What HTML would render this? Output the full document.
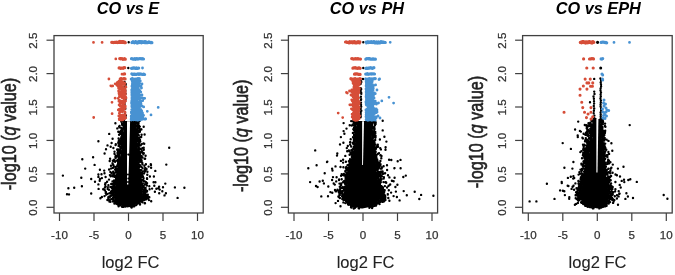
<!DOCTYPE html>
<html><head><meta charset="utf-8"><style>
html,body{margin:0;padding:0;background:#fff;width:675px;height:275px;overflow:hidden}
svg{display:block;filter:blur(0.5px)}
.tk{font-family:"Liberation Sans",sans-serif;font-size:11.6px;fill:#333;stroke:#333;stroke-width:0.25px}
.lb{font-family:"Liberation Sans",sans-serif;font-size:16.5px;fill:#222;stroke:#222;stroke-width:0.1px}
.yl{font-size:16.2px;stroke-width:0.5px}
.tt{font-family:"Liberation Sans",sans-serif;font-size:16.3px;font-weight:bold;font-style:italic;fill:#000}
</style></head><body>
<svg width="675" height="275" viewBox="0 0 675 275">
<rect width="675" height="275" fill="#fff"/>
<path d="M124.0,121.0 L122.8,140.0 L119.5,160.0 L118.0,170.0 L116.5,180.0 L115.0,188.0 L114.0,195.0 L114.5,200.0 L118.1,204.0 L123.5,206.5 L127.5,207.6 L127.5,207.6 L131.5,206.5 L136.5,204.0 L141.5,200.0 L143.0,195.0 L142.0,188.0 L140.0,180.0 L139.0,170.0 L138.5,160.0 L137.5,140.0 L136.5,121.0Z" fill="#000"/>
<path d="M356.5,121.0 L355.5,140.0 L353.0,155.0 L350.5,165.0 L348.5,175.0 L347.0,185.0 L342.5,195.0 L346.5,200.0 L351.5,205.0 L356.5,207.3 L361.5,208.4 L362.5,208.4 L368.5,207.3 L375.0,205.0 L379.5,200.0 L382.5,195.0 L378.5,185.0 L377.0,175.0 L376.0,165.0 L374.0,155.0 L372.0,140.0 L371.5,121.0Z" fill="#000"/>
<path d="M595.5,119.0 L594.0,134.0 L590.5,145.0 L588.0,160.0 L586.5,170.0 L582.5,185.0 L579.0,195.0 L581.0,200.0 L587.0,205.0 L592.5,207.5 L597.5,208.6 L597.0,208.6 L601.5,207.5 L604.5,205.0 L608.5,200.0 L609.5,195.0 L607.0,185.0 L604.0,170.0 L603.0,160.0 L602.5,145.0 L601.5,134.0 L600.5,119.0Z" fill="#000"/>
<path fill="#000" d="M127.5 42.3a1.20 1.20 0 1 0 2.40 0a1.20 1.20 0 1 0 -2.40 0M127.1 68.0a1.20 1.20 0 1 0 2.40 0a1.20 1.20 0 1 0 -2.40 0M123.3 82.0a1.20 1.20 0 1 0 2.40 0a1.20 1.20 0 1 0 -2.40 0M123.3 84.2a1.20 1.20 0 1 0 2.40 0a1.20 1.20 0 1 0 -2.40 0M124.5 84.0a1.20 1.20 0 1 0 2.40 0a1.20 1.20 0 1 0 -2.40 0M123.8 85.2a1.20 1.20 0 1 0 2.40 0a1.20 1.20 0 1 0 -2.40 0M124.5 84.8a1.20 1.20 0 1 0 2.40 0a1.20 1.20 0 1 0 -2.40 0M123.3 86.9a1.20 1.20 0 1 0 2.40 0a1.20 1.20 0 1 0 -2.40 0M123.2 88.2a1.20 1.20 0 1 0 2.40 0a1.20 1.20 0 1 0 -2.40 0M124.1 90.7a1.20 1.20 0 1 0 2.40 0a1.20 1.20 0 1 0 -2.40 0M123.3 93.3a1.20 1.20 0 1 0 2.40 0a1.20 1.20 0 1 0 -2.40 0M123.2 93.7a1.20 1.20 0 1 0 2.40 0a1.20 1.20 0 1 0 -2.40 0M124.3 93.7a1.20 1.20 0 1 0 2.40 0a1.20 1.20 0 1 0 -2.40 0M124.3 99.2a1.20 1.20 0 1 0 2.40 0a1.20 1.20 0 1 0 -2.40 0M123.3 101.9a1.20 1.20 0 1 0 2.40 0a1.20 1.20 0 1 0 -2.40 0M123.3 103.0a1.20 1.20 0 1 0 2.40 0a1.20 1.20 0 1 0 -2.40 0M123.6 105.3a1.20 1.20 0 1 0 2.40 0a1.20 1.20 0 1 0 -2.40 0M123.6 107.4a1.20 1.20 0 1 0 2.40 0a1.20 1.20 0 1 0 -2.40 0M123.8 109.1a1.20 1.20 0 1 0 2.40 0a1.20 1.20 0 1 0 -2.40 0M124.1 108.8a1.20 1.20 0 1 0 2.40 0a1.20 1.20 0 1 0 -2.40 0M123.8 112.7a1.20 1.20 0 1 0 2.40 0a1.20 1.20 0 1 0 -2.40 0M124.7 115.4a1.20 1.20 0 1 0 2.40 0a1.20 1.20 0 1 0 -2.40 0M123.7 116.8a1.20 1.20 0 1 0 2.40 0a1.20 1.20 0 1 0 -2.40 0M123.5 118.3a1.20 1.20 0 1 0 2.40 0a1.20 1.20 0 1 0 -2.40 0M124.4 117.7a1.20 1.20 0 1 0 2.40 0a1.20 1.20 0 1 0 -2.40 0M123.1 119.4a1.20 1.20 0 1 0 2.40 0a1.20 1.20 0 1 0 -2.40 0M138.6 120.7a1.20 1.20 0 1 0 2.40 0a1.20 1.20 0 1 0 -2.40 0M121.0 121.1a1.20 1.20 0 1 0 2.40 0a1.20 1.20 0 1 0 -2.40 0M122.6 120.6a1.20 1.20 0 1 0 2.40 0a1.20 1.20 0 1 0 -2.40 0M120.3 120.9a1.20 1.20 0 1 0 2.40 0a1.20 1.20 0 1 0 -2.40 0M135.9 121.1a1.20 1.20 0 1 0 2.40 0a1.20 1.20 0 1 0 -2.40 0M136.3 121.5a1.20 1.20 0 1 0 2.40 0a1.20 1.20 0 1 0 -2.40 0M137.6 121.7a1.20 1.20 0 1 0 2.40 0a1.20 1.20 0 1 0 -2.40 0M122.9 121.8a1.20 1.20 0 1 0 2.40 0a1.20 1.20 0 1 0 -2.40 0M120.0 121.5a1.20 1.20 0 1 0 2.40 0a1.20 1.20 0 1 0 -2.40 0M136.4 122.1a1.20 1.20 0 1 0 2.40 0a1.20 1.20 0 1 0 -2.40 0M135.7 121.7a1.20 1.20 0 1 0 2.40 0a1.20 1.20 0 1 0 -2.40 0M122.8 123.3a1.20 1.20 0 1 0 2.40 0a1.20 1.20 0 1 0 -2.40 0M122.6 122.7a1.20 1.20 0 1 0 2.40 0a1.20 1.20 0 1 0 -2.40 0M136.6 122.6a1.20 1.20 0 1 0 2.40 0a1.20 1.20 0 1 0 -2.40 0M137.4 123.1a1.20 1.20 0 1 0 2.40 0a1.20 1.20 0 1 0 -2.40 0M122.2 124.5a1.20 1.20 0 1 0 2.40 0a1.20 1.20 0 1 0 -2.40 0M120.9 123.8a1.20 1.20 0 1 0 2.40 0a1.20 1.20 0 1 0 -2.40 0M137.2 123.8a1.20 1.20 0 1 0 2.40 0a1.20 1.20 0 1 0 -2.40 0M135.6 123.5a1.20 1.20 0 1 0 2.40 0a1.20 1.20 0 1 0 -2.40 0M120.9 124.8a1.20 1.20 0 1 0 2.40 0a1.20 1.20 0 1 0 -2.40 0M136.7 125.0a1.20 1.20 0 1 0 2.40 0a1.20 1.20 0 1 0 -2.40 0M122.3 124.8a1.20 1.20 0 1 0 2.40 0a1.20 1.20 0 1 0 -2.40 0M121.7 125.4a1.20 1.20 0 1 0 2.40 0a1.20 1.20 0 1 0 -2.40 0M122.6 125.4a1.20 1.20 0 1 0 2.40 0a1.20 1.20 0 1 0 -2.40 0M136.7 125.0a1.20 1.20 0 1 0 2.40 0a1.20 1.20 0 1 0 -2.40 0M137.3 125.0a1.20 1.20 0 1 0 2.40 0a1.20 1.20 0 1 0 -2.40 0M122.3 125.6a1.20 1.20 0 1 0 2.40 0a1.20 1.20 0 1 0 -2.40 0M118.4 125.9a1.20 1.20 0 1 0 2.40 0a1.20 1.20 0 1 0 -2.40 0M135.7 126.0a1.20 1.20 0 1 0 2.40 0a1.20 1.20 0 1 0 -2.40 0M136.0 126.2a1.20 1.20 0 1 0 2.40 0a1.20 1.20 0 1 0 -2.40 0M138.4 126.8a1.20 1.20 0 1 0 2.40 0a1.20 1.20 0 1 0 -2.40 0M117.9 126.6a1.20 1.20 0 1 0 2.40 0a1.20 1.20 0 1 0 -2.40 0M118.2 127.2a1.20 1.20 0 1 0 2.40 0a1.20 1.20 0 1 0 -2.40 0M122.6 127.4a1.20 1.20 0 1 0 2.40 0a1.20 1.20 0 1 0 -2.40 0M136.6 126.6a1.20 1.20 0 1 0 2.40 0a1.20 1.20 0 1 0 -2.40 0M142.5 126.8a1.20 1.20 0 1 0 2.40 0a1.20 1.20 0 1 0 -2.40 0M138.6 126.6a1.20 1.20 0 1 0 2.40 0a1.20 1.20 0 1 0 -2.40 0M136.6 128.1a1.20 1.20 0 1 0 2.40 0a1.20 1.20 0 1 0 -2.40 0M120.8 128.4a1.20 1.20 0 1 0 2.40 0a1.20 1.20 0 1 0 -2.40 0M120.2 128.0a1.20 1.20 0 1 0 2.40 0a1.20 1.20 0 1 0 -2.40 0M136.6 127.7a1.20 1.20 0 1 0 2.40 0a1.20 1.20 0 1 0 -2.40 0M136.6 127.9a1.20 1.20 0 1 0 2.40 0a1.20 1.20 0 1 0 -2.40 0M136.5 127.7a1.20 1.20 0 1 0 2.40 0a1.20 1.20 0 1 0 -2.40 0M138.2 128.6a1.20 1.20 0 1 0 2.40 0a1.20 1.20 0 1 0 -2.40 0M121.3 129.5a1.20 1.20 0 1 0 2.40 0a1.20 1.20 0 1 0 -2.40 0M121.3 128.6a1.20 1.20 0 1 0 2.40 0a1.20 1.20 0 1 0 -2.40 0M122.0 128.8a1.20 1.20 0 1 0 2.40 0a1.20 1.20 0 1 0 -2.40 0M139.9 129.5a1.20 1.20 0 1 0 2.40 0a1.20 1.20 0 1 0 -2.40 0M140.2 129.4a1.20 1.20 0 1 0 2.40 0a1.20 1.20 0 1 0 -2.40 0M121.5 130.1a1.20 1.20 0 1 0 2.40 0a1.20 1.20 0 1 0 -2.40 0M120.7 130.1a1.20 1.20 0 1 0 2.40 0a1.20 1.20 0 1 0 -2.40 0M121.0 130.4a1.20 1.20 0 1 0 2.40 0a1.20 1.20 0 1 0 -2.40 0M136.6 130.5a1.20 1.20 0 1 0 2.40 0a1.20 1.20 0 1 0 -2.40 0M135.5 129.6a1.20 1.20 0 1 0 2.40 0a1.20 1.20 0 1 0 -2.40 0M138.7 130.5a1.20 1.20 0 1 0 2.40 0a1.20 1.20 0 1 0 -2.40 0M121.2 131.3a1.20 1.20 0 1 0 2.40 0a1.20 1.20 0 1 0 -2.40 0M121.1 131.3a1.20 1.20 0 1 0 2.40 0a1.20 1.20 0 1 0 -2.40 0M119.8 130.5a1.20 1.20 0 1 0 2.40 0a1.20 1.20 0 1 0 -2.40 0M138.1 131.5a1.20 1.20 0 1 0 2.40 0a1.20 1.20 0 1 0 -2.40 0M138.4 130.9a1.20 1.20 0 1 0 2.40 0a1.20 1.20 0 1 0 -2.40 0M136.2 130.8a1.20 1.20 0 1 0 2.40 0a1.20 1.20 0 1 0 -2.40 0M117.1 131.8a1.20 1.20 0 1 0 2.40 0a1.20 1.20 0 1 0 -2.40 0M138.7 131.8a1.20 1.20 0 1 0 2.40 0a1.20 1.20 0 1 0 -2.40 0M121.4 131.7a1.20 1.20 0 1 0 2.40 0a1.20 1.20 0 1 0 -2.40 0M119.0 131.7a1.20 1.20 0 1 0 2.40 0a1.20 1.20 0 1 0 -2.40 0M136.0 132.0a1.20 1.20 0 1 0 2.40 0a1.20 1.20 0 1 0 -2.40 0M138.0 131.8a1.20 1.20 0 1 0 2.40 0a1.20 1.20 0 1 0 -2.40 0M136.0 132.2a1.20 1.20 0 1 0 2.40 0a1.20 1.20 0 1 0 -2.40 0M119.1 132.8a1.20 1.20 0 1 0 2.40 0a1.20 1.20 0 1 0 -2.40 0M121.9 132.8a1.20 1.20 0 1 0 2.40 0a1.20 1.20 0 1 0 -2.40 0M121.7 133.2a1.20 1.20 0 1 0 2.40 0a1.20 1.20 0 1 0 -2.40 0M120.5 133.3a1.20 1.20 0 1 0 2.40 0a1.20 1.20 0 1 0 -2.40 0M135.8 133.3a1.20 1.20 0 1 0 2.40 0a1.20 1.20 0 1 0 -2.40 0M136.1 132.7a1.20 1.20 0 1 0 2.40 0a1.20 1.20 0 1 0 -2.40 0M108.0 133.9a1.20 1.20 0 1 0 2.40 0a1.20 1.20 0 1 0 -2.40 0M143.4 134.5a1.20 1.20 0 1 0 2.40 0a1.20 1.20 0 1 0 -2.40 0M122.0 134.3a1.20 1.20 0 1 0 2.40 0a1.20 1.20 0 1 0 -2.40 0M119.8 133.8a1.20 1.20 0 1 0 2.40 0a1.20 1.20 0 1 0 -2.40 0M119.8 133.9a1.20 1.20 0 1 0 2.40 0a1.20 1.20 0 1 0 -2.40 0M137.1 134.2a1.20 1.20 0 1 0 2.40 0a1.20 1.20 0 1 0 -2.40 0M136.7 134.3a1.20 1.20 0 1 0 2.40 0a1.20 1.20 0 1 0 -2.40 0M135.7 134.0a1.20 1.20 0 1 0 2.40 0a1.20 1.20 0 1 0 -2.40 0M120.8 135.4a1.20 1.20 0 1 0 2.40 0a1.20 1.20 0 1 0 -2.40 0M137.6 135.4a1.20 1.20 0 1 0 2.40 0a1.20 1.20 0 1 0 -2.40 0M117.9 134.8a1.20 1.20 0 1 0 2.40 0a1.20 1.20 0 1 0 -2.40 0M117.9 134.6a1.20 1.20 0 1 0 2.40 0a1.20 1.20 0 1 0 -2.40 0M140.4 134.7a1.20 1.20 0 1 0 2.40 0a1.20 1.20 0 1 0 -2.40 0M136.0 135.2a1.20 1.20 0 1 0 2.40 0a1.20 1.20 0 1 0 -2.40 0M121.2 135.9a1.20 1.20 0 1 0 2.40 0a1.20 1.20 0 1 0 -2.40 0M121.9 135.8a1.20 1.20 0 1 0 2.40 0a1.20 1.20 0 1 0 -2.40 0M135.9 135.7a1.20 1.20 0 1 0 2.40 0a1.20 1.20 0 1 0 -2.40 0M136.5 135.5a1.20 1.20 0 1 0 2.40 0a1.20 1.20 0 1 0 -2.40 0M120.3 136.6a1.20 1.20 0 1 0 2.40 0a1.20 1.20 0 1 0 -2.40 0M139.3 137.1a1.20 1.20 0 1 0 2.40 0a1.20 1.20 0 1 0 -2.40 0M120.9 137.4a1.20 1.20 0 1 0 2.40 0a1.20 1.20 0 1 0 -2.40 0M122.0 136.7a1.20 1.20 0 1 0 2.40 0a1.20 1.20 0 1 0 -2.40 0M136.4 137.3a1.20 1.20 0 1 0 2.40 0a1.20 1.20 0 1 0 -2.40 0M140.0 137.0a1.20 1.20 0 1 0 2.40 0a1.20 1.20 0 1 0 -2.40 0M136.1 136.8a1.20 1.20 0 1 0 2.40 0a1.20 1.20 0 1 0 -2.40 0M119.8 138.3a1.20 1.20 0 1 0 2.40 0a1.20 1.20 0 1 0 -2.40 0M120.5 138.3a1.20 1.20 0 1 0 2.40 0a1.20 1.20 0 1 0 -2.40 0M121.0 137.7a1.20 1.20 0 1 0 2.40 0a1.20 1.20 0 1 0 -2.40 0M117.4 138.5a1.20 1.20 0 1 0 2.40 0a1.20 1.20 0 1 0 -2.40 0M138.2 137.9a1.20 1.20 0 1 0 2.40 0a1.20 1.20 0 1 0 -2.40 0M136.0 137.7a1.20 1.20 0 1 0 2.40 0a1.20 1.20 0 1 0 -2.40 0M136.2 138.2a1.20 1.20 0 1 0 2.40 0a1.20 1.20 0 1 0 -2.40 0M120.7 138.7a1.20 1.20 0 1 0 2.40 0a1.20 1.20 0 1 0 -2.40 0M120.3 139.0a1.20 1.20 0 1 0 2.40 0a1.20 1.20 0 1 0 -2.40 0M121.6 138.5a1.20 1.20 0 1 0 2.40 0a1.20 1.20 0 1 0 -2.40 0M121.4 138.5a1.20 1.20 0 1 0 2.40 0a1.20 1.20 0 1 0 -2.40 0M137.5 138.9a1.20 1.20 0 1 0 2.40 0a1.20 1.20 0 1 0 -2.40 0M137.0 139.1a1.20 1.20 0 1 0 2.40 0a1.20 1.20 0 1 0 -2.40 0M136.6 138.9a1.20 1.20 0 1 0 2.40 0a1.20 1.20 0 1 0 -2.40 0M138.8 140.0a1.20 1.20 0 1 0 2.40 0a1.20 1.20 0 1 0 -2.40 0M121.3 140.4a1.20 1.20 0 1 0 2.40 0a1.20 1.20 0 1 0 -2.40 0M121.5 140.4a1.20 1.20 0 1 0 2.40 0a1.20 1.20 0 1 0 -2.40 0M118.8 140.4a1.20 1.20 0 1 0 2.40 0a1.20 1.20 0 1 0 -2.40 0M137.1 140.5a1.20 1.20 0 1 0 2.40 0a1.20 1.20 0 1 0 -2.40 0M136.5 139.7a1.20 1.20 0 1 0 2.40 0a1.20 1.20 0 1 0 -2.40 0M138.1 139.7a1.20 1.20 0 1 0 2.40 0a1.20 1.20 0 1 0 -2.40 0M120.0 141.4a1.20 1.20 0 1 0 2.40 0a1.20 1.20 0 1 0 -2.40 0M137.6 141.2a1.20 1.20 0 1 0 2.40 0a1.20 1.20 0 1 0 -2.40 0M120.4 141.0a1.20 1.20 0 1 0 2.40 0a1.20 1.20 0 1 0 -2.40 0M117.6 141.0a1.20 1.20 0 1 0 2.40 0a1.20 1.20 0 1 0 -2.40 0M121.0 140.5a1.20 1.20 0 1 0 2.40 0a1.20 1.20 0 1 0 -2.40 0M136.6 141.1a1.20 1.20 0 1 0 2.40 0a1.20 1.20 0 1 0 -2.40 0M137.6 141.0a1.20 1.20 0 1 0 2.40 0a1.20 1.20 0 1 0 -2.40 0M136.2 141.0a1.20 1.20 0 1 0 2.40 0a1.20 1.20 0 1 0 -2.40 0M117.1 142.5a1.20 1.20 0 1 0 2.40 0a1.20 1.20 0 1 0 -2.40 0M139.1 141.6a1.20 1.20 0 1 0 2.40 0a1.20 1.20 0 1 0 -2.40 0M121.1 142.3a1.20 1.20 0 1 0 2.40 0a1.20 1.20 0 1 0 -2.40 0M119.0 141.8a1.20 1.20 0 1 0 2.40 0a1.20 1.20 0 1 0 -2.40 0M137.2 141.9a1.20 1.20 0 1 0 2.40 0a1.20 1.20 0 1 0 -2.40 0M137.4 142.4a1.20 1.20 0 1 0 2.40 0a1.20 1.20 0 1 0 -2.40 0M118.1 142.8a1.20 1.20 0 1 0 2.40 0a1.20 1.20 0 1 0 -2.40 0M120.7 142.7a1.20 1.20 0 1 0 2.40 0a1.20 1.20 0 1 0 -2.40 0M121.0 143.3a1.20 1.20 0 1 0 2.40 0a1.20 1.20 0 1 0 -2.40 0M142.3 143.4a1.20 1.20 0 1 0 2.40 0a1.20 1.20 0 1 0 -2.40 0M138.0 143.3a1.20 1.20 0 1 0 2.40 0a1.20 1.20 0 1 0 -2.40 0M114.6 144.3a1.20 1.20 0 1 0 2.40 0a1.20 1.20 0 1 0 -2.40 0M143.0 143.8a1.20 1.20 0 1 0 2.40 0a1.20 1.20 0 1 0 -2.40 0M117.2 143.5a1.20 1.20 0 1 0 2.40 0a1.20 1.20 0 1 0 -2.40 0M120.1 143.8a1.20 1.20 0 1 0 2.40 0a1.20 1.20 0 1 0 -2.40 0M118.7 144.1a1.20 1.20 0 1 0 2.40 0a1.20 1.20 0 1 0 -2.40 0M140.5 144.1a1.20 1.20 0 1 0 2.40 0a1.20 1.20 0 1 0 -2.40 0M136.3 144.2a1.20 1.20 0 1 0 2.40 0a1.20 1.20 0 1 0 -2.40 0M106.3 145.4a1.20 1.20 0 1 0 2.40 0a1.20 1.20 0 1 0 -2.40 0M138.1 145.2a1.20 1.20 0 1 0 2.40 0a1.20 1.20 0 1 0 -2.40 0M114.4 145.1a1.20 1.20 0 1 0 2.40 0a1.20 1.20 0 1 0 -2.40 0M120.9 145.2a1.20 1.20 0 1 0 2.40 0a1.20 1.20 0 1 0 -2.40 0M139.5 145.3a1.20 1.20 0 1 0 2.40 0a1.20 1.20 0 1 0 -2.40 0M138.7 145.4a1.20 1.20 0 1 0 2.40 0a1.20 1.20 0 1 0 -2.40 0M137.6 145.4a1.20 1.20 0 1 0 2.40 0a1.20 1.20 0 1 0 -2.40 0M117.4 145.9a1.20 1.20 0 1 0 2.40 0a1.20 1.20 0 1 0 -2.40 0M137.6 145.7a1.20 1.20 0 1 0 2.40 0a1.20 1.20 0 1 0 -2.40 0M120.5 146.2a1.20 1.20 0 1 0 2.40 0a1.20 1.20 0 1 0 -2.40 0M118.5 146.2a1.20 1.20 0 1 0 2.40 0a1.20 1.20 0 1 0 -2.40 0M136.9 145.8a1.20 1.20 0 1 0 2.40 0a1.20 1.20 0 1 0 -2.40 0M136.6 146.1a1.20 1.20 0 1 0 2.40 0a1.20 1.20 0 1 0 -2.40 0M109.5 146.8a1.20 1.20 0 1 0 2.40 0a1.20 1.20 0 1 0 -2.40 0M120.2 147.5a1.20 1.20 0 1 0 2.40 0a1.20 1.20 0 1 0 -2.40 0M119.2 147.5a1.20 1.20 0 1 0 2.40 0a1.20 1.20 0 1 0 -2.40 0M137.0 146.8a1.20 1.20 0 1 0 2.40 0a1.20 1.20 0 1 0 -2.40 0M137.5 147.0a1.20 1.20 0 1 0 2.40 0a1.20 1.20 0 1 0 -2.40 0M112.2 148.0a1.20 1.20 0 1 0 2.40 0a1.20 1.20 0 1 0 -2.40 0M142.5 147.7a1.20 1.20 0 1 0 2.40 0a1.20 1.20 0 1 0 -2.40 0M119.2 147.7a1.20 1.20 0 1 0 2.40 0a1.20 1.20 0 1 0 -2.40 0M119.9 147.6a1.20 1.20 0 1 0 2.40 0a1.20 1.20 0 1 0 -2.40 0M120.5 147.9a1.20 1.20 0 1 0 2.40 0a1.20 1.20 0 1 0 -2.40 0M141.2 148.1a1.20 1.20 0 1 0 2.40 0a1.20 1.20 0 1 0 -2.40 0M137.3 147.9a1.20 1.20 0 1 0 2.40 0a1.20 1.20 0 1 0 -2.40 0M116.9 149.5a1.20 1.20 0 1 0 2.40 0a1.20 1.20 0 1 0 -2.40 0M139.7 149.2a1.20 1.20 0 1 0 2.40 0a1.20 1.20 0 1 0 -2.40 0M119.1 149.1a1.20 1.20 0 1 0 2.40 0a1.20 1.20 0 1 0 -2.40 0M116.0 149.4a1.20 1.20 0 1 0 2.40 0a1.20 1.20 0 1 0 -2.40 0M137.7 149.5a1.20 1.20 0 1 0 2.40 0a1.20 1.20 0 1 0 -2.40 0M137.7 148.7a1.20 1.20 0 1 0 2.40 0a1.20 1.20 0 1 0 -2.40 0M138.8 148.6a1.20 1.20 0 1 0 2.40 0a1.20 1.20 0 1 0 -2.40 0M116.0 149.8a1.20 1.20 0 1 0 2.40 0a1.20 1.20 0 1 0 -2.40 0M142.6 149.8a1.20 1.20 0 1 0 2.40 0a1.20 1.20 0 1 0 -2.40 0M118.6 150.2a1.20 1.20 0 1 0 2.40 0a1.20 1.20 0 1 0 -2.40 0M119.3 149.9a1.20 1.20 0 1 0 2.40 0a1.20 1.20 0 1 0 -2.40 0M137.5 150.5a1.20 1.20 0 1 0 2.40 0a1.20 1.20 0 1 0 -2.40 0M140.0 149.6a1.20 1.20 0 1 0 2.40 0a1.20 1.20 0 1 0 -2.40 0M136.6 149.8a1.20 1.20 0 1 0 2.40 0a1.20 1.20 0 1 0 -2.40 0M116.7 150.6a1.20 1.20 0 1 0 2.40 0a1.20 1.20 0 1 0 -2.40 0M141.0 151.2a1.20 1.20 0 1 0 2.40 0a1.20 1.20 0 1 0 -2.40 0M118.4 151.2a1.20 1.20 0 1 0 2.40 0a1.20 1.20 0 1 0 -2.40 0M118.6 150.5a1.20 1.20 0 1 0 2.40 0a1.20 1.20 0 1 0 -2.40 0M118.1 150.6a1.20 1.20 0 1 0 2.40 0a1.20 1.20 0 1 0 -2.40 0M137.6 150.5a1.20 1.20 0 1 0 2.40 0a1.20 1.20 0 1 0 -2.40 0M136.7 150.9a1.20 1.20 0 1 0 2.40 0a1.20 1.20 0 1 0 -2.40 0M137.6 150.6a1.20 1.20 0 1 0 2.40 0a1.20 1.20 0 1 0 -2.40 0M140.4 152.1a1.20 1.20 0 1 0 2.40 0a1.20 1.20 0 1 0 -2.40 0M113.3 151.6a1.20 1.20 0 1 0 2.40 0a1.20 1.20 0 1 0 -2.40 0M119.3 151.7a1.20 1.20 0 1 0 2.40 0a1.20 1.20 0 1 0 -2.40 0M116.7 152.0a1.20 1.20 0 1 0 2.40 0a1.20 1.20 0 1 0 -2.40 0M137.4 152.4a1.20 1.20 0 1 0 2.40 0a1.20 1.20 0 1 0 -2.40 0M137.1 152.3a1.20 1.20 0 1 0 2.40 0a1.20 1.20 0 1 0 -2.40 0M138.6 151.9a1.20 1.20 0 1 0 2.40 0a1.20 1.20 0 1 0 -2.40 0M116.3 153.0a1.20 1.20 0 1 0 2.40 0a1.20 1.20 0 1 0 -2.40 0M141.7 152.9a1.20 1.20 0 1 0 2.40 0a1.20 1.20 0 1 0 -2.40 0M117.4 153.0a1.20 1.20 0 1 0 2.40 0a1.20 1.20 0 1 0 -2.40 0M118.7 153.4a1.20 1.20 0 1 0 2.40 0a1.20 1.20 0 1 0 -2.40 0M118.8 152.9a1.20 1.20 0 1 0 2.40 0a1.20 1.20 0 1 0 -2.40 0M142.6 153.3a1.20 1.20 0 1 0 2.40 0a1.20 1.20 0 1 0 -2.40 0M137.5 153.2a1.20 1.20 0 1 0 2.40 0a1.20 1.20 0 1 0 -2.40 0M117.0 154.2a1.20 1.20 0 1 0 2.40 0a1.20 1.20 0 1 0 -2.40 0M142.2 154.2a1.20 1.20 0 1 0 2.40 0a1.20 1.20 0 1 0 -2.40 0M117.9 153.7a1.20 1.20 0 1 0 2.40 0a1.20 1.20 0 1 0 -2.40 0M117.2 154.0a1.20 1.20 0 1 0 2.40 0a1.20 1.20 0 1 0 -2.40 0M113.3 153.8a1.20 1.20 0 1 0 2.40 0a1.20 1.20 0 1 0 -2.40 0M136.7 153.9a1.20 1.20 0 1 0 2.40 0a1.20 1.20 0 1 0 -2.40 0M139.0 153.8a1.20 1.20 0 1 0 2.40 0a1.20 1.20 0 1 0 -2.40 0M117.2 154.9a1.20 1.20 0 1 0 2.40 0a1.20 1.20 0 1 0 -2.40 0M138.9 155.4a1.20 1.20 0 1 0 2.40 0a1.20 1.20 0 1 0 -2.40 0M118.0 155.3a1.20 1.20 0 1 0 2.40 0a1.20 1.20 0 1 0 -2.40 0M116.5 154.9a1.20 1.20 0 1 0 2.40 0a1.20 1.20 0 1 0 -2.40 0M118.0 155.2a1.20 1.20 0 1 0 2.40 0a1.20 1.20 0 1 0 -2.40 0M138.9 155.1a1.20 1.20 0 1 0 2.40 0a1.20 1.20 0 1 0 -2.40 0M137.2 155.2a1.20 1.20 0 1 0 2.40 0a1.20 1.20 0 1 0 -2.40 0M114.8 156.5a1.20 1.20 0 1 0 2.40 0a1.20 1.20 0 1 0 -2.40 0M144.4 155.8a1.20 1.20 0 1 0 2.40 0a1.20 1.20 0 1 0 -2.40 0M114.5 155.8a1.20 1.20 0 1 0 2.40 0a1.20 1.20 0 1 0 -2.40 0M117.9 156.0a1.20 1.20 0 1 0 2.40 0a1.20 1.20 0 1 0 -2.40 0M137.1 156.1a1.20 1.20 0 1 0 2.40 0a1.20 1.20 0 1 0 -2.40 0M140.4 156.2a1.20 1.20 0 1 0 2.40 0a1.20 1.20 0 1 0 -2.40 0M137.3 156.3a1.20 1.20 0 1 0 2.40 0a1.20 1.20 0 1 0 -2.40 0M117.2 157.1a1.20 1.20 0 1 0 2.40 0a1.20 1.20 0 1 0 -2.40 0M141.3 157.5a1.20 1.20 0 1 0 2.40 0a1.20 1.20 0 1 0 -2.40 0M114.2 156.9a1.20 1.20 0 1 0 2.40 0a1.20 1.20 0 1 0 -2.40 0M116.8 156.6a1.20 1.20 0 1 0 2.40 0a1.20 1.20 0 1 0 -2.40 0M138.7 157.2a1.20 1.20 0 1 0 2.40 0a1.20 1.20 0 1 0 -2.40 0M139.7 156.9a1.20 1.20 0 1 0 2.40 0a1.20 1.20 0 1 0 -2.40 0M137.4 156.9a1.20 1.20 0 1 0 2.40 0a1.20 1.20 0 1 0 -2.40 0M117.6 157.9a1.20 1.20 0 1 0 2.40 0a1.20 1.20 0 1 0 -2.40 0M138.8 157.8a1.20 1.20 0 1 0 2.40 0a1.20 1.20 0 1 0 -2.40 0M114.6 157.7a1.20 1.20 0 1 0 2.40 0a1.20 1.20 0 1 0 -2.40 0M118.6 157.6a1.20 1.20 0 1 0 2.40 0a1.20 1.20 0 1 0 -2.40 0M139.4 158.2a1.20 1.20 0 1 0 2.40 0a1.20 1.20 0 1 0 -2.40 0M137.4 158.0a1.20 1.20 0 1 0 2.40 0a1.20 1.20 0 1 0 -2.40 0M138.8 157.5a1.20 1.20 0 1 0 2.40 0a1.20 1.20 0 1 0 -2.40 0M108.9 158.7a1.20 1.20 0 1 0 2.40 0a1.20 1.20 0 1 0 -2.40 0M143.5 158.8a1.20 1.20 0 1 0 2.40 0a1.20 1.20 0 1 0 -2.40 0M118.4 159.0a1.20 1.20 0 1 0 2.40 0a1.20 1.20 0 1 0 -2.40 0M118.2 158.9a1.20 1.20 0 1 0 2.40 0a1.20 1.20 0 1 0 -2.40 0M138.3 159.1a1.20 1.20 0 1 0 2.40 0a1.20 1.20 0 1 0 -2.40 0M143.9 158.7a1.20 1.20 0 1 0 2.40 0a1.20 1.20 0 1 0 -2.40 0M113.0 159.7a1.20 1.20 0 1 0 2.40 0a1.20 1.20 0 1 0 -2.40 0M140.1 159.9a1.20 1.20 0 1 0 2.40 0a1.20 1.20 0 1 0 -2.40 0M115.8 160.4a1.20 1.20 0 1 0 2.40 0a1.20 1.20 0 1 0 -2.40 0M116.8 159.7a1.20 1.20 0 1 0 2.40 0a1.20 1.20 0 1 0 -2.40 0M117.9 160.2a1.20 1.20 0 1 0 2.40 0a1.20 1.20 0 1 0 -2.40 0M140.4 160.4a1.20 1.20 0 1 0 2.40 0a1.20 1.20 0 1 0 -2.40 0M137.4 159.9a1.20 1.20 0 1 0 2.40 0a1.20 1.20 0 1 0 -2.40 0M137.4 160.2a1.20 1.20 0 1 0 2.40 0a1.20 1.20 0 1 0 -2.40 0M111.6 160.6a1.20 1.20 0 1 0 2.40 0a1.20 1.20 0 1 0 -2.40 0M108.5 161.0a1.20 1.20 0 1 0 2.40 0a1.20 1.20 0 1 0 -2.40 0M138.7 160.5a1.20 1.20 0 1 0 2.40 0a1.20 1.20 0 1 0 -2.40 0M111.8 161.1a1.20 1.20 0 1 0 2.40 0a1.20 1.20 0 1 0 -2.40 0M115.3 160.6a1.20 1.20 0 1 0 2.40 0a1.20 1.20 0 1 0 -2.40 0M118.3 160.5a1.20 1.20 0 1 0 2.40 0a1.20 1.20 0 1 0 -2.40 0M137.4 160.8a1.20 1.20 0 1 0 2.40 0a1.20 1.20 0 1 0 -2.40 0M138.8 161.2a1.20 1.20 0 1 0 2.40 0a1.20 1.20 0 1 0 -2.40 0M113.9 161.8a1.20 1.20 0 1 0 2.40 0a1.20 1.20 0 1 0 -2.40 0M140.5 161.9a1.20 1.20 0 1 0 2.40 0a1.20 1.20 0 1 0 -2.40 0M117.7 161.8a1.20 1.20 0 1 0 2.40 0a1.20 1.20 0 1 0 -2.40 0M118.3 161.8a1.20 1.20 0 1 0 2.40 0a1.20 1.20 0 1 0 -2.40 0M116.9 161.8a1.20 1.20 0 1 0 2.40 0a1.20 1.20 0 1 0 -2.40 0M140.1 162.0a1.20 1.20 0 1 0 2.40 0a1.20 1.20 0 1 0 -2.40 0M138.2 161.8a1.20 1.20 0 1 0 2.40 0a1.20 1.20 0 1 0 -2.40 0M140.6 162.3a1.20 1.20 0 1 0 2.40 0a1.20 1.20 0 1 0 -2.40 0M111.3 163.2a1.20 1.20 0 1 0 2.40 0a1.20 1.20 0 1 0 -2.40 0M141.1 162.9a1.20 1.20 0 1 0 2.40 0a1.20 1.20 0 1 0 -2.40 0M117.1 163.0a1.20 1.20 0 1 0 2.40 0a1.20 1.20 0 1 0 -2.40 0M116.9 163.3a1.20 1.20 0 1 0 2.40 0a1.20 1.20 0 1 0 -2.40 0M137.6 162.5a1.20 1.20 0 1 0 2.40 0a1.20 1.20 0 1 0 -2.40 0M137.7 162.5a1.20 1.20 0 1 0 2.40 0a1.20 1.20 0 1 0 -2.40 0M111.5 163.8a1.20 1.20 0 1 0 2.40 0a1.20 1.20 0 1 0 -2.40 0M149.6 164.3a1.20 1.20 0 1 0 2.40 0a1.20 1.20 0 1 0 -2.40 0M144.7 164.2a1.20 1.20 0 1 0 2.40 0a1.20 1.20 0 1 0 -2.40 0M117.0 163.9a1.20 1.20 0 1 0 2.40 0a1.20 1.20 0 1 0 -2.40 0M116.7 164.4a1.20 1.20 0 1 0 2.40 0a1.20 1.20 0 1 0 -2.40 0M141.2 164.3a1.20 1.20 0 1 0 2.40 0a1.20 1.20 0 1 0 -2.40 0M137.3 163.7a1.20 1.20 0 1 0 2.40 0a1.20 1.20 0 1 0 -2.40 0M112.1 165.0a1.20 1.20 0 1 0 2.40 0a1.20 1.20 0 1 0 -2.40 0M149.8 165.0a1.20 1.20 0 1 0 2.40 0a1.20 1.20 0 1 0 -2.40 0M165.1 164.6a1.20 1.20 0 1 0 2.40 0a1.20 1.20 0 1 0 -2.40 0M117.8 164.6a1.20 1.20 0 1 0 2.40 0a1.20 1.20 0 1 0 -2.40 0M117.1 165.1a1.20 1.20 0 1 0 2.40 0a1.20 1.20 0 1 0 -2.40 0M138.6 165.4a1.20 1.20 0 1 0 2.40 0a1.20 1.20 0 1 0 -2.40 0M138.2 165.3a1.20 1.20 0 1 0 2.40 0a1.20 1.20 0 1 0 -2.40 0M138.7 165.1a1.20 1.20 0 1 0 2.40 0a1.20 1.20 0 1 0 -2.40 0M112.8 166.4a1.20 1.20 0 1 0 2.40 0a1.20 1.20 0 1 0 -2.40 0M109.8 165.7a1.20 1.20 0 1 0 2.40 0a1.20 1.20 0 1 0 -2.40 0M143.2 165.8a1.20 1.20 0 1 0 2.40 0a1.20 1.20 0 1 0 -2.40 0M116.1 165.5a1.20 1.20 0 1 0 2.40 0a1.20 1.20 0 1 0 -2.40 0M117.3 166.2a1.20 1.20 0 1 0 2.40 0a1.20 1.20 0 1 0 -2.40 0M137.4 166.3a1.20 1.20 0 1 0 2.40 0a1.20 1.20 0 1 0 -2.40 0M138.0 166.5a1.20 1.20 0 1 0 2.40 0a1.20 1.20 0 1 0 -2.40 0M138.6 165.6a1.20 1.20 0 1 0 2.40 0a1.20 1.20 0 1 0 -2.40 0M114.4 167.3a1.20 1.20 0 1 0 2.40 0a1.20 1.20 0 1 0 -2.40 0M147.4 166.6a1.20 1.20 0 1 0 2.40 0a1.20 1.20 0 1 0 -2.40 0M115.0 166.6a1.20 1.20 0 1 0 2.40 0a1.20 1.20 0 1 0 -2.40 0M117.2 166.5a1.20 1.20 0 1 0 2.40 0a1.20 1.20 0 1 0 -2.40 0M117.3 167.0a1.20 1.20 0 1 0 2.40 0a1.20 1.20 0 1 0 -2.40 0M138.0 166.8a1.20 1.20 0 1 0 2.40 0a1.20 1.20 0 1 0 -2.40 0M140.2 166.7a1.20 1.20 0 1 0 2.40 0a1.20 1.20 0 1 0 -2.40 0M110.0 168.4a1.20 1.20 0 1 0 2.40 0a1.20 1.20 0 1 0 -2.40 0M144.0 167.9a1.20 1.20 0 1 0 2.40 0a1.20 1.20 0 1 0 -2.40 0M149.9 167.8a1.20 1.20 0 1 0 2.40 0a1.20 1.20 0 1 0 -2.40 0M117.1 168.0a1.20 1.20 0 1 0 2.40 0a1.20 1.20 0 1 0 -2.40 0M111.9 167.7a1.20 1.20 0 1 0 2.40 0a1.20 1.20 0 1 0 -2.40 0M141.4 168.2a1.20 1.20 0 1 0 2.40 0a1.20 1.20 0 1 0 -2.40 0M137.5 167.7a1.20 1.20 0 1 0 2.40 0a1.20 1.20 0 1 0 -2.40 0M137.8 167.8a1.20 1.20 0 1 0 2.40 0a1.20 1.20 0 1 0 -2.40 0M107.9 169.5a1.20 1.20 0 1 0 2.40 0a1.20 1.20 0 1 0 -2.40 0M145.3 168.9a1.20 1.20 0 1 0 2.40 0a1.20 1.20 0 1 0 -2.40 0M116.2 168.6a1.20 1.20 0 1 0 2.40 0a1.20 1.20 0 1 0 -2.40 0M116.2 168.9a1.20 1.20 0 1 0 2.40 0a1.20 1.20 0 1 0 -2.40 0M137.5 168.5a1.20 1.20 0 1 0 2.40 0a1.20 1.20 0 1 0 -2.40 0M144.0 168.9a1.20 1.20 0 1 0 2.40 0a1.20 1.20 0 1 0 -2.40 0M114.8 170.1a1.20 1.20 0 1 0 2.40 0a1.20 1.20 0 1 0 -2.40 0M98.7 169.7a1.20 1.20 0 1 0 2.40 0a1.20 1.20 0 1 0 -2.40 0M143.5 170.3a1.20 1.20 0 1 0 2.40 0a1.20 1.20 0 1 0 -2.40 0M144.5 169.7a1.20 1.20 0 1 0 2.40 0a1.20 1.20 0 1 0 -2.40 0M115.0 169.6a1.20 1.20 0 1 0 2.40 0a1.20 1.20 0 1 0 -2.40 0M113.9 169.5a1.20 1.20 0 1 0 2.40 0a1.20 1.20 0 1 0 -2.40 0M116.8 170.0a1.20 1.20 0 1 0 2.40 0a1.20 1.20 0 1 0 -2.40 0M139.0 170.2a1.20 1.20 0 1 0 2.40 0a1.20 1.20 0 1 0 -2.40 0M139.8 170.2a1.20 1.20 0 1 0 2.40 0a1.20 1.20 0 1 0 -2.40 0M103.0 170.6a1.20 1.20 0 1 0 2.40 0a1.20 1.20 0 1 0 -2.40 0M114.5 170.5a1.20 1.20 0 1 0 2.40 0a1.20 1.20 0 1 0 -2.40 0M154.1 170.9a1.20 1.20 0 1 0 2.40 0a1.20 1.20 0 1 0 -2.40 0M139.5 170.5a1.20 1.20 0 1 0 2.40 0a1.20 1.20 0 1 0 -2.40 0M115.5 171.4a1.20 1.20 0 1 0 2.40 0a1.20 1.20 0 1 0 -2.40 0M116.9 170.6a1.20 1.20 0 1 0 2.40 0a1.20 1.20 0 1 0 -2.40 0M137.9 170.6a1.20 1.20 0 1 0 2.40 0a1.20 1.20 0 1 0 -2.40 0M138.0 171.1a1.20 1.20 0 1 0 2.40 0a1.20 1.20 0 1 0 -2.40 0M137.9 170.7a1.20 1.20 0 1 0 2.40 0a1.20 1.20 0 1 0 -2.40 0M112.0 171.6a1.20 1.20 0 1 0 2.40 0a1.20 1.20 0 1 0 -2.40 0M109.2 172.0a1.20 1.20 0 1 0 2.40 0a1.20 1.20 0 1 0 -2.40 0M143.8 171.5a1.20 1.20 0 1 0 2.40 0a1.20 1.20 0 1 0 -2.40 0M146.2 171.7a1.20 1.20 0 1 0 2.40 0a1.20 1.20 0 1 0 -2.40 0M116.8 172.4a1.20 1.20 0 1 0 2.40 0a1.20 1.20 0 1 0 -2.40 0M115.4 171.9a1.20 1.20 0 1 0 2.40 0a1.20 1.20 0 1 0 -2.40 0M115.6 172.4a1.20 1.20 0 1 0 2.40 0a1.20 1.20 0 1 0 -2.40 0M138.5 172.2a1.20 1.20 0 1 0 2.40 0a1.20 1.20 0 1 0 -2.40 0M138.4 172.2a1.20 1.20 0 1 0 2.40 0a1.20 1.20 0 1 0 -2.40 0M141.5 171.5a1.20 1.20 0 1 0 2.40 0a1.20 1.20 0 1 0 -2.40 0M112.7 173.3a1.20 1.20 0 1 0 2.40 0a1.20 1.20 0 1 0 -2.40 0M103.3 173.2a1.20 1.20 0 1 0 2.40 0a1.20 1.20 0 1 0 -2.40 0M140.6 172.9a1.20 1.20 0 1 0 2.40 0a1.20 1.20 0 1 0 -2.40 0M114.3 172.6a1.20 1.20 0 1 0 2.40 0a1.20 1.20 0 1 0 -2.40 0M110.4 173.2a1.20 1.20 0 1 0 2.40 0a1.20 1.20 0 1 0 -2.40 0M138.5 173.1a1.20 1.20 0 1 0 2.40 0a1.20 1.20 0 1 0 -2.40 0M142.9 173.4a1.20 1.20 0 1 0 2.40 0a1.20 1.20 0 1 0 -2.40 0M97.2 174.5a1.20 1.20 0 1 0 2.40 0a1.20 1.20 0 1 0 -2.40 0M100.3 174.2a1.20 1.20 0 1 0 2.40 0a1.20 1.20 0 1 0 -2.40 0M140.4 173.9a1.20 1.20 0 1 0 2.40 0a1.20 1.20 0 1 0 -2.40 0M116.3 174.3a1.20 1.20 0 1 0 2.40 0a1.20 1.20 0 1 0 -2.40 0M116.4 174.1a1.20 1.20 0 1 0 2.40 0a1.20 1.20 0 1 0 -2.40 0M138.5 174.1a1.20 1.20 0 1 0 2.40 0a1.20 1.20 0 1 0 -2.40 0M138.2 173.9a1.20 1.20 0 1 0 2.40 0a1.20 1.20 0 1 0 -2.40 0M141.0 174.5a1.20 1.20 0 1 0 2.40 0a1.20 1.20 0 1 0 -2.40 0M111.3 175.2a1.20 1.20 0 1 0 2.40 0a1.20 1.20 0 1 0 -2.40 0M113.4 175.3a1.20 1.20 0 1 0 2.40 0a1.20 1.20 0 1 0 -2.40 0M146.1 174.8a1.20 1.20 0 1 0 2.40 0a1.20 1.20 0 1 0 -2.40 0M139.2 174.5a1.20 1.20 0 1 0 2.40 0a1.20 1.20 0 1 0 -2.40 0M115.7 174.8a1.20 1.20 0 1 0 2.40 0a1.20 1.20 0 1 0 -2.40 0M108.7 175.1a1.20 1.20 0 1 0 2.40 0a1.20 1.20 0 1 0 -2.40 0M116.2 175.2a1.20 1.20 0 1 0 2.40 0a1.20 1.20 0 1 0 -2.40 0M139.1 175.2a1.20 1.20 0 1 0 2.40 0a1.20 1.20 0 1 0 -2.40 0M141.1 175.4a1.20 1.20 0 1 0 2.40 0a1.20 1.20 0 1 0 -2.40 0M138.9 174.8a1.20 1.20 0 1 0 2.40 0a1.20 1.20 0 1 0 -2.40 0M111.7 176.2a1.20 1.20 0 1 0 2.40 0a1.20 1.20 0 1 0 -2.40 0M109.5 176.2a1.20 1.20 0 1 0 2.40 0a1.20 1.20 0 1 0 -2.40 0M152.7 176.5a1.20 1.20 0 1 0 2.40 0a1.20 1.20 0 1 0 -2.40 0M141.3 176.1a1.20 1.20 0 1 0 2.40 0a1.20 1.20 0 1 0 -2.40 0M116.1 175.9a1.20 1.20 0 1 0 2.40 0a1.20 1.20 0 1 0 -2.40 0M115.9 176.2a1.20 1.20 0 1 0 2.40 0a1.20 1.20 0 1 0 -2.40 0M114.8 176.2a1.20 1.20 0 1 0 2.40 0a1.20 1.20 0 1 0 -2.40 0M138.2 175.6a1.20 1.20 0 1 0 2.40 0a1.20 1.20 0 1 0 -2.40 0M138.2 176.0a1.20 1.20 0 1 0 2.40 0a1.20 1.20 0 1 0 -2.40 0M104.4 177.0a1.20 1.20 0 1 0 2.40 0a1.20 1.20 0 1 0 -2.40 0M97.2 176.9a1.20 1.20 0 1 0 2.40 0a1.20 1.20 0 1 0 -2.40 0M148.7 176.5a1.20 1.20 0 1 0 2.40 0a1.20 1.20 0 1 0 -2.40 0M141.8 176.5a1.20 1.20 0 1 0 2.40 0a1.20 1.20 0 1 0 -2.40 0M141.0 176.6a1.20 1.20 0 1 0 2.40 0a1.20 1.20 0 1 0 -2.40 0M115.8 177.1a1.20 1.20 0 1 0 2.40 0a1.20 1.20 0 1 0 -2.40 0M113.3 176.8a1.20 1.20 0 1 0 2.40 0a1.20 1.20 0 1 0 -2.40 0M140.0 177.2a1.20 1.20 0 1 0 2.40 0a1.20 1.20 0 1 0 -2.40 0M141.6 177.1a1.20 1.20 0 1 0 2.40 0a1.20 1.20 0 1 0 -2.40 0M139.6 177.4a1.20 1.20 0 1 0 2.40 0a1.20 1.20 0 1 0 -2.40 0M80.1 177.8a1.20 1.20 0 1 0 2.40 0a1.20 1.20 0 1 0 -2.40 0M100.7 178.1a1.20 1.20 0 1 0 2.40 0a1.20 1.20 0 1 0 -2.40 0M139.6 178.0a1.20 1.20 0 1 0 2.40 0a1.20 1.20 0 1 0 -2.40 0M142.4 178.1a1.20 1.20 0 1 0 2.40 0a1.20 1.20 0 1 0 -2.40 0M114.8 177.6a1.20 1.20 0 1 0 2.40 0a1.20 1.20 0 1 0 -2.40 0M115.7 178.1a1.20 1.20 0 1 0 2.40 0a1.20 1.20 0 1 0 -2.40 0M145.8 178.3a1.20 1.20 0 1 0 2.40 0a1.20 1.20 0 1 0 -2.40 0M138.8 178.0a1.20 1.20 0 1 0 2.40 0a1.20 1.20 0 1 0 -2.40 0M98.7 178.9a1.20 1.20 0 1 0 2.40 0a1.20 1.20 0 1 0 -2.40 0M90.0 179.0a1.20 1.20 0 1 0 2.40 0a1.20 1.20 0 1 0 -2.40 0M145.9 178.9a1.20 1.20 0 1 0 2.40 0a1.20 1.20 0 1 0 -2.40 0M115.6 179.2a1.20 1.20 0 1 0 2.40 0a1.20 1.20 0 1 0 -2.40 0M115.5 178.6a1.20 1.20 0 1 0 2.40 0a1.20 1.20 0 1 0 -2.40 0M114.9 179.1a1.20 1.20 0 1 0 2.40 0a1.20 1.20 0 1 0 -2.40 0M139.3 178.8a1.20 1.20 0 1 0 2.40 0a1.20 1.20 0 1 0 -2.40 0M139.1 179.4a1.20 1.20 0 1 0 2.40 0a1.20 1.20 0 1 0 -2.40 0M114.3 180.4a1.20 1.20 0 1 0 2.40 0a1.20 1.20 0 1 0 -2.40 0M107.8 179.6a1.20 1.20 0 1 0 2.40 0a1.20 1.20 0 1 0 -2.40 0M112.9 180.4a1.20 1.20 0 1 0 2.40 0a1.20 1.20 0 1 0 -2.40 0M140.4 180.2a1.20 1.20 0 1 0 2.40 0a1.20 1.20 0 1 0 -2.40 0M142.1 179.9a1.20 1.20 0 1 0 2.40 0a1.20 1.20 0 1 0 -2.40 0M115.5 180.4a1.20 1.20 0 1 0 2.40 0a1.20 1.20 0 1 0 -2.40 0M114.9 179.6a1.20 1.20 0 1 0 2.40 0a1.20 1.20 0 1 0 -2.40 0M138.7 179.5a1.20 1.20 0 1 0 2.40 0a1.20 1.20 0 1 0 -2.40 0M140.2 180.0a1.20 1.20 0 1 0 2.40 0a1.20 1.20 0 1 0 -2.40 0M98.5 180.7a1.20 1.20 0 1 0 2.40 0a1.20 1.20 0 1 0 -2.40 0M113.7 181.1a1.20 1.20 0 1 0 2.40 0a1.20 1.20 0 1 0 -2.40 0M143.6 181.4a1.20 1.20 0 1 0 2.40 0a1.20 1.20 0 1 0 -2.40 0M142.3 181.1a1.20 1.20 0 1 0 2.40 0a1.20 1.20 0 1 0 -2.40 0M111.3 181.4a1.20 1.20 0 1 0 2.40 0a1.20 1.20 0 1 0 -2.40 0M113.9 180.8a1.20 1.20 0 1 0 2.40 0a1.20 1.20 0 1 0 -2.40 0M113.4 181.4a1.20 1.20 0 1 0 2.40 0a1.20 1.20 0 1 0 -2.40 0M138.8 181.0a1.20 1.20 0 1 0 2.40 0a1.20 1.20 0 1 0 -2.40 0M139.0 181.0a1.20 1.20 0 1 0 2.40 0a1.20 1.20 0 1 0 -2.40 0M93.8 181.7a1.20 1.20 0 1 0 2.40 0a1.20 1.20 0 1 0 -2.40 0M105.9 181.8a1.20 1.20 0 1 0 2.40 0a1.20 1.20 0 1 0 -2.40 0M154.2 182.3a1.20 1.20 0 1 0 2.40 0a1.20 1.20 0 1 0 -2.40 0M144.4 181.9a1.20 1.20 0 1 0 2.40 0a1.20 1.20 0 1 0 -2.40 0M152.4 182.2a1.20 1.20 0 1 0 2.40 0a1.20 1.20 0 1 0 -2.40 0M115.0 181.6a1.20 1.20 0 1 0 2.40 0a1.20 1.20 0 1 0 -2.40 0M114.9 182.3a1.20 1.20 0 1 0 2.40 0a1.20 1.20 0 1 0 -2.40 0M114.1 182.1a1.20 1.20 0 1 0 2.40 0a1.20 1.20 0 1 0 -2.40 0M139.7 181.7a1.20 1.20 0 1 0 2.40 0a1.20 1.20 0 1 0 -2.40 0M144.9 182.1a1.20 1.20 0 1 0 2.40 0a1.20 1.20 0 1 0 -2.40 0M139.2 182.2a1.20 1.20 0 1 0 2.40 0a1.20 1.20 0 1 0 -2.40 0M104.2 183.3a1.20 1.20 0 1 0 2.40 0a1.20 1.20 0 1 0 -2.40 0M104.3 183.4a1.20 1.20 0 1 0 2.40 0a1.20 1.20 0 1 0 -2.40 0M145.9 183.1a1.20 1.20 0 1 0 2.40 0a1.20 1.20 0 1 0 -2.40 0M145.3 182.9a1.20 1.20 0 1 0 2.40 0a1.20 1.20 0 1 0 -2.40 0M113.4 182.9a1.20 1.20 0 1 0 2.40 0a1.20 1.20 0 1 0 -2.40 0M114.3 183.3a1.20 1.20 0 1 0 2.40 0a1.20 1.20 0 1 0 -2.40 0M112.5 183.2a1.20 1.20 0 1 0 2.40 0a1.20 1.20 0 1 0 -2.40 0M140.0 183.1a1.20 1.20 0 1 0 2.40 0a1.20 1.20 0 1 0 -2.40 0M139.7 182.8a1.20 1.20 0 1 0 2.40 0a1.20 1.20 0 1 0 -2.40 0M97.2 184.4a1.20 1.20 0 1 0 2.40 0a1.20 1.20 0 1 0 -2.40 0M110.0 183.9a1.20 1.20 0 1 0 2.40 0a1.20 1.20 0 1 0 -2.40 0M112.4 183.6a1.20 1.20 0 1 0 2.40 0a1.20 1.20 0 1 0 -2.40 0M164.1 183.6a1.20 1.20 0 1 0 2.40 0a1.20 1.20 0 1 0 -2.40 0M143.8 184.3a1.20 1.20 0 1 0 2.40 0a1.20 1.20 0 1 0 -2.40 0M111.5 183.9a1.20 1.20 0 1 0 2.40 0a1.20 1.20 0 1 0 -2.40 0M113.8 183.7a1.20 1.20 0 1 0 2.40 0a1.20 1.20 0 1 0 -2.40 0M114.3 183.9a1.20 1.20 0 1 0 2.40 0a1.20 1.20 0 1 0 -2.40 0M141.6 183.5a1.20 1.20 0 1 0 2.40 0a1.20 1.20 0 1 0 -2.40 0M141.1 184.3a1.20 1.20 0 1 0 2.40 0a1.20 1.20 0 1 0 -2.40 0M140.1 183.7a1.20 1.20 0 1 0 2.40 0a1.20 1.20 0 1 0 -2.40 0M112.6 185.3a1.20 1.20 0 1 0 2.40 0a1.20 1.20 0 1 0 -2.40 0M103.9 184.5a1.20 1.20 0 1 0 2.40 0a1.20 1.20 0 1 0 -2.40 0M107.2 185.1a1.20 1.20 0 1 0 2.40 0a1.20 1.20 0 1 0 -2.40 0M141.3 184.9a1.20 1.20 0 1 0 2.40 0a1.20 1.20 0 1 0 -2.40 0M145.6 185.5a1.20 1.20 0 1 0 2.40 0a1.20 1.20 0 1 0 -2.40 0M145.7 185.4a1.20 1.20 0 1 0 2.40 0a1.20 1.20 0 1 0 -2.40 0M113.3 184.6a1.20 1.20 0 1 0 2.40 0a1.20 1.20 0 1 0 -2.40 0M112.0 184.6a1.20 1.20 0 1 0 2.40 0a1.20 1.20 0 1 0 -2.40 0M139.9 184.6a1.20 1.20 0 1 0 2.40 0a1.20 1.20 0 1 0 -2.40 0M140.6 184.7a1.20 1.20 0 1 0 2.40 0a1.20 1.20 0 1 0 -2.40 0M104.3 186.4a1.20 1.20 0 1 0 2.40 0a1.20 1.20 0 1 0 -2.40 0M80.7 186.3a1.20 1.20 0 1 0 2.40 0a1.20 1.20 0 1 0 -2.40 0M148.1 186.3a1.20 1.20 0 1 0 2.40 0a1.20 1.20 0 1 0 -2.40 0M153.1 185.7a1.20 1.20 0 1 0 2.40 0a1.20 1.20 0 1 0 -2.40 0M113.6 186.0a1.20 1.20 0 1 0 2.40 0a1.20 1.20 0 1 0 -2.40 0M112.5 186.2a1.20 1.20 0 1 0 2.40 0a1.20 1.20 0 1 0 -2.40 0M142.5 186.3a1.20 1.20 0 1 0 2.40 0a1.20 1.20 0 1 0 -2.40 0M140.2 185.6a1.20 1.20 0 1 0 2.40 0a1.20 1.20 0 1 0 -2.40 0M111.3 187.5a1.20 1.20 0 1 0 2.40 0a1.20 1.20 0 1 0 -2.40 0M109.2 186.9a1.20 1.20 0 1 0 2.40 0a1.20 1.20 0 1 0 -2.40 0M106.6 187.1a1.20 1.20 0 1 0 2.40 0a1.20 1.20 0 1 0 -2.40 0M157.9 186.8a1.20 1.20 0 1 0 2.40 0a1.20 1.20 0 1 0 -2.40 0M161.8 187.3a1.20 1.20 0 1 0 2.40 0a1.20 1.20 0 1 0 -2.40 0M141.5 187.0a1.20 1.20 0 1 0 2.40 0a1.20 1.20 0 1 0 -2.40 0M110.8 186.6a1.20 1.20 0 1 0 2.40 0a1.20 1.20 0 1 0 -2.40 0M113.8 187.3a1.20 1.20 0 1 0 2.40 0a1.20 1.20 0 1 0 -2.40 0M112.9 187.2a1.20 1.20 0 1 0 2.40 0a1.20 1.20 0 1 0 -2.40 0M141.4 186.7a1.20 1.20 0 1 0 2.40 0a1.20 1.20 0 1 0 -2.40 0M141.2 186.8a1.20 1.20 0 1 0 2.40 0a1.20 1.20 0 1 0 -2.40 0M142.1 186.6a1.20 1.20 0 1 0 2.40 0a1.20 1.20 0 1 0 -2.40 0M110.6 188.0a1.20 1.20 0 1 0 2.40 0a1.20 1.20 0 1 0 -2.40 0M103.7 187.5a1.20 1.20 0 1 0 2.40 0a1.20 1.20 0 1 0 -2.40 0M67.2 188.3a1.20 1.20 0 1 0 2.40 0a1.20 1.20 0 1 0 -2.40 0M143.6 188.3a1.20 1.20 0 1 0 2.40 0a1.20 1.20 0 1 0 -2.40 0M183.2 187.7a1.20 1.20 0 1 0 2.40 0a1.20 1.20 0 1 0 -2.40 0M157.2 188.3a1.20 1.20 0 1 0 2.40 0a1.20 1.20 0 1 0 -2.40 0M113.7 187.6a1.20 1.20 0 1 0 2.40 0a1.20 1.20 0 1 0 -2.40 0M113.8 187.7a1.20 1.20 0 1 0 2.40 0a1.20 1.20 0 1 0 -2.40 0M144.4 188.0a1.20 1.20 0 1 0 2.40 0a1.20 1.20 0 1 0 -2.40 0M140.7 187.9a1.20 1.20 0 1 0 2.40 0a1.20 1.20 0 1 0 -2.40 0M102.0 189.2a1.20 1.20 0 1 0 2.40 0a1.20 1.20 0 1 0 -2.40 0M97.4 188.9a1.20 1.20 0 1 0 2.40 0a1.20 1.20 0 1 0 -2.40 0M106.5 189.0a1.20 1.20 0 1 0 2.40 0a1.20 1.20 0 1 0 -2.40 0M148.4 189.2a1.20 1.20 0 1 0 2.40 0a1.20 1.20 0 1 0 -2.40 0M155.2 188.8a1.20 1.20 0 1 0 2.40 0a1.20 1.20 0 1 0 -2.40 0M150.9 188.6a1.20 1.20 0 1 0 2.40 0a1.20 1.20 0 1 0 -2.40 0M113.2 188.9a1.20 1.20 0 1 0 2.40 0a1.20 1.20 0 1 0 -2.40 0M113.9 188.6a1.20 1.20 0 1 0 2.40 0a1.20 1.20 0 1 0 -2.40 0M113.1 189.4a1.20 1.20 0 1 0 2.40 0a1.20 1.20 0 1 0 -2.40 0M140.7 188.8a1.20 1.20 0 1 0 2.40 0a1.20 1.20 0 1 0 -2.40 0M141.4 188.8a1.20 1.20 0 1 0 2.40 0a1.20 1.20 0 1 0 -2.40 0M103.6 190.3a1.20 1.20 0 1 0 2.40 0a1.20 1.20 0 1 0 -2.40 0M107.8 189.7a1.20 1.20 0 1 0 2.40 0a1.20 1.20 0 1 0 -2.40 0M111.5 189.5a1.20 1.20 0 1 0 2.40 0a1.20 1.20 0 1 0 -2.40 0M144.8 190.2a1.20 1.20 0 1 0 2.40 0a1.20 1.20 0 1 0 -2.40 0M158.5 189.6a1.20 1.20 0 1 0 2.40 0a1.20 1.20 0 1 0 -2.40 0M113.2 190.3a1.20 1.20 0 1 0 2.40 0a1.20 1.20 0 1 0 -2.40 0M111.7 189.8a1.20 1.20 0 1 0 2.40 0a1.20 1.20 0 1 0 -2.40 0M112.9 189.9a1.20 1.20 0 1 0 2.40 0a1.20 1.20 0 1 0 -2.40 0M143.3 189.8a1.20 1.20 0 1 0 2.40 0a1.20 1.20 0 1 0 -2.40 0M143.4 190.4a1.20 1.20 0 1 0 2.40 0a1.20 1.20 0 1 0 -2.40 0M142.3 190.5a1.20 1.20 0 1 0 2.40 0a1.20 1.20 0 1 0 -2.40 0M110.6 191.5a1.20 1.20 0 1 0 2.40 0a1.20 1.20 0 1 0 -2.40 0M110.3 191.3a1.20 1.20 0 1 0 2.40 0a1.20 1.20 0 1 0 -2.40 0M145.9 190.9a1.20 1.20 0 1 0 2.40 0a1.20 1.20 0 1 0 -2.40 0M161.1 191.2a1.20 1.20 0 1 0 2.40 0a1.20 1.20 0 1 0 -2.40 0M144.5 191.4a1.20 1.20 0 1 0 2.40 0a1.20 1.20 0 1 0 -2.40 0M112.5 190.6a1.20 1.20 0 1 0 2.40 0a1.20 1.20 0 1 0 -2.40 0M113.1 190.8a1.20 1.20 0 1 0 2.40 0a1.20 1.20 0 1 0 -2.40 0M145.5 191.1a1.20 1.20 0 1 0 2.40 0a1.20 1.20 0 1 0 -2.40 0M143.7 190.6a1.20 1.20 0 1 0 2.40 0a1.20 1.20 0 1 0 -2.40 0M141.4 191.2a1.20 1.20 0 1 0 2.40 0a1.20 1.20 0 1 0 -2.40 0M109.8 191.6a1.20 1.20 0 1 0 2.40 0a1.20 1.20 0 1 0 -2.40 0M111.8 191.9a1.20 1.20 0 1 0 2.40 0a1.20 1.20 0 1 0 -2.40 0M104.7 191.9a1.20 1.20 0 1 0 2.40 0a1.20 1.20 0 1 0 -2.40 0M145.8 191.5a1.20 1.20 0 1 0 2.40 0a1.20 1.20 0 1 0 -2.40 0M153.7 191.8a1.20 1.20 0 1 0 2.40 0a1.20 1.20 0 1 0 -2.40 0M112.8 191.8a1.20 1.20 0 1 0 2.40 0a1.20 1.20 0 1 0 -2.40 0M113.4 191.8a1.20 1.20 0 1 0 2.40 0a1.20 1.20 0 1 0 -2.40 0M113.0 191.6a1.20 1.20 0 1 0 2.40 0a1.20 1.20 0 1 0 -2.40 0M142.1 191.5a1.20 1.20 0 1 0 2.40 0a1.20 1.20 0 1 0 -2.40 0M144.4 191.9a1.20 1.20 0 1 0 2.40 0a1.20 1.20 0 1 0 -2.40 0M142.0 192.0a1.20 1.20 0 1 0 2.40 0a1.20 1.20 0 1 0 -2.40 0M111.2 193.3a1.20 1.20 0 1 0 2.40 0a1.20 1.20 0 1 0 -2.40 0M104.5 193.0a1.20 1.20 0 1 0 2.40 0a1.20 1.20 0 1 0 -2.40 0M108.2 193.3a1.20 1.20 0 1 0 2.40 0a1.20 1.20 0 1 0 -2.40 0M158.0 193.3a1.20 1.20 0 1 0 2.40 0a1.20 1.20 0 1 0 -2.40 0M164.7 193.2a1.20 1.20 0 1 0 2.40 0a1.20 1.20 0 1 0 -2.40 0M112.4 193.0a1.20 1.20 0 1 0 2.40 0a1.20 1.20 0 1 0 -2.40 0M112.0 193.0a1.20 1.20 0 1 0 2.40 0a1.20 1.20 0 1 0 -2.40 0M144.3 192.6a1.20 1.20 0 1 0 2.40 0a1.20 1.20 0 1 0 -2.40 0M143.4 193.1a1.20 1.20 0 1 0 2.40 0a1.20 1.20 0 1 0 -2.40 0M90.0 193.5a1.20 1.20 0 1 0 2.40 0a1.20 1.20 0 1 0 -2.40 0M106.1 193.9a1.20 1.20 0 1 0 2.40 0a1.20 1.20 0 1 0 -2.40 0M144.3 194.1a1.20 1.20 0 1 0 2.40 0a1.20 1.20 0 1 0 -2.40 0M144.1 194.3a1.20 1.20 0 1 0 2.40 0a1.20 1.20 0 1 0 -2.40 0M111.1 193.8a1.20 1.20 0 1 0 2.40 0a1.20 1.20 0 1 0 -2.40 0M109.8 193.5a1.20 1.20 0 1 0 2.40 0a1.20 1.20 0 1 0 -2.40 0M112.8 194.2a1.20 1.20 0 1 0 2.40 0a1.20 1.20 0 1 0 -2.40 0M143.8 193.8a1.20 1.20 0 1 0 2.40 0a1.20 1.20 0 1 0 -2.40 0M141.5 194.2a1.20 1.20 0 1 0 2.40 0a1.20 1.20 0 1 0 -2.40 0M111.3 195.4a1.20 1.20 0 1 0 2.40 0a1.20 1.20 0 1 0 -2.40 0M105.1 194.5a1.20 1.20 0 1 0 2.40 0a1.20 1.20 0 1 0 -2.40 0M146.6 194.6a1.20 1.20 0 1 0 2.40 0a1.20 1.20 0 1 0 -2.40 0M163.3 195.4a1.20 1.20 0 1 0 2.40 0a1.20 1.20 0 1 0 -2.40 0M112.2 194.8a1.20 1.20 0 1 0 2.40 0a1.20 1.20 0 1 0 -2.40 0M111.3 194.6a1.20 1.20 0 1 0 2.40 0a1.20 1.20 0 1 0 -2.40 0M112.5 194.9a1.20 1.20 0 1 0 2.40 0a1.20 1.20 0 1 0 -2.40 0M142.4 195.1a1.20 1.20 0 1 0 2.40 0a1.20 1.20 0 1 0 -2.40 0M146.0 195.4a1.20 1.20 0 1 0 2.40 0a1.20 1.20 0 1 0 -2.40 0M145.3 195.3a1.20 1.20 0 1 0 2.40 0a1.20 1.20 0 1 0 -2.40 0M109.6 196.0a1.20 1.20 0 1 0 2.40 0a1.20 1.20 0 1 0 -2.40 0M103.3 196.1a1.20 1.20 0 1 0 2.40 0a1.20 1.20 0 1 0 -2.40 0M108.4 196.5a1.20 1.20 0 1 0 2.40 0a1.20 1.20 0 1 0 -2.40 0M142.6 195.6a1.20 1.20 0 1 0 2.40 0a1.20 1.20 0 1 0 -2.40 0M144.5 196.2a1.20 1.20 0 1 0 2.40 0a1.20 1.20 0 1 0 -2.40 0M113.1 195.7a1.20 1.20 0 1 0 2.40 0a1.20 1.20 0 1 0 -2.40 0M112.8 196.3a1.20 1.20 0 1 0 2.40 0a1.20 1.20 0 1 0 -2.40 0M141.7 195.6a1.20 1.20 0 1 0 2.40 0a1.20 1.20 0 1 0 -2.40 0M146.7 196.5a1.20 1.20 0 1 0 2.40 0a1.20 1.20 0 1 0 -2.40 0M107.1 197.2a1.20 1.20 0 1 0 2.40 0a1.20 1.20 0 1 0 -2.40 0M100.7 197.0a1.20 1.20 0 1 0 2.40 0a1.20 1.20 0 1 0 -2.40 0M148.1 197.2a1.20 1.20 0 1 0 2.40 0a1.20 1.20 0 1 0 -2.40 0M145.3 197.1a1.20 1.20 0 1 0 2.40 0a1.20 1.20 0 1 0 -2.40 0M107.6 196.7a1.20 1.20 0 1 0 2.40 0a1.20 1.20 0 1 0 -2.40 0M112.9 197.5a1.20 1.20 0 1 0 2.40 0a1.20 1.20 0 1 0 -2.40 0M108.5 197.4a1.20 1.20 0 1 0 2.40 0a1.20 1.20 0 1 0 -2.40 0M143.9 197.3a1.20 1.20 0 1 0 2.40 0a1.20 1.20 0 1 0 -2.40 0M142.2 196.6a1.20 1.20 0 1 0 2.40 0a1.20 1.20 0 1 0 -2.40 0M99.2 198.3a1.20 1.20 0 1 0 2.40 0a1.20 1.20 0 1 0 -2.40 0M111.9 197.6a1.20 1.20 0 1 0 2.40 0a1.20 1.20 0 1 0 -2.40 0M146.8 198.4a1.20 1.20 0 1 0 2.40 0a1.20 1.20 0 1 0 -2.40 0M176.4 197.9a1.20 1.20 0 1 0 2.40 0a1.20 1.20 0 1 0 -2.40 0M111.6 198.2a1.20 1.20 0 1 0 2.40 0a1.20 1.20 0 1 0 -2.40 0M112.7 198.1a1.20 1.20 0 1 0 2.40 0a1.20 1.20 0 1 0 -2.40 0M144.3 198.2a1.20 1.20 0 1 0 2.40 0a1.20 1.20 0 1 0 -2.40 0M143.2 198.0a1.20 1.20 0 1 0 2.40 0a1.20 1.20 0 1 0 -2.40 0M141.0 198.0a1.20 1.20 0 1 0 2.40 0a1.20 1.20 0 1 0 -2.40 0M107.1 198.6a1.20 1.20 0 1 0 2.40 0a1.20 1.20 0 1 0 -2.40 0M112.3 198.9a1.20 1.20 0 1 0 2.40 0a1.20 1.20 0 1 0 -2.40 0M143.2 198.7a1.20 1.20 0 1 0 2.40 0a1.20 1.20 0 1 0 -2.40 0M145.1 199.2a1.20 1.20 0 1 0 2.40 0a1.20 1.20 0 1 0 -2.40 0M111.7 198.5a1.20 1.20 0 1 0 2.40 0a1.20 1.20 0 1 0 -2.40 0M110.3 199.1a1.20 1.20 0 1 0 2.40 0a1.20 1.20 0 1 0 -2.40 0M141.8 198.9a1.20 1.20 0 1 0 2.40 0a1.20 1.20 0 1 0 -2.40 0M141.0 198.6a1.20 1.20 0 1 0 2.40 0a1.20 1.20 0 1 0 -2.40 0M112.1 200.2a1.20 1.20 0 1 0 2.40 0a1.20 1.20 0 1 0 -2.40 0M147.8 200.1a1.20 1.20 0 1 0 2.40 0a1.20 1.20 0 1 0 -2.40 0M108.5 200.3a1.20 1.20 0 1 0 2.40 0a1.20 1.20 0 1 0 -2.40 0M106.2 200.0a1.20 1.20 0 1 0 2.40 0a1.20 1.20 0 1 0 -2.40 0M141.5 200.1a1.20 1.20 0 1 0 2.40 0a1.20 1.20 0 1 0 -2.40 0M143.2 200.1a1.20 1.20 0 1 0 2.40 0a1.20 1.20 0 1 0 -2.40 0M140.7 199.5a1.20 1.20 0 1 0 2.40 0a1.20 1.20 0 1 0 -2.40 0M108.2 201.5a1.20 1.20 0 1 0 2.40 0a1.20 1.20 0 1 0 -2.40 0M150.0 201.3a1.20 1.20 0 1 0 2.40 0a1.20 1.20 0 1 0 -2.40 0M113.5 201.4a1.20 1.20 0 1 0 2.40 0a1.20 1.20 0 1 0 -2.40 0M113.7 200.5a1.20 1.20 0 1 0 2.40 0a1.20 1.20 0 1 0 -2.40 0M139.4 201.5a1.20 1.20 0 1 0 2.40 0a1.20 1.20 0 1 0 -2.40 0M139.6 200.8a1.20 1.20 0 1 0 2.40 0a1.20 1.20 0 1 0 -2.40 0M140.6 200.6a1.20 1.20 0 1 0 2.40 0a1.20 1.20 0 1 0 -2.40 0M111.9 201.6a1.20 1.20 0 1 0 2.40 0a1.20 1.20 0 1 0 -2.40 0M141.2 202.3a1.20 1.20 0 1 0 2.40 0a1.20 1.20 0 1 0 -2.40 0M109.3 201.7a1.20 1.20 0 1 0 2.40 0a1.20 1.20 0 1 0 -2.40 0M114.2 201.7a1.20 1.20 0 1 0 2.40 0a1.20 1.20 0 1 0 -2.40 0M115.4 201.8a1.20 1.20 0 1 0 2.40 0a1.20 1.20 0 1 0 -2.40 0M138.1 202.0a1.20 1.20 0 1 0 2.40 0a1.20 1.20 0 1 0 -2.40 0M138.7 201.8a1.20 1.20 0 1 0 2.40 0a1.20 1.20 0 1 0 -2.40 0M114.8 202.8a1.20 1.20 0 1 0 2.40 0a1.20 1.20 0 1 0 -2.40 0M143.8 203.3a1.20 1.20 0 1 0 2.40 0a1.20 1.20 0 1 0 -2.40 0M114.9 203.4a1.20 1.20 0 1 0 2.40 0a1.20 1.20 0 1 0 -2.40 0M114.1 202.6a1.20 1.20 0 1 0 2.40 0a1.20 1.20 0 1 0 -2.40 0M138.5 203.3a1.20 1.20 0 1 0 2.40 0a1.20 1.20 0 1 0 -2.40 0M143.5 203.3a1.20 1.20 0 1 0 2.40 0a1.20 1.20 0 1 0 -2.40 0M136.5 203.1a1.20 1.20 0 1 0 2.40 0a1.20 1.20 0 1 0 -2.40 0M113.2 203.6a1.20 1.20 0 1 0 2.40 0a1.20 1.20 0 1 0 -2.40 0M138.3 203.8a1.20 1.20 0 1 0 2.40 0a1.20 1.20 0 1 0 -2.40 0M116.4 203.6a1.20 1.20 0 1 0 2.40 0a1.20 1.20 0 1 0 -2.40 0M115.4 203.8a1.20 1.20 0 1 0 2.40 0a1.20 1.20 0 1 0 -2.40 0M135.6 204.1a1.20 1.20 0 1 0 2.40 0a1.20 1.20 0 1 0 -2.40 0M135.6 204.2a1.20 1.20 0 1 0 2.40 0a1.20 1.20 0 1 0 -2.40 0M138.8 204.5a1.20 1.20 0 1 0 2.40 0a1.20 1.20 0 1 0 -2.40 0M116.6 204.6a1.20 1.20 0 1 0 2.40 0a1.20 1.20 0 1 0 -2.40 0M118.0 204.6a1.20 1.20 0 1 0 2.40 0a1.20 1.20 0 1 0 -2.40 0M119.2 205.4a1.20 1.20 0 1 0 2.40 0a1.20 1.20 0 1 0 -2.40 0M135.0 205.0a1.20 1.20 0 1 0 2.40 0a1.20 1.20 0 1 0 -2.40 0M133.0 205.3a1.20 1.20 0 1 0 2.40 0a1.20 1.20 0 1 0 -2.40 0M133.1 205.4a1.20 1.20 0 1 0 2.40 0a1.20 1.20 0 1 0 -2.40 0M133.5 205.5a1.20 1.20 0 1 0 2.40 0a1.20 1.20 0 1 0 -2.40 0M121.5 206.0a1.20 1.20 0 1 0 2.40 0a1.20 1.20 0 1 0 -2.40 0M117.4 206.2a1.20 1.20 0 1 0 2.40 0a1.20 1.20 0 1 0 -2.40 0M133.0 206.2a1.20 1.20 0 1 0 2.40 0a1.20 1.20 0 1 0 -2.40 0M131.6 206.3a1.20 1.20 0 1 0 2.40 0a1.20 1.20 0 1 0 -2.40 0M132.4 205.9a1.20 1.20 0 1 0 2.40 0a1.20 1.20 0 1 0 -2.40 0M120.9 206.8a1.20 1.20 0 1 0 2.40 0a1.20 1.20 0 1 0 -2.40 0M122.1 206.9a1.20 1.20 0 1 0 2.40 0a1.20 1.20 0 1 0 -2.40 0M124.1 206.5a1.20 1.20 0 1 0 2.40 0a1.20 1.20 0 1 0 -2.40 0M130.4 207.5a1.20 1.20 0 1 0 2.40 0a1.20 1.20 0 1 0 -2.40 0M129.6 206.6a1.20 1.20 0 1 0 2.40 0a1.20 1.20 0 1 0 -2.40 0M97.2 141.2a1.20 1.20 0 1 0 2.40 0a1.20 1.20 0 1 0 -2.40 0M81.1 159.2a1.20 1.20 0 1 0 2.40 0a1.20 1.20 0 1 0 -2.40 0M91.9 157.3a1.20 1.20 0 1 0 2.40 0a1.20 1.20 0 1 0 -2.40 0M93.4 164.9a1.20 1.20 0 1 0 2.40 0a1.20 1.20 0 1 0 -2.40 0M84.0 168.6a1.20 1.20 0 1 0 2.40 0a1.20 1.20 0 1 0 -2.40 0M104.8 149.2a1.20 1.20 0 1 0 2.40 0a1.20 1.20 0 1 0 -2.40 0M103.4 153.5a1.20 1.20 0 1 0 2.40 0a1.20 1.20 0 1 0 -2.40 0M110.4 143.0a1.20 1.20 0 1 0 2.40 0a1.20 1.20 0 1 0 -2.40 0M111.4 138.8a1.20 1.20 0 1 0 2.40 0a1.20 1.20 0 1 0 -2.40 0M61.7 175.6a1.20 1.20 0 1 0 2.40 0a1.20 1.20 0 1 0 -2.40 0M65.8 194.2a1.20 1.20 0 1 0 2.40 0a1.20 1.20 0 1 0 -2.40 0M67.8 194.4a1.20 1.20 0 1 0 2.40 0a1.20 1.20 0 1 0 -2.40 0M73.0 187.8a1.20 1.20 0 1 0 2.40 0a1.20 1.20 0 1 0 -2.40 0M168.0 147.8a1.20 1.20 0 1 0 2.40 0a1.20 1.20 0 1 0 -2.40 0M173.7 187.4a1.20 1.20 0 1 0 2.40 0a1.20 1.20 0 1 0 -2.40 0M114.2 123.3a1.20 1.20 0 1 0 2.40 0a1.20 1.20 0 1 0 -2.40 0M116.1 128.4a1.20 1.20 0 1 0 2.40 0a1.20 1.20 0 1 0 -2.40 0M362.1 42.3a1.20 1.20 0 1 0 2.40 0a1.20 1.20 0 1 0 -2.40 0M362.1 68.0a1.20 1.20 0 1 0 2.40 0a1.20 1.20 0 1 0 -2.40 0M361.8 79.0a1.20 1.20 0 1 0 2.40 0a1.20 1.20 0 1 0 -2.40 0M359.8 81.1a1.20 1.20 0 1 0 2.40 0a1.20 1.20 0 1 0 -2.40 0M360.1 81.9a1.20 1.20 0 1 0 2.40 0a1.20 1.20 0 1 0 -2.40 0M359.5 83.7a1.20 1.20 0 1 0 2.40 0a1.20 1.20 0 1 0 -2.40 0M359.5 88.2a1.20 1.20 0 1 0 2.40 0a1.20 1.20 0 1 0 -2.40 0M360.0 89.1a1.20 1.20 0 1 0 2.40 0a1.20 1.20 0 1 0 -2.40 0M359.5 90.7a1.20 1.20 0 1 0 2.40 0a1.20 1.20 0 1 0 -2.40 0M359.6 92.4a1.20 1.20 0 1 0 2.40 0a1.20 1.20 0 1 0 -2.40 0M360.0 92.7a1.20 1.20 0 1 0 2.40 0a1.20 1.20 0 1 0 -2.40 0M360.1 93.8a1.20 1.20 0 1 0 2.40 0a1.20 1.20 0 1 0 -2.40 0M359.7 96.7a1.20 1.20 0 1 0 2.40 0a1.20 1.20 0 1 0 -2.40 0M359.9 99.3a1.20 1.20 0 1 0 2.40 0a1.20 1.20 0 1 0 -2.40 0M359.7 99.9a1.20 1.20 0 1 0 2.40 0a1.20 1.20 0 1 0 -2.40 0M359.8 102.6a1.20 1.20 0 1 0 2.40 0a1.20 1.20 0 1 0 -2.40 0M359.5 103.7a1.20 1.20 0 1 0 2.40 0a1.20 1.20 0 1 0 -2.40 0M359.8 104.8a1.20 1.20 0 1 0 2.40 0a1.20 1.20 0 1 0 -2.40 0M360.0 106.6a1.20 1.20 0 1 0 2.40 0a1.20 1.20 0 1 0 -2.40 0M359.5 108.8a1.20 1.20 0 1 0 2.40 0a1.20 1.20 0 1 0 -2.40 0M360.1 110.8a1.20 1.20 0 1 0 2.40 0a1.20 1.20 0 1 0 -2.40 0M359.5 112.0a1.20 1.20 0 1 0 2.40 0a1.20 1.20 0 1 0 -2.40 0M359.5 114.0a1.20 1.20 0 1 0 2.40 0a1.20 1.20 0 1 0 -2.40 0M359.6 116.1a1.20 1.20 0 1 0 2.40 0a1.20 1.20 0 1 0 -2.40 0M359.4 117.2a1.20 1.20 0 1 0 2.40 0a1.20 1.20 0 1 0 -2.40 0M351.9 121.1a1.20 1.20 0 1 0 2.40 0a1.20 1.20 0 1 0 -2.40 0M352.4 121.4a1.20 1.20 0 1 0 2.40 0a1.20 1.20 0 1 0 -2.40 0M354.8 120.9a1.20 1.20 0 1 0 2.40 0a1.20 1.20 0 1 0 -2.40 0M350.0 121.1a1.20 1.20 0 1 0 2.40 0a1.20 1.20 0 1 0 -2.40 0M372.4 121.1a1.20 1.20 0 1 0 2.40 0a1.20 1.20 0 1 0 -2.40 0M371.2 121.2a1.20 1.20 0 1 0 2.40 0a1.20 1.20 0 1 0 -2.40 0M352.9 121.5a1.20 1.20 0 1 0 2.40 0a1.20 1.20 0 1 0 -2.40 0M353.4 122.5a1.20 1.20 0 1 0 2.40 0a1.20 1.20 0 1 0 -2.40 0M353.3 121.6a1.20 1.20 0 1 0 2.40 0a1.20 1.20 0 1 0 -2.40 0M374.1 121.6a1.20 1.20 0 1 0 2.40 0a1.20 1.20 0 1 0 -2.40 0M373.4 122.3a1.20 1.20 0 1 0 2.40 0a1.20 1.20 0 1 0 -2.40 0M370.3 121.7a1.20 1.20 0 1 0 2.40 0a1.20 1.20 0 1 0 -2.40 0M354.3 122.7a1.20 1.20 0 1 0 2.40 0a1.20 1.20 0 1 0 -2.40 0M352.4 123.0a1.20 1.20 0 1 0 2.40 0a1.20 1.20 0 1 0 -2.40 0M355.5 122.9a1.20 1.20 0 1 0 2.40 0a1.20 1.20 0 1 0 -2.40 0M373.8 123.4a1.20 1.20 0 1 0 2.40 0a1.20 1.20 0 1 0 -2.40 0M372.1 122.5a1.20 1.20 0 1 0 2.40 0a1.20 1.20 0 1 0 -2.40 0M374.5 122.8a1.20 1.20 0 1 0 2.40 0a1.20 1.20 0 1 0 -2.40 0M355.2 123.7a1.20 1.20 0 1 0 2.40 0a1.20 1.20 0 1 0 -2.40 0M353.3 123.6a1.20 1.20 0 1 0 2.40 0a1.20 1.20 0 1 0 -2.40 0M374.4 123.9a1.20 1.20 0 1 0 2.40 0a1.20 1.20 0 1 0 -2.40 0M370.3 124.2a1.20 1.20 0 1 0 2.40 0a1.20 1.20 0 1 0 -2.40 0M370.8 124.3a1.20 1.20 0 1 0 2.40 0a1.20 1.20 0 1 0 -2.40 0M348.5 125.3a1.20 1.20 0 1 0 2.40 0a1.20 1.20 0 1 0 -2.40 0M373.8 124.9a1.20 1.20 0 1 0 2.40 0a1.20 1.20 0 1 0 -2.40 0M351.5 124.8a1.20 1.20 0 1 0 2.40 0a1.20 1.20 0 1 0 -2.40 0M353.9 124.6a1.20 1.20 0 1 0 2.40 0a1.20 1.20 0 1 0 -2.40 0M350.6 125.5a1.20 1.20 0 1 0 2.40 0a1.20 1.20 0 1 0 -2.40 0M370.3 125.2a1.20 1.20 0 1 0 2.40 0a1.20 1.20 0 1 0 -2.40 0M371.1 125.0a1.20 1.20 0 1 0 2.40 0a1.20 1.20 0 1 0 -2.40 0M353.6 126.3a1.20 1.20 0 1 0 2.40 0a1.20 1.20 0 1 0 -2.40 0M353.2 125.9a1.20 1.20 0 1 0 2.40 0a1.20 1.20 0 1 0 -2.40 0M354.1 125.8a1.20 1.20 0 1 0 2.40 0a1.20 1.20 0 1 0 -2.40 0M371.0 126.3a1.20 1.20 0 1 0 2.40 0a1.20 1.20 0 1 0 -2.40 0M370.7 125.9a1.20 1.20 0 1 0 2.40 0a1.20 1.20 0 1 0 -2.40 0M354.0 126.7a1.20 1.20 0 1 0 2.40 0a1.20 1.20 0 1 0 -2.40 0M373.2 126.9a1.20 1.20 0 1 0 2.40 0a1.20 1.20 0 1 0 -2.40 0M355.2 127.5a1.20 1.20 0 1 0 2.40 0a1.20 1.20 0 1 0 -2.40 0M355.1 127.3a1.20 1.20 0 1 0 2.40 0a1.20 1.20 0 1 0 -2.40 0M370.6 127.1a1.20 1.20 0 1 0 2.40 0a1.20 1.20 0 1 0 -2.40 0M370.9 126.5a1.20 1.20 0 1 0 2.40 0a1.20 1.20 0 1 0 -2.40 0M370.4 127.2a1.20 1.20 0 1 0 2.40 0a1.20 1.20 0 1 0 -2.40 0M352.9 127.8a1.20 1.20 0 1 0 2.40 0a1.20 1.20 0 1 0 -2.40 0M354.1 127.8a1.20 1.20 0 1 0 2.40 0a1.20 1.20 0 1 0 -2.40 0M354.4 128.4a1.20 1.20 0 1 0 2.40 0a1.20 1.20 0 1 0 -2.40 0M371.1 128.4a1.20 1.20 0 1 0 2.40 0a1.20 1.20 0 1 0 -2.40 0M371.1 128.3a1.20 1.20 0 1 0 2.40 0a1.20 1.20 0 1 0 -2.40 0M371.4 127.8a1.20 1.20 0 1 0 2.40 0a1.20 1.20 0 1 0 -2.40 0M345.3 128.6a1.20 1.20 0 1 0 2.40 0a1.20 1.20 0 1 0 -2.40 0M352.1 129.2a1.20 1.20 0 1 0 2.40 0a1.20 1.20 0 1 0 -2.40 0M353.2 129.0a1.20 1.20 0 1 0 2.40 0a1.20 1.20 0 1 0 -2.40 0M370.3 129.2a1.20 1.20 0 1 0 2.40 0a1.20 1.20 0 1 0 -2.40 0M373.4 128.9a1.20 1.20 0 1 0 2.40 0a1.20 1.20 0 1 0 -2.40 0M352.8 130.0a1.20 1.20 0 1 0 2.40 0a1.20 1.20 0 1 0 -2.40 0M354.9 130.0a1.20 1.20 0 1 0 2.40 0a1.20 1.20 0 1 0 -2.40 0M370.5 130.0a1.20 1.20 0 1 0 2.40 0a1.20 1.20 0 1 0 -2.40 0M373.1 129.5a1.20 1.20 0 1 0 2.40 0a1.20 1.20 0 1 0 -2.40 0M373.1 131.2a1.20 1.20 0 1 0 2.40 0a1.20 1.20 0 1 0 -2.40 0M354.5 130.7a1.20 1.20 0 1 0 2.40 0a1.20 1.20 0 1 0 -2.40 0M354.2 131.4a1.20 1.20 0 1 0 2.40 0a1.20 1.20 0 1 0 -2.40 0M372.3 131.2a1.20 1.20 0 1 0 2.40 0a1.20 1.20 0 1 0 -2.40 0M372.1 131.4a1.20 1.20 0 1 0 2.40 0a1.20 1.20 0 1 0 -2.40 0M353.3 132.3a1.20 1.20 0 1 0 2.40 0a1.20 1.20 0 1 0 -2.40 0M374.1 131.9a1.20 1.20 0 1 0 2.40 0a1.20 1.20 0 1 0 -2.40 0M353.5 131.7a1.20 1.20 0 1 0 2.40 0a1.20 1.20 0 1 0 -2.40 0M354.9 132.0a1.20 1.20 0 1 0 2.40 0a1.20 1.20 0 1 0 -2.40 0M371.3 132.1a1.20 1.20 0 1 0 2.40 0a1.20 1.20 0 1 0 -2.40 0M370.4 131.9a1.20 1.20 0 1 0 2.40 0a1.20 1.20 0 1 0 -2.40 0M372.3 132.7a1.20 1.20 0 1 0 2.40 0a1.20 1.20 0 1 0 -2.40 0M351.7 132.9a1.20 1.20 0 1 0 2.40 0a1.20 1.20 0 1 0 -2.40 0M354.3 132.9a1.20 1.20 0 1 0 2.40 0a1.20 1.20 0 1 0 -2.40 0M374.1 133.5a1.20 1.20 0 1 0 2.40 0a1.20 1.20 0 1 0 -2.40 0M373.4 133.2a1.20 1.20 0 1 0 2.40 0a1.20 1.20 0 1 0 -2.40 0M343.2 133.7a1.20 1.20 0 1 0 2.40 0a1.20 1.20 0 1 0 -2.40 0M354.9 134.2a1.20 1.20 0 1 0 2.40 0a1.20 1.20 0 1 0 -2.40 0M354.4 134.4a1.20 1.20 0 1 0 2.40 0a1.20 1.20 0 1 0 -2.40 0M354.6 134.2a1.20 1.20 0 1 0 2.40 0a1.20 1.20 0 1 0 -2.40 0M370.4 133.8a1.20 1.20 0 1 0 2.40 0a1.20 1.20 0 1 0 -2.40 0M370.9 134.3a1.20 1.20 0 1 0 2.40 0a1.20 1.20 0 1 0 -2.40 0M372.7 134.4a1.20 1.20 0 1 0 2.40 0a1.20 1.20 0 1 0 -2.40 0M352.8 134.9a1.20 1.20 0 1 0 2.40 0a1.20 1.20 0 1 0 -2.40 0M372.4 135.3a1.20 1.20 0 1 0 2.40 0a1.20 1.20 0 1 0 -2.40 0M353.6 134.6a1.20 1.20 0 1 0 2.40 0a1.20 1.20 0 1 0 -2.40 0M354.3 134.8a1.20 1.20 0 1 0 2.40 0a1.20 1.20 0 1 0 -2.40 0M353.9 135.4a1.20 1.20 0 1 0 2.40 0a1.20 1.20 0 1 0 -2.40 0M371.3 135.5a1.20 1.20 0 1 0 2.40 0a1.20 1.20 0 1 0 -2.40 0M370.8 134.7a1.20 1.20 0 1 0 2.40 0a1.20 1.20 0 1 0 -2.40 0M353.7 136.2a1.20 1.20 0 1 0 2.40 0a1.20 1.20 0 1 0 -2.40 0M354.2 136.4a1.20 1.20 0 1 0 2.40 0a1.20 1.20 0 1 0 -2.40 0M373.0 136.0a1.20 1.20 0 1 0 2.40 0a1.20 1.20 0 1 0 -2.40 0M374.4 136.0a1.20 1.20 0 1 0 2.40 0a1.20 1.20 0 1 0 -2.40 0M383.2 136.8a1.20 1.20 0 1 0 2.40 0a1.20 1.20 0 1 0 -2.40 0M353.4 137.0a1.20 1.20 0 1 0 2.40 0a1.20 1.20 0 1 0 -2.40 0M351.8 137.3a1.20 1.20 0 1 0 2.40 0a1.20 1.20 0 1 0 -2.40 0M372.4 137.0a1.20 1.20 0 1 0 2.40 0a1.20 1.20 0 1 0 -2.40 0M371.3 136.6a1.20 1.20 0 1 0 2.40 0a1.20 1.20 0 1 0 -2.40 0M374.3 137.5a1.20 1.20 0 1 0 2.40 0a1.20 1.20 0 1 0 -2.40 0M372.0 137.8a1.20 1.20 0 1 0 2.40 0a1.20 1.20 0 1 0 -2.40 0M354.6 137.9a1.20 1.20 0 1 0 2.40 0a1.20 1.20 0 1 0 -2.40 0M354.0 137.9a1.20 1.20 0 1 0 2.40 0a1.20 1.20 0 1 0 -2.40 0M354.6 137.6a1.20 1.20 0 1 0 2.40 0a1.20 1.20 0 1 0 -2.40 0M371.7 137.7a1.20 1.20 0 1 0 2.40 0a1.20 1.20 0 1 0 -2.40 0M371.4 137.9a1.20 1.20 0 1 0 2.40 0a1.20 1.20 0 1 0 -2.40 0M352.7 139.2a1.20 1.20 0 1 0 2.40 0a1.20 1.20 0 1 0 -2.40 0M349.5 139.3a1.20 1.20 0 1 0 2.40 0a1.20 1.20 0 1 0 -2.40 0M353.4 139.0a1.20 1.20 0 1 0 2.40 0a1.20 1.20 0 1 0 -2.40 0M371.2 138.6a1.20 1.20 0 1 0 2.40 0a1.20 1.20 0 1 0 -2.40 0M371.4 139.3a1.20 1.20 0 1 0 2.40 0a1.20 1.20 0 1 0 -2.40 0M378.7 139.5a1.20 1.20 0 1 0 2.40 0a1.20 1.20 0 1 0 -2.40 0M354.3 139.8a1.20 1.20 0 1 0 2.40 0a1.20 1.20 0 1 0 -2.40 0M354.2 140.1a1.20 1.20 0 1 0 2.40 0a1.20 1.20 0 1 0 -2.40 0M374.0 140.0a1.20 1.20 0 1 0 2.40 0a1.20 1.20 0 1 0 -2.40 0M370.6 139.5a1.20 1.20 0 1 0 2.40 0a1.20 1.20 0 1 0 -2.40 0M352.7 140.7a1.20 1.20 0 1 0 2.40 0a1.20 1.20 0 1 0 -2.40 0M372.5 141.4a1.20 1.20 0 1 0 2.40 0a1.20 1.20 0 1 0 -2.40 0M353.4 141.3a1.20 1.20 0 1 0 2.40 0a1.20 1.20 0 1 0 -2.40 0M354.1 141.0a1.20 1.20 0 1 0 2.40 0a1.20 1.20 0 1 0 -2.40 0M354.4 141.0a1.20 1.20 0 1 0 2.40 0a1.20 1.20 0 1 0 -2.40 0M372.0 140.8a1.20 1.20 0 1 0 2.40 0a1.20 1.20 0 1 0 -2.40 0M372.2 141.0a1.20 1.20 0 1 0 2.40 0a1.20 1.20 0 1 0 -2.40 0M348.9 142.2a1.20 1.20 0 1 0 2.40 0a1.20 1.20 0 1 0 -2.40 0M349.1 142.3a1.20 1.20 0 1 0 2.40 0a1.20 1.20 0 1 0 -2.40 0M352.4 142.3a1.20 1.20 0 1 0 2.40 0a1.20 1.20 0 1 0 -2.40 0M371.1 142.3a1.20 1.20 0 1 0 2.40 0a1.20 1.20 0 1 0 -2.40 0M371.7 141.5a1.20 1.20 0 1 0 2.40 0a1.20 1.20 0 1 0 -2.40 0M373.0 141.6a1.20 1.20 0 1 0 2.40 0a1.20 1.20 0 1 0 -2.40 0M342.2 142.7a1.20 1.20 0 1 0 2.40 0a1.20 1.20 0 1 0 -2.40 0M351.6 142.9a1.20 1.20 0 1 0 2.40 0a1.20 1.20 0 1 0 -2.40 0M352.8 143.2a1.20 1.20 0 1 0 2.40 0a1.20 1.20 0 1 0 -2.40 0M352.1 142.7a1.20 1.20 0 1 0 2.40 0a1.20 1.20 0 1 0 -2.40 0M371.2 142.7a1.20 1.20 0 1 0 2.40 0a1.20 1.20 0 1 0 -2.40 0M373.3 142.7a1.20 1.20 0 1 0 2.40 0a1.20 1.20 0 1 0 -2.40 0M352.2 144.1a1.20 1.20 0 1 0 2.40 0a1.20 1.20 0 1 0 -2.40 0M374.1 144.5a1.20 1.20 0 1 0 2.40 0a1.20 1.20 0 1 0 -2.40 0M352.8 143.5a1.20 1.20 0 1 0 2.40 0a1.20 1.20 0 1 0 -2.40 0M353.4 143.6a1.20 1.20 0 1 0 2.40 0a1.20 1.20 0 1 0 -2.40 0M352.4 143.7a1.20 1.20 0 1 0 2.40 0a1.20 1.20 0 1 0 -2.40 0M371.3 144.2a1.20 1.20 0 1 0 2.40 0a1.20 1.20 0 1 0 -2.40 0M372.7 143.8a1.20 1.20 0 1 0 2.40 0a1.20 1.20 0 1 0 -2.40 0M371.6 143.8a1.20 1.20 0 1 0 2.40 0a1.20 1.20 0 1 0 -2.40 0M348.9 144.6a1.20 1.20 0 1 0 2.40 0a1.20 1.20 0 1 0 -2.40 0M376.6 144.8a1.20 1.20 0 1 0 2.40 0a1.20 1.20 0 1 0 -2.40 0M353.5 144.6a1.20 1.20 0 1 0 2.40 0a1.20 1.20 0 1 0 -2.40 0M353.7 145.4a1.20 1.20 0 1 0 2.40 0a1.20 1.20 0 1 0 -2.40 0M371.2 144.9a1.20 1.20 0 1 0 2.40 0a1.20 1.20 0 1 0 -2.40 0M372.8 144.7a1.20 1.20 0 1 0 2.40 0a1.20 1.20 0 1 0 -2.40 0M375.8 146.1a1.20 1.20 0 1 0 2.40 0a1.20 1.20 0 1 0 -2.40 0M346.6 146.0a1.20 1.20 0 1 0 2.40 0a1.20 1.20 0 1 0 -2.40 0M353.4 146.3a1.20 1.20 0 1 0 2.40 0a1.20 1.20 0 1 0 -2.40 0M353.6 146.2a1.20 1.20 0 1 0 2.40 0a1.20 1.20 0 1 0 -2.40 0M372.9 145.5a1.20 1.20 0 1 0 2.40 0a1.20 1.20 0 1 0 -2.40 0M371.4 146.3a1.20 1.20 0 1 0 2.40 0a1.20 1.20 0 1 0 -2.40 0M384.4 147.3a1.20 1.20 0 1 0 2.40 0a1.20 1.20 0 1 0 -2.40 0M350.0 146.5a1.20 1.20 0 1 0 2.40 0a1.20 1.20 0 1 0 -2.40 0M352.8 146.7a1.20 1.20 0 1 0 2.40 0a1.20 1.20 0 1 0 -2.40 0M353.1 147.0a1.20 1.20 0 1 0 2.40 0a1.20 1.20 0 1 0 -2.40 0M376.8 146.7a1.20 1.20 0 1 0 2.40 0a1.20 1.20 0 1 0 -2.40 0M373.3 146.9a1.20 1.20 0 1 0 2.40 0a1.20 1.20 0 1 0 -2.40 0M375.4 147.1a1.20 1.20 0 1 0 2.40 0a1.20 1.20 0 1 0 -2.40 0M345.6 148.1a1.20 1.20 0 1 0 2.40 0a1.20 1.20 0 1 0 -2.40 0M373.6 148.3a1.20 1.20 0 1 0 2.40 0a1.20 1.20 0 1 0 -2.40 0M352.3 148.5a1.20 1.20 0 1 0 2.40 0a1.20 1.20 0 1 0 -2.40 0M352.3 148.2a1.20 1.20 0 1 0 2.40 0a1.20 1.20 0 1 0 -2.40 0M372.3 148.1a1.20 1.20 0 1 0 2.40 0a1.20 1.20 0 1 0 -2.40 0M372.0 148.5a1.20 1.20 0 1 0 2.40 0a1.20 1.20 0 1 0 -2.40 0M379.0 148.1a1.20 1.20 0 1 0 2.40 0a1.20 1.20 0 1 0 -2.40 0M379.7 149.4a1.20 1.20 0 1 0 2.40 0a1.20 1.20 0 1 0 -2.40 0M351.8 149.2a1.20 1.20 0 1 0 2.40 0a1.20 1.20 0 1 0 -2.40 0M352.6 148.5a1.20 1.20 0 1 0 2.40 0a1.20 1.20 0 1 0 -2.40 0M352.8 149.0a1.20 1.20 0 1 0 2.40 0a1.20 1.20 0 1 0 -2.40 0M374.8 148.8a1.20 1.20 0 1 0 2.40 0a1.20 1.20 0 1 0 -2.40 0M372.0 148.9a1.20 1.20 0 1 0 2.40 0a1.20 1.20 0 1 0 -2.40 0M350.3 150.0a1.20 1.20 0 1 0 2.40 0a1.20 1.20 0 1 0 -2.40 0M373.6 149.7a1.20 1.20 0 1 0 2.40 0a1.20 1.20 0 1 0 -2.40 0M351.8 149.7a1.20 1.20 0 1 0 2.40 0a1.20 1.20 0 1 0 -2.40 0M351.2 150.1a1.20 1.20 0 1 0 2.40 0a1.20 1.20 0 1 0 -2.40 0M347.7 150.5a1.20 1.20 0 1 0 2.40 0a1.20 1.20 0 1 0 -2.40 0M372.0 150.0a1.20 1.20 0 1 0 2.40 0a1.20 1.20 0 1 0 -2.40 0M372.3 149.8a1.20 1.20 0 1 0 2.40 0a1.20 1.20 0 1 0 -2.40 0M346.0 151.2a1.20 1.20 0 1 0 2.40 0a1.20 1.20 0 1 0 -2.40 0M374.4 151.5a1.20 1.20 0 1 0 2.40 0a1.20 1.20 0 1 0 -2.40 0M350.9 150.7a1.20 1.20 0 1 0 2.40 0a1.20 1.20 0 1 0 -2.40 0M348.2 151.2a1.20 1.20 0 1 0 2.40 0a1.20 1.20 0 1 0 -2.40 0M372.2 150.9a1.20 1.20 0 1 0 2.40 0a1.20 1.20 0 1 0 -2.40 0M372.0 150.7a1.20 1.20 0 1 0 2.40 0a1.20 1.20 0 1 0 -2.40 0M374.4 151.8a1.20 1.20 0 1 0 2.40 0a1.20 1.20 0 1 0 -2.40 0M352.3 151.9a1.20 1.20 0 1 0 2.40 0a1.20 1.20 0 1 0 -2.40 0M351.4 151.5a1.20 1.20 0 1 0 2.40 0a1.20 1.20 0 1 0 -2.40 0M372.2 151.8a1.20 1.20 0 1 0 2.40 0a1.20 1.20 0 1 0 -2.40 0M372.7 152.5a1.20 1.20 0 1 0 2.40 0a1.20 1.20 0 1 0 -2.40 0M349.5 152.8a1.20 1.20 0 1 0 2.40 0a1.20 1.20 0 1 0 -2.40 0M374.3 152.8a1.20 1.20 0 1 0 2.40 0a1.20 1.20 0 1 0 -2.40 0M351.7 152.7a1.20 1.20 0 1 0 2.40 0a1.20 1.20 0 1 0 -2.40 0M352.4 153.3a1.20 1.20 0 1 0 2.40 0a1.20 1.20 0 1 0 -2.40 0M372.7 153.3a1.20 1.20 0 1 0 2.40 0a1.20 1.20 0 1 0 -2.40 0M377.8 153.1a1.20 1.20 0 1 0 2.40 0a1.20 1.20 0 1 0 -2.40 0M372.3 153.3a1.20 1.20 0 1 0 2.40 0a1.20 1.20 0 1 0 -2.40 0M351.0 153.8a1.20 1.20 0 1 0 2.40 0a1.20 1.20 0 1 0 -2.40 0M376.8 153.7a1.20 1.20 0 1 0 2.40 0a1.20 1.20 0 1 0 -2.40 0M351.9 153.7a1.20 1.20 0 1 0 2.40 0a1.20 1.20 0 1 0 -2.40 0M350.4 154.5a1.20 1.20 0 1 0 2.40 0a1.20 1.20 0 1 0 -2.40 0M372.4 153.5a1.20 1.20 0 1 0 2.40 0a1.20 1.20 0 1 0 -2.40 0M372.8 154.2a1.20 1.20 0 1 0 2.40 0a1.20 1.20 0 1 0 -2.40 0M379.2 155.2a1.20 1.20 0 1 0 2.40 0a1.20 1.20 0 1 0 -2.40 0M348.4 154.8a1.20 1.20 0 1 0 2.40 0a1.20 1.20 0 1 0 -2.40 0M351.3 155.3a1.20 1.20 0 1 0 2.40 0a1.20 1.20 0 1 0 -2.40 0M350.8 155.1a1.20 1.20 0 1 0 2.40 0a1.20 1.20 0 1 0 -2.40 0M374.1 154.6a1.20 1.20 0 1 0 2.40 0a1.20 1.20 0 1 0 -2.40 0M375.3 155.3a1.20 1.20 0 1 0 2.40 0a1.20 1.20 0 1 0 -2.40 0M374.2 155.1a1.20 1.20 0 1 0 2.40 0a1.20 1.20 0 1 0 -2.40 0M380.3 155.9a1.20 1.20 0 1 0 2.40 0a1.20 1.20 0 1 0 -2.40 0M335.8 155.6a1.20 1.20 0 1 0 2.40 0a1.20 1.20 0 1 0 -2.40 0M351.8 156.1a1.20 1.20 0 1 0 2.40 0a1.20 1.20 0 1 0 -2.40 0M344.1 155.9a1.20 1.20 0 1 0 2.40 0a1.20 1.20 0 1 0 -2.40 0M372.7 155.7a1.20 1.20 0 1 0 2.40 0a1.20 1.20 0 1 0 -2.40 0M373.4 155.8a1.20 1.20 0 1 0 2.40 0a1.20 1.20 0 1 0 -2.40 0M373.2 156.4a1.20 1.20 0 1 0 2.40 0a1.20 1.20 0 1 0 -2.40 0M375.2 157.2a1.20 1.20 0 1 0 2.40 0a1.20 1.20 0 1 0 -2.40 0M350.6 157.0a1.20 1.20 0 1 0 2.40 0a1.20 1.20 0 1 0 -2.40 0M351.0 157.3a1.20 1.20 0 1 0 2.40 0a1.20 1.20 0 1 0 -2.40 0M351.2 157.3a1.20 1.20 0 1 0 2.40 0a1.20 1.20 0 1 0 -2.40 0M374.5 156.6a1.20 1.20 0 1 0 2.40 0a1.20 1.20 0 1 0 -2.40 0M373.1 157.3a1.20 1.20 0 1 0 2.40 0a1.20 1.20 0 1 0 -2.40 0M380.1 158.3a1.20 1.20 0 1 0 2.40 0a1.20 1.20 0 1 0 -2.40 0M351.1 157.7a1.20 1.20 0 1 0 2.40 0a1.20 1.20 0 1 0 -2.40 0M351.2 158.2a1.20 1.20 0 1 0 2.40 0a1.20 1.20 0 1 0 -2.40 0M375.0 157.7a1.20 1.20 0 1 0 2.40 0a1.20 1.20 0 1 0 -2.40 0M374.7 157.8a1.20 1.20 0 1 0 2.40 0a1.20 1.20 0 1 0 -2.40 0M374.0 158.1a1.20 1.20 0 1 0 2.40 0a1.20 1.20 0 1 0 -2.40 0M348.8 159.3a1.20 1.20 0 1 0 2.40 0a1.20 1.20 0 1 0 -2.40 0M375.6 159.2a1.20 1.20 0 1 0 2.40 0a1.20 1.20 0 1 0 -2.40 0M375.0 159.3a1.20 1.20 0 1 0 2.40 0a1.20 1.20 0 1 0 -2.40 0M350.7 159.2a1.20 1.20 0 1 0 2.40 0a1.20 1.20 0 1 0 -2.40 0M349.4 159.5a1.20 1.20 0 1 0 2.40 0a1.20 1.20 0 1 0 -2.40 0M374.0 159.4a1.20 1.20 0 1 0 2.40 0a1.20 1.20 0 1 0 -2.40 0M373.8 159.4a1.20 1.20 0 1 0 2.40 0a1.20 1.20 0 1 0 -2.40 0M374.0 158.9a1.20 1.20 0 1 0 2.40 0a1.20 1.20 0 1 0 -2.40 0M341.9 159.7a1.20 1.20 0 1 0 2.40 0a1.20 1.20 0 1 0 -2.40 0M399.3 159.9a1.20 1.20 0 1 0 2.40 0a1.20 1.20 0 1 0 -2.40 0M349.1 160.2a1.20 1.20 0 1 0 2.40 0a1.20 1.20 0 1 0 -2.40 0M350.1 159.9a1.20 1.20 0 1 0 2.40 0a1.20 1.20 0 1 0 -2.40 0M375.1 159.8a1.20 1.20 0 1 0 2.40 0a1.20 1.20 0 1 0 -2.40 0M376.0 159.5a1.20 1.20 0 1 0 2.40 0a1.20 1.20 0 1 0 -2.40 0M375.8 159.7a1.20 1.20 0 1 0 2.40 0a1.20 1.20 0 1 0 -2.40 0M339.7 160.9a1.20 1.20 0 1 0 2.40 0a1.20 1.20 0 1 0 -2.40 0M376.2 160.7a1.20 1.20 0 1 0 2.40 0a1.20 1.20 0 1 0 -2.40 0M396.5 161.3a1.20 1.20 0 1 0 2.40 0a1.20 1.20 0 1 0 -2.40 0M350.6 161.1a1.20 1.20 0 1 0 2.40 0a1.20 1.20 0 1 0 -2.40 0M349.6 161.1a1.20 1.20 0 1 0 2.40 0a1.20 1.20 0 1 0 -2.40 0M347.7 161.3a1.20 1.20 0 1 0 2.40 0a1.20 1.20 0 1 0 -2.40 0M379.2 161.0a1.20 1.20 0 1 0 2.40 0a1.20 1.20 0 1 0 -2.40 0M374.7 160.7a1.20 1.20 0 1 0 2.40 0a1.20 1.20 0 1 0 -2.40 0M374.1 160.7a1.20 1.20 0 1 0 2.40 0a1.20 1.20 0 1 0 -2.40 0M344.7 161.8a1.20 1.20 0 1 0 2.40 0a1.20 1.20 0 1 0 -2.40 0M375.8 161.6a1.20 1.20 0 1 0 2.40 0a1.20 1.20 0 1 0 -2.40 0M349.4 162.0a1.20 1.20 0 1 0 2.40 0a1.20 1.20 0 1 0 -2.40 0M350.1 162.5a1.20 1.20 0 1 0 2.40 0a1.20 1.20 0 1 0 -2.40 0M376.4 161.5a1.20 1.20 0 1 0 2.40 0a1.20 1.20 0 1 0 -2.40 0M374.4 162.0a1.20 1.20 0 1 0 2.40 0a1.20 1.20 0 1 0 -2.40 0M374.9 162.2a1.20 1.20 0 1 0 2.40 0a1.20 1.20 0 1 0 -2.40 0M341.9 162.6a1.20 1.20 0 1 0 2.40 0a1.20 1.20 0 1 0 -2.40 0M377.2 163.0a1.20 1.20 0 1 0 2.40 0a1.20 1.20 0 1 0 -2.40 0M378.4 162.6a1.20 1.20 0 1 0 2.40 0a1.20 1.20 0 1 0 -2.40 0M350.0 162.6a1.20 1.20 0 1 0 2.40 0a1.20 1.20 0 1 0 -2.40 0M348.4 163.5a1.20 1.20 0 1 0 2.40 0a1.20 1.20 0 1 0 -2.40 0M348.7 162.7a1.20 1.20 0 1 0 2.40 0a1.20 1.20 0 1 0 -2.40 0M375.2 162.8a1.20 1.20 0 1 0 2.40 0a1.20 1.20 0 1 0 -2.40 0M376.7 162.8a1.20 1.20 0 1 0 2.40 0a1.20 1.20 0 1 0 -2.40 0M348.4 163.7a1.20 1.20 0 1 0 2.40 0a1.20 1.20 0 1 0 -2.40 0M379.3 164.2a1.20 1.20 0 1 0 2.40 0a1.20 1.20 0 1 0 -2.40 0M349.4 163.9a1.20 1.20 0 1 0 2.40 0a1.20 1.20 0 1 0 -2.40 0M348.7 163.8a1.20 1.20 0 1 0 2.40 0a1.20 1.20 0 1 0 -2.40 0M348.7 163.5a1.20 1.20 0 1 0 2.40 0a1.20 1.20 0 1 0 -2.40 0M374.5 164.0a1.20 1.20 0 1 0 2.40 0a1.20 1.20 0 1 0 -2.40 0M375.5 164.4a1.20 1.20 0 1 0 2.40 0a1.20 1.20 0 1 0 -2.40 0M377.6 164.4a1.20 1.20 0 1 0 2.40 0a1.20 1.20 0 1 0 -2.40 0M346.3 165.3a1.20 1.20 0 1 0 2.40 0a1.20 1.20 0 1 0 -2.40 0M378.6 164.6a1.20 1.20 0 1 0 2.40 0a1.20 1.20 0 1 0 -2.40 0M385.8 165.2a1.20 1.20 0 1 0 2.40 0a1.20 1.20 0 1 0 -2.40 0M349.3 165.3a1.20 1.20 0 1 0 2.40 0a1.20 1.20 0 1 0 -2.40 0M347.7 165.0a1.20 1.20 0 1 0 2.40 0a1.20 1.20 0 1 0 -2.40 0M377.1 165.0a1.20 1.20 0 1 0 2.40 0a1.20 1.20 0 1 0 -2.40 0M379.2 165.4a1.20 1.20 0 1 0 2.40 0a1.20 1.20 0 1 0 -2.40 0M375.2 165.0a1.20 1.20 0 1 0 2.40 0a1.20 1.20 0 1 0 -2.40 0M334.3 166.4a1.20 1.20 0 1 0 2.40 0a1.20 1.20 0 1 0 -2.40 0M378.6 165.8a1.20 1.20 0 1 0 2.40 0a1.20 1.20 0 1 0 -2.40 0M382.4 166.2a1.20 1.20 0 1 0 2.40 0a1.20 1.20 0 1 0 -2.40 0M348.2 166.2a1.20 1.20 0 1 0 2.40 0a1.20 1.20 0 1 0 -2.40 0M349.4 166.0a1.20 1.20 0 1 0 2.40 0a1.20 1.20 0 1 0 -2.40 0M376.7 166.3a1.20 1.20 0 1 0 2.40 0a1.20 1.20 0 1 0 -2.40 0M375.0 166.4a1.20 1.20 0 1 0 2.40 0a1.20 1.20 0 1 0 -2.40 0M342.2 167.3a1.20 1.20 0 1 0 2.40 0a1.20 1.20 0 1 0 -2.40 0M377.2 166.7a1.20 1.20 0 1 0 2.40 0a1.20 1.20 0 1 0 -2.40 0M380.6 167.4a1.20 1.20 0 1 0 2.40 0a1.20 1.20 0 1 0 -2.40 0M344.9 167.3a1.20 1.20 0 1 0 2.40 0a1.20 1.20 0 1 0 -2.40 0M349.1 166.5a1.20 1.20 0 1 0 2.40 0a1.20 1.20 0 1 0 -2.40 0M339.3 167.0a1.20 1.20 0 1 0 2.40 0a1.20 1.20 0 1 0 -2.40 0M377.9 166.8a1.20 1.20 0 1 0 2.40 0a1.20 1.20 0 1 0 -2.40 0M374.7 167.4a1.20 1.20 0 1 0 2.40 0a1.20 1.20 0 1 0 -2.40 0M344.7 168.2a1.20 1.20 0 1 0 2.40 0a1.20 1.20 0 1 0 -2.40 0M393.3 168.1a1.20 1.20 0 1 0 2.40 0a1.20 1.20 0 1 0 -2.40 0M399.4 168.2a1.20 1.20 0 1 0 2.40 0a1.20 1.20 0 1 0 -2.40 0M348.7 168.0a1.20 1.20 0 1 0 2.40 0a1.20 1.20 0 1 0 -2.40 0M345.8 168.0a1.20 1.20 0 1 0 2.40 0a1.20 1.20 0 1 0 -2.40 0M347.8 167.7a1.20 1.20 0 1 0 2.40 0a1.20 1.20 0 1 0 -2.40 0M375.2 167.8a1.20 1.20 0 1 0 2.40 0a1.20 1.20 0 1 0 -2.40 0M375.8 168.4a1.20 1.20 0 1 0 2.40 0a1.20 1.20 0 1 0 -2.40 0M375.3 167.7a1.20 1.20 0 1 0 2.40 0a1.20 1.20 0 1 0 -2.40 0M330.9 168.7a1.20 1.20 0 1 0 2.40 0a1.20 1.20 0 1 0 -2.40 0M379.4 168.6a1.20 1.20 0 1 0 2.40 0a1.20 1.20 0 1 0 -2.40 0M376.7 169.1a1.20 1.20 0 1 0 2.40 0a1.20 1.20 0 1 0 -2.40 0M348.4 169.3a1.20 1.20 0 1 0 2.40 0a1.20 1.20 0 1 0 -2.40 0M347.7 169.1a1.20 1.20 0 1 0 2.40 0a1.20 1.20 0 1 0 -2.40 0M347.1 169.2a1.20 1.20 0 1 0 2.40 0a1.20 1.20 0 1 0 -2.40 0M380.5 168.6a1.20 1.20 0 1 0 2.40 0a1.20 1.20 0 1 0 -2.40 0M377.1 168.5a1.20 1.20 0 1 0 2.40 0a1.20 1.20 0 1 0 -2.40 0M345.6 169.6a1.20 1.20 0 1 0 2.40 0a1.20 1.20 0 1 0 -2.40 0M346.4 169.7a1.20 1.20 0 1 0 2.40 0a1.20 1.20 0 1 0 -2.40 0M385.9 170.0a1.20 1.20 0 1 0 2.40 0a1.20 1.20 0 1 0 -2.40 0M346.4 170.1a1.20 1.20 0 1 0 2.40 0a1.20 1.20 0 1 0 -2.40 0M348.5 170.0a1.20 1.20 0 1 0 2.40 0a1.20 1.20 0 1 0 -2.40 0M376.0 170.5a1.20 1.20 0 1 0 2.40 0a1.20 1.20 0 1 0 -2.40 0M375.4 169.8a1.20 1.20 0 1 0 2.40 0a1.20 1.20 0 1 0 -2.40 0M376.4 170.2a1.20 1.20 0 1 0 2.40 0a1.20 1.20 0 1 0 -2.40 0M344.2 171.0a1.20 1.20 0 1 0 2.40 0a1.20 1.20 0 1 0 -2.40 0M331.3 170.5a1.20 1.20 0 1 0 2.40 0a1.20 1.20 0 1 0 -2.40 0M381.4 171.4a1.20 1.20 0 1 0 2.40 0a1.20 1.20 0 1 0 -2.40 0M346.7 170.5a1.20 1.20 0 1 0 2.40 0a1.20 1.20 0 1 0 -2.40 0M348.0 171.1a1.20 1.20 0 1 0 2.40 0a1.20 1.20 0 1 0 -2.40 0M347.8 171.0a1.20 1.20 0 1 0 2.40 0a1.20 1.20 0 1 0 -2.40 0M376.4 171.2a1.20 1.20 0 1 0 2.40 0a1.20 1.20 0 1 0 -2.40 0M376.4 170.8a1.20 1.20 0 1 0 2.40 0a1.20 1.20 0 1 0 -2.40 0M344.1 171.5a1.20 1.20 0 1 0 2.40 0a1.20 1.20 0 1 0 -2.40 0M379.8 171.7a1.20 1.20 0 1 0 2.40 0a1.20 1.20 0 1 0 -2.40 0M379.9 171.6a1.20 1.20 0 1 0 2.40 0a1.20 1.20 0 1 0 -2.40 0M347.0 171.8a1.20 1.20 0 1 0 2.40 0a1.20 1.20 0 1 0 -2.40 0M346.9 172.1a1.20 1.20 0 1 0 2.40 0a1.20 1.20 0 1 0 -2.40 0M377.9 172.0a1.20 1.20 0 1 0 2.40 0a1.20 1.20 0 1 0 -2.40 0M379.3 172.3a1.20 1.20 0 1 0 2.40 0a1.20 1.20 0 1 0 -2.40 0M377.1 171.7a1.20 1.20 0 1 0 2.40 0a1.20 1.20 0 1 0 -2.40 0M323.5 173.3a1.20 1.20 0 1 0 2.40 0a1.20 1.20 0 1 0 -2.40 0M346.5 172.8a1.20 1.20 0 1 0 2.40 0a1.20 1.20 0 1 0 -2.40 0M383.5 173.4a1.20 1.20 0 1 0 2.40 0a1.20 1.20 0 1 0 -2.40 0M383.9 173.2a1.20 1.20 0 1 0 2.40 0a1.20 1.20 0 1 0 -2.40 0M381.5 173.2a1.20 1.20 0 1 0 2.40 0a1.20 1.20 0 1 0 -2.40 0M345.4 172.7a1.20 1.20 0 1 0 2.40 0a1.20 1.20 0 1 0 -2.40 0M347.0 173.1a1.20 1.20 0 1 0 2.40 0a1.20 1.20 0 1 0 -2.40 0M376.6 173.4a1.20 1.20 0 1 0 2.40 0a1.20 1.20 0 1 0 -2.40 0M375.4 173.2a1.20 1.20 0 1 0 2.40 0a1.20 1.20 0 1 0 -2.40 0M377.3 173.4a1.20 1.20 0 1 0 2.40 0a1.20 1.20 0 1 0 -2.40 0M340.5 174.1a1.20 1.20 0 1 0 2.40 0a1.20 1.20 0 1 0 -2.40 0M342.7 173.9a1.20 1.20 0 1 0 2.40 0a1.20 1.20 0 1 0 -2.40 0M379.3 174.3a1.20 1.20 0 1 0 2.40 0a1.20 1.20 0 1 0 -2.40 0M381.7 173.9a1.20 1.20 0 1 0 2.40 0a1.20 1.20 0 1 0 -2.40 0M345.8 174.3a1.20 1.20 0 1 0 2.40 0a1.20 1.20 0 1 0 -2.40 0M345.1 174.2a1.20 1.20 0 1 0 2.40 0a1.20 1.20 0 1 0 -2.40 0M375.4 173.6a1.20 1.20 0 1 0 2.40 0a1.20 1.20 0 1 0 -2.40 0M375.5 174.0a1.20 1.20 0 1 0 2.40 0a1.20 1.20 0 1 0 -2.40 0M375.5 174.0a1.20 1.20 0 1 0 2.40 0a1.20 1.20 0 1 0 -2.40 0M342.9 175.4a1.20 1.20 0 1 0 2.40 0a1.20 1.20 0 1 0 -2.40 0M343.7 175.0a1.20 1.20 0 1 0 2.40 0a1.20 1.20 0 1 0 -2.40 0M377.6 175.1a1.20 1.20 0 1 0 2.40 0a1.20 1.20 0 1 0 -2.40 0M377.6 174.6a1.20 1.20 0 1 0 2.40 0a1.20 1.20 0 1 0 -2.40 0M345.5 175.5a1.20 1.20 0 1 0 2.40 0a1.20 1.20 0 1 0 -2.40 0M347.2 174.7a1.20 1.20 0 1 0 2.40 0a1.20 1.20 0 1 0 -2.40 0M342.0 175.1a1.20 1.20 0 1 0 2.40 0a1.20 1.20 0 1 0 -2.40 0M386.8 175.2a1.20 1.20 0 1 0 2.40 0a1.20 1.20 0 1 0 -2.40 0M376.0 175.5a1.20 1.20 0 1 0 2.40 0a1.20 1.20 0 1 0 -2.40 0M346.2 176.5a1.20 1.20 0 1 0 2.40 0a1.20 1.20 0 1 0 -2.40 0M339.9 175.7a1.20 1.20 0 1 0 2.40 0a1.20 1.20 0 1 0 -2.40 0M379.2 176.3a1.20 1.20 0 1 0 2.40 0a1.20 1.20 0 1 0 -2.40 0M380.2 175.6a1.20 1.20 0 1 0 2.40 0a1.20 1.20 0 1 0 -2.40 0M346.8 175.7a1.20 1.20 0 1 0 2.40 0a1.20 1.20 0 1 0 -2.40 0M345.5 175.6a1.20 1.20 0 1 0 2.40 0a1.20 1.20 0 1 0 -2.40 0M376.6 175.6a1.20 1.20 0 1 0 2.40 0a1.20 1.20 0 1 0 -2.40 0M380.6 176.2a1.20 1.20 0 1 0 2.40 0a1.20 1.20 0 1 0 -2.40 0M331.8 177.1a1.20 1.20 0 1 0 2.40 0a1.20 1.20 0 1 0 -2.40 0M335.4 177.3a1.20 1.20 0 1 0 2.40 0a1.20 1.20 0 1 0 -2.40 0M344.9 176.8a1.20 1.20 0 1 0 2.40 0a1.20 1.20 0 1 0 -2.40 0M388.2 177.4a1.20 1.20 0 1 0 2.40 0a1.20 1.20 0 1 0 -2.40 0M382.7 177.2a1.20 1.20 0 1 0 2.40 0a1.20 1.20 0 1 0 -2.40 0M402.1 177.0a1.20 1.20 0 1 0 2.40 0a1.20 1.20 0 1 0 -2.40 0M346.8 177.5a1.20 1.20 0 1 0 2.40 0a1.20 1.20 0 1 0 -2.40 0M347.1 176.7a1.20 1.20 0 1 0 2.40 0a1.20 1.20 0 1 0 -2.40 0M344.3 176.5a1.20 1.20 0 1 0 2.40 0a1.20 1.20 0 1 0 -2.40 0M377.0 176.7a1.20 1.20 0 1 0 2.40 0a1.20 1.20 0 1 0 -2.40 0M376.6 176.5a1.20 1.20 0 1 0 2.40 0a1.20 1.20 0 1 0 -2.40 0M377.6 176.6a1.20 1.20 0 1 0 2.40 0a1.20 1.20 0 1 0 -2.40 0M345.3 178.2a1.20 1.20 0 1 0 2.40 0a1.20 1.20 0 1 0 -2.40 0M344.4 178.1a1.20 1.20 0 1 0 2.40 0a1.20 1.20 0 1 0 -2.40 0M345.7 178.1a1.20 1.20 0 1 0 2.40 0a1.20 1.20 0 1 0 -2.40 0M393.4 177.7a1.20 1.20 0 1 0 2.40 0a1.20 1.20 0 1 0 -2.40 0M379.5 178.4a1.20 1.20 0 1 0 2.40 0a1.20 1.20 0 1 0 -2.40 0M346.1 178.0a1.20 1.20 0 1 0 2.40 0a1.20 1.20 0 1 0 -2.40 0M346.6 177.7a1.20 1.20 0 1 0 2.40 0a1.20 1.20 0 1 0 -2.40 0M346.0 177.5a1.20 1.20 0 1 0 2.40 0a1.20 1.20 0 1 0 -2.40 0M376.5 177.9a1.20 1.20 0 1 0 2.40 0a1.20 1.20 0 1 0 -2.40 0M376.4 178.2a1.20 1.20 0 1 0 2.40 0a1.20 1.20 0 1 0 -2.40 0M376.8 178.1a1.20 1.20 0 1 0 2.40 0a1.20 1.20 0 1 0 -2.40 0M337.9 179.4a1.20 1.20 0 1 0 2.40 0a1.20 1.20 0 1 0 -2.40 0M340.5 179.2a1.20 1.20 0 1 0 2.40 0a1.20 1.20 0 1 0 -2.40 0M377.8 179.3a1.20 1.20 0 1 0 2.40 0a1.20 1.20 0 1 0 -2.40 0M382.5 178.5a1.20 1.20 0 1 0 2.40 0a1.20 1.20 0 1 0 -2.40 0M345.9 179.4a1.20 1.20 0 1 0 2.40 0a1.20 1.20 0 1 0 -2.40 0M346.1 179.0a1.20 1.20 0 1 0 2.40 0a1.20 1.20 0 1 0 -2.40 0M380.3 179.3a1.20 1.20 0 1 0 2.40 0a1.20 1.20 0 1 0 -2.40 0M377.0 178.9a1.20 1.20 0 1 0 2.40 0a1.20 1.20 0 1 0 -2.40 0M330.9 180.0a1.20 1.20 0 1 0 2.40 0a1.20 1.20 0 1 0 -2.40 0M337.8 180.1a1.20 1.20 0 1 0 2.40 0a1.20 1.20 0 1 0 -2.40 0M379.1 179.8a1.20 1.20 0 1 0 2.40 0a1.20 1.20 0 1 0 -2.40 0M379.5 180.5a1.20 1.20 0 1 0 2.40 0a1.20 1.20 0 1 0 -2.40 0M346.5 179.7a1.20 1.20 0 1 0 2.40 0a1.20 1.20 0 1 0 -2.40 0M344.1 180.2a1.20 1.20 0 1 0 2.40 0a1.20 1.20 0 1 0 -2.40 0M346.3 179.6a1.20 1.20 0 1 0 2.40 0a1.20 1.20 0 1 0 -2.40 0M378.4 180.1a1.20 1.20 0 1 0 2.40 0a1.20 1.20 0 1 0 -2.40 0M378.3 180.1a1.20 1.20 0 1 0 2.40 0a1.20 1.20 0 1 0 -2.40 0M335.0 181.4a1.20 1.20 0 1 0 2.40 0a1.20 1.20 0 1 0 -2.40 0M344.3 180.9a1.20 1.20 0 1 0 2.40 0a1.20 1.20 0 1 0 -2.40 0M318.4 181.5a1.20 1.20 0 1 0 2.40 0a1.20 1.20 0 1 0 -2.40 0M390.7 180.7a1.20 1.20 0 1 0 2.40 0a1.20 1.20 0 1 0 -2.40 0M392.4 181.3a1.20 1.20 0 1 0 2.40 0a1.20 1.20 0 1 0 -2.40 0M342.8 181.3a1.20 1.20 0 1 0 2.40 0a1.20 1.20 0 1 0 -2.40 0M342.7 181.4a1.20 1.20 0 1 0 2.40 0a1.20 1.20 0 1 0 -2.40 0M346.5 180.7a1.20 1.20 0 1 0 2.40 0a1.20 1.20 0 1 0 -2.40 0M376.7 180.8a1.20 1.20 0 1 0 2.40 0a1.20 1.20 0 1 0 -2.40 0M378.9 181.3a1.20 1.20 0 1 0 2.40 0a1.20 1.20 0 1 0 -2.40 0M341.8 182.2a1.20 1.20 0 1 0 2.40 0a1.20 1.20 0 1 0 -2.40 0M308.9 182.1a1.20 1.20 0 1 0 2.40 0a1.20 1.20 0 1 0 -2.40 0M342.5 181.7a1.20 1.20 0 1 0 2.40 0a1.20 1.20 0 1 0 -2.40 0M384.6 182.2a1.20 1.20 0 1 0 2.40 0a1.20 1.20 0 1 0 -2.40 0M379.6 182.2a1.20 1.20 0 1 0 2.40 0a1.20 1.20 0 1 0 -2.40 0M384.4 182.1a1.20 1.20 0 1 0 2.40 0a1.20 1.20 0 1 0 -2.40 0M345.7 181.5a1.20 1.20 0 1 0 2.40 0a1.20 1.20 0 1 0 -2.40 0M345.3 182.2a1.20 1.20 0 1 0 2.40 0a1.20 1.20 0 1 0 -2.40 0M382.3 182.1a1.20 1.20 0 1 0 2.40 0a1.20 1.20 0 1 0 -2.40 0M376.8 182.4a1.20 1.20 0 1 0 2.40 0a1.20 1.20 0 1 0 -2.40 0M322.7 183.4a1.20 1.20 0 1 0 2.40 0a1.20 1.20 0 1 0 -2.40 0M344.6 182.6a1.20 1.20 0 1 0 2.40 0a1.20 1.20 0 1 0 -2.40 0M344.9 183.2a1.20 1.20 0 1 0 2.40 0a1.20 1.20 0 1 0 -2.40 0M385.0 182.8a1.20 1.20 0 1 0 2.40 0a1.20 1.20 0 1 0 -2.40 0M384.5 182.6a1.20 1.20 0 1 0 2.40 0a1.20 1.20 0 1 0 -2.40 0M344.3 182.7a1.20 1.20 0 1 0 2.40 0a1.20 1.20 0 1 0 -2.40 0M346.2 183.1a1.20 1.20 0 1 0 2.40 0a1.20 1.20 0 1 0 -2.40 0M339.9 183.4a1.20 1.20 0 1 0 2.40 0a1.20 1.20 0 1 0 -2.40 0M378.7 182.5a1.20 1.20 0 1 0 2.40 0a1.20 1.20 0 1 0 -2.40 0M377.0 183.1a1.20 1.20 0 1 0 2.40 0a1.20 1.20 0 1 0 -2.40 0M332.5 183.5a1.20 1.20 0 1 0 2.40 0a1.20 1.20 0 1 0 -2.40 0M338.3 183.6a1.20 1.20 0 1 0 2.40 0a1.20 1.20 0 1 0 -2.40 0M378.7 184.0a1.20 1.20 0 1 0 2.40 0a1.20 1.20 0 1 0 -2.40 0M389.0 184.5a1.20 1.20 0 1 0 2.40 0a1.20 1.20 0 1 0 -2.40 0M343.8 183.8a1.20 1.20 0 1 0 2.40 0a1.20 1.20 0 1 0 -2.40 0M344.6 184.0a1.20 1.20 0 1 0 2.40 0a1.20 1.20 0 1 0 -2.40 0M378.3 183.9a1.20 1.20 0 1 0 2.40 0a1.20 1.20 0 1 0 -2.40 0M377.6 184.3a1.20 1.20 0 1 0 2.40 0a1.20 1.20 0 1 0 -2.40 0M378.5 184.5a1.20 1.20 0 1 0 2.40 0a1.20 1.20 0 1 0 -2.40 0M333.6 184.6a1.20 1.20 0 1 0 2.40 0a1.20 1.20 0 1 0 -2.40 0M340.0 185.0a1.20 1.20 0 1 0 2.40 0a1.20 1.20 0 1 0 -2.40 0M396.2 184.7a1.20 1.20 0 1 0 2.40 0a1.20 1.20 0 1 0 -2.40 0M378.3 185.4a1.20 1.20 0 1 0 2.40 0a1.20 1.20 0 1 0 -2.40 0M345.4 185.1a1.20 1.20 0 1 0 2.40 0a1.20 1.20 0 1 0 -2.40 0M345.3 184.9a1.20 1.20 0 1 0 2.40 0a1.20 1.20 0 1 0 -2.40 0M378.9 185.4a1.20 1.20 0 1 0 2.40 0a1.20 1.20 0 1 0 -2.40 0M377.7 185.0a1.20 1.20 0 1 0 2.40 0a1.20 1.20 0 1 0 -2.40 0M314.8 186.0a1.20 1.20 0 1 0 2.40 0a1.20 1.20 0 1 0 -2.40 0M327.1 186.5a1.20 1.20 0 1 0 2.40 0a1.20 1.20 0 1 0 -2.40 0M344.2 186.3a1.20 1.20 0 1 0 2.40 0a1.20 1.20 0 1 0 -2.40 0M383.7 186.1a1.20 1.20 0 1 0 2.40 0a1.20 1.20 0 1 0 -2.40 0M379.2 186.1a1.20 1.20 0 1 0 2.40 0a1.20 1.20 0 1 0 -2.40 0M387.4 185.8a1.20 1.20 0 1 0 2.40 0a1.20 1.20 0 1 0 -2.40 0M344.8 185.7a1.20 1.20 0 1 0 2.40 0a1.20 1.20 0 1 0 -2.40 0M345.2 186.4a1.20 1.20 0 1 0 2.40 0a1.20 1.20 0 1 0 -2.40 0M378.6 186.3a1.20 1.20 0 1 0 2.40 0a1.20 1.20 0 1 0 -2.40 0M380.3 186.3a1.20 1.20 0 1 0 2.40 0a1.20 1.20 0 1 0 -2.40 0M338.6 186.8a1.20 1.20 0 1 0 2.40 0a1.20 1.20 0 1 0 -2.40 0M343.5 187.4a1.20 1.20 0 1 0 2.40 0a1.20 1.20 0 1 0 -2.40 0M343.4 186.9a1.20 1.20 0 1 0 2.40 0a1.20 1.20 0 1 0 -2.40 0M381.7 187.4a1.20 1.20 0 1 0 2.40 0a1.20 1.20 0 1 0 -2.40 0M379.2 186.6a1.20 1.20 0 1 0 2.40 0a1.20 1.20 0 1 0 -2.40 0M343.6 187.3a1.20 1.20 0 1 0 2.40 0a1.20 1.20 0 1 0 -2.40 0M341.6 187.3a1.20 1.20 0 1 0 2.40 0a1.20 1.20 0 1 0 -2.40 0M344.9 187.5a1.20 1.20 0 1 0 2.40 0a1.20 1.20 0 1 0 -2.40 0M378.8 186.8a1.20 1.20 0 1 0 2.40 0a1.20 1.20 0 1 0 -2.40 0M377.8 186.7a1.20 1.20 0 1 0 2.40 0a1.20 1.20 0 1 0 -2.40 0M385.9 187.5a1.20 1.20 0 1 0 2.40 0a1.20 1.20 0 1 0 -2.40 0M343.3 188.1a1.20 1.20 0 1 0 2.40 0a1.20 1.20 0 1 0 -2.40 0M342.0 187.8a1.20 1.20 0 1 0 2.40 0a1.20 1.20 0 1 0 -2.40 0M381.1 187.9a1.20 1.20 0 1 0 2.40 0a1.20 1.20 0 1 0 -2.40 0M379.4 187.8a1.20 1.20 0 1 0 2.40 0a1.20 1.20 0 1 0 -2.40 0M344.6 187.6a1.20 1.20 0 1 0 2.40 0a1.20 1.20 0 1 0 -2.40 0M343.9 187.6a1.20 1.20 0 1 0 2.40 0a1.20 1.20 0 1 0 -2.40 0M340.3 187.8a1.20 1.20 0 1 0 2.40 0a1.20 1.20 0 1 0 -2.40 0M378.3 188.3a1.20 1.20 0 1 0 2.40 0a1.20 1.20 0 1 0 -2.40 0M378.5 187.6a1.20 1.20 0 1 0 2.40 0a1.20 1.20 0 1 0 -2.40 0M378.9 188.4a1.20 1.20 0 1 0 2.40 0a1.20 1.20 0 1 0 -2.40 0M338.8 189.1a1.20 1.20 0 1 0 2.40 0a1.20 1.20 0 1 0 -2.40 0M342.6 189.4a1.20 1.20 0 1 0 2.40 0a1.20 1.20 0 1 0 -2.40 0M381.9 189.3a1.20 1.20 0 1 0 2.40 0a1.20 1.20 0 1 0 -2.40 0M381.1 189.0a1.20 1.20 0 1 0 2.40 0a1.20 1.20 0 1 0 -2.40 0M343.0 188.8a1.20 1.20 0 1 0 2.40 0a1.20 1.20 0 1 0 -2.40 0M343.0 188.8a1.20 1.20 0 1 0 2.40 0a1.20 1.20 0 1 0 -2.40 0M344.3 188.6a1.20 1.20 0 1 0 2.40 0a1.20 1.20 0 1 0 -2.40 0M379.5 189.0a1.20 1.20 0 1 0 2.40 0a1.20 1.20 0 1 0 -2.40 0M380.3 188.8a1.20 1.20 0 1 0 2.40 0a1.20 1.20 0 1 0 -2.40 0M339.1 190.3a1.20 1.20 0 1 0 2.40 0a1.20 1.20 0 1 0 -2.40 0M333.8 190.0a1.20 1.20 0 1 0 2.40 0a1.20 1.20 0 1 0 -2.40 0M336.3 189.8a1.20 1.20 0 1 0 2.40 0a1.20 1.20 0 1 0 -2.40 0M387.6 190.3a1.20 1.20 0 1 0 2.40 0a1.20 1.20 0 1 0 -2.40 0M383.5 190.1a1.20 1.20 0 1 0 2.40 0a1.20 1.20 0 1 0 -2.40 0M342.6 190.3a1.20 1.20 0 1 0 2.40 0a1.20 1.20 0 1 0 -2.40 0M343.3 190.3a1.20 1.20 0 1 0 2.40 0a1.20 1.20 0 1 0 -2.40 0M380.2 189.6a1.20 1.20 0 1 0 2.40 0a1.20 1.20 0 1 0 -2.40 0M379.8 190.4a1.20 1.20 0 1 0 2.40 0a1.20 1.20 0 1 0 -2.40 0M379.0 189.7a1.20 1.20 0 1 0 2.40 0a1.20 1.20 0 1 0 -2.40 0M335.0 191.2a1.20 1.20 0 1 0 2.40 0a1.20 1.20 0 1 0 -2.40 0M334.4 191.2a1.20 1.20 0 1 0 2.40 0a1.20 1.20 0 1 0 -2.40 0M381.8 191.0a1.20 1.20 0 1 0 2.40 0a1.20 1.20 0 1 0 -2.40 0M383.0 190.5a1.20 1.20 0 1 0 2.40 0a1.20 1.20 0 1 0 -2.40 0M337.5 191.0a1.20 1.20 0 1 0 2.40 0a1.20 1.20 0 1 0 -2.40 0M341.1 191.1a1.20 1.20 0 1 0 2.40 0a1.20 1.20 0 1 0 -2.40 0M380.7 191.5a1.20 1.20 0 1 0 2.40 0a1.20 1.20 0 1 0 -2.40 0M381.1 190.8a1.20 1.20 0 1 0 2.40 0a1.20 1.20 0 1 0 -2.40 0M383.2 191.2a1.20 1.20 0 1 0 2.40 0a1.20 1.20 0 1 0 -2.40 0M329.2 192.1a1.20 1.20 0 1 0 2.40 0a1.20 1.20 0 1 0 -2.40 0M337.6 192.0a1.20 1.20 0 1 0 2.40 0a1.20 1.20 0 1 0 -2.40 0M394.7 191.6a1.20 1.20 0 1 0 2.40 0a1.20 1.20 0 1 0 -2.40 0M413.5 191.8a1.20 1.20 0 1 0 2.40 0a1.20 1.20 0 1 0 -2.40 0M341.4 191.8a1.20 1.20 0 1 0 2.40 0a1.20 1.20 0 1 0 -2.40 0M341.5 191.6a1.20 1.20 0 1 0 2.40 0a1.20 1.20 0 1 0 -2.40 0M339.7 191.6a1.20 1.20 0 1 0 2.40 0a1.20 1.20 0 1 0 -2.40 0M382.9 192.3a1.20 1.20 0 1 0 2.40 0a1.20 1.20 0 1 0 -2.40 0M382.0 191.7a1.20 1.20 0 1 0 2.40 0a1.20 1.20 0 1 0 -2.40 0M340.9 193.2a1.20 1.20 0 1 0 2.40 0a1.20 1.20 0 1 0 -2.40 0M331.1 192.7a1.20 1.20 0 1 0 2.40 0a1.20 1.20 0 1 0 -2.40 0M382.1 193.2a1.20 1.20 0 1 0 2.40 0a1.20 1.20 0 1 0 -2.40 0M389.9 192.6a1.20 1.20 0 1 0 2.40 0a1.20 1.20 0 1 0 -2.40 0M339.1 192.7a1.20 1.20 0 1 0 2.40 0a1.20 1.20 0 1 0 -2.40 0M338.7 192.8a1.20 1.20 0 1 0 2.40 0a1.20 1.20 0 1 0 -2.40 0M380.3 193.3a1.20 1.20 0 1 0 2.40 0a1.20 1.20 0 1 0 -2.40 0M380.5 193.4a1.20 1.20 0 1 0 2.40 0a1.20 1.20 0 1 0 -2.40 0M381.1 192.6a1.20 1.20 0 1 0 2.40 0a1.20 1.20 0 1 0 -2.40 0M338.2 193.6a1.20 1.20 0 1 0 2.40 0a1.20 1.20 0 1 0 -2.40 0M340.8 193.8a1.20 1.20 0 1 0 2.40 0a1.20 1.20 0 1 0 -2.40 0M386.6 194.1a1.20 1.20 0 1 0 2.40 0a1.20 1.20 0 1 0 -2.40 0M382.4 193.5a1.20 1.20 0 1 0 2.40 0a1.20 1.20 0 1 0 -2.40 0M341.2 194.2a1.20 1.20 0 1 0 2.40 0a1.20 1.20 0 1 0 -2.40 0M338.4 194.1a1.20 1.20 0 1 0 2.40 0a1.20 1.20 0 1 0 -2.40 0M381.0 193.7a1.20 1.20 0 1 0 2.40 0a1.20 1.20 0 1 0 -2.40 0M381.8 194.5a1.20 1.20 0 1 0 2.40 0a1.20 1.20 0 1 0 -2.40 0M338.7 195.1a1.20 1.20 0 1 0 2.40 0a1.20 1.20 0 1 0 -2.40 0M338.2 194.9a1.20 1.20 0 1 0 2.40 0a1.20 1.20 0 1 0 -2.40 0M419.9 194.9a1.20 1.20 0 1 0 2.40 0a1.20 1.20 0 1 0 -2.40 0M386.6 194.6a1.20 1.20 0 1 0 2.40 0a1.20 1.20 0 1 0 -2.40 0M341.5 195.3a1.20 1.20 0 1 0 2.40 0a1.20 1.20 0 1 0 -2.40 0M341.2 194.7a1.20 1.20 0 1 0 2.40 0a1.20 1.20 0 1 0 -2.40 0M381.7 195.5a1.20 1.20 0 1 0 2.40 0a1.20 1.20 0 1 0 -2.40 0M381.7 194.8a1.20 1.20 0 1 0 2.40 0a1.20 1.20 0 1 0 -2.40 0M383.2 194.7a1.20 1.20 0 1 0 2.40 0a1.20 1.20 0 1 0 -2.40 0M320.1 196.4a1.20 1.20 0 1 0 2.40 0a1.20 1.20 0 1 0 -2.40 0M340.9 196.3a1.20 1.20 0 1 0 2.40 0a1.20 1.20 0 1 0 -2.40 0M392.4 196.1a1.20 1.20 0 1 0 2.40 0a1.20 1.20 0 1 0 -2.40 0M382.4 196.2a1.20 1.20 0 1 0 2.40 0a1.20 1.20 0 1 0 -2.40 0M341.3 196.3a1.20 1.20 0 1 0 2.40 0a1.20 1.20 0 1 0 -2.40 0M342.1 195.9a1.20 1.20 0 1 0 2.40 0a1.20 1.20 0 1 0 -2.40 0M384.0 196.5a1.20 1.20 0 1 0 2.40 0a1.20 1.20 0 1 0 -2.40 0M383.9 195.8a1.20 1.20 0 1 0 2.40 0a1.20 1.20 0 1 0 -2.40 0M337.6 197.0a1.20 1.20 0 1 0 2.40 0a1.20 1.20 0 1 0 -2.40 0M341.5 196.9a1.20 1.20 0 1 0 2.40 0a1.20 1.20 0 1 0 -2.40 0M384.1 197.4a1.20 1.20 0 1 0 2.40 0a1.20 1.20 0 1 0 -2.40 0M395.7 197.0a1.20 1.20 0 1 0 2.40 0a1.20 1.20 0 1 0 -2.40 0M337.2 196.5a1.20 1.20 0 1 0 2.40 0a1.20 1.20 0 1 0 -2.40 0M341.8 197.5a1.20 1.20 0 1 0 2.40 0a1.20 1.20 0 1 0 -2.40 0M380.5 196.7a1.20 1.20 0 1 0 2.40 0a1.20 1.20 0 1 0 -2.40 0M383.2 197.1a1.20 1.20 0 1 0 2.40 0a1.20 1.20 0 1 0 -2.40 0M381.2 197.1a1.20 1.20 0 1 0 2.40 0a1.20 1.20 0 1 0 -2.40 0M338.7 198.0a1.20 1.20 0 1 0 2.40 0a1.20 1.20 0 1 0 -2.40 0M383.0 198.5a1.20 1.20 0 1 0 2.40 0a1.20 1.20 0 1 0 -2.40 0M387.1 198.0a1.20 1.20 0 1 0 2.40 0a1.20 1.20 0 1 0 -2.40 0M342.4 197.5a1.20 1.20 0 1 0 2.40 0a1.20 1.20 0 1 0 -2.40 0M343.0 197.7a1.20 1.20 0 1 0 2.40 0a1.20 1.20 0 1 0 -2.40 0M343.2 197.7a1.20 1.20 0 1 0 2.40 0a1.20 1.20 0 1 0 -2.40 0M380.1 197.6a1.20 1.20 0 1 0 2.40 0a1.20 1.20 0 1 0 -2.40 0M379.7 198.2a1.20 1.20 0 1 0 2.40 0a1.20 1.20 0 1 0 -2.40 0M379.4 198.3a1.20 1.20 0 1 0 2.40 0a1.20 1.20 0 1 0 -2.40 0M342.3 199.3a1.20 1.20 0 1 0 2.40 0a1.20 1.20 0 1 0 -2.40 0M341.1 198.9a1.20 1.20 0 1 0 2.40 0a1.20 1.20 0 1 0 -2.40 0M381.0 199.4a1.20 1.20 0 1 0 2.40 0a1.20 1.20 0 1 0 -2.40 0M384.0 198.9a1.20 1.20 0 1 0 2.40 0a1.20 1.20 0 1 0 -2.40 0M344.6 198.7a1.20 1.20 0 1 0 2.40 0a1.20 1.20 0 1 0 -2.40 0M341.6 199.1a1.20 1.20 0 1 0 2.40 0a1.20 1.20 0 1 0 -2.40 0M381.8 198.8a1.20 1.20 0 1 0 2.40 0a1.20 1.20 0 1 0 -2.40 0M379.5 199.3a1.20 1.20 0 1 0 2.40 0a1.20 1.20 0 1 0 -2.40 0M381.7 198.8a1.20 1.20 0 1 0 2.40 0a1.20 1.20 0 1 0 -2.40 0M343.2 199.8a1.20 1.20 0 1 0 2.40 0a1.20 1.20 0 1 0 -2.40 0M384.2 200.0a1.20 1.20 0 1 0 2.40 0a1.20 1.20 0 1 0 -2.40 0M383.0 200.3a1.20 1.20 0 1 0 2.40 0a1.20 1.20 0 1 0 -2.40 0M344.7 200.2a1.20 1.20 0 1 0 2.40 0a1.20 1.20 0 1 0 -2.40 0M342.1 199.8a1.20 1.20 0 1 0 2.40 0a1.20 1.20 0 1 0 -2.40 0M344.9 200.0a1.20 1.20 0 1 0 2.40 0a1.20 1.20 0 1 0 -2.40 0M379.1 200.4a1.20 1.20 0 1 0 2.40 0a1.20 1.20 0 1 0 -2.40 0M378.4 200.3a1.20 1.20 0 1 0 2.40 0a1.20 1.20 0 1 0 -2.40 0M381.5 200.0a1.20 1.20 0 1 0 2.40 0a1.20 1.20 0 1 0 -2.40 0M344.8 201.0a1.20 1.20 0 1 0 2.40 0a1.20 1.20 0 1 0 -2.40 0M336.8 200.9a1.20 1.20 0 1 0 2.40 0a1.20 1.20 0 1 0 -2.40 0M388.2 200.7a1.20 1.20 0 1 0 2.40 0a1.20 1.20 0 1 0 -2.40 0M382.9 201.3a1.20 1.20 0 1 0 2.40 0a1.20 1.20 0 1 0 -2.40 0M346.0 201.1a1.20 1.20 0 1 0 2.40 0a1.20 1.20 0 1 0 -2.40 0M345.9 201.2a1.20 1.20 0 1 0 2.40 0a1.20 1.20 0 1 0 -2.40 0M379.7 201.3a1.20 1.20 0 1 0 2.40 0a1.20 1.20 0 1 0 -2.40 0M377.3 200.8a1.20 1.20 0 1 0 2.40 0a1.20 1.20 0 1 0 -2.40 0M342.2 202.4a1.20 1.20 0 1 0 2.40 0a1.20 1.20 0 1 0 -2.40 0M377.7 201.6a1.20 1.20 0 1 0 2.40 0a1.20 1.20 0 1 0 -2.40 0M377.7 202.0a1.20 1.20 0 1 0 2.40 0a1.20 1.20 0 1 0 -2.40 0M347.5 202.4a1.20 1.20 0 1 0 2.40 0a1.20 1.20 0 1 0 -2.40 0M347.5 201.8a1.20 1.20 0 1 0 2.40 0a1.20 1.20 0 1 0 -2.40 0M345.2 202.2a1.20 1.20 0 1 0 2.40 0a1.20 1.20 0 1 0 -2.40 0M381.4 201.9a1.20 1.20 0 1 0 2.40 0a1.20 1.20 0 1 0 -2.40 0M379.0 201.9a1.20 1.20 0 1 0 2.40 0a1.20 1.20 0 1 0 -2.40 0M377.9 202.5a1.20 1.20 0 1 0 2.40 0a1.20 1.20 0 1 0 -2.40 0M344.2 203.1a1.20 1.20 0 1 0 2.40 0a1.20 1.20 0 1 0 -2.40 0M334.4 203.1a1.20 1.20 0 1 0 2.40 0a1.20 1.20 0 1 0 -2.40 0M377.2 203.1a1.20 1.20 0 1 0 2.40 0a1.20 1.20 0 1 0 -2.40 0M377.4 202.9a1.20 1.20 0 1 0 2.40 0a1.20 1.20 0 1 0 -2.40 0M348.3 202.7a1.20 1.20 0 1 0 2.40 0a1.20 1.20 0 1 0 -2.40 0M346.8 203.0a1.20 1.20 0 1 0 2.40 0a1.20 1.20 0 1 0 -2.40 0M375.9 203.3a1.20 1.20 0 1 0 2.40 0a1.20 1.20 0 1 0 -2.40 0M376.2 203.5a1.20 1.20 0 1 0 2.40 0a1.20 1.20 0 1 0 -2.40 0M347.7 203.9a1.20 1.20 0 1 0 2.40 0a1.20 1.20 0 1 0 -2.40 0M378.4 204.1a1.20 1.20 0 1 0 2.40 0a1.20 1.20 0 1 0 -2.40 0M349.3 204.1a1.20 1.20 0 1 0 2.40 0a1.20 1.20 0 1 0 -2.40 0M346.8 203.9a1.20 1.20 0 1 0 2.40 0a1.20 1.20 0 1 0 -2.40 0M374.9 204.1a1.20 1.20 0 1 0 2.40 0a1.20 1.20 0 1 0 -2.40 0M374.6 203.7a1.20 1.20 0 1 0 2.40 0a1.20 1.20 0 1 0 -2.40 0M375.0 204.2a1.20 1.20 0 1 0 2.40 0a1.20 1.20 0 1 0 -2.40 0M347.0 204.6a1.20 1.20 0 1 0 2.40 0a1.20 1.20 0 1 0 -2.40 0M374.9 205.5a1.20 1.20 0 1 0 2.40 0a1.20 1.20 0 1 0 -2.40 0M347.7 204.7a1.20 1.20 0 1 0 2.40 0a1.20 1.20 0 1 0 -2.40 0M350.1 204.6a1.20 1.20 0 1 0 2.40 0a1.20 1.20 0 1 0 -2.40 0M349.8 205.2a1.20 1.20 0 1 0 2.40 0a1.20 1.20 0 1 0 -2.40 0M374.1 204.6a1.20 1.20 0 1 0 2.40 0a1.20 1.20 0 1 0 -2.40 0M374.0 205.3a1.20 1.20 0 1 0 2.40 0a1.20 1.20 0 1 0 -2.40 0M339.3 206.3a1.20 1.20 0 1 0 2.40 0a1.20 1.20 0 1 0 -2.40 0M371.9 206.3a1.20 1.20 0 1 0 2.40 0a1.20 1.20 0 1 0 -2.40 0M351.0 206.0a1.20 1.20 0 1 0 2.40 0a1.20 1.20 0 1 0 -2.40 0M351.9 206.1a1.20 1.20 0 1 0 2.40 0a1.20 1.20 0 1 0 -2.40 0M352.7 206.3a1.20 1.20 0 1 0 2.40 0a1.20 1.20 0 1 0 -2.40 0M370.7 205.8a1.20 1.20 0 1 0 2.40 0a1.20 1.20 0 1 0 -2.40 0M373.6 205.7a1.20 1.20 0 1 0 2.40 0a1.20 1.20 0 1 0 -2.40 0M350.3 207.5a1.20 1.20 0 1 0 2.40 0a1.20 1.20 0 1 0 -2.40 0M354.7 206.5a1.20 1.20 0 1 0 2.40 0a1.20 1.20 0 1 0 -2.40 0M354.7 206.8a1.20 1.20 0 1 0 2.40 0a1.20 1.20 0 1 0 -2.40 0M349.8 207.3a1.20 1.20 0 1 0 2.40 0a1.20 1.20 0 1 0 -2.40 0M368.7 207.0a1.20 1.20 0 1 0 2.40 0a1.20 1.20 0 1 0 -2.40 0M368.1 206.6a1.20 1.20 0 1 0 2.40 0a1.20 1.20 0 1 0 -2.40 0M368.2 206.8a1.20 1.20 0 1 0 2.40 0a1.20 1.20 0 1 0 -2.40 0M352.6 208.5a1.20 1.20 0 1 0 2.40 0a1.20 1.20 0 1 0 -2.40 0M357.5 208.3a1.20 1.20 0 1 0 2.40 0a1.20 1.20 0 1 0 -2.40 0M357.9 208.4a1.20 1.20 0 1 0 2.40 0a1.20 1.20 0 1 0 -2.40 0M353.8 207.8a1.20 1.20 0 1 0 2.40 0a1.20 1.20 0 1 0 -2.40 0M368.2 207.8a1.20 1.20 0 1 0 2.40 0a1.20 1.20 0 1 0 -2.40 0M370.9 208.0a1.20 1.20 0 1 0 2.40 0a1.20 1.20 0 1 0 -2.40 0M342.4 123.1a1.20 1.20 0 1 0 2.40 0a1.20 1.20 0 1 0 -2.40 0M381.5 120.7a1.20 1.20 0 1 0 2.40 0a1.20 1.20 0 1 0 -2.40 0M381.5 130.4a1.20 1.20 0 1 0 2.40 0a1.20 1.20 0 1 0 -2.40 0M342.4 131.1a1.20 1.20 0 1 0 2.40 0a1.20 1.20 0 1 0 -2.40 0M339.7 137.1a1.20 1.20 0 1 0 2.40 0a1.20 1.20 0 1 0 -2.40 0M385.2 141.6a1.20 1.20 0 1 0 2.40 0a1.20 1.20 0 1 0 -2.40 0M326.1 161.6a1.20 1.20 0 1 0 2.40 0a1.20 1.20 0 1 0 -2.40 0M336.1 153.5a1.20 1.20 0 1 0 2.40 0a1.20 1.20 0 1 0 -2.40 0M384.3 149.8a1.20 1.20 0 1 0 2.40 0a1.20 1.20 0 1 0 -2.40 0M387.9 159.8a1.20 1.20 0 1 0 2.40 0a1.20 1.20 0 1 0 -2.40 0M338.8 144.4a1.20 1.20 0 1 0 2.40 0a1.20 1.20 0 1 0 -2.40 0M307.1 168.3a1.20 1.20 0 1 0 2.40 0a1.20 1.20 0 1 0 -2.40 0M315.4 165.2a1.20 1.20 0 1 0 2.40 0a1.20 1.20 0 1 0 -2.40 0M325.8 162.1a1.20 1.20 0 1 0 2.40 0a1.20 1.20 0 1 0 -2.40 0M316.4 187.0a1.20 1.20 0 1 0 2.40 0a1.20 1.20 0 1 0 -2.40 0M321.6 180.7a1.20 1.20 0 1 0 2.40 0a1.20 1.20 0 1 0 -2.40 0M326.8 196.3a1.20 1.20 0 1 0 2.40 0a1.20 1.20 0 1 0 -2.40 0M418.1 199.0a1.20 1.20 0 1 0 2.40 0a1.20 1.20 0 1 0 -2.40 0M432.2 195.7a1.20 1.20 0 1 0 2.40 0a1.20 1.20 0 1 0 -2.40 0M404.6 175.6a1.20 1.20 0 1 0 2.40 0a1.20 1.20 0 1 0 -2.40 0M393.2 168.3a1.20 1.20 0 1 0 2.40 0a1.20 1.20 0 1 0 -2.40 0M402.5 191.1a1.20 1.20 0 1 0 2.40 0a1.20 1.20 0 1 0 -2.40 0M405.6 195.3a1.20 1.20 0 1 0 2.40 0a1.20 1.20 0 1 0 -2.40 0M398.4 200.4a1.20 1.20 0 1 0 2.40 0a1.20 1.20 0 1 0 -2.40 0M394.2 187.0a1.20 1.20 0 1 0 2.40 0a1.20 1.20 0 1 0 -2.40 0M390.1 160.0a1.20 1.20 0 1 0 2.40 0a1.20 1.20 0 1 0 -2.40 0M314.0 150.4a1.20 1.20 0 1 0 2.40 0a1.20 1.20 0 1 0 -2.40 0M596.0 42.3a1.60 1.60 0 1 0 3.20 0a1.60 1.60 0 1 0 -3.20 0M599.2 68.0a1.50 1.50 0 1 0 3.00 0a1.50 1.50 0 1 0 -3.00 0M593.0 78.9a1.20 1.20 0 1 0 2.40 0a1.20 1.20 0 1 0 -2.40 0M593.0 91.6a1.20 1.20 0 1 0 2.40 0a1.20 1.20 0 1 0 -2.40 0M588.8 102.2a1.20 1.20 0 1 0 2.40 0a1.20 1.20 0 1 0 -2.40 0M599.2 78.5a1.20 1.20 0 1 0 2.40 0a1.20 1.20 0 1 0 -2.40 0M599.9 80.5a1.20 1.20 0 1 0 2.40 0a1.20 1.20 0 1 0 -2.40 0M599.5 82.5a1.20 1.20 0 1 0 2.40 0a1.20 1.20 0 1 0 -2.40 0M599.8 84.5a1.20 1.20 0 1 0 2.40 0a1.20 1.20 0 1 0 -2.40 0M599.9 86.5a1.20 1.20 0 1 0 2.40 0a1.20 1.20 0 1 0 -2.40 0M599.4 88.5a1.20 1.20 0 1 0 2.40 0a1.20 1.20 0 1 0 -2.40 0M599.3 90.5a1.20 1.20 0 1 0 2.40 0a1.20 1.20 0 1 0 -2.40 0M599.8 92.5a1.20 1.20 0 1 0 2.40 0a1.20 1.20 0 1 0 -2.40 0M599.4 94.5a1.20 1.20 0 1 0 2.40 0a1.20 1.20 0 1 0 -2.40 0M599.6 96.5a1.20 1.20 0 1 0 2.40 0a1.20 1.20 0 1 0 -2.40 0M599.2 98.5a1.20 1.20 0 1 0 2.40 0a1.20 1.20 0 1 0 -2.40 0M599.7 100.5a1.20 1.20 0 1 0 2.40 0a1.20 1.20 0 1 0 -2.40 0M599.6 102.5a1.20 1.20 0 1 0 2.40 0a1.20 1.20 0 1 0 -2.40 0M599.4 104.5a1.20 1.20 0 1 0 2.40 0a1.20 1.20 0 1 0 -2.40 0M599.4 106.5a1.20 1.20 0 1 0 2.40 0a1.20 1.20 0 1 0 -2.40 0M599.9 108.5a1.20 1.20 0 1 0 2.40 0a1.20 1.20 0 1 0 -2.40 0M599.9 110.5a1.20 1.20 0 1 0 2.40 0a1.20 1.20 0 1 0 -2.40 0M599.4 112.5a1.20 1.20 0 1 0 2.40 0a1.20 1.20 0 1 0 -2.40 0M599.5 114.5a1.20 1.20 0 1 0 2.40 0a1.20 1.20 0 1 0 -2.40 0M599.5 116.5a1.20 1.20 0 1 0 2.40 0a1.20 1.20 0 1 0 -2.40 0M599.5 118.5a1.20 1.20 0 1 0 2.40 0a1.20 1.20 0 1 0 -2.40 0M599.5 120.5a1.20 1.20 0 1 0 2.40 0a1.20 1.20 0 1 0 -2.40 0M593.3 94.0a1.20 1.20 0 1 0 2.40 0a1.20 1.20 0 1 0 -2.40 0M592.3 96.4a1.20 1.20 0 1 0 2.40 0a1.20 1.20 0 1 0 -2.40 0M592.7 98.8a1.20 1.20 0 1 0 2.40 0a1.20 1.20 0 1 0 -2.40 0M592.8 101.2a1.20 1.20 0 1 0 2.40 0a1.20 1.20 0 1 0 -2.40 0M592.9 103.6a1.20 1.20 0 1 0 2.40 0a1.20 1.20 0 1 0 -2.40 0M592.6 106.0a1.20 1.20 0 1 0 2.40 0a1.20 1.20 0 1 0 -2.40 0M593.0 108.4a1.20 1.20 0 1 0 2.40 0a1.20 1.20 0 1 0 -2.40 0M592.7 110.8a1.20 1.20 0 1 0 2.40 0a1.20 1.20 0 1 0 -2.40 0M592.5 113.2a1.20 1.20 0 1 0 2.40 0a1.20 1.20 0 1 0 -2.40 0M593.2 115.6a1.20 1.20 0 1 0 2.40 0a1.20 1.20 0 1 0 -2.40 0M592.5 118.0a1.20 1.20 0 1 0 2.40 0a1.20 1.20 0 1 0 -2.40 0M593.0 120.4a1.20 1.20 0 1 0 2.40 0a1.20 1.20 0 1 0 -2.40 0M589.8 124.2a1.20 1.20 0 1 0 2.40 0a1.20 1.20 0 1 0 -2.40 0M587.4 135.8a1.20 1.20 0 1 0 2.40 0a1.20 1.20 0 1 0 -2.40 0M581.7 138.4a1.20 1.20 0 1 0 2.40 0a1.20 1.20 0 1 0 -2.40 0M578.7 130.9a1.20 1.20 0 1 0 2.40 0a1.20 1.20 0 1 0 -2.40 0M590.5 131.0a1.20 1.20 0 1 0 2.40 0a1.20 1.20 0 1 0 -2.40 0M587.3 123.2a1.20 1.20 0 1 0 2.40 0a1.20 1.20 0 1 0 -2.40 0M589.2 122.6a1.20 1.20 0 1 0 2.40 0a1.20 1.20 0 1 0 -2.40 0M592.2 122.9a1.20 1.20 0 1 0 2.40 0a1.20 1.20 0 1 0 -2.40 0M585.4 125.3a1.20 1.20 0 1 0 2.40 0a1.20 1.20 0 1 0 -2.40 0M588.9 124.8a1.20 1.20 0 1 0 2.40 0a1.20 1.20 0 1 0 -2.40 0M590.0 125.3a1.20 1.20 0 1 0 2.40 0a1.20 1.20 0 1 0 -2.40 0M591.0 125.2a1.20 1.20 0 1 0 2.40 0a1.20 1.20 0 1 0 -2.40 0M585.5 126.2a1.20 1.20 0 1 0 2.40 0a1.20 1.20 0 1 0 -2.40 0M586.4 126.0a1.20 1.20 0 1 0 2.40 0a1.20 1.20 0 1 0 -2.40 0M587.4 125.7a1.20 1.20 0 1 0 2.40 0a1.20 1.20 0 1 0 -2.40 0M588.3 125.9a1.20 1.20 0 1 0 2.40 0a1.20 1.20 0 1 0 -2.40 0M589.3 125.7a1.20 1.20 0 1 0 2.40 0a1.20 1.20 0 1 0 -2.40 0M591.5 125.6a1.20 1.20 0 1 0 2.40 0a1.20 1.20 0 1 0 -2.40 0M586.4 126.7a1.20 1.20 0 1 0 2.40 0a1.20 1.20 0 1 0 -2.40 0M590.2 126.7a1.20 1.20 0 1 0 2.40 0a1.20 1.20 0 1 0 -2.40 0M585.5 128.2a1.20 1.20 0 1 0 2.40 0a1.20 1.20 0 1 0 -2.40 0M589.1 128.8a1.20 1.20 0 1 0 2.40 0a1.20 1.20 0 1 0 -2.40 0M591.1 128.9a1.20 1.20 0 1 0 2.40 0a1.20 1.20 0 1 0 -2.40 0M586.1 129.7a1.20 1.20 0 1 0 2.40 0a1.20 1.20 0 1 0 -2.40 0M586.8 129.7a1.20 1.20 0 1 0 2.40 0a1.20 1.20 0 1 0 -2.40 0M589.3 130.1a1.20 1.20 0 1 0 2.40 0a1.20 1.20 0 1 0 -2.40 0M587.5 131.1a1.20 1.20 0 1 0 2.40 0a1.20 1.20 0 1 0 -2.40 0M585.7 131.7a1.20 1.20 0 1 0 2.40 0a1.20 1.20 0 1 0 -2.40 0M589.9 131.9a1.20 1.20 0 1 0 2.40 0a1.20 1.20 0 1 0 -2.40 0M590.8 131.9a1.20 1.20 0 1 0 2.40 0a1.20 1.20 0 1 0 -2.40 0M584.8 132.8a1.20 1.20 0 1 0 2.40 0a1.20 1.20 0 1 0 -2.40 0M585.5 132.8a1.20 1.20 0 1 0 2.40 0a1.20 1.20 0 1 0 -2.40 0M586.4 133.3a1.20 1.20 0 1 0 2.40 0a1.20 1.20 0 1 0 -2.40 0M585.5 134.2a1.20 1.20 0 1 0 2.40 0a1.20 1.20 0 1 0 -2.40 0M589.6 134.2a1.20 1.20 0 1 0 2.40 0a1.20 1.20 0 1 0 -2.40 0M590.3 133.8a1.20 1.20 0 1 0 2.40 0a1.20 1.20 0 1 0 -2.40 0M584.2 134.7a1.20 1.20 0 1 0 2.40 0a1.20 1.20 0 1 0 -2.40 0M585.2 135.1a1.20 1.20 0 1 0 2.40 0a1.20 1.20 0 1 0 -2.40 0M587.0 134.7a1.20 1.20 0 1 0 2.40 0a1.20 1.20 0 1 0 -2.40 0M590.1 135.2a1.20 1.20 0 1 0 2.40 0a1.20 1.20 0 1 0 -2.40 0M586.6 135.7a1.20 1.20 0 1 0 2.40 0a1.20 1.20 0 1 0 -2.40 0M589.3 135.8a1.20 1.20 0 1 0 2.40 0a1.20 1.20 0 1 0 -2.40 0M590.1 136.1a1.20 1.20 0 1 0 2.40 0a1.20 1.20 0 1 0 -2.40 0M589.7 136.8a1.20 1.20 0 1 0 2.40 0a1.20 1.20 0 1 0 -2.40 0M587.7 138.2a1.20 1.20 0 1 0 2.40 0a1.20 1.20 0 1 0 -2.40 0M588.3 138.1a1.20 1.20 0 1 0 2.40 0a1.20 1.20 0 1 0 -2.40 0M584.2 139.9a1.20 1.20 0 1 0 2.40 0a1.20 1.20 0 1 0 -2.40 0M585.1 139.7a1.20 1.20 0 1 0 2.40 0a1.20 1.20 0 1 0 -2.40 0M586.3 139.9a1.20 1.20 0 1 0 2.40 0a1.20 1.20 0 1 0 -2.40 0M584.3 141.3a1.20 1.20 0 1 0 2.40 0a1.20 1.20 0 1 0 -2.40 0M584.9 140.6a1.20 1.20 0 1 0 2.40 0a1.20 1.20 0 1 0 -2.40 0M586.5 141.3a1.20 1.20 0 1 0 2.40 0a1.20 1.20 0 1 0 -2.40 0M586.8 140.7a1.20 1.20 0 1 0 2.40 0a1.20 1.20 0 1 0 -2.40 0M589.2 140.9a1.20 1.20 0 1 0 2.40 0a1.20 1.20 0 1 0 -2.40 0M586.0 142.2a1.20 1.20 0 1 0 2.40 0a1.20 1.20 0 1 0 -2.40 0M588.7 141.8a1.20 1.20 0 1 0 2.40 0a1.20 1.20 0 1 0 -2.40 0M586.1 143.7a1.20 1.20 0 1 0 2.40 0a1.20 1.20 0 1 0 -2.40 0M583.6 145.2a1.20 1.20 0 1 0 2.40 0a1.20 1.20 0 1 0 -2.40 0M588.8 145.3a1.20 1.20 0 1 0 2.40 0a1.20 1.20 0 1 0 -2.40 0M585.7 145.8a1.20 1.20 0 1 0 2.40 0a1.20 1.20 0 1 0 -2.40 0M582.4 146.7a1.20 1.20 0 1 0 2.40 0a1.20 1.20 0 1 0 -2.40 0M582.7 148.2a1.20 1.20 0 1 0 2.40 0a1.20 1.20 0 1 0 -2.40 0M585.1 147.6a1.20 1.20 0 1 0 2.40 0a1.20 1.20 0 1 0 -2.40 0M588.1 147.9a1.20 1.20 0 1 0 2.40 0a1.20 1.20 0 1 0 -2.40 0M582.4 148.8a1.20 1.20 0 1 0 2.40 0a1.20 1.20 0 1 0 -2.40 0M583.1 149.3a1.20 1.20 0 1 0 2.40 0a1.20 1.20 0 1 0 -2.40 0M584.9 148.6a1.20 1.20 0 1 0 2.40 0a1.20 1.20 0 1 0 -2.40 0M588.0 149.3a1.20 1.20 0 1 0 2.40 0a1.20 1.20 0 1 0 -2.40 0M582.3 150.3a1.20 1.20 0 1 0 2.40 0a1.20 1.20 0 1 0 -2.40 0M584.3 150.3a1.20 1.20 0 1 0 2.40 0a1.20 1.20 0 1 0 -2.40 0M585.0 150.9a1.20 1.20 0 1 0 2.40 0a1.20 1.20 0 1 0 -2.40 0M587.7 151.2a1.20 1.20 0 1 0 2.40 0a1.20 1.20 0 1 0 -2.40 0M583.8 151.7a1.20 1.20 0 1 0 2.40 0a1.20 1.20 0 1 0 -2.40 0M584.7 151.8a1.20 1.20 0 1 0 2.40 0a1.20 1.20 0 1 0 -2.40 0M586.9 151.7a1.20 1.20 0 1 0 2.40 0a1.20 1.20 0 1 0 -2.40 0M582.0 152.9a1.20 1.20 0 1 0 2.40 0a1.20 1.20 0 1 0 -2.40 0M583.8 152.7a1.20 1.20 0 1 0 2.40 0a1.20 1.20 0 1 0 -2.40 0M586.9 153.2a1.20 1.20 0 1 0 2.40 0a1.20 1.20 0 1 0 -2.40 0M582.0 154.3a1.20 1.20 0 1 0 2.40 0a1.20 1.20 0 1 0 -2.40 0M584.3 153.9a1.20 1.20 0 1 0 2.40 0a1.20 1.20 0 1 0 -2.40 0M581.7 155.2a1.20 1.20 0 1 0 2.40 0a1.20 1.20 0 1 0 -2.40 0M584.1 156.1a1.20 1.20 0 1 0 2.40 0a1.20 1.20 0 1 0 -2.40 0M585.2 155.6a1.20 1.20 0 1 0 2.40 0a1.20 1.20 0 1 0 -2.40 0M583.2 157.1a1.20 1.20 0 1 0 2.40 0a1.20 1.20 0 1 0 -2.40 0M584.0 157.0a1.20 1.20 0 1 0 2.40 0a1.20 1.20 0 1 0 -2.40 0M580.8 158.3a1.20 1.20 0 1 0 2.40 0a1.20 1.20 0 1 0 -2.40 0M584.9 158.0a1.20 1.20 0 1 0 2.40 0a1.20 1.20 0 1 0 -2.40 0M583.4 158.8a1.20 1.20 0 1 0 2.40 0a1.20 1.20 0 1 0 -2.40 0M584.7 159.9a1.20 1.20 0 1 0 2.40 0a1.20 1.20 0 1 0 -2.40 0M585.6 160.3a1.20 1.20 0 1 0 2.40 0a1.20 1.20 0 1 0 -2.40 0M582.7 161.4a1.20 1.20 0 1 0 2.40 0a1.20 1.20 0 1 0 -2.40 0M583.7 160.9a1.20 1.20 0 1 0 2.40 0a1.20 1.20 0 1 0 -2.40 0M585.7 161.8a1.20 1.20 0 1 0 2.40 0a1.20 1.20 0 1 0 -2.40 0M582.7 163.1a1.20 1.20 0 1 0 2.40 0a1.20 1.20 0 1 0 -2.40 0M584.6 162.7a1.20 1.20 0 1 0 2.40 0a1.20 1.20 0 1 0 -2.40 0M584.4 163.7a1.20 1.20 0 1 0 2.40 0a1.20 1.20 0 1 0 -2.40 0M580.3 164.6a1.20 1.20 0 1 0 2.40 0a1.20 1.20 0 1 0 -2.40 0M600.9 119.0a1.20 1.20 0 1 0 2.40 0a1.20 1.20 0 1 0 -2.40 0M593.6 118.9a1.20 1.20 0 1 0 2.40 0a1.20 1.20 0 1 0 -2.40 0M594.4 119.1a1.20 1.20 0 1 0 2.40 0a1.20 1.20 0 1 0 -2.40 0M593.7 118.6a1.20 1.20 0 1 0 2.40 0a1.20 1.20 0 1 0 -2.40 0M599.4 119.1a1.20 1.20 0 1 0 2.40 0a1.20 1.20 0 1 0 -2.40 0M599.6 119.2a1.20 1.20 0 1 0 2.40 0a1.20 1.20 0 1 0 -2.40 0M600.9 120.3a1.20 1.20 0 1 0 2.40 0a1.20 1.20 0 1 0 -2.40 0M592.1 120.4a1.20 1.20 0 1 0 2.40 0a1.20 1.20 0 1 0 -2.40 0M590.3 120.3a1.20 1.20 0 1 0 2.40 0a1.20 1.20 0 1 0 -2.40 0M593.6 120.0a1.20 1.20 0 1 0 2.40 0a1.20 1.20 0 1 0 -2.40 0M599.6 119.8a1.20 1.20 0 1 0 2.40 0a1.20 1.20 0 1 0 -2.40 0M601.6 120.3a1.20 1.20 0 1 0 2.40 0a1.20 1.20 0 1 0 -2.40 0M600.7 120.3a1.20 1.20 0 1 0 2.40 0a1.20 1.20 0 1 0 -2.40 0M594.4 121.0a1.20 1.20 0 1 0 2.40 0a1.20 1.20 0 1 0 -2.40 0M591.0 121.0a1.20 1.20 0 1 0 2.40 0a1.20 1.20 0 1 0 -2.40 0M590.7 120.9a1.20 1.20 0 1 0 2.40 0a1.20 1.20 0 1 0 -2.40 0M599.4 120.9a1.20 1.20 0 1 0 2.40 0a1.20 1.20 0 1 0 -2.40 0M599.7 120.6a1.20 1.20 0 1 0 2.40 0a1.20 1.20 0 1 0 -2.40 0M599.7 121.5a1.20 1.20 0 1 0 2.40 0a1.20 1.20 0 1 0 -2.40 0M593.2 121.8a1.20 1.20 0 1 0 2.40 0a1.20 1.20 0 1 0 -2.40 0M592.8 121.8a1.20 1.20 0 1 0 2.40 0a1.20 1.20 0 1 0 -2.40 0M592.7 122.3a1.20 1.20 0 1 0 2.40 0a1.20 1.20 0 1 0 -2.40 0M599.6 122.1a1.20 1.20 0 1 0 2.40 0a1.20 1.20 0 1 0 -2.40 0M600.6 122.4a1.20 1.20 0 1 0 2.40 0a1.20 1.20 0 1 0 -2.40 0M601.9 122.0a1.20 1.20 0 1 0 2.40 0a1.20 1.20 0 1 0 -2.40 0M594.0 122.9a1.20 1.20 0 1 0 2.40 0a1.20 1.20 0 1 0 -2.40 0M594.0 123.2a1.20 1.20 0 1 0 2.40 0a1.20 1.20 0 1 0 -2.40 0M600.9 122.6a1.20 1.20 0 1 0 2.40 0a1.20 1.20 0 1 0 -2.40 0M600.1 122.5a1.20 1.20 0 1 0 2.40 0a1.20 1.20 0 1 0 -2.40 0M592.1 123.5a1.20 1.20 0 1 0 2.40 0a1.20 1.20 0 1 0 -2.40 0M593.8 124.4a1.20 1.20 0 1 0 2.40 0a1.20 1.20 0 1 0 -2.40 0M593.7 124.1a1.20 1.20 0 1 0 2.40 0a1.20 1.20 0 1 0 -2.40 0M601.7 124.0a1.20 1.20 0 1 0 2.40 0a1.20 1.20 0 1 0 -2.40 0M600.2 123.9a1.20 1.20 0 1 0 2.40 0a1.20 1.20 0 1 0 -2.40 0M583.6 125.0a1.20 1.20 0 1 0 2.40 0a1.20 1.20 0 1 0 -2.40 0M593.6 124.8a1.20 1.20 0 1 0 2.40 0a1.20 1.20 0 1 0 -2.40 0M593.8 125.2a1.20 1.20 0 1 0 2.40 0a1.20 1.20 0 1 0 -2.40 0M592.9 124.9a1.20 1.20 0 1 0 2.40 0a1.20 1.20 0 1 0 -2.40 0M600.1 124.9a1.20 1.20 0 1 0 2.40 0a1.20 1.20 0 1 0 -2.40 0M599.8 124.8a1.20 1.20 0 1 0 2.40 0a1.20 1.20 0 1 0 -2.40 0M588.4 125.9a1.20 1.20 0 1 0 2.40 0a1.20 1.20 0 1 0 -2.40 0M593.2 126.1a1.20 1.20 0 1 0 2.40 0a1.20 1.20 0 1 0 -2.40 0M592.8 126.4a1.20 1.20 0 1 0 2.40 0a1.20 1.20 0 1 0 -2.40 0M603.7 125.9a1.20 1.20 0 1 0 2.40 0a1.20 1.20 0 1 0 -2.40 0M599.8 125.7a1.20 1.20 0 1 0 2.40 0a1.20 1.20 0 1 0 -2.40 0M601.3 127.3a1.20 1.20 0 1 0 2.40 0a1.20 1.20 0 1 0 -2.40 0M591.9 126.9a1.20 1.20 0 1 0 2.40 0a1.20 1.20 0 1 0 -2.40 0M593.4 127.4a1.20 1.20 0 1 0 2.40 0a1.20 1.20 0 1 0 -2.40 0M590.7 126.7a1.20 1.20 0 1 0 2.40 0a1.20 1.20 0 1 0 -2.40 0M600.8 126.6a1.20 1.20 0 1 0 2.40 0a1.20 1.20 0 1 0 -2.40 0M604.2 126.8a1.20 1.20 0 1 0 2.40 0a1.20 1.20 0 1 0 -2.40 0M600.1 126.6a1.20 1.20 0 1 0 2.40 0a1.20 1.20 0 1 0 -2.40 0M591.8 128.0a1.20 1.20 0 1 0 2.40 0a1.20 1.20 0 1 0 -2.40 0M590.9 128.4a1.20 1.20 0 1 0 2.40 0a1.20 1.20 0 1 0 -2.40 0M590.4 127.9a1.20 1.20 0 1 0 2.40 0a1.20 1.20 0 1 0 -2.40 0M601.2 127.9a1.20 1.20 0 1 0 2.40 0a1.20 1.20 0 1 0 -2.40 0M600.6 127.7a1.20 1.20 0 1 0 2.40 0a1.20 1.20 0 1 0 -2.40 0M599.9 127.6a1.20 1.20 0 1 0 2.40 0a1.20 1.20 0 1 0 -2.40 0M593.1 128.7a1.20 1.20 0 1 0 2.40 0a1.20 1.20 0 1 0 -2.40 0M593.5 128.6a1.20 1.20 0 1 0 2.40 0a1.20 1.20 0 1 0 -2.40 0M600.3 128.9a1.20 1.20 0 1 0 2.40 0a1.20 1.20 0 1 0 -2.40 0M600.0 129.2a1.20 1.20 0 1 0 2.40 0a1.20 1.20 0 1 0 -2.40 0M573.9 129.5a1.20 1.20 0 1 0 2.40 0a1.20 1.20 0 1 0 -2.40 0M592.6 130.0a1.20 1.20 0 1 0 2.40 0a1.20 1.20 0 1 0 -2.40 0M593.1 130.4a1.20 1.20 0 1 0 2.40 0a1.20 1.20 0 1 0 -2.40 0M592.3 130.0a1.20 1.20 0 1 0 2.40 0a1.20 1.20 0 1 0 -2.40 0M601.5 130.3a1.20 1.20 0 1 0 2.40 0a1.20 1.20 0 1 0 -2.40 0M599.9 129.8a1.20 1.20 0 1 0 2.40 0a1.20 1.20 0 1 0 -2.40 0M587.9 130.8a1.20 1.20 0 1 0 2.40 0a1.20 1.20 0 1 0 -2.40 0M592.6 130.9a1.20 1.20 0 1 0 2.40 0a1.20 1.20 0 1 0 -2.40 0M592.8 131.2a1.20 1.20 0 1 0 2.40 0a1.20 1.20 0 1 0 -2.40 0M592.3 131.3a1.20 1.20 0 1 0 2.40 0a1.20 1.20 0 1 0 -2.40 0M602.7 131.3a1.20 1.20 0 1 0 2.40 0a1.20 1.20 0 1 0 -2.40 0M600.6 131.4a1.20 1.20 0 1 0 2.40 0a1.20 1.20 0 1 0 -2.40 0M604.0 130.7a1.20 1.20 0 1 0 2.40 0a1.20 1.20 0 1 0 -2.40 0M590.1 131.8a1.20 1.20 0 1 0 2.40 0a1.20 1.20 0 1 0 -2.40 0M590.6 131.9a1.20 1.20 0 1 0 2.40 0a1.20 1.20 0 1 0 -2.40 0M588.7 132.4a1.20 1.20 0 1 0 2.40 0a1.20 1.20 0 1 0 -2.40 0M599.9 132.1a1.20 1.20 0 1 0 2.40 0a1.20 1.20 0 1 0 -2.40 0M601.2 131.8a1.20 1.20 0 1 0 2.40 0a1.20 1.20 0 1 0 -2.40 0M603.8 131.9a1.20 1.20 0 1 0 2.40 0a1.20 1.20 0 1 0 -2.40 0M603.7 133.0a1.20 1.20 0 1 0 2.40 0a1.20 1.20 0 1 0 -2.40 0M588.7 132.8a1.20 1.20 0 1 0 2.40 0a1.20 1.20 0 1 0 -2.40 0M593.0 133.2a1.20 1.20 0 1 0 2.40 0a1.20 1.20 0 1 0 -2.40 0M592.3 133.3a1.20 1.20 0 1 0 2.40 0a1.20 1.20 0 1 0 -2.40 0M601.2 133.2a1.20 1.20 0 1 0 2.40 0a1.20 1.20 0 1 0 -2.40 0M603.3 132.7a1.20 1.20 0 1 0 2.40 0a1.20 1.20 0 1 0 -2.40 0M600.1 133.0a1.20 1.20 0 1 0 2.40 0a1.20 1.20 0 1 0 -2.40 0M582.4 133.8a1.20 1.20 0 1 0 2.40 0a1.20 1.20 0 1 0 -2.40 0M601.4 133.8a1.20 1.20 0 1 0 2.40 0a1.20 1.20 0 1 0 -2.40 0M592.6 133.7a1.20 1.20 0 1 0 2.40 0a1.20 1.20 0 1 0 -2.40 0M592.6 134.2a1.20 1.20 0 1 0 2.40 0a1.20 1.20 0 1 0 -2.40 0M592.9 134.0a1.20 1.20 0 1 0 2.40 0a1.20 1.20 0 1 0 -2.40 0M600.0 134.3a1.20 1.20 0 1 0 2.40 0a1.20 1.20 0 1 0 -2.40 0M602.3 133.7a1.20 1.20 0 1 0 2.40 0a1.20 1.20 0 1 0 -2.40 0M591.1 135.4a1.20 1.20 0 1 0 2.40 0a1.20 1.20 0 1 0 -2.40 0M603.2 135.1a1.20 1.20 0 1 0 2.40 0a1.20 1.20 0 1 0 -2.40 0M591.8 135.0a1.20 1.20 0 1 0 2.40 0a1.20 1.20 0 1 0 -2.40 0M591.8 135.3a1.20 1.20 0 1 0 2.40 0a1.20 1.20 0 1 0 -2.40 0M600.6 135.0a1.20 1.20 0 1 0 2.40 0a1.20 1.20 0 1 0 -2.40 0M601.0 135.1a1.20 1.20 0 1 0 2.40 0a1.20 1.20 0 1 0 -2.40 0M600.9 135.5a1.20 1.20 0 1 0 2.40 0a1.20 1.20 0 1 0 -2.40 0M576.5 135.5a1.20 1.20 0 1 0 2.40 0a1.20 1.20 0 1 0 -2.40 0M591.9 135.9a1.20 1.20 0 1 0 2.40 0a1.20 1.20 0 1 0 -2.40 0M588.6 135.6a1.20 1.20 0 1 0 2.40 0a1.20 1.20 0 1 0 -2.40 0M591.3 136.3a1.20 1.20 0 1 0 2.40 0a1.20 1.20 0 1 0 -2.40 0M602.2 136.5a1.20 1.20 0 1 0 2.40 0a1.20 1.20 0 1 0 -2.40 0M602.8 135.8a1.20 1.20 0 1 0 2.40 0a1.20 1.20 0 1 0 -2.40 0M600.8 136.0a1.20 1.20 0 1 0 2.40 0a1.20 1.20 0 1 0 -2.40 0M589.7 137.1a1.20 1.20 0 1 0 2.40 0a1.20 1.20 0 1 0 -2.40 0M590.2 137.4a1.20 1.20 0 1 0 2.40 0a1.20 1.20 0 1 0 -2.40 0M600.6 136.7a1.20 1.20 0 1 0 2.40 0a1.20 1.20 0 1 0 -2.40 0M601.1 137.5a1.20 1.20 0 1 0 2.40 0a1.20 1.20 0 1 0 -2.40 0M581.2 137.8a1.20 1.20 0 1 0 2.40 0a1.20 1.20 0 1 0 -2.40 0M584.6 138.1a1.20 1.20 0 1 0 2.40 0a1.20 1.20 0 1 0 -2.40 0M590.4 137.7a1.20 1.20 0 1 0 2.40 0a1.20 1.20 0 1 0 -2.40 0M600.7 137.6a1.20 1.20 0 1 0 2.40 0a1.20 1.20 0 1 0 -2.40 0M603.5 138.0a1.20 1.20 0 1 0 2.40 0a1.20 1.20 0 1 0 -2.40 0M589.1 139.4a1.20 1.20 0 1 0 2.40 0a1.20 1.20 0 1 0 -2.40 0M590.7 139.0a1.20 1.20 0 1 0 2.40 0a1.20 1.20 0 1 0 -2.40 0M590.4 138.6a1.20 1.20 0 1 0 2.40 0a1.20 1.20 0 1 0 -2.40 0M601.9 138.9a1.20 1.20 0 1 0 2.40 0a1.20 1.20 0 1 0 -2.40 0M603.4 139.3a1.20 1.20 0 1 0 2.40 0a1.20 1.20 0 1 0 -2.40 0M602.2 139.1a1.20 1.20 0 1 0 2.40 0a1.20 1.20 0 1 0 -2.40 0M585.2 140.2a1.20 1.20 0 1 0 2.40 0a1.20 1.20 0 1 0 -2.40 0M603.2 139.6a1.20 1.20 0 1 0 2.40 0a1.20 1.20 0 1 0 -2.40 0M590.3 139.7a1.20 1.20 0 1 0 2.40 0a1.20 1.20 0 1 0 -2.40 0M589.2 140.3a1.20 1.20 0 1 0 2.40 0a1.20 1.20 0 1 0 -2.40 0M600.6 140.1a1.20 1.20 0 1 0 2.40 0a1.20 1.20 0 1 0 -2.40 0M605.4 139.6a1.20 1.20 0 1 0 2.40 0a1.20 1.20 0 1 0 -2.40 0M603.1 140.1a1.20 1.20 0 1 0 2.40 0a1.20 1.20 0 1 0 -2.40 0M603.0 140.5a1.20 1.20 0 1 0 2.40 0a1.20 1.20 0 1 0 -2.40 0M583.8 141.2a1.20 1.20 0 1 0 2.40 0a1.20 1.20 0 1 0 -2.40 0M589.4 141.3a1.20 1.20 0 1 0 2.40 0a1.20 1.20 0 1 0 -2.40 0M607.3 140.9a1.20 1.20 0 1 0 2.40 0a1.20 1.20 0 1 0 -2.40 0M601.5 140.5a1.20 1.20 0 1 0 2.40 0a1.20 1.20 0 1 0 -2.40 0M600.8 141.4a1.20 1.20 0 1 0 2.40 0a1.20 1.20 0 1 0 -2.40 0M585.7 142.2a1.20 1.20 0 1 0 2.40 0a1.20 1.20 0 1 0 -2.40 0M588.7 142.3a1.20 1.20 0 1 0 2.40 0a1.20 1.20 0 1 0 -2.40 0M590.2 141.9a1.20 1.20 0 1 0 2.40 0a1.20 1.20 0 1 0 -2.40 0M589.2 142.2a1.20 1.20 0 1 0 2.40 0a1.20 1.20 0 1 0 -2.40 0M600.8 141.7a1.20 1.20 0 1 0 2.40 0a1.20 1.20 0 1 0 -2.40 0M601.4 142.4a1.20 1.20 0 1 0 2.40 0a1.20 1.20 0 1 0 -2.40 0M587.4 143.1a1.20 1.20 0 1 0 2.40 0a1.20 1.20 0 1 0 -2.40 0M610.2 143.2a1.20 1.20 0 1 0 2.40 0a1.20 1.20 0 1 0 -2.40 0M589.4 142.6a1.20 1.20 0 1 0 2.40 0a1.20 1.20 0 1 0 -2.40 0M587.8 142.7a1.20 1.20 0 1 0 2.40 0a1.20 1.20 0 1 0 -2.40 0M603.2 143.4a1.20 1.20 0 1 0 2.40 0a1.20 1.20 0 1 0 -2.40 0M602.2 143.1a1.20 1.20 0 1 0 2.40 0a1.20 1.20 0 1 0 -2.40 0M587.0 143.6a1.20 1.20 0 1 0 2.40 0a1.20 1.20 0 1 0 -2.40 0M604.0 143.6a1.20 1.20 0 1 0 2.40 0a1.20 1.20 0 1 0 -2.40 0M589.6 143.7a1.20 1.20 0 1 0 2.40 0a1.20 1.20 0 1 0 -2.40 0M587.3 144.5a1.20 1.20 0 1 0 2.40 0a1.20 1.20 0 1 0 -2.40 0M588.3 144.1a1.20 1.20 0 1 0 2.40 0a1.20 1.20 0 1 0 -2.40 0M601.8 144.4a1.20 1.20 0 1 0 2.40 0a1.20 1.20 0 1 0 -2.40 0M601.0 143.9a1.20 1.20 0 1 0 2.40 0a1.20 1.20 0 1 0 -2.40 0M601.4 143.7a1.20 1.20 0 1 0 2.40 0a1.20 1.20 0 1 0 -2.40 0M581.8 144.8a1.20 1.20 0 1 0 2.40 0a1.20 1.20 0 1 0 -2.40 0M587.6 144.9a1.20 1.20 0 1 0 2.40 0a1.20 1.20 0 1 0 -2.40 0M587.2 144.6a1.20 1.20 0 1 0 2.40 0a1.20 1.20 0 1 0 -2.40 0M583.0 144.7a1.20 1.20 0 1 0 2.40 0a1.20 1.20 0 1 0 -2.40 0M601.6 144.5a1.20 1.20 0 1 0 2.40 0a1.20 1.20 0 1 0 -2.40 0M602.2 144.6a1.20 1.20 0 1 0 2.40 0a1.20 1.20 0 1 0 -2.40 0M587.0 145.5a1.20 1.20 0 1 0 2.40 0a1.20 1.20 0 1 0 -2.40 0M587.8 146.2a1.20 1.20 0 1 0 2.40 0a1.20 1.20 0 1 0 -2.40 0M589.4 146.4a1.20 1.20 0 1 0 2.40 0a1.20 1.20 0 1 0 -2.40 0M603.2 145.5a1.20 1.20 0 1 0 2.40 0a1.20 1.20 0 1 0 -2.40 0M601.6 145.7a1.20 1.20 0 1 0 2.40 0a1.20 1.20 0 1 0 -2.40 0M603.6 146.7a1.20 1.20 0 1 0 2.40 0a1.20 1.20 0 1 0 -2.40 0M589.1 147.0a1.20 1.20 0 1 0 2.40 0a1.20 1.20 0 1 0 -2.40 0M587.0 146.9a1.20 1.20 0 1 0 2.40 0a1.20 1.20 0 1 0 -2.40 0M602.2 146.7a1.20 1.20 0 1 0 2.40 0a1.20 1.20 0 1 0 -2.40 0M603.1 147.3a1.20 1.20 0 1 0 2.40 0a1.20 1.20 0 1 0 -2.40 0M601.5 146.6a1.20 1.20 0 1 0 2.40 0a1.20 1.20 0 1 0 -2.40 0M587.8 148.3a1.20 1.20 0 1 0 2.40 0a1.20 1.20 0 1 0 -2.40 0M587.9 148.1a1.20 1.20 0 1 0 2.40 0a1.20 1.20 0 1 0 -2.40 0M588.4 148.0a1.20 1.20 0 1 0 2.40 0a1.20 1.20 0 1 0 -2.40 0M604.1 147.8a1.20 1.20 0 1 0 2.40 0a1.20 1.20 0 1 0 -2.40 0M601.4 147.9a1.20 1.20 0 1 0 2.40 0a1.20 1.20 0 1 0 -2.40 0M585.9 149.0a1.20 1.20 0 1 0 2.40 0a1.20 1.20 0 1 0 -2.40 0M582.0 149.3a1.20 1.20 0 1 0 2.40 0a1.20 1.20 0 1 0 -2.40 0M582.2 149.4a1.20 1.20 0 1 0 2.40 0a1.20 1.20 0 1 0 -2.40 0M601.4 149.2a1.20 1.20 0 1 0 2.40 0a1.20 1.20 0 1 0 -2.40 0M603.3 148.9a1.20 1.20 0 1 0 2.40 0a1.20 1.20 0 1 0 -2.40 0M603.9 149.1a1.20 1.20 0 1 0 2.40 0a1.20 1.20 0 1 0 -2.40 0M587.6 150.3a1.20 1.20 0 1 0 2.40 0a1.20 1.20 0 1 0 -2.40 0M585.8 149.8a1.20 1.20 0 1 0 2.40 0a1.20 1.20 0 1 0 -2.40 0M585.7 150.3a1.20 1.20 0 1 0 2.40 0a1.20 1.20 0 1 0 -2.40 0M585.9 149.6a1.20 1.20 0 1 0 2.40 0a1.20 1.20 0 1 0 -2.40 0M602.4 149.7a1.20 1.20 0 1 0 2.40 0a1.20 1.20 0 1 0 -2.40 0M601.9 150.5a1.20 1.20 0 1 0 2.40 0a1.20 1.20 0 1 0 -2.40 0M605.1 149.7a1.20 1.20 0 1 0 2.40 0a1.20 1.20 0 1 0 -2.40 0M580.2 151.1a1.20 1.20 0 1 0 2.40 0a1.20 1.20 0 1 0 -2.40 0M611.1 150.7a1.20 1.20 0 1 0 2.40 0a1.20 1.20 0 1 0 -2.40 0M585.1 151.3a1.20 1.20 0 1 0 2.40 0a1.20 1.20 0 1 0 -2.40 0M588.4 151.1a1.20 1.20 0 1 0 2.40 0a1.20 1.20 0 1 0 -2.40 0M584.0 151.5a1.20 1.20 0 1 0 2.40 0a1.20 1.20 0 1 0 -2.40 0M604.1 151.4a1.20 1.20 0 1 0 2.40 0a1.20 1.20 0 1 0 -2.40 0M602.0 151.2a1.20 1.20 0 1 0 2.40 0a1.20 1.20 0 1 0 -2.40 0M579.1 152.1a1.20 1.20 0 1 0 2.40 0a1.20 1.20 0 1 0 -2.40 0M584.3 152.4a1.20 1.20 0 1 0 2.40 0a1.20 1.20 0 1 0 -2.40 0M585.1 151.7a1.20 1.20 0 1 0 2.40 0a1.20 1.20 0 1 0 -2.40 0M602.3 151.5a1.20 1.20 0 1 0 2.40 0a1.20 1.20 0 1 0 -2.40 0M601.8 152.4a1.20 1.20 0 1 0 2.40 0a1.20 1.20 0 1 0 -2.40 0M607.2 152.0a1.20 1.20 0 1 0 2.40 0a1.20 1.20 0 1 0 -2.40 0M586.5 153.0a1.20 1.20 0 1 0 2.40 0a1.20 1.20 0 1 0 -2.40 0M586.6 153.3a1.20 1.20 0 1 0 2.40 0a1.20 1.20 0 1 0 -2.40 0M587.3 152.9a1.20 1.20 0 1 0 2.40 0a1.20 1.20 0 1 0 -2.40 0M586.3 152.7a1.20 1.20 0 1 0 2.40 0a1.20 1.20 0 1 0 -2.40 0M601.7 152.6a1.20 1.20 0 1 0 2.40 0a1.20 1.20 0 1 0 -2.40 0M601.7 153.3a1.20 1.20 0 1 0 2.40 0a1.20 1.20 0 1 0 -2.40 0M603.5 152.9a1.20 1.20 0 1 0 2.40 0a1.20 1.20 0 1 0 -2.40 0M583.5 153.8a1.20 1.20 0 1 0 2.40 0a1.20 1.20 0 1 0 -2.40 0M607.9 153.9a1.20 1.20 0 1 0 2.40 0a1.20 1.20 0 1 0 -2.40 0M585.3 154.4a1.20 1.20 0 1 0 2.40 0a1.20 1.20 0 1 0 -2.40 0M586.2 153.8a1.20 1.20 0 1 0 2.40 0a1.20 1.20 0 1 0 -2.40 0M583.9 153.6a1.20 1.20 0 1 0 2.40 0a1.20 1.20 0 1 0 -2.40 0M603.3 153.6a1.20 1.20 0 1 0 2.40 0a1.20 1.20 0 1 0 -2.40 0M601.6 154.3a1.20 1.20 0 1 0 2.40 0a1.20 1.20 0 1 0 -2.40 0M605.3 155.4a1.20 1.20 0 1 0 2.40 0a1.20 1.20 0 1 0 -2.40 0M583.7 155.4a1.20 1.20 0 1 0 2.40 0a1.20 1.20 0 1 0 -2.40 0M587.6 154.6a1.20 1.20 0 1 0 2.40 0a1.20 1.20 0 1 0 -2.40 0M601.8 155.4a1.20 1.20 0 1 0 2.40 0a1.20 1.20 0 1 0 -2.40 0M606.3 154.9a1.20 1.20 0 1 0 2.40 0a1.20 1.20 0 1 0 -2.40 0M585.5 156.0a1.20 1.20 0 1 0 2.40 0a1.20 1.20 0 1 0 -2.40 0M605.4 155.6a1.20 1.20 0 1 0 2.40 0a1.20 1.20 0 1 0 -2.40 0M587.7 156.5a1.20 1.20 0 1 0 2.40 0a1.20 1.20 0 1 0 -2.40 0M586.2 155.8a1.20 1.20 0 1 0 2.40 0a1.20 1.20 0 1 0 -2.40 0M587.4 156.3a1.20 1.20 0 1 0 2.40 0a1.20 1.20 0 1 0 -2.40 0M602.7 155.5a1.20 1.20 0 1 0 2.40 0a1.20 1.20 0 1 0 -2.40 0M602.1 156.0a1.20 1.20 0 1 0 2.40 0a1.20 1.20 0 1 0 -2.40 0M604.3 155.7a1.20 1.20 0 1 0 2.40 0a1.20 1.20 0 1 0 -2.40 0M582.8 156.7a1.20 1.20 0 1 0 2.40 0a1.20 1.20 0 1 0 -2.40 0M602.9 157.0a1.20 1.20 0 1 0 2.40 0a1.20 1.20 0 1 0 -2.40 0M587.1 157.2a1.20 1.20 0 1 0 2.40 0a1.20 1.20 0 1 0 -2.40 0M587.5 156.8a1.20 1.20 0 1 0 2.40 0a1.20 1.20 0 1 0 -2.40 0M586.5 156.7a1.20 1.20 0 1 0 2.40 0a1.20 1.20 0 1 0 -2.40 0M602.1 157.0a1.20 1.20 0 1 0 2.40 0a1.20 1.20 0 1 0 -2.40 0M606.2 157.0a1.20 1.20 0 1 0 2.40 0a1.20 1.20 0 1 0 -2.40 0M583.3 158.5a1.20 1.20 0 1 0 2.40 0a1.20 1.20 0 1 0 -2.40 0M587.3 158.4a1.20 1.20 0 1 0 2.40 0a1.20 1.20 0 1 0 -2.40 0M586.9 157.6a1.20 1.20 0 1 0 2.40 0a1.20 1.20 0 1 0 -2.40 0M586.6 158.3a1.20 1.20 0 1 0 2.40 0a1.20 1.20 0 1 0 -2.40 0M604.0 158.4a1.20 1.20 0 1 0 2.40 0a1.20 1.20 0 1 0 -2.40 0M603.2 158.4a1.20 1.20 0 1 0 2.40 0a1.20 1.20 0 1 0 -2.40 0M602.9 157.6a1.20 1.20 0 1 0 2.40 0a1.20 1.20 0 1 0 -2.40 0M584.7 159.3a1.20 1.20 0 1 0 2.40 0a1.20 1.20 0 1 0 -2.40 0M585.3 158.5a1.20 1.20 0 1 0 2.40 0a1.20 1.20 0 1 0 -2.40 0M585.9 159.2a1.20 1.20 0 1 0 2.40 0a1.20 1.20 0 1 0 -2.40 0M583.3 158.6a1.20 1.20 0 1 0 2.40 0a1.20 1.20 0 1 0 -2.40 0M603.8 159.1a1.20 1.20 0 1 0 2.40 0a1.20 1.20 0 1 0 -2.40 0M602.4 159.5a1.20 1.20 0 1 0 2.40 0a1.20 1.20 0 1 0 -2.40 0M601.6 159.4a1.20 1.20 0 1 0 2.40 0a1.20 1.20 0 1 0 -2.40 0M584.7 160.2a1.20 1.20 0 1 0 2.40 0a1.20 1.20 0 1 0 -2.40 0M607.0 159.8a1.20 1.20 0 1 0 2.40 0a1.20 1.20 0 1 0 -2.40 0M585.6 159.8a1.20 1.20 0 1 0 2.40 0a1.20 1.20 0 1 0 -2.40 0M584.6 160.4a1.20 1.20 0 1 0 2.40 0a1.20 1.20 0 1 0 -2.40 0M601.7 159.9a1.20 1.20 0 1 0 2.40 0a1.20 1.20 0 1 0 -2.40 0M601.6 159.9a1.20 1.20 0 1 0 2.40 0a1.20 1.20 0 1 0 -2.40 0M582.3 161.4a1.20 1.20 0 1 0 2.40 0a1.20 1.20 0 1 0 -2.40 0M607.8 160.6a1.20 1.20 0 1 0 2.40 0a1.20 1.20 0 1 0 -2.40 0M586.1 161.2a1.20 1.20 0 1 0 2.40 0a1.20 1.20 0 1 0 -2.40 0M583.5 160.5a1.20 1.20 0 1 0 2.40 0a1.20 1.20 0 1 0 -2.40 0M583.8 160.8a1.20 1.20 0 1 0 2.40 0a1.20 1.20 0 1 0 -2.40 0M603.1 161.0a1.20 1.20 0 1 0 2.40 0a1.20 1.20 0 1 0 -2.40 0M606.8 161.3a1.20 1.20 0 1 0 2.40 0a1.20 1.20 0 1 0 -2.40 0M602.6 161.3a1.20 1.20 0 1 0 2.40 0a1.20 1.20 0 1 0 -2.40 0M582.3 161.8a1.20 1.20 0 1 0 2.40 0a1.20 1.20 0 1 0 -2.40 0M609.2 162.2a1.20 1.20 0 1 0 2.40 0a1.20 1.20 0 1 0 -2.40 0M586.5 162.2a1.20 1.20 0 1 0 2.40 0a1.20 1.20 0 1 0 -2.40 0M585.3 162.2a1.20 1.20 0 1 0 2.40 0a1.20 1.20 0 1 0 -2.40 0M601.8 161.8a1.20 1.20 0 1 0 2.40 0a1.20 1.20 0 1 0 -2.40 0M603.1 161.7a1.20 1.20 0 1 0 2.40 0a1.20 1.20 0 1 0 -2.40 0M602.3 161.9a1.20 1.20 0 1 0 2.40 0a1.20 1.20 0 1 0 -2.40 0M583.9 162.9a1.20 1.20 0 1 0 2.40 0a1.20 1.20 0 1 0 -2.40 0M586.5 162.9a1.20 1.20 0 1 0 2.40 0a1.20 1.20 0 1 0 -2.40 0M584.0 162.5a1.20 1.20 0 1 0 2.40 0a1.20 1.20 0 1 0 -2.40 0M603.8 162.8a1.20 1.20 0 1 0 2.40 0a1.20 1.20 0 1 0 -2.40 0M601.8 162.8a1.20 1.20 0 1 0 2.40 0a1.20 1.20 0 1 0 -2.40 0M580.2 163.6a1.20 1.20 0 1 0 2.40 0a1.20 1.20 0 1 0 -2.40 0M607.7 163.5a1.20 1.20 0 1 0 2.40 0a1.20 1.20 0 1 0 -2.40 0M585.8 163.8a1.20 1.20 0 1 0 2.40 0a1.20 1.20 0 1 0 -2.40 0M585.7 163.8a1.20 1.20 0 1 0 2.40 0a1.20 1.20 0 1 0 -2.40 0M605.8 164.1a1.20 1.20 0 1 0 2.40 0a1.20 1.20 0 1 0 -2.40 0M603.7 164.3a1.20 1.20 0 1 0 2.40 0a1.20 1.20 0 1 0 -2.40 0M582.1 164.5a1.20 1.20 0 1 0 2.40 0a1.20 1.20 0 1 0 -2.40 0M611.6 164.6a1.20 1.20 0 1 0 2.40 0a1.20 1.20 0 1 0 -2.40 0M584.8 165.0a1.20 1.20 0 1 0 2.40 0a1.20 1.20 0 1 0 -2.40 0M586.3 164.9a1.20 1.20 0 1 0 2.40 0a1.20 1.20 0 1 0 -2.40 0M585.7 165.1a1.20 1.20 0 1 0 2.40 0a1.20 1.20 0 1 0 -2.40 0M602.1 165.0a1.20 1.20 0 1 0 2.40 0a1.20 1.20 0 1 0 -2.40 0M603.0 164.9a1.20 1.20 0 1 0 2.40 0a1.20 1.20 0 1 0 -2.40 0M582.1 165.6a1.20 1.20 0 1 0 2.40 0a1.20 1.20 0 1 0 -2.40 0M604.7 166.4a1.20 1.20 0 1 0 2.40 0a1.20 1.20 0 1 0 -2.40 0M585.8 165.7a1.20 1.20 0 1 0 2.40 0a1.20 1.20 0 1 0 -2.40 0M584.1 166.3a1.20 1.20 0 1 0 2.40 0a1.20 1.20 0 1 0 -2.40 0M583.0 166.0a1.20 1.20 0 1 0 2.40 0a1.20 1.20 0 1 0 -2.40 0M602.8 166.0a1.20 1.20 0 1 0 2.40 0a1.20 1.20 0 1 0 -2.40 0M602.3 166.4a1.20 1.20 0 1 0 2.40 0a1.20 1.20 0 1 0 -2.40 0M581.7 166.6a1.20 1.20 0 1 0 2.40 0a1.20 1.20 0 1 0 -2.40 0M604.3 167.5a1.20 1.20 0 1 0 2.40 0a1.20 1.20 0 1 0 -2.40 0M585.4 166.6a1.20 1.20 0 1 0 2.40 0a1.20 1.20 0 1 0 -2.40 0M585.7 167.0a1.20 1.20 0 1 0 2.40 0a1.20 1.20 0 1 0 -2.40 0M585.9 167.1a1.20 1.20 0 1 0 2.40 0a1.20 1.20 0 1 0 -2.40 0M604.5 166.8a1.20 1.20 0 1 0 2.40 0a1.20 1.20 0 1 0 -2.40 0M603.8 166.8a1.20 1.20 0 1 0 2.40 0a1.20 1.20 0 1 0 -2.40 0M563.2 167.7a1.20 1.20 0 1 0 2.40 0a1.20 1.20 0 1 0 -2.40 0M610.2 167.7a1.20 1.20 0 1 0 2.40 0a1.20 1.20 0 1 0 -2.40 0M584.8 168.0a1.20 1.20 0 1 0 2.40 0a1.20 1.20 0 1 0 -2.40 0M584.4 168.3a1.20 1.20 0 1 0 2.40 0a1.20 1.20 0 1 0 -2.40 0M585.3 168.3a1.20 1.20 0 1 0 2.40 0a1.20 1.20 0 1 0 -2.40 0M602.7 167.7a1.20 1.20 0 1 0 2.40 0a1.20 1.20 0 1 0 -2.40 0M603.3 168.4a1.20 1.20 0 1 0 2.40 0a1.20 1.20 0 1 0 -2.40 0M580.8 169.0a1.20 1.20 0 1 0 2.40 0a1.20 1.20 0 1 0 -2.40 0M609.6 168.5a1.20 1.20 0 1 0 2.40 0a1.20 1.20 0 1 0 -2.40 0M584.6 169.1a1.20 1.20 0 1 0 2.40 0a1.20 1.20 0 1 0 -2.40 0M582.7 168.6a1.20 1.20 0 1 0 2.40 0a1.20 1.20 0 1 0 -2.40 0M607.2 168.7a1.20 1.20 0 1 0 2.40 0a1.20 1.20 0 1 0 -2.40 0M603.9 168.8a1.20 1.20 0 1 0 2.40 0a1.20 1.20 0 1 0 -2.40 0M579.3 169.6a1.20 1.20 0 1 0 2.40 0a1.20 1.20 0 1 0 -2.40 0M605.6 169.9a1.20 1.20 0 1 0 2.40 0a1.20 1.20 0 1 0 -2.40 0M581.0 170.1a1.20 1.20 0 1 0 2.40 0a1.20 1.20 0 1 0 -2.40 0M585.4 170.0a1.20 1.20 0 1 0 2.40 0a1.20 1.20 0 1 0 -2.40 0M602.6 169.9a1.20 1.20 0 1 0 2.40 0a1.20 1.20 0 1 0 -2.40 0M603.0 170.1a1.20 1.20 0 1 0 2.40 0a1.20 1.20 0 1 0 -2.40 0M583.9 170.7a1.20 1.20 0 1 0 2.40 0a1.20 1.20 0 1 0 -2.40 0M580.3 170.9a1.20 1.20 0 1 0 2.40 0a1.20 1.20 0 1 0 -2.40 0M605.0 171.2a1.20 1.20 0 1 0 2.40 0a1.20 1.20 0 1 0 -2.40 0M585.3 171.0a1.20 1.20 0 1 0 2.40 0a1.20 1.20 0 1 0 -2.40 0M585.0 170.9a1.20 1.20 0 1 0 2.40 0a1.20 1.20 0 1 0 -2.40 0M605.0 170.8a1.20 1.20 0 1 0 2.40 0a1.20 1.20 0 1 0 -2.40 0M609.2 170.7a1.20 1.20 0 1 0 2.40 0a1.20 1.20 0 1 0 -2.40 0M603.3 171.1a1.20 1.20 0 1 0 2.40 0a1.20 1.20 0 1 0 -2.40 0M582.9 171.8a1.20 1.20 0 1 0 2.40 0a1.20 1.20 0 1 0 -2.40 0M578.2 172.3a1.20 1.20 0 1 0 2.40 0a1.20 1.20 0 1 0 -2.40 0M605.7 172.1a1.20 1.20 0 1 0 2.40 0a1.20 1.20 0 1 0 -2.40 0M584.3 171.6a1.20 1.20 0 1 0 2.40 0a1.20 1.20 0 1 0 -2.40 0M585.0 172.0a1.20 1.20 0 1 0 2.40 0a1.20 1.20 0 1 0 -2.40 0M607.4 172.2a1.20 1.20 0 1 0 2.40 0a1.20 1.20 0 1 0 -2.40 0M603.3 171.9a1.20 1.20 0 1 0 2.40 0a1.20 1.20 0 1 0 -2.40 0M580.5 173.3a1.20 1.20 0 1 0 2.40 0a1.20 1.20 0 1 0 -2.40 0M583.4 173.0a1.20 1.20 0 1 0 2.40 0a1.20 1.20 0 1 0 -2.40 0M609.0 173.3a1.20 1.20 0 1 0 2.40 0a1.20 1.20 0 1 0 -2.40 0M611.4 172.8a1.20 1.20 0 1 0 2.40 0a1.20 1.20 0 1 0 -2.40 0M584.8 172.8a1.20 1.20 0 1 0 2.40 0a1.20 1.20 0 1 0 -2.40 0M584.5 173.2a1.20 1.20 0 1 0 2.40 0a1.20 1.20 0 1 0 -2.40 0M604.6 172.6a1.20 1.20 0 1 0 2.40 0a1.20 1.20 0 1 0 -2.40 0M603.3 173.2a1.20 1.20 0 1 0 2.40 0a1.20 1.20 0 1 0 -2.40 0M604.8 173.4a1.20 1.20 0 1 0 2.40 0a1.20 1.20 0 1 0 -2.40 0M578.4 173.9a1.20 1.20 0 1 0 2.40 0a1.20 1.20 0 1 0 -2.40 0M606.3 174.0a1.20 1.20 0 1 0 2.40 0a1.20 1.20 0 1 0 -2.40 0M583.8 173.9a1.20 1.20 0 1 0 2.40 0a1.20 1.20 0 1 0 -2.40 0M584.4 174.5a1.20 1.20 0 1 0 2.40 0a1.20 1.20 0 1 0 -2.40 0M604.3 173.7a1.20 1.20 0 1 0 2.40 0a1.20 1.20 0 1 0 -2.40 0M604.1 173.9a1.20 1.20 0 1 0 2.40 0a1.20 1.20 0 1 0 -2.40 0M580.6 174.9a1.20 1.20 0 1 0 2.40 0a1.20 1.20 0 1 0 -2.40 0M577.4 174.6a1.20 1.20 0 1 0 2.40 0a1.20 1.20 0 1 0 -2.40 0M614.3 174.5a1.20 1.20 0 1 0 2.40 0a1.20 1.20 0 1 0 -2.40 0M582.1 174.5a1.20 1.20 0 1 0 2.40 0a1.20 1.20 0 1 0 -2.40 0M580.7 175.5a1.20 1.20 0 1 0 2.40 0a1.20 1.20 0 1 0 -2.40 0M584.2 174.8a1.20 1.20 0 1 0 2.40 0a1.20 1.20 0 1 0 -2.40 0M604.0 175.2a1.20 1.20 0 1 0 2.40 0a1.20 1.20 0 1 0 -2.40 0M606.1 174.5a1.20 1.20 0 1 0 2.40 0a1.20 1.20 0 1 0 -2.40 0M580.6 176.3a1.20 1.20 0 1 0 2.40 0a1.20 1.20 0 1 0 -2.40 0M582.3 176.2a1.20 1.20 0 1 0 2.40 0a1.20 1.20 0 1 0 -2.40 0M609.9 176.0a1.20 1.20 0 1 0 2.40 0a1.20 1.20 0 1 0 -2.40 0M618.8 176.5a1.20 1.20 0 1 0 2.40 0a1.20 1.20 0 1 0 -2.40 0M582.1 175.9a1.20 1.20 0 1 0 2.40 0a1.20 1.20 0 1 0 -2.40 0M582.6 175.9a1.20 1.20 0 1 0 2.40 0a1.20 1.20 0 1 0 -2.40 0M609.7 176.2a1.20 1.20 0 1 0 2.40 0a1.20 1.20 0 1 0 -2.40 0M604.0 176.1a1.20 1.20 0 1 0 2.40 0a1.20 1.20 0 1 0 -2.40 0M569.6 176.8a1.20 1.20 0 1 0 2.40 0a1.20 1.20 0 1 0 -2.40 0M579.7 177.2a1.20 1.20 0 1 0 2.40 0a1.20 1.20 0 1 0 -2.40 0M608.8 177.1a1.20 1.20 0 1 0 2.40 0a1.20 1.20 0 1 0 -2.40 0M583.6 176.9a1.20 1.20 0 1 0 2.40 0a1.20 1.20 0 1 0 -2.40 0M582.5 177.2a1.20 1.20 0 1 0 2.40 0a1.20 1.20 0 1 0 -2.40 0M582.9 176.8a1.20 1.20 0 1 0 2.40 0a1.20 1.20 0 1 0 -2.40 0M607.7 176.7a1.20 1.20 0 1 0 2.40 0a1.20 1.20 0 1 0 -2.40 0M607.0 176.8a1.20 1.20 0 1 0 2.40 0a1.20 1.20 0 1 0 -2.40 0M573.0 178.0a1.20 1.20 0 1 0 2.40 0a1.20 1.20 0 1 0 -2.40 0M566.7 177.9a1.20 1.20 0 1 0 2.40 0a1.20 1.20 0 1 0 -2.40 0M608.1 178.2a1.20 1.20 0 1 0 2.40 0a1.20 1.20 0 1 0 -2.40 0M606.8 178.2a1.20 1.20 0 1 0 2.40 0a1.20 1.20 0 1 0 -2.40 0M581.7 177.5a1.20 1.20 0 1 0 2.40 0a1.20 1.20 0 1 0 -2.40 0M581.5 177.7a1.20 1.20 0 1 0 2.40 0a1.20 1.20 0 1 0 -2.40 0M582.7 178.5a1.20 1.20 0 1 0 2.40 0a1.20 1.20 0 1 0 -2.40 0M604.2 178.5a1.20 1.20 0 1 0 2.40 0a1.20 1.20 0 1 0 -2.40 0M606.8 178.1a1.20 1.20 0 1 0 2.40 0a1.20 1.20 0 1 0 -2.40 0M605.3 178.0a1.20 1.20 0 1 0 2.40 0a1.20 1.20 0 1 0 -2.40 0M572.0 178.6a1.20 1.20 0 1 0 2.40 0a1.20 1.20 0 1 0 -2.40 0M579.4 179.0a1.20 1.20 0 1 0 2.40 0a1.20 1.20 0 1 0 -2.40 0M606.2 179.1a1.20 1.20 0 1 0 2.40 0a1.20 1.20 0 1 0 -2.40 0M629.1 179.3a1.20 1.20 0 1 0 2.40 0a1.20 1.20 0 1 0 -2.40 0M582.5 179.5a1.20 1.20 0 1 0 2.40 0a1.20 1.20 0 1 0 -2.40 0M580.4 179.1a1.20 1.20 0 1 0 2.40 0a1.20 1.20 0 1 0 -2.40 0M583.1 178.6a1.20 1.20 0 1 0 2.40 0a1.20 1.20 0 1 0 -2.40 0M605.0 179.2a1.20 1.20 0 1 0 2.40 0a1.20 1.20 0 1 0 -2.40 0M604.6 179.2a1.20 1.20 0 1 0 2.40 0a1.20 1.20 0 1 0 -2.40 0M581.0 179.6a1.20 1.20 0 1 0 2.40 0a1.20 1.20 0 1 0 -2.40 0M580.0 179.9a1.20 1.20 0 1 0 2.40 0a1.20 1.20 0 1 0 -2.40 0M622.8 179.7a1.20 1.20 0 1 0 2.40 0a1.20 1.20 0 1 0 -2.40 0M607.0 180.0a1.20 1.20 0 1 0 2.40 0a1.20 1.20 0 1 0 -2.40 0M582.9 180.0a1.20 1.20 0 1 0 2.40 0a1.20 1.20 0 1 0 -2.40 0M582.1 180.2a1.20 1.20 0 1 0 2.40 0a1.20 1.20 0 1 0 -2.40 0M581.8 179.6a1.20 1.20 0 1 0 2.40 0a1.20 1.20 0 1 0 -2.40 0M604.7 179.6a1.20 1.20 0 1 0 2.40 0a1.20 1.20 0 1 0 -2.40 0M607.6 180.4a1.20 1.20 0 1 0 2.40 0a1.20 1.20 0 1 0 -2.40 0M609.5 180.2a1.20 1.20 0 1 0 2.40 0a1.20 1.20 0 1 0 -2.40 0M577.2 181.0a1.20 1.20 0 1 0 2.40 0a1.20 1.20 0 1 0 -2.40 0M579.1 181.4a1.20 1.20 0 1 0 2.40 0a1.20 1.20 0 1 0 -2.40 0M620.5 180.9a1.20 1.20 0 1 0 2.40 0a1.20 1.20 0 1 0 -2.40 0M607.6 181.1a1.20 1.20 0 1 0 2.40 0a1.20 1.20 0 1 0 -2.40 0M581.6 180.7a1.20 1.20 0 1 0 2.40 0a1.20 1.20 0 1 0 -2.40 0M582.5 181.1a1.20 1.20 0 1 0 2.40 0a1.20 1.20 0 1 0 -2.40 0M607.7 181.0a1.20 1.20 0 1 0 2.40 0a1.20 1.20 0 1 0 -2.40 0M606.8 180.8a1.20 1.20 0 1 0 2.40 0a1.20 1.20 0 1 0 -2.40 0M608.5 180.7a1.20 1.20 0 1 0 2.40 0a1.20 1.20 0 1 0 -2.40 0M580.8 182.2a1.20 1.20 0 1 0 2.40 0a1.20 1.20 0 1 0 -2.40 0M623.1 182.1a1.20 1.20 0 1 0 2.40 0a1.20 1.20 0 1 0 -2.40 0M614.2 182.0a1.20 1.20 0 1 0 2.40 0a1.20 1.20 0 1 0 -2.40 0M581.9 181.9a1.20 1.20 0 1 0 2.40 0a1.20 1.20 0 1 0 -2.40 0M580.7 181.6a1.20 1.20 0 1 0 2.40 0a1.20 1.20 0 1 0 -2.40 0M605.3 181.7a1.20 1.20 0 1 0 2.40 0a1.20 1.20 0 1 0 -2.40 0M605.4 181.5a1.20 1.20 0 1 0 2.40 0a1.20 1.20 0 1 0 -2.40 0M606.2 181.9a1.20 1.20 0 1 0 2.40 0a1.20 1.20 0 1 0 -2.40 0M560.6 183.1a1.20 1.20 0 1 0 2.40 0a1.20 1.20 0 1 0 -2.40 0M574.2 183.4a1.20 1.20 0 1 0 2.40 0a1.20 1.20 0 1 0 -2.40 0M609.9 183.4a1.20 1.20 0 1 0 2.40 0a1.20 1.20 0 1 0 -2.40 0M581.1 182.8a1.20 1.20 0 1 0 2.40 0a1.20 1.20 0 1 0 -2.40 0M580.0 182.8a1.20 1.20 0 1 0 2.40 0a1.20 1.20 0 1 0 -2.40 0M581.5 182.9a1.20 1.20 0 1 0 2.40 0a1.20 1.20 0 1 0 -2.40 0M607.8 182.5a1.20 1.20 0 1 0 2.40 0a1.20 1.20 0 1 0 -2.40 0M605.3 183.4a1.20 1.20 0 1 0 2.40 0a1.20 1.20 0 1 0 -2.40 0M607.5 182.5a1.20 1.20 0 1 0 2.40 0a1.20 1.20 0 1 0 -2.40 0M577.3 183.5a1.20 1.20 0 1 0 2.40 0a1.20 1.20 0 1 0 -2.40 0M579.0 183.8a1.20 1.20 0 1 0 2.40 0a1.20 1.20 0 1 0 -2.40 0M606.8 184.2a1.20 1.20 0 1 0 2.40 0a1.20 1.20 0 1 0 -2.40 0M580.3 183.5a1.20 1.20 0 1 0 2.40 0a1.20 1.20 0 1 0 -2.40 0M579.6 184.4a1.20 1.20 0 1 0 2.40 0a1.20 1.20 0 1 0 -2.40 0M581.8 184.5a1.20 1.20 0 1 0 2.40 0a1.20 1.20 0 1 0 -2.40 0M605.9 184.0a1.20 1.20 0 1 0 2.40 0a1.20 1.20 0 1 0 -2.40 0M605.3 183.7a1.20 1.20 0 1 0 2.40 0a1.20 1.20 0 1 0 -2.40 0M577.7 184.8a1.20 1.20 0 1 0 2.40 0a1.20 1.20 0 1 0 -2.40 0M579.9 184.6a1.20 1.20 0 1 0 2.40 0a1.20 1.20 0 1 0 -2.40 0M607.1 184.6a1.20 1.20 0 1 0 2.40 0a1.20 1.20 0 1 0 -2.40 0M618.5 184.9a1.20 1.20 0 1 0 2.40 0a1.20 1.20 0 1 0 -2.40 0M578.4 184.7a1.20 1.20 0 1 0 2.40 0a1.20 1.20 0 1 0 -2.40 0M581.2 184.5a1.20 1.20 0 1 0 2.40 0a1.20 1.20 0 1 0 -2.40 0M578.7 184.9a1.20 1.20 0 1 0 2.40 0a1.20 1.20 0 1 0 -2.40 0M606.6 185.4a1.20 1.20 0 1 0 2.40 0a1.20 1.20 0 1 0 -2.40 0M609.2 185.3a1.20 1.20 0 1 0 2.40 0a1.20 1.20 0 1 0 -2.40 0M572.3 185.7a1.20 1.20 0 1 0 2.40 0a1.20 1.20 0 1 0 -2.40 0M567.2 186.0a1.20 1.20 0 1 0 2.40 0a1.20 1.20 0 1 0 -2.40 0M609.5 186.4a1.20 1.20 0 1 0 2.40 0a1.20 1.20 0 1 0 -2.40 0M609.2 185.6a1.20 1.20 0 1 0 2.40 0a1.20 1.20 0 1 0 -2.40 0M580.4 186.1a1.20 1.20 0 1 0 2.40 0a1.20 1.20 0 1 0 -2.40 0M580.5 185.8a1.20 1.20 0 1 0 2.40 0a1.20 1.20 0 1 0 -2.40 0M610.1 186.0a1.20 1.20 0 1 0 2.40 0a1.20 1.20 0 1 0 -2.40 0M607.7 186.1a1.20 1.20 0 1 0 2.40 0a1.20 1.20 0 1 0 -2.40 0M606.2 186.4a1.20 1.20 0 1 0 2.40 0a1.20 1.20 0 1 0 -2.40 0M578.7 186.5a1.20 1.20 0 1 0 2.40 0a1.20 1.20 0 1 0 -2.40 0M571.4 186.7a1.20 1.20 0 1 0 2.40 0a1.20 1.20 0 1 0 -2.40 0M611.5 187.0a1.20 1.20 0 1 0 2.40 0a1.20 1.20 0 1 0 -2.40 0M579.6 186.8a1.20 1.20 0 1 0 2.40 0a1.20 1.20 0 1 0 -2.40 0M580.9 187.0a1.20 1.20 0 1 0 2.40 0a1.20 1.20 0 1 0 -2.40 0M577.6 187.2a1.20 1.20 0 1 0 2.40 0a1.20 1.20 0 1 0 -2.40 0M609.0 186.5a1.20 1.20 0 1 0 2.40 0a1.20 1.20 0 1 0 -2.40 0M606.4 186.9a1.20 1.20 0 1 0 2.40 0a1.20 1.20 0 1 0 -2.40 0M606.0 186.6a1.20 1.20 0 1 0 2.40 0a1.20 1.20 0 1 0 -2.40 0M575.3 188.2a1.20 1.20 0 1 0 2.40 0a1.20 1.20 0 1 0 -2.40 0M578.1 188.4a1.20 1.20 0 1 0 2.40 0a1.20 1.20 0 1 0 -2.40 0M610.1 187.7a1.20 1.20 0 1 0 2.40 0a1.20 1.20 0 1 0 -2.40 0M580.0 187.9a1.20 1.20 0 1 0 2.40 0a1.20 1.20 0 1 0 -2.40 0M578.7 188.3a1.20 1.20 0 1 0 2.40 0a1.20 1.20 0 1 0 -2.40 0M576.9 188.1a1.20 1.20 0 1 0 2.40 0a1.20 1.20 0 1 0 -2.40 0M607.9 187.6a1.20 1.20 0 1 0 2.40 0a1.20 1.20 0 1 0 -2.40 0M606.6 187.7a1.20 1.20 0 1 0 2.40 0a1.20 1.20 0 1 0 -2.40 0M577.1 189.2a1.20 1.20 0 1 0 2.40 0a1.20 1.20 0 1 0 -2.40 0M570.4 188.9a1.20 1.20 0 1 0 2.40 0a1.20 1.20 0 1 0 -2.40 0M614.2 189.2a1.20 1.20 0 1 0 2.40 0a1.20 1.20 0 1 0 -2.40 0M611.2 188.9a1.20 1.20 0 1 0 2.40 0a1.20 1.20 0 1 0 -2.40 0M578.8 188.6a1.20 1.20 0 1 0 2.40 0a1.20 1.20 0 1 0 -2.40 0M579.2 189.0a1.20 1.20 0 1 0 2.40 0a1.20 1.20 0 1 0 -2.40 0M607.0 189.5a1.20 1.20 0 1 0 2.40 0a1.20 1.20 0 1 0 -2.40 0M608.6 189.1a1.20 1.20 0 1 0 2.40 0a1.20 1.20 0 1 0 -2.40 0M577.5 189.8a1.20 1.20 0 1 0 2.40 0a1.20 1.20 0 1 0 -2.40 0M576.3 190.0a1.20 1.20 0 1 0 2.40 0a1.20 1.20 0 1 0 -2.40 0M608.1 190.5a1.20 1.20 0 1 0 2.40 0a1.20 1.20 0 1 0 -2.40 0M608.0 189.8a1.20 1.20 0 1 0 2.40 0a1.20 1.20 0 1 0 -2.40 0M572.9 189.8a1.20 1.20 0 1 0 2.40 0a1.20 1.20 0 1 0 -2.40 0M579.3 190.0a1.20 1.20 0 1 0 2.40 0a1.20 1.20 0 1 0 -2.40 0M578.3 190.4a1.20 1.20 0 1 0 2.40 0a1.20 1.20 0 1 0 -2.40 0M606.9 190.4a1.20 1.20 0 1 0 2.40 0a1.20 1.20 0 1 0 -2.40 0M610.6 189.6a1.20 1.20 0 1 0 2.40 0a1.20 1.20 0 1 0 -2.40 0M563.1 191.3a1.20 1.20 0 1 0 2.40 0a1.20 1.20 0 1 0 -2.40 0M561.7 190.8a1.20 1.20 0 1 0 2.40 0a1.20 1.20 0 1 0 -2.40 0M617.5 191.3a1.20 1.20 0 1 0 2.40 0a1.20 1.20 0 1 0 -2.40 0M613.9 191.4a1.20 1.20 0 1 0 2.40 0a1.20 1.20 0 1 0 -2.40 0M578.7 191.4a1.20 1.20 0 1 0 2.40 0a1.20 1.20 0 1 0 -2.40 0M578.7 190.6a1.20 1.20 0 1 0 2.40 0a1.20 1.20 0 1 0 -2.40 0M607.7 191.3a1.20 1.20 0 1 0 2.40 0a1.20 1.20 0 1 0 -2.40 0M610.5 191.3a1.20 1.20 0 1 0 2.40 0a1.20 1.20 0 1 0 -2.40 0M575.5 192.0a1.20 1.20 0 1 0 2.40 0a1.20 1.20 0 1 0 -2.40 0M574.9 192.3a1.20 1.20 0 1 0 2.40 0a1.20 1.20 0 1 0 -2.40 0M612.0 192.3a1.20 1.20 0 1 0 2.40 0a1.20 1.20 0 1 0 -2.40 0M609.2 192.3a1.20 1.20 0 1 0 2.40 0a1.20 1.20 0 1 0 -2.40 0M577.3 192.2a1.20 1.20 0 1 0 2.40 0a1.20 1.20 0 1 0 -2.40 0M578.7 192.4a1.20 1.20 0 1 0 2.40 0a1.20 1.20 0 1 0 -2.40 0M608.0 191.6a1.20 1.20 0 1 0 2.40 0a1.20 1.20 0 1 0 -2.40 0M607.6 191.5a1.20 1.20 0 1 0 2.40 0a1.20 1.20 0 1 0 -2.40 0M576.7 192.5a1.20 1.20 0 1 0 2.40 0a1.20 1.20 0 1 0 -2.40 0M577.3 192.6a1.20 1.20 0 1 0 2.40 0a1.20 1.20 0 1 0 -2.40 0M609.3 192.8a1.20 1.20 0 1 0 2.40 0a1.20 1.20 0 1 0 -2.40 0M609.4 192.7a1.20 1.20 0 1 0 2.40 0a1.20 1.20 0 1 0 -2.40 0M578.0 193.2a1.20 1.20 0 1 0 2.40 0a1.20 1.20 0 1 0 -2.40 0M578.4 193.2a1.20 1.20 0 1 0 2.40 0a1.20 1.20 0 1 0 -2.40 0M608.4 192.8a1.20 1.20 0 1 0 2.40 0a1.20 1.20 0 1 0 -2.40 0M607.7 193.5a1.20 1.20 0 1 0 2.40 0a1.20 1.20 0 1 0 -2.40 0M608.0 192.5a1.20 1.20 0 1 0 2.40 0a1.20 1.20 0 1 0 -2.40 0M576.9 193.6a1.20 1.20 0 1 0 2.40 0a1.20 1.20 0 1 0 -2.40 0M575.7 193.7a1.20 1.20 0 1 0 2.40 0a1.20 1.20 0 1 0 -2.40 0M611.4 193.8a1.20 1.20 0 1 0 2.40 0a1.20 1.20 0 1 0 -2.40 0M618.0 193.9a1.20 1.20 0 1 0 2.40 0a1.20 1.20 0 1 0 -2.40 0M576.5 194.4a1.20 1.20 0 1 0 2.40 0a1.20 1.20 0 1 0 -2.40 0M577.5 193.8a1.20 1.20 0 1 0 2.40 0a1.20 1.20 0 1 0 -2.40 0M618.4 193.6a1.20 1.20 0 1 0 2.40 0a1.20 1.20 0 1 0 -2.40 0M609.6 194.3a1.20 1.20 0 1 0 2.40 0a1.20 1.20 0 1 0 -2.40 0M576.1 195.5a1.20 1.20 0 1 0 2.40 0a1.20 1.20 0 1 0 -2.40 0M574.5 195.4a1.20 1.20 0 1 0 2.40 0a1.20 1.20 0 1 0 -2.40 0M610.0 195.0a1.20 1.20 0 1 0 2.40 0a1.20 1.20 0 1 0 -2.40 0M611.3 194.8a1.20 1.20 0 1 0 2.40 0a1.20 1.20 0 1 0 -2.40 0M574.4 195.1a1.20 1.20 0 1 0 2.40 0a1.20 1.20 0 1 0 -2.40 0M576.4 195.2a1.20 1.20 0 1 0 2.40 0a1.20 1.20 0 1 0 -2.40 0M610.3 195.1a1.20 1.20 0 1 0 2.40 0a1.20 1.20 0 1 0 -2.40 0M615.8 195.3a1.20 1.20 0 1 0 2.40 0a1.20 1.20 0 1 0 -2.40 0M611.5 194.5a1.20 1.20 0 1 0 2.40 0a1.20 1.20 0 1 0 -2.40 0M576.4 195.8a1.20 1.20 0 1 0 2.40 0a1.20 1.20 0 1 0 -2.40 0M576.9 196.4a1.20 1.20 0 1 0 2.40 0a1.20 1.20 0 1 0 -2.40 0M613.6 196.3a1.20 1.20 0 1 0 2.40 0a1.20 1.20 0 1 0 -2.40 0M617.4 196.4a1.20 1.20 0 1 0 2.40 0a1.20 1.20 0 1 0 -2.40 0M578.3 196.0a1.20 1.20 0 1 0 2.40 0a1.20 1.20 0 1 0 -2.40 0M577.1 196.5a1.20 1.20 0 1 0 2.40 0a1.20 1.20 0 1 0 -2.40 0M577.8 195.6a1.20 1.20 0 1 0 2.40 0a1.20 1.20 0 1 0 -2.40 0M608.0 196.2a1.20 1.20 0 1 0 2.40 0a1.20 1.20 0 1 0 -2.40 0M609.1 195.7a1.20 1.20 0 1 0 2.40 0a1.20 1.20 0 1 0 -2.40 0M610.1 195.9a1.20 1.20 0 1 0 2.40 0a1.20 1.20 0 1 0 -2.40 0M577.3 197.3a1.20 1.20 0 1 0 2.40 0a1.20 1.20 0 1 0 -2.40 0M568.1 197.2a1.20 1.20 0 1 0 2.40 0a1.20 1.20 0 1 0 -2.40 0M626.7 196.5a1.20 1.20 0 1 0 2.40 0a1.20 1.20 0 1 0 -2.40 0M577.8 197.0a1.20 1.20 0 1 0 2.40 0a1.20 1.20 0 1 0 -2.40 0M578.2 196.7a1.20 1.20 0 1 0 2.40 0a1.20 1.20 0 1 0 -2.40 0M578.4 197.5a1.20 1.20 0 1 0 2.40 0a1.20 1.20 0 1 0 -2.40 0M608.5 197.2a1.20 1.20 0 1 0 2.40 0a1.20 1.20 0 1 0 -2.40 0M609.7 197.3a1.20 1.20 0 1 0 2.40 0a1.20 1.20 0 1 0 -2.40 0M610.0 196.8a1.20 1.20 0 1 0 2.40 0a1.20 1.20 0 1 0 -2.40 0M574.5 198.2a1.20 1.20 0 1 0 2.40 0a1.20 1.20 0 1 0 -2.40 0M576.5 198.4a1.20 1.20 0 1 0 2.40 0a1.20 1.20 0 1 0 -2.40 0M610.0 197.9a1.20 1.20 0 1 0 2.40 0a1.20 1.20 0 1 0 -2.40 0M609.6 197.6a1.20 1.20 0 1 0 2.40 0a1.20 1.20 0 1 0 -2.40 0M579.3 198.1a1.20 1.20 0 1 0 2.40 0a1.20 1.20 0 1 0 -2.40 0M578.0 197.6a1.20 1.20 0 1 0 2.40 0a1.20 1.20 0 1 0 -2.40 0M577.1 197.9a1.20 1.20 0 1 0 2.40 0a1.20 1.20 0 1 0 -2.40 0M610.9 198.0a1.20 1.20 0 1 0 2.40 0a1.20 1.20 0 1 0 -2.40 0M607.6 197.8a1.20 1.20 0 1 0 2.40 0a1.20 1.20 0 1 0 -2.40 0M568.0 198.7a1.20 1.20 0 1 0 2.40 0a1.20 1.20 0 1 0 -2.40 0M578.1 199.0a1.20 1.20 0 1 0 2.40 0a1.20 1.20 0 1 0 -2.40 0M615.7 198.5a1.20 1.20 0 1 0 2.40 0a1.20 1.20 0 1 0 -2.40 0M609.6 198.8a1.20 1.20 0 1 0 2.40 0a1.20 1.20 0 1 0 -2.40 0M578.5 199.4a1.20 1.20 0 1 0 2.40 0a1.20 1.20 0 1 0 -2.40 0M575.6 199.1a1.20 1.20 0 1 0 2.40 0a1.20 1.20 0 1 0 -2.40 0M579.7 199.1a1.20 1.20 0 1 0 2.40 0a1.20 1.20 0 1 0 -2.40 0M608.4 199.1a1.20 1.20 0 1 0 2.40 0a1.20 1.20 0 1 0 -2.40 0M611.9 199.1a1.20 1.20 0 1 0 2.40 0a1.20 1.20 0 1 0 -2.40 0M607.7 198.6a1.20 1.20 0 1 0 2.40 0a1.20 1.20 0 1 0 -2.40 0M576.9 199.8a1.20 1.20 0 1 0 2.40 0a1.20 1.20 0 1 0 -2.40 0M613.2 200.1a1.20 1.20 0 1 0 2.40 0a1.20 1.20 0 1 0 -2.40 0M577.2 200.2a1.20 1.20 0 1 0 2.40 0a1.20 1.20 0 1 0 -2.40 0M576.8 200.2a1.20 1.20 0 1 0 2.40 0a1.20 1.20 0 1 0 -2.40 0M578.4 199.8a1.20 1.20 0 1 0 2.40 0a1.20 1.20 0 1 0 -2.40 0M611.3 199.8a1.20 1.20 0 1 0 2.40 0a1.20 1.20 0 1 0 -2.40 0M610.9 199.8a1.20 1.20 0 1 0 2.40 0a1.20 1.20 0 1 0 -2.40 0M608.0 200.5a1.20 1.20 0 1 0 2.40 0a1.20 1.20 0 1 0 -2.40 0M577.0 200.5a1.20 1.20 0 1 0 2.40 0a1.20 1.20 0 1 0 -2.40 0M608.0 201.1a1.20 1.20 0 1 0 2.40 0a1.20 1.20 0 1 0 -2.40 0M580.8 201.4a1.20 1.20 0 1 0 2.40 0a1.20 1.20 0 1 0 -2.40 0M577.2 200.7a1.20 1.20 0 1 0 2.40 0a1.20 1.20 0 1 0 -2.40 0M608.2 200.7a1.20 1.20 0 1 0 2.40 0a1.20 1.20 0 1 0 -2.40 0M606.4 201.1a1.20 1.20 0 1 0 2.40 0a1.20 1.20 0 1 0 -2.40 0M579.9 202.3a1.20 1.20 0 1 0 2.40 0a1.20 1.20 0 1 0 -2.40 0M607.1 202.2a1.20 1.20 0 1 0 2.40 0a1.20 1.20 0 1 0 -2.40 0M582.2 202.0a1.20 1.20 0 1 0 2.40 0a1.20 1.20 0 1 0 -2.40 0M582.4 202.4a1.20 1.20 0 1 0 2.40 0a1.20 1.20 0 1 0 -2.40 0M582.4 202.5a1.20 1.20 0 1 0 2.40 0a1.20 1.20 0 1 0 -2.40 0M608.9 202.1a1.20 1.20 0 1 0 2.40 0a1.20 1.20 0 1 0 -2.40 0M612.4 201.5a1.20 1.20 0 1 0 2.40 0a1.20 1.20 0 1 0 -2.40 0M580.2 202.7a1.20 1.20 0 1 0 2.40 0a1.20 1.20 0 1 0 -2.40 0M611.9 202.9a1.20 1.20 0 1 0 2.40 0a1.20 1.20 0 1 0 -2.40 0M583.1 203.4a1.20 1.20 0 1 0 2.40 0a1.20 1.20 0 1 0 -2.40 0M576.7 202.9a1.20 1.20 0 1 0 2.40 0a1.20 1.20 0 1 0 -2.40 0M583.7 203.4a1.20 1.20 0 1 0 2.40 0a1.20 1.20 0 1 0 -2.40 0M604.7 203.0a1.20 1.20 0 1 0 2.40 0a1.20 1.20 0 1 0 -2.40 0M605.3 203.5a1.20 1.20 0 1 0 2.40 0a1.20 1.20 0 1 0 -2.40 0M575.0 203.9a1.20 1.20 0 1 0 2.40 0a1.20 1.20 0 1 0 -2.40 0M607.5 203.6a1.20 1.20 0 1 0 2.40 0a1.20 1.20 0 1 0 -2.40 0M584.3 203.7a1.20 1.20 0 1 0 2.40 0a1.20 1.20 0 1 0 -2.40 0M582.0 204.1a1.20 1.20 0 1 0 2.40 0a1.20 1.20 0 1 0 -2.40 0M582.9 204.1a1.20 1.20 0 1 0 2.40 0a1.20 1.20 0 1 0 -2.40 0M604.3 203.7a1.20 1.20 0 1 0 2.40 0a1.20 1.20 0 1 0 -2.40 0M605.4 203.8a1.20 1.20 0 1 0 2.40 0a1.20 1.20 0 1 0 -2.40 0M604.0 204.3a1.20 1.20 0 1 0 2.40 0a1.20 1.20 0 1 0 -2.40 0M573.7 204.8a1.20 1.20 0 1 0 2.40 0a1.20 1.20 0 1 0 -2.40 0M616.8 204.7a1.20 1.20 0 1 0 2.40 0a1.20 1.20 0 1 0 -2.40 0M585.5 205.0a1.20 1.20 0 1 0 2.40 0a1.20 1.20 0 1 0 -2.40 0M585.1 205.0a1.20 1.20 0 1 0 2.40 0a1.20 1.20 0 1 0 -2.40 0M605.3 204.9a1.20 1.20 0 1 0 2.40 0a1.20 1.20 0 1 0 -2.40 0M604.9 205.4a1.20 1.20 0 1 0 2.40 0a1.20 1.20 0 1 0 -2.40 0M585.4 206.0a1.20 1.20 0 1 0 2.40 0a1.20 1.20 0 1 0 -2.40 0M605.4 205.8a1.20 1.20 0 1 0 2.40 0a1.20 1.20 0 1 0 -2.40 0M584.0 205.8a1.20 1.20 0 1 0 2.40 0a1.20 1.20 0 1 0 -2.40 0M587.7 206.2a1.20 1.20 0 1 0 2.40 0a1.20 1.20 0 1 0 -2.40 0M586.8 206.3a1.20 1.20 0 1 0 2.40 0a1.20 1.20 0 1 0 -2.40 0M602.3 205.7a1.20 1.20 0 1 0 2.40 0a1.20 1.20 0 1 0 -2.40 0M602.0 205.9a1.20 1.20 0 1 0 2.40 0a1.20 1.20 0 1 0 -2.40 0M604.1 206.3a1.20 1.20 0 1 0 2.40 0a1.20 1.20 0 1 0 -2.40 0M586.6 206.7a1.20 1.20 0 1 0 2.40 0a1.20 1.20 0 1 0 -2.40 0M590.1 207.3a1.20 1.20 0 1 0 2.40 0a1.20 1.20 0 1 0 -2.40 0M588.5 207.0a1.20 1.20 0 1 0 2.40 0a1.20 1.20 0 1 0 -2.40 0M587.0 206.6a1.20 1.20 0 1 0 2.40 0a1.20 1.20 0 1 0 -2.40 0M602.4 206.6a1.20 1.20 0 1 0 2.40 0a1.20 1.20 0 1 0 -2.40 0M601.5 206.9a1.20 1.20 0 1 0 2.40 0a1.20 1.20 0 1 0 -2.40 0M600.9 206.8a1.20 1.20 0 1 0 2.40 0a1.20 1.20 0 1 0 -2.40 0M592.5 207.8a1.20 1.20 0 1 0 2.40 0a1.20 1.20 0 1 0 -2.40 0M591.8 208.4a1.20 1.20 0 1 0 2.40 0a1.20 1.20 0 1 0 -2.40 0M592.3 208.3a1.20 1.20 0 1 0 2.40 0a1.20 1.20 0 1 0 -2.40 0M598.1 208.4a1.20 1.20 0 1 0 2.40 0a1.20 1.20 0 1 0 -2.40 0M598.3 207.6a1.20 1.20 0 1 0 2.40 0a1.20 1.20 0 1 0 -2.40 0M600.1 207.6a1.20 1.20 0 1 0 2.40 0a1.20 1.20 0 1 0 -2.40 0M628.5 125.1a1.20 1.20 0 1 0 2.40 0a1.20 1.20 0 1 0 -2.40 0M561.5 143.1a1.20 1.20 0 1 0 2.40 0a1.20 1.20 0 1 0 -2.40 0M577.0 121.6a1.20 1.20 0 1 0 2.40 0a1.20 1.20 0 1 0 -2.40 0M579.7 131.6a1.20 1.20 0 1 0 2.40 0a1.20 1.20 0 1 0 -2.40 0M576.6 137.1a1.20 1.20 0 1 0 2.40 0a1.20 1.20 0 1 0 -2.40 0M569.7 148.9a1.20 1.20 0 1 0 2.40 0a1.20 1.20 0 1 0 -2.40 0M606.1 162.5a1.20 1.20 0 1 0 2.40 0a1.20 1.20 0 1 0 -2.40 0M603.9 123.6a1.20 1.20 0 1 0 2.40 0a1.20 1.20 0 1 0 -2.40 0M545.7 183.8a1.20 1.20 0 1 0 2.40 0a1.20 1.20 0 1 0 -2.40 0M553.3 198.9a1.20 1.20 0 1 0 2.40 0a1.20 1.20 0 1 0 -2.40 0M558.9 190.4a1.20 1.20 0 1 0 2.40 0a1.20 1.20 0 1 0 -2.40 0M560.5 181.9a1.20 1.20 0 1 0 2.40 0a1.20 1.20 0 1 0 -2.40 0M566.5 185.7a1.20 1.20 0 1 0 2.40 0a1.20 1.20 0 1 0 -2.40 0M563.7 195.1a1.20 1.20 0 1 0 2.40 0a1.20 1.20 0 1 0 -2.40 0M622.3 166.7a1.20 1.20 0 1 0 2.40 0a1.20 1.20 0 1 0 -2.40 0M616.7 168.6a1.20 1.20 0 1 0 2.40 0a1.20 1.20 0 1 0 -2.40 0M615.7 175.2a1.20 1.20 0 1 0 2.40 0a1.20 1.20 0 1 0 -2.40 0M627.1 180.0a1.20 1.20 0 1 0 2.40 0a1.20 1.20 0 1 0 -2.40 0M635.6 181.9a1.20 1.20 0 1 0 2.40 0a1.20 1.20 0 1 0 -2.40 0M619.5 187.5a1.20 1.20 0 1 0 2.40 0a1.20 1.20 0 1 0 -2.40 0M625.2 193.2a1.20 1.20 0 1 0 2.40 0a1.20 1.20 0 1 0 -2.40 0M631.8 198.0a1.20 1.20 0 1 0 2.40 0a1.20 1.20 0 1 0 -2.40 0M624.2 198.9a1.20 1.20 0 1 0 2.40 0a1.20 1.20 0 1 0 -2.40 0M572.2 162.0a1.20 1.20 0 1 0 2.40 0a1.20 1.20 0 1 0 -2.40 0M571.2 168.6a1.20 1.20 0 1 0 2.40 0a1.20 1.20 0 1 0 -2.40 0M572.2 176.2a1.20 1.20 0 1 0 2.40 0a1.20 1.20 0 1 0 -2.40 0M528.4 201.4a1.20 1.20 0 1 0 2.40 0a1.20 1.20 0 1 0 -2.40 0M535.2 201.4a1.20 1.20 0 1 0 2.40 0a1.20 1.20 0 1 0 -2.40 0M662.5 195.0a1.20 1.20 0 1 0 2.40 0a1.20 1.20 0 1 0 -2.40 0M666.2 198.8a1.20 1.20 0 1 0 2.40 0a1.20 1.20 0 1 0 -2.40 0"/>
<path fill="#d64d38" d="M92.1 42.4a1.40 1.40 0 1 0 2.80 0a1.40 1.40 0 1 0 -2.80 0M100.7 42.4a1.40 1.40 0 1 0 2.80 0a1.40 1.40 0 1 0 -2.80 0M110.1 42.3a1.60 1.60 0 1 0 3.20 0a1.60 1.60 0 1 0 -3.20 0M110.9 42.3a1.60 1.60 0 1 0 3.20 0a1.60 1.60 0 1 0 -3.20 0M111.7 42.6a1.60 1.60 0 1 0 3.20 0a1.60 1.60 0 1 0 -3.20 0M112.5 42.3a1.60 1.60 0 1 0 3.20 0a1.60 1.60 0 1 0 -3.20 0M113.3 42.3a1.60 1.60 0 1 0 3.20 0a1.60 1.60 0 1 0 -3.20 0M114.1 42.4a1.60 1.60 0 1 0 3.20 0a1.60 1.60 0 1 0 -3.20 0M114.9 42.0a1.60 1.60 0 1 0 3.20 0a1.60 1.60 0 1 0 -3.20 0M115.7 42.3a1.60 1.60 0 1 0 3.20 0a1.60 1.60 0 1 0 -3.20 0M116.5 42.4a1.60 1.60 0 1 0 3.20 0a1.60 1.60 0 1 0 -3.20 0M117.3 42.5a1.60 1.60 0 1 0 3.20 0a1.60 1.60 0 1 0 -3.20 0M118.1 42.0a1.60 1.60 0 1 0 3.20 0a1.60 1.60 0 1 0 -3.20 0M118.9 42.1a1.60 1.60 0 1 0 3.20 0a1.60 1.60 0 1 0 -3.20 0M119.7 42.0a1.60 1.60 0 1 0 3.20 0a1.60 1.60 0 1 0 -3.20 0M120.5 42.5a1.60 1.60 0 1 0 3.20 0a1.60 1.60 0 1 0 -3.20 0M121.3 42.5a1.60 1.60 0 1 0 3.20 0a1.60 1.60 0 1 0 -3.20 0M122.1 41.9a1.60 1.60 0 1 0 3.20 0a1.60 1.60 0 1 0 -3.20 0M122.9 42.7a1.60 1.60 0 1 0 3.20 0a1.60 1.60 0 1 0 -3.20 0M123.7 42.7a1.60 1.60 0 1 0 3.20 0a1.60 1.60 0 1 0 -3.20 0M116.2 42.6a1.60 1.60 0 1 0 3.20 0a1.60 1.60 0 1 0 -3.20 0M116.9 42.5a1.60 1.60 0 1 0 3.20 0a1.60 1.60 0 1 0 -3.20 0M117.6 41.7a1.60 1.60 0 1 0 3.20 0a1.60 1.60 0 1 0 -3.20 0M118.3 41.4a1.60 1.60 0 1 0 3.20 0a1.60 1.60 0 1 0 -3.20 0M119.0 42.4a1.60 1.60 0 1 0 3.20 0a1.60 1.60 0 1 0 -3.20 0M119.7 41.5a1.60 1.60 0 1 0 3.20 0a1.60 1.60 0 1 0 -3.20 0M120.4 41.7a1.60 1.60 0 1 0 3.20 0a1.60 1.60 0 1 0 -3.20 0M121.1 41.8a1.60 1.60 0 1 0 3.20 0a1.60 1.60 0 1 0 -3.20 0M121.8 41.5a1.60 1.60 0 1 0 3.20 0a1.60 1.60 0 1 0 -3.20 0M122.5 42.2a1.60 1.60 0 1 0 3.20 0a1.60 1.60 0 1 0 -3.20 0M123.2 42.2a1.60 1.60 0 1 0 3.20 0a1.60 1.60 0 1 0 -3.20 0M114.4 58.9a1.40 1.40 0 1 0 2.80 0a1.40 1.40 0 1 0 -2.80 0M118.1 58.6a1.60 1.60 0 1 0 3.20 0a1.60 1.60 0 1 0 -3.20 0M118.9 58.8a1.60 1.60 0 1 0 3.20 0a1.60 1.60 0 1 0 -3.20 0M119.7 58.7a1.60 1.60 0 1 0 3.20 0a1.60 1.60 0 1 0 -3.20 0M120.5 58.7a1.60 1.60 0 1 0 3.20 0a1.60 1.60 0 1 0 -3.20 0M121.3 59.3a1.60 1.60 0 1 0 3.20 0a1.60 1.60 0 1 0 -3.20 0M122.1 59.1a1.60 1.60 0 1 0 3.20 0a1.60 1.60 0 1 0 -3.20 0M122.9 58.7a1.60 1.60 0 1 0 3.20 0a1.60 1.60 0 1 0 -3.20 0M123.7 59.2a1.60 1.60 0 1 0 3.20 0a1.60 1.60 0 1 0 -3.20 0M117.5 67.9a1.60 1.60 0 1 0 3.20 0a1.60 1.60 0 1 0 -3.20 0M118.3 68.0a1.60 1.60 0 1 0 3.20 0a1.60 1.60 0 1 0 -3.20 0M119.1 68.4a1.60 1.60 0 1 0 3.20 0a1.60 1.60 0 1 0 -3.20 0M119.9 68.0a1.60 1.60 0 1 0 3.20 0a1.60 1.60 0 1 0 -3.20 0M120.7 68.1a1.60 1.60 0 1 0 3.20 0a1.60 1.60 0 1 0 -3.20 0M121.5 68.3a1.60 1.60 0 1 0 3.20 0a1.60 1.60 0 1 0 -3.20 0M122.3 67.7a1.60 1.60 0 1 0 3.20 0a1.60 1.60 0 1 0 -3.20 0M123.1 67.7a1.60 1.60 0 1 0 3.20 0a1.60 1.60 0 1 0 -3.20 0M120.6 74.2a1.40 1.40 0 1 0 2.80 0a1.40 1.40 0 1 0 -2.80 0M122.2 74.1a1.60 1.60 0 1 0 3.20 0a1.60 1.60 0 1 0 -3.20 0M123.0 73.9a1.60 1.60 0 1 0 3.20 0a1.60 1.60 0 1 0 -3.20 0M107.5 79.0a1.40 1.40 0 1 0 2.80 0a1.40 1.40 0 1 0 -2.80 0M118.7 78.8a1.60 1.60 0 1 0 3.20 0a1.60 1.60 0 1 0 -3.20 0M119.5 78.6a1.60 1.60 0 1 0 3.20 0a1.60 1.60 0 1 0 -3.20 0M120.3 78.8a1.60 1.60 0 1 0 3.20 0a1.60 1.60 0 1 0 -3.20 0M121.1 79.0a1.60 1.60 0 1 0 3.20 0a1.60 1.60 0 1 0 -3.20 0M121.9 78.6a1.60 1.60 0 1 0 3.20 0a1.60 1.60 0 1 0 -3.20 0M122.7 78.7a1.60 1.60 0 1 0 3.20 0a1.60 1.60 0 1 0 -3.20 0M123.5 78.9a1.60 1.60 0 1 0 3.20 0a1.60 1.60 0 1 0 -3.20 0M117.6 81.0a1.40 1.40 0 1 0 2.80 0a1.40 1.40 0 1 0 -2.80 0M119.8 80.7a1.40 1.40 0 1 0 2.80 0a1.40 1.40 0 1 0 -2.80 0M116.1 82.3a1.40 1.40 0 1 0 2.80 0a1.40 1.40 0 1 0 -2.80 0M118.2 82.3a1.40 1.40 0 1 0 2.80 0a1.40 1.40 0 1 0 -2.80 0M121.1 82.1a1.40 1.40 0 1 0 2.80 0a1.40 1.40 0 1 0 -2.80 0M122.1 82.3a1.40 1.40 0 1 0 2.80 0a1.40 1.40 0 1 0 -2.80 0M115.9 82.7a1.40 1.40 0 1 0 2.80 0a1.40 1.40 0 1 0 -2.80 0M117.8 83.0a1.40 1.40 0 1 0 2.80 0a1.40 1.40 0 1 0 -2.80 0M118.8 83.0a1.40 1.40 0 1 0 2.80 0a1.40 1.40 0 1 0 -2.80 0M121.4 82.9a1.40 1.40 0 1 0 2.80 0a1.40 1.40 0 1 0 -2.80 0M123.5 83.3a1.40 1.40 0 1 0 2.80 0a1.40 1.40 0 1 0 -2.80 0M113.8 83.8a1.40 1.40 0 1 0 2.80 0a1.40 1.40 0 1 0 -2.80 0M114.9 84.3a1.40 1.40 0 1 0 2.80 0a1.40 1.40 0 1 0 -2.80 0M116.8 83.9a1.40 1.40 0 1 0 2.80 0a1.40 1.40 0 1 0 -2.80 0M117.7 84.2a1.40 1.40 0 1 0 2.80 0a1.40 1.40 0 1 0 -2.80 0M121.5 84.0a1.40 1.40 0 1 0 2.80 0a1.40 1.40 0 1 0 -2.80 0M122.5 83.9a1.40 1.40 0 1 0 2.80 0a1.40 1.40 0 1 0 -2.80 0M115.6 85.3a1.40 1.40 0 1 0 2.80 0a1.40 1.40 0 1 0 -2.80 0M117.1 85.0a1.40 1.40 0 1 0 2.80 0a1.40 1.40 0 1 0 -2.80 0M118.2 84.7a1.40 1.40 0 1 0 2.80 0a1.40 1.40 0 1 0 -2.80 0M118.9 84.7a1.40 1.40 0 1 0 2.80 0a1.40 1.40 0 1 0 -2.80 0M120.7 84.7a1.40 1.40 0 1 0 2.80 0a1.40 1.40 0 1 0 -2.80 0M123.1 85.1a1.40 1.40 0 1 0 2.80 0a1.40 1.40 0 1 0 -2.80 0M109.4 85.8a1.40 1.40 0 1 0 2.80 0a1.40 1.40 0 1 0 -2.80 0M110.4 86.1a1.40 1.40 0 1 0 2.80 0a1.40 1.40 0 1 0 -2.80 0M111.3 85.9a1.40 1.40 0 1 0 2.80 0a1.40 1.40 0 1 0 -2.80 0M116.7 86.3a1.40 1.40 0 1 0 2.80 0a1.40 1.40 0 1 0 -2.80 0M117.8 86.2a1.40 1.40 0 1 0 2.80 0a1.40 1.40 0 1 0 -2.80 0M118.4 86.1a1.40 1.40 0 1 0 2.80 0a1.40 1.40 0 1 0 -2.80 0M120.5 86.3a1.40 1.40 0 1 0 2.80 0a1.40 1.40 0 1 0 -2.80 0M120.5 87.3a1.40 1.40 0 1 0 2.80 0a1.40 1.40 0 1 0 -2.80 0M124.5 87.2a1.40 1.40 0 1 0 2.80 0a1.40 1.40 0 1 0 -2.80 0M117.2 88.2a1.40 1.40 0 1 0 2.80 0a1.40 1.40 0 1 0 -2.80 0M119.4 87.7a1.40 1.40 0 1 0 2.80 0a1.40 1.40 0 1 0 -2.80 0M121.1 88.2a1.40 1.40 0 1 0 2.80 0a1.40 1.40 0 1 0 -2.80 0M121.9 88.0a1.40 1.40 0 1 0 2.80 0a1.40 1.40 0 1 0 -2.80 0M118.1 89.0a1.40 1.40 0 1 0 2.80 0a1.40 1.40 0 1 0 -2.80 0M119.5 89.1a1.40 1.40 0 1 0 2.80 0a1.40 1.40 0 1 0 -2.80 0M123.2 89.2a1.40 1.40 0 1 0 2.80 0a1.40 1.40 0 1 0 -2.80 0M120.7 90.0a1.40 1.40 0 1 0 2.80 0a1.40 1.40 0 1 0 -2.80 0M123.0 90.0a1.40 1.40 0 1 0 2.80 0a1.40 1.40 0 1 0 -2.80 0M123.9 90.0a1.40 1.40 0 1 0 2.80 0a1.40 1.40 0 1 0 -2.80 0M117.2 90.9a1.40 1.40 0 1 0 2.80 0a1.40 1.40 0 1 0 -2.80 0M120.2 90.7a1.40 1.40 0 1 0 2.80 0a1.40 1.40 0 1 0 -2.80 0M121.4 91.3a1.40 1.40 0 1 0 2.80 0a1.40 1.40 0 1 0 -2.80 0M123.0 91.1a1.40 1.40 0 1 0 2.80 0a1.40 1.40 0 1 0 -2.80 0M117.8 91.8a1.40 1.40 0 1 0 2.80 0a1.40 1.40 0 1 0 -2.80 0M119.9 92.1a1.40 1.40 0 1 0 2.80 0a1.40 1.40 0 1 0 -2.80 0M121.2 91.7a1.40 1.40 0 1 0 2.80 0a1.40 1.40 0 1 0 -2.80 0M122.8 92.0a1.40 1.40 0 1 0 2.80 0a1.40 1.40 0 1 0 -2.80 0M124.0 91.9a1.40 1.40 0 1 0 2.80 0a1.40 1.40 0 1 0 -2.80 0M117.5 93.1a1.40 1.40 0 1 0 2.80 0a1.40 1.40 0 1 0 -2.80 0M122.5 93.2a1.40 1.40 0 1 0 2.80 0a1.40 1.40 0 1 0 -2.80 0M119.3 94.3a1.40 1.40 0 1 0 2.80 0a1.40 1.40 0 1 0 -2.80 0M119.8 94.2a1.40 1.40 0 1 0 2.80 0a1.40 1.40 0 1 0 -2.80 0M120.7 94.2a1.40 1.40 0 1 0 2.80 0a1.40 1.40 0 1 0 -2.80 0M122.2 93.7a1.40 1.40 0 1 0 2.80 0a1.40 1.40 0 1 0 -2.80 0M123.1 93.7a1.40 1.40 0 1 0 2.80 0a1.40 1.40 0 1 0 -2.80 0M124.1 94.3a1.40 1.40 0 1 0 2.80 0a1.40 1.40 0 1 0 -2.80 0M117.8 94.7a1.40 1.40 0 1 0 2.80 0a1.40 1.40 0 1 0 -2.80 0M119.1 95.0a1.40 1.40 0 1 0 2.80 0a1.40 1.40 0 1 0 -2.80 0M120.9 94.8a1.40 1.40 0 1 0 2.80 0a1.40 1.40 0 1 0 -2.80 0M121.5 96.0a1.40 1.40 0 1 0 2.80 0a1.40 1.40 0 1 0 -2.80 0M122.6 95.7a1.40 1.40 0 1 0 2.80 0a1.40 1.40 0 1 0 -2.80 0M118.0 96.8a1.40 1.40 0 1 0 2.80 0a1.40 1.40 0 1 0 -2.80 0M120.5 97.2a1.40 1.40 0 1 0 2.80 0a1.40 1.40 0 1 0 -2.80 0M124.3 97.0a1.40 1.40 0 1 0 2.80 0a1.40 1.40 0 1 0 -2.80 0M113.7 98.2a1.40 1.40 0 1 0 2.80 0a1.40 1.40 0 1 0 -2.80 0M116.7 98.3a1.40 1.40 0 1 0 2.80 0a1.40 1.40 0 1 0 -2.80 0M120.6 97.7a1.40 1.40 0 1 0 2.80 0a1.40 1.40 0 1 0 -2.80 0M121.4 97.7a1.40 1.40 0 1 0 2.80 0a1.40 1.40 0 1 0 -2.80 0M122.6 98.1a1.40 1.40 0 1 0 2.80 0a1.40 1.40 0 1 0 -2.80 0M123.8 98.1a1.40 1.40 0 1 0 2.80 0a1.40 1.40 0 1 0 -2.80 0M124.6 98.0a1.40 1.40 0 1 0 2.80 0a1.40 1.40 0 1 0 -2.80 0M122.8 99.2a1.40 1.40 0 1 0 2.80 0a1.40 1.40 0 1 0 -2.80 0M123.6 98.7a1.40 1.40 0 1 0 2.80 0a1.40 1.40 0 1 0 -2.80 0M118.2 100.3a1.40 1.40 0 1 0 2.80 0a1.40 1.40 0 1 0 -2.80 0M117.5 101.2a1.40 1.40 0 1 0 2.80 0a1.40 1.40 0 1 0 -2.80 0M118.7 100.8a1.40 1.40 0 1 0 2.80 0a1.40 1.40 0 1 0 -2.80 0M120.4 101.1a1.40 1.40 0 1 0 2.80 0a1.40 1.40 0 1 0 -2.80 0M121.7 100.9a1.40 1.40 0 1 0 2.80 0a1.40 1.40 0 1 0 -2.80 0M124.2 101.1a1.40 1.40 0 1 0 2.80 0a1.40 1.40 0 1 0 -2.80 0M118.3 101.8a1.40 1.40 0 1 0 2.80 0a1.40 1.40 0 1 0 -2.80 0M119.4 102.2a1.40 1.40 0 1 0 2.80 0a1.40 1.40 0 1 0 -2.80 0M120.9 102.2a1.40 1.40 0 1 0 2.80 0a1.40 1.40 0 1 0 -2.80 0M122.0 102.3a1.40 1.40 0 1 0 2.80 0a1.40 1.40 0 1 0 -2.80 0M123.0 102.0a1.40 1.40 0 1 0 2.80 0a1.40 1.40 0 1 0 -2.80 0M121.1 103.0a1.40 1.40 0 1 0 2.80 0a1.40 1.40 0 1 0 -2.80 0M121.7 103.0a1.40 1.40 0 1 0 2.80 0a1.40 1.40 0 1 0 -2.80 0M123.0 103.1a1.40 1.40 0 1 0 2.80 0a1.40 1.40 0 1 0 -2.80 0M118.6 104.0a1.40 1.40 0 1 0 2.80 0a1.40 1.40 0 1 0 -2.80 0M122.1 104.3a1.40 1.40 0 1 0 2.80 0a1.40 1.40 0 1 0 -2.80 0M117.7 105.0a1.40 1.40 0 1 0 2.80 0a1.40 1.40 0 1 0 -2.80 0M121.3 105.3a1.40 1.40 0 1 0 2.80 0a1.40 1.40 0 1 0 -2.80 0M118.7 106.1a1.40 1.40 0 1 0 2.80 0a1.40 1.40 0 1 0 -2.80 0M119.8 105.7a1.40 1.40 0 1 0 2.80 0a1.40 1.40 0 1 0 -2.80 0M120.9 106.0a1.40 1.40 0 1 0 2.80 0a1.40 1.40 0 1 0 -2.80 0M122.8 105.8a1.40 1.40 0 1 0 2.80 0a1.40 1.40 0 1 0 -2.80 0M123.9 106.2a1.40 1.40 0 1 0 2.80 0a1.40 1.40 0 1 0 -2.80 0M121.7 106.8a1.40 1.40 0 1 0 2.80 0a1.40 1.40 0 1 0 -2.80 0M123.8 107.3a1.40 1.40 0 1 0 2.80 0a1.40 1.40 0 1 0 -2.80 0M120.3 107.7a1.40 1.40 0 1 0 2.80 0a1.40 1.40 0 1 0 -2.80 0M122.1 108.0a1.40 1.40 0 1 0 2.80 0a1.40 1.40 0 1 0 -2.80 0M118.2 109.1a1.40 1.40 0 1 0 2.80 0a1.40 1.40 0 1 0 -2.80 0M119.3 109.2a1.40 1.40 0 1 0 2.80 0a1.40 1.40 0 1 0 -2.80 0M121.2 108.9a1.40 1.40 0 1 0 2.80 0a1.40 1.40 0 1 0 -2.80 0M123.2 109.1a1.40 1.40 0 1 0 2.80 0a1.40 1.40 0 1 0 -2.80 0M116.9 109.9a1.40 1.40 0 1 0 2.80 0a1.40 1.40 0 1 0 -2.80 0M117.6 110.3a1.40 1.40 0 1 0 2.80 0a1.40 1.40 0 1 0 -2.80 0M119.5 109.9a1.40 1.40 0 1 0 2.80 0a1.40 1.40 0 1 0 -2.80 0M120.6 109.9a1.40 1.40 0 1 0 2.80 0a1.40 1.40 0 1 0 -2.80 0M121.7 110.2a1.40 1.40 0 1 0 2.80 0a1.40 1.40 0 1 0 -2.80 0M119.3 111.0a1.40 1.40 0 1 0 2.80 0a1.40 1.40 0 1 0 -2.80 0M118.5 112.2a1.40 1.40 0 1 0 2.80 0a1.40 1.40 0 1 0 -2.80 0M120.9 111.8a1.40 1.40 0 1 0 2.80 0a1.40 1.40 0 1 0 -2.80 0M123.6 112.2a1.40 1.40 0 1 0 2.80 0a1.40 1.40 0 1 0 -2.80 0M117.9 113.3a1.40 1.40 0 1 0 2.80 0a1.40 1.40 0 1 0 -2.80 0M119.0 114.8a1.40 1.40 0 1 0 2.80 0a1.40 1.40 0 1 0 -2.80 0M121.8 114.8a1.40 1.40 0 1 0 2.80 0a1.40 1.40 0 1 0 -2.80 0M122.9 115.3a1.40 1.40 0 1 0 2.80 0a1.40 1.40 0 1 0 -2.80 0M123.9 114.7a1.40 1.40 0 1 0 2.80 0a1.40 1.40 0 1 0 -2.80 0M117.4 116.0a1.40 1.40 0 1 0 2.80 0a1.40 1.40 0 1 0 -2.80 0M120.4 115.8a1.40 1.40 0 1 0 2.80 0a1.40 1.40 0 1 0 -2.80 0M121.5 116.2a1.40 1.40 0 1 0 2.80 0a1.40 1.40 0 1 0 -2.80 0M123.4 115.8a1.40 1.40 0 1 0 2.80 0a1.40 1.40 0 1 0 -2.80 0M118.8 117.2a1.40 1.40 0 1 0 2.80 0a1.40 1.40 0 1 0 -2.80 0M121.1 117.3a1.40 1.40 0 1 0 2.80 0a1.40 1.40 0 1 0 -2.80 0M121.8 117.3a1.40 1.40 0 1 0 2.80 0a1.40 1.40 0 1 0 -2.80 0M123.5 117.3a1.40 1.40 0 1 0 2.80 0a1.40 1.40 0 1 0 -2.80 0M119.3 118.1a1.40 1.40 0 1 0 2.80 0a1.40 1.40 0 1 0 -2.80 0M119.6 118.0a1.40 1.40 0 1 0 2.80 0a1.40 1.40 0 1 0 -2.80 0M121.2 118.1a1.40 1.40 0 1 0 2.80 0a1.40 1.40 0 1 0 -2.80 0M122.7 117.9a1.40 1.40 0 1 0 2.80 0a1.40 1.40 0 1 0 -2.80 0M124.2 118.0a1.40 1.40 0 1 0 2.80 0a1.40 1.40 0 1 0 -2.80 0M117.8 118.8a1.40 1.40 0 1 0 2.80 0a1.40 1.40 0 1 0 -2.80 0M120.0 119.2a1.40 1.40 0 1 0 2.80 0a1.40 1.40 0 1 0 -2.80 0M121.6 119.2a1.40 1.40 0 1 0 2.80 0a1.40 1.40 0 1 0 -2.80 0M122.7 119.0a1.40 1.40 0 1 0 2.80 0a1.40 1.40 0 1 0 -2.80 0M117.9 119.7a1.40 1.40 0 1 0 2.80 0a1.40 1.40 0 1 0 -2.80 0M119.6 120.0a1.40 1.40 0 1 0 2.80 0a1.40 1.40 0 1 0 -2.80 0M120.8 119.9a1.40 1.40 0 1 0 2.80 0a1.40 1.40 0 1 0 -2.80 0M121.3 119.9a1.40 1.40 0 1 0 2.80 0a1.40 1.40 0 1 0 -2.80 0M110.6 102.3a1.40 1.40 0 1 0 2.80 0a1.40 1.40 0 1 0 -2.80 0M110.7 113.7a1.40 1.40 0 1 0 2.80 0a1.40 1.40 0 1 0 -2.80 0M92.3 117.5a1.40 1.40 0 1 0 2.80 0a1.40 1.40 0 1 0 -2.80 0M343.9 42.0a1.60 1.60 0 1 0 3.20 0a1.60 1.60 0 1 0 -3.20 0M344.7 41.9a1.60 1.60 0 1 0 3.20 0a1.60 1.60 0 1 0 -3.20 0M345.5 42.4a1.60 1.60 0 1 0 3.20 0a1.60 1.60 0 1 0 -3.20 0M346.3 42.4a1.60 1.60 0 1 0 3.20 0a1.60 1.60 0 1 0 -3.20 0M347.1 42.7a1.60 1.60 0 1 0 3.20 0a1.60 1.60 0 1 0 -3.20 0M347.9 42.1a1.60 1.60 0 1 0 3.20 0a1.60 1.60 0 1 0 -3.20 0M348.7 42.1a1.60 1.60 0 1 0 3.20 0a1.60 1.60 0 1 0 -3.20 0M349.5 42.1a1.60 1.60 0 1 0 3.20 0a1.60 1.60 0 1 0 -3.20 0M350.3 42.0a1.60 1.60 0 1 0 3.20 0a1.60 1.60 0 1 0 -3.20 0M351.1 41.9a1.60 1.60 0 1 0 3.20 0a1.60 1.60 0 1 0 -3.20 0M351.9 42.3a1.60 1.60 0 1 0 3.20 0a1.60 1.60 0 1 0 -3.20 0M352.7 42.2a1.60 1.60 0 1 0 3.20 0a1.60 1.60 0 1 0 -3.20 0M353.5 42.2a1.60 1.60 0 1 0 3.20 0a1.60 1.60 0 1 0 -3.20 0M354.3 42.7a1.60 1.60 0 1 0 3.20 0a1.60 1.60 0 1 0 -3.20 0M355.1 42.2a1.60 1.60 0 1 0 3.20 0a1.60 1.60 0 1 0 -3.20 0M355.9 42.6a1.60 1.60 0 1 0 3.20 0a1.60 1.60 0 1 0 -3.20 0M356.7 42.3a1.60 1.60 0 1 0 3.20 0a1.60 1.60 0 1 0 -3.20 0M357.5 42.0a1.60 1.60 0 1 0 3.20 0a1.60 1.60 0 1 0 -3.20 0M358.3 41.9a1.60 1.60 0 1 0 3.20 0a1.60 1.60 0 1 0 -3.20 0M346.7 42.5a1.60 1.60 0 1 0 3.20 0a1.60 1.60 0 1 0 -3.20 0M347.4 42.9a1.60 1.60 0 1 0 3.20 0a1.60 1.60 0 1 0 -3.20 0M348.1 41.6a1.60 1.60 0 1 0 3.20 0a1.60 1.60 0 1 0 -3.20 0M348.8 42.6a1.60 1.60 0 1 0 3.20 0a1.60 1.60 0 1 0 -3.20 0M349.5 41.9a1.60 1.60 0 1 0 3.20 0a1.60 1.60 0 1 0 -3.20 0M350.2 42.6a1.60 1.60 0 1 0 3.20 0a1.60 1.60 0 1 0 -3.20 0M350.9 42.8a1.60 1.60 0 1 0 3.20 0a1.60 1.60 0 1 0 -3.20 0M351.6 42.7a1.60 1.60 0 1 0 3.20 0a1.60 1.60 0 1 0 -3.20 0M352.3 41.9a1.60 1.60 0 1 0 3.20 0a1.60 1.60 0 1 0 -3.20 0M353.0 41.7a1.60 1.60 0 1 0 3.20 0a1.60 1.60 0 1 0 -3.20 0M353.7 43.0a1.60 1.60 0 1 0 3.20 0a1.60 1.60 0 1 0 -3.20 0M354.4 43.0a1.60 1.60 0 1 0 3.20 0a1.60 1.60 0 1 0 -3.20 0M355.1 43.0a1.60 1.60 0 1 0 3.20 0a1.60 1.60 0 1 0 -3.20 0M355.8 42.4a1.60 1.60 0 1 0 3.20 0a1.60 1.60 0 1 0 -3.20 0M356.5 41.6a1.60 1.60 0 1 0 3.20 0a1.60 1.60 0 1 0 -3.20 0M357.2 42.1a1.60 1.60 0 1 0 3.20 0a1.60 1.60 0 1 0 -3.20 0M357.9 43.0a1.60 1.60 0 1 0 3.20 0a1.60 1.60 0 1 0 -3.20 0M350.1 58.6a1.60 1.60 0 1 0 3.20 0a1.60 1.60 0 1 0 -3.20 0M350.9 58.6a1.60 1.60 0 1 0 3.20 0a1.60 1.60 0 1 0 -3.20 0M351.7 59.1a1.60 1.60 0 1 0 3.20 0a1.60 1.60 0 1 0 -3.20 0M352.5 59.0a1.60 1.60 0 1 0 3.20 0a1.60 1.60 0 1 0 -3.20 0M353.3 58.9a1.60 1.60 0 1 0 3.20 0a1.60 1.60 0 1 0 -3.20 0M354.1 58.6a1.60 1.60 0 1 0 3.20 0a1.60 1.60 0 1 0 -3.20 0M354.9 59.0a1.60 1.60 0 1 0 3.20 0a1.60 1.60 0 1 0 -3.20 0M355.7 58.6a1.60 1.60 0 1 0 3.20 0a1.60 1.60 0 1 0 -3.20 0M356.5 58.6a1.60 1.60 0 1 0 3.20 0a1.60 1.60 0 1 0 -3.20 0M357.3 59.0a1.60 1.60 0 1 0 3.20 0a1.60 1.60 0 1 0 -3.20 0M358.1 59.0a1.60 1.60 0 1 0 3.20 0a1.60 1.60 0 1 0 -3.20 0M358.9 59.1a1.60 1.60 0 1 0 3.20 0a1.60 1.60 0 1 0 -3.20 0M351.3 68.2a1.60 1.60 0 1 0 3.20 0a1.60 1.60 0 1 0 -3.20 0M352.1 67.8a1.60 1.60 0 1 0 3.20 0a1.60 1.60 0 1 0 -3.20 0M352.9 67.9a1.60 1.60 0 1 0 3.20 0a1.60 1.60 0 1 0 -3.20 0M353.7 67.6a1.60 1.60 0 1 0 3.20 0a1.60 1.60 0 1 0 -3.20 0M354.5 68.2a1.60 1.60 0 1 0 3.20 0a1.60 1.60 0 1 0 -3.20 0M355.3 68.0a1.60 1.60 0 1 0 3.20 0a1.60 1.60 0 1 0 -3.20 0M356.1 68.4a1.60 1.60 0 1 0 3.20 0a1.60 1.60 0 1 0 -3.20 0M356.9 67.8a1.60 1.60 0 1 0 3.20 0a1.60 1.60 0 1 0 -3.20 0M357.7 67.9a1.60 1.60 0 1 0 3.20 0a1.60 1.60 0 1 0 -3.20 0M358.5 68.3a1.60 1.60 0 1 0 3.20 0a1.60 1.60 0 1 0 -3.20 0M352.9 74.2a1.60 1.60 0 1 0 3.20 0a1.60 1.60 0 1 0 -3.20 0M353.7 73.8a1.60 1.60 0 1 0 3.20 0a1.60 1.60 0 1 0 -3.20 0M354.5 74.1a1.60 1.60 0 1 0 3.20 0a1.60 1.60 0 1 0 -3.20 0M355.3 73.8a1.60 1.60 0 1 0 3.20 0a1.60 1.60 0 1 0 -3.20 0M356.1 74.0a1.60 1.60 0 1 0 3.20 0a1.60 1.60 0 1 0 -3.20 0M356.9 74.4a1.60 1.60 0 1 0 3.20 0a1.60 1.60 0 1 0 -3.20 0M357.7 74.3a1.60 1.60 0 1 0 3.20 0a1.60 1.60 0 1 0 -3.20 0M358.5 74.4a1.60 1.60 0 1 0 3.20 0a1.60 1.60 0 1 0 -3.20 0M349.3 78.7a1.60 1.60 0 1 0 3.20 0a1.60 1.60 0 1 0 -3.20 0M350.1 79.3a1.60 1.60 0 1 0 3.20 0a1.60 1.60 0 1 0 -3.20 0M350.9 79.1a1.60 1.60 0 1 0 3.20 0a1.60 1.60 0 1 0 -3.20 0M351.7 79.3a1.60 1.60 0 1 0 3.20 0a1.60 1.60 0 1 0 -3.20 0M352.5 79.0a1.60 1.60 0 1 0 3.20 0a1.60 1.60 0 1 0 -3.20 0M353.3 78.7a1.60 1.60 0 1 0 3.20 0a1.60 1.60 0 1 0 -3.20 0M354.1 78.8a1.60 1.60 0 1 0 3.20 0a1.60 1.60 0 1 0 -3.20 0M354.9 79.3a1.60 1.60 0 1 0 3.20 0a1.60 1.60 0 1 0 -3.20 0M355.7 79.1a1.60 1.60 0 1 0 3.20 0a1.60 1.60 0 1 0 -3.20 0M356.5 79.1a1.60 1.60 0 1 0 3.20 0a1.60 1.60 0 1 0 -3.20 0M357.3 79.1a1.60 1.60 0 1 0 3.20 0a1.60 1.60 0 1 0 -3.20 0M358.1 78.6a1.60 1.60 0 1 0 3.20 0a1.60 1.60 0 1 0 -3.20 0M358.9 78.8a1.60 1.60 0 1 0 3.20 0a1.60 1.60 0 1 0 -3.20 0M351.3 81.1a1.40 1.40 0 1 0 2.80 0a1.40 1.40 0 1 0 -2.80 0M352.7 81.3a1.40 1.40 0 1 0 2.80 0a1.40 1.40 0 1 0 -2.80 0M354.7 80.9a1.40 1.40 0 1 0 2.80 0a1.40 1.40 0 1 0 -2.80 0M356.9 81.1a1.40 1.40 0 1 0 2.80 0a1.40 1.40 0 1 0 -2.80 0M353.2 82.1a1.40 1.40 0 1 0 2.80 0a1.40 1.40 0 1 0 -2.80 0M354.1 81.7a1.40 1.40 0 1 0 2.80 0a1.40 1.40 0 1 0 -2.80 0M355.2 81.7a1.40 1.40 0 1 0 2.80 0a1.40 1.40 0 1 0 -2.80 0M357.6 81.8a1.40 1.40 0 1 0 2.80 0a1.40 1.40 0 1 0 -2.80 0M358.7 82.2a1.40 1.40 0 1 0 2.80 0a1.40 1.40 0 1 0 -2.80 0M351.6 83.1a1.40 1.40 0 1 0 2.80 0a1.40 1.40 0 1 0 -2.80 0M352.1 82.9a1.40 1.40 0 1 0 2.80 0a1.40 1.40 0 1 0 -2.80 0M353.1 83.1a1.40 1.40 0 1 0 2.80 0a1.40 1.40 0 1 0 -2.80 0M355.9 82.9a1.40 1.40 0 1 0 2.80 0a1.40 1.40 0 1 0 -2.80 0M357.5 83.0a1.40 1.40 0 1 0 2.80 0a1.40 1.40 0 1 0 -2.80 0M358.3 83.0a1.40 1.40 0 1 0 2.80 0a1.40 1.40 0 1 0 -2.80 0M352.0 83.7a1.40 1.40 0 1 0 2.80 0a1.40 1.40 0 1 0 -2.80 0M353.5 84.3a1.40 1.40 0 1 0 2.80 0a1.40 1.40 0 1 0 -2.80 0M354.2 84.0a1.40 1.40 0 1 0 2.80 0a1.40 1.40 0 1 0 -2.80 0M355.0 84.2a1.40 1.40 0 1 0 2.80 0a1.40 1.40 0 1 0 -2.80 0M356.0 83.8a1.40 1.40 0 1 0 2.80 0a1.40 1.40 0 1 0 -2.80 0M357.0 83.7a1.40 1.40 0 1 0 2.80 0a1.40 1.40 0 1 0 -2.80 0M352.8 85.1a1.40 1.40 0 1 0 2.80 0a1.40 1.40 0 1 0 -2.80 0M353.8 84.9a1.40 1.40 0 1 0 2.80 0a1.40 1.40 0 1 0 -2.80 0M354.8 84.8a1.40 1.40 0 1 0 2.80 0a1.40 1.40 0 1 0 -2.80 0M357.0 85.1a1.40 1.40 0 1 0 2.80 0a1.40 1.40 0 1 0 -2.80 0M357.9 84.9a1.40 1.40 0 1 0 2.80 0a1.40 1.40 0 1 0 -2.80 0M355.4 86.3a1.40 1.40 0 1 0 2.80 0a1.40 1.40 0 1 0 -2.80 0M356.4 86.1a1.40 1.40 0 1 0 2.80 0a1.40 1.40 0 1 0 -2.80 0M356.8 85.7a1.40 1.40 0 1 0 2.80 0a1.40 1.40 0 1 0 -2.80 0M352.5 87.0a1.40 1.40 0 1 0 2.80 0a1.40 1.40 0 1 0 -2.80 0M354.4 87.0a1.40 1.40 0 1 0 2.80 0a1.40 1.40 0 1 0 -2.80 0M355.4 86.7a1.40 1.40 0 1 0 2.80 0a1.40 1.40 0 1 0 -2.80 0M356.5 86.9a1.40 1.40 0 1 0 2.80 0a1.40 1.40 0 1 0 -2.80 0M352.5 87.8a1.40 1.40 0 1 0 2.80 0a1.40 1.40 0 1 0 -2.80 0M354.8 87.8a1.40 1.40 0 1 0 2.80 0a1.40 1.40 0 1 0 -2.80 0M356.0 87.7a1.40 1.40 0 1 0 2.80 0a1.40 1.40 0 1 0 -2.80 0M358.0 88.3a1.40 1.40 0 1 0 2.80 0a1.40 1.40 0 1 0 -2.80 0M352.4 88.9a1.40 1.40 0 1 0 2.80 0a1.40 1.40 0 1 0 -2.80 0M353.9 88.7a1.40 1.40 0 1 0 2.80 0a1.40 1.40 0 1 0 -2.80 0M354.6 89.0a1.40 1.40 0 1 0 2.80 0a1.40 1.40 0 1 0 -2.80 0M356.5 89.3a1.40 1.40 0 1 0 2.80 0a1.40 1.40 0 1 0 -2.80 0M357.5 89.0a1.40 1.40 0 1 0 2.80 0a1.40 1.40 0 1 0 -2.80 0M350.4 89.9a1.40 1.40 0 1 0 2.80 0a1.40 1.40 0 1 0 -2.80 0M351.2 90.0a1.40 1.40 0 1 0 2.80 0a1.40 1.40 0 1 0 -2.80 0M352.5 89.8a1.40 1.40 0 1 0 2.80 0a1.40 1.40 0 1 0 -2.80 0M353.4 90.2a1.40 1.40 0 1 0 2.80 0a1.40 1.40 0 1 0 -2.80 0M355.8 90.0a1.40 1.40 0 1 0 2.80 0a1.40 1.40 0 1 0 -2.80 0M356.3 90.1a1.40 1.40 0 1 0 2.80 0a1.40 1.40 0 1 0 -2.80 0M357.6 89.8a1.40 1.40 0 1 0 2.80 0a1.40 1.40 0 1 0 -2.80 0M351.4 91.1a1.40 1.40 0 1 0 2.80 0a1.40 1.40 0 1 0 -2.80 0M352.5 91.0a1.40 1.40 0 1 0 2.80 0a1.40 1.40 0 1 0 -2.80 0M355.8 90.7a1.40 1.40 0 1 0 2.80 0a1.40 1.40 0 1 0 -2.80 0M356.7 90.8a1.40 1.40 0 1 0 2.80 0a1.40 1.40 0 1 0 -2.80 0M357.2 91.0a1.40 1.40 0 1 0 2.80 0a1.40 1.40 0 1 0 -2.80 0M350.2 91.7a1.40 1.40 0 1 0 2.80 0a1.40 1.40 0 1 0 -2.80 0M351.5 92.3a1.40 1.40 0 1 0 2.80 0a1.40 1.40 0 1 0 -2.80 0M352.8 92.1a1.40 1.40 0 1 0 2.80 0a1.40 1.40 0 1 0 -2.80 0M354.3 91.9a1.40 1.40 0 1 0 2.80 0a1.40 1.40 0 1 0 -2.80 0M355.3 92.3a1.40 1.40 0 1 0 2.80 0a1.40 1.40 0 1 0 -2.80 0M356.3 92.0a1.40 1.40 0 1 0 2.80 0a1.40 1.40 0 1 0 -2.80 0M352.6 92.8a1.40 1.40 0 1 0 2.80 0a1.40 1.40 0 1 0 -2.80 0M353.9 92.8a1.40 1.40 0 1 0 2.80 0a1.40 1.40 0 1 0 -2.80 0M354.8 93.2a1.40 1.40 0 1 0 2.80 0a1.40 1.40 0 1 0 -2.80 0M357.1 93.0a1.40 1.40 0 1 0 2.80 0a1.40 1.40 0 1 0 -2.80 0M357.5 92.7a1.40 1.40 0 1 0 2.80 0a1.40 1.40 0 1 0 -2.80 0M351.3 94.0a1.40 1.40 0 1 0 2.80 0a1.40 1.40 0 1 0 -2.80 0M352.5 94.2a1.40 1.40 0 1 0 2.80 0a1.40 1.40 0 1 0 -2.80 0M353.4 94.1a1.40 1.40 0 1 0 2.80 0a1.40 1.40 0 1 0 -2.80 0M355.6 94.0a1.40 1.40 0 1 0 2.80 0a1.40 1.40 0 1 0 -2.80 0M351.5 95.0a1.40 1.40 0 1 0 2.80 0a1.40 1.40 0 1 0 -2.80 0M352.8 94.8a1.40 1.40 0 1 0 2.80 0a1.40 1.40 0 1 0 -2.80 0M355.0 95.3a1.40 1.40 0 1 0 2.80 0a1.40 1.40 0 1 0 -2.80 0M356.0 95.0a1.40 1.40 0 1 0 2.80 0a1.40 1.40 0 1 0 -2.80 0M356.5 95.1a1.40 1.40 0 1 0 2.80 0a1.40 1.40 0 1 0 -2.80 0M351.2 95.9a1.40 1.40 0 1 0 2.80 0a1.40 1.40 0 1 0 -2.80 0M353.3 96.0a1.40 1.40 0 1 0 2.80 0a1.40 1.40 0 1 0 -2.80 0M354.5 95.8a1.40 1.40 0 1 0 2.80 0a1.40 1.40 0 1 0 -2.80 0M355.1 96.1a1.40 1.40 0 1 0 2.80 0a1.40 1.40 0 1 0 -2.80 0M356.4 95.9a1.40 1.40 0 1 0 2.80 0a1.40 1.40 0 1 0 -2.80 0M351.7 96.9a1.40 1.40 0 1 0 2.80 0a1.40 1.40 0 1 0 -2.80 0M354.0 96.8a1.40 1.40 0 1 0 2.80 0a1.40 1.40 0 1 0 -2.80 0M354.6 96.8a1.40 1.40 0 1 0 2.80 0a1.40 1.40 0 1 0 -2.80 0M355.5 97.3a1.40 1.40 0 1 0 2.80 0a1.40 1.40 0 1 0 -2.80 0M353.0 98.2a1.40 1.40 0 1 0 2.80 0a1.40 1.40 0 1 0 -2.80 0M354.1 98.2a1.40 1.40 0 1 0 2.80 0a1.40 1.40 0 1 0 -2.80 0M356.3 98.2a1.40 1.40 0 1 0 2.80 0a1.40 1.40 0 1 0 -2.80 0M357.3 97.8a1.40 1.40 0 1 0 2.80 0a1.40 1.40 0 1 0 -2.80 0M352.9 99.0a1.40 1.40 0 1 0 2.80 0a1.40 1.40 0 1 0 -2.80 0M353.9 99.1a1.40 1.40 0 1 0 2.80 0a1.40 1.40 0 1 0 -2.80 0M355.1 99.0a1.40 1.40 0 1 0 2.80 0a1.40 1.40 0 1 0 -2.80 0M350.3 99.8a1.40 1.40 0 1 0 2.80 0a1.40 1.40 0 1 0 -2.80 0M351.4 99.8a1.40 1.40 0 1 0 2.80 0a1.40 1.40 0 1 0 -2.80 0M352.3 100.1a1.40 1.40 0 1 0 2.80 0a1.40 1.40 0 1 0 -2.80 0M353.1 99.9a1.40 1.40 0 1 0 2.80 0a1.40 1.40 0 1 0 -2.80 0M354.6 99.9a1.40 1.40 0 1 0 2.80 0a1.40 1.40 0 1 0 -2.80 0M355.3 100.0a1.40 1.40 0 1 0 2.80 0a1.40 1.40 0 1 0 -2.80 0M356.5 100.2a1.40 1.40 0 1 0 2.80 0a1.40 1.40 0 1 0 -2.80 0M350.9 101.1a1.40 1.40 0 1 0 2.80 0a1.40 1.40 0 1 0 -2.80 0M352.2 100.9a1.40 1.40 0 1 0 2.80 0a1.40 1.40 0 1 0 -2.80 0M353.0 100.9a1.40 1.40 0 1 0 2.80 0a1.40 1.40 0 1 0 -2.80 0M353.8 101.0a1.40 1.40 0 1 0 2.80 0a1.40 1.40 0 1 0 -2.80 0M356.2 101.3a1.40 1.40 0 1 0 2.80 0a1.40 1.40 0 1 0 -2.80 0M357.6 101.3a1.40 1.40 0 1 0 2.80 0a1.40 1.40 0 1 0 -2.80 0M354.0 102.2a1.40 1.40 0 1 0 2.80 0a1.40 1.40 0 1 0 -2.80 0M354.8 101.7a1.40 1.40 0 1 0 2.80 0a1.40 1.40 0 1 0 -2.80 0M355.8 102.2a1.40 1.40 0 1 0 2.80 0a1.40 1.40 0 1 0 -2.80 0M356.9 101.7a1.40 1.40 0 1 0 2.80 0a1.40 1.40 0 1 0 -2.80 0M357.5 102.1a1.40 1.40 0 1 0 2.80 0a1.40 1.40 0 1 0 -2.80 0M351.8 103.2a1.40 1.40 0 1 0 2.80 0a1.40 1.40 0 1 0 -2.80 0M352.8 102.8a1.40 1.40 0 1 0 2.80 0a1.40 1.40 0 1 0 -2.80 0M353.5 103.1a1.40 1.40 0 1 0 2.80 0a1.40 1.40 0 1 0 -2.80 0M355.2 103.3a1.40 1.40 0 1 0 2.80 0a1.40 1.40 0 1 0 -2.80 0M356.3 103.2a1.40 1.40 0 1 0 2.80 0a1.40 1.40 0 1 0 -2.80 0M357.8 103.0a1.40 1.40 0 1 0 2.80 0a1.40 1.40 0 1 0 -2.80 0M352.3 104.1a1.40 1.40 0 1 0 2.80 0a1.40 1.40 0 1 0 -2.80 0M353.2 103.7a1.40 1.40 0 1 0 2.80 0a1.40 1.40 0 1 0 -2.80 0M354.4 104.2a1.40 1.40 0 1 0 2.80 0a1.40 1.40 0 1 0 -2.80 0M355.6 104.1a1.40 1.40 0 1 0 2.80 0a1.40 1.40 0 1 0 -2.80 0M356.2 104.3a1.40 1.40 0 1 0 2.80 0a1.40 1.40 0 1 0 -2.80 0M357.6 103.8a1.40 1.40 0 1 0 2.80 0a1.40 1.40 0 1 0 -2.80 0M348.4 104.8a1.40 1.40 0 1 0 2.80 0a1.40 1.40 0 1 0 -2.80 0M349.1 104.9a1.40 1.40 0 1 0 2.80 0a1.40 1.40 0 1 0 -2.80 0M350.0 104.9a1.40 1.40 0 1 0 2.80 0a1.40 1.40 0 1 0 -2.80 0M351.4 104.9a1.40 1.40 0 1 0 2.80 0a1.40 1.40 0 1 0 -2.80 0M353.5 105.3a1.40 1.40 0 1 0 2.80 0a1.40 1.40 0 1 0 -2.80 0M351.8 105.9a1.40 1.40 0 1 0 2.80 0a1.40 1.40 0 1 0 -2.80 0M352.6 106.2a1.40 1.40 0 1 0 2.80 0a1.40 1.40 0 1 0 -2.80 0M353.9 106.0a1.40 1.40 0 1 0 2.80 0a1.40 1.40 0 1 0 -2.80 0M355.7 106.1a1.40 1.40 0 1 0 2.80 0a1.40 1.40 0 1 0 -2.80 0M357.0 105.9a1.40 1.40 0 1 0 2.80 0a1.40 1.40 0 1 0 -2.80 0M352.1 106.9a1.40 1.40 0 1 0 2.80 0a1.40 1.40 0 1 0 -2.80 0M352.8 107.1a1.40 1.40 0 1 0 2.80 0a1.40 1.40 0 1 0 -2.80 0M354.7 107.2a1.40 1.40 0 1 0 2.80 0a1.40 1.40 0 1 0 -2.80 0M355.9 107.1a1.40 1.40 0 1 0 2.80 0a1.40 1.40 0 1 0 -2.80 0M356.5 106.8a1.40 1.40 0 1 0 2.80 0a1.40 1.40 0 1 0 -2.80 0M357.6 106.9a1.40 1.40 0 1 0 2.80 0a1.40 1.40 0 1 0 -2.80 0M352.7 107.8a1.40 1.40 0 1 0 2.80 0a1.40 1.40 0 1 0 -2.80 0M353.6 107.7a1.40 1.40 0 1 0 2.80 0a1.40 1.40 0 1 0 -2.80 0M354.5 107.9a1.40 1.40 0 1 0 2.80 0a1.40 1.40 0 1 0 -2.80 0M356.5 107.9a1.40 1.40 0 1 0 2.80 0a1.40 1.40 0 1 0 -2.80 0M357.7 107.9a1.40 1.40 0 1 0 2.80 0a1.40 1.40 0 1 0 -2.80 0M350.0 108.8a1.40 1.40 0 1 0 2.80 0a1.40 1.40 0 1 0 -2.80 0M351.3 109.3a1.40 1.40 0 1 0 2.80 0a1.40 1.40 0 1 0 -2.80 0M353.2 109.1a1.40 1.40 0 1 0 2.80 0a1.40 1.40 0 1 0 -2.80 0M353.8 109.1a1.40 1.40 0 1 0 2.80 0a1.40 1.40 0 1 0 -2.80 0M355.1 108.7a1.40 1.40 0 1 0 2.80 0a1.40 1.40 0 1 0 -2.80 0M355.7 109.2a1.40 1.40 0 1 0 2.80 0a1.40 1.40 0 1 0 -2.80 0M356.9 109.2a1.40 1.40 0 1 0 2.80 0a1.40 1.40 0 1 0 -2.80 0M351.1 109.7a1.40 1.40 0 1 0 2.80 0a1.40 1.40 0 1 0 -2.80 0M352.8 110.3a1.40 1.40 0 1 0 2.80 0a1.40 1.40 0 1 0 -2.80 0M353.8 110.0a1.40 1.40 0 1 0 2.80 0a1.40 1.40 0 1 0 -2.80 0M354.2 110.0a1.40 1.40 0 1 0 2.80 0a1.40 1.40 0 1 0 -2.80 0M355.4 110.1a1.40 1.40 0 1 0 2.80 0a1.40 1.40 0 1 0 -2.80 0M356.6 109.8a1.40 1.40 0 1 0 2.80 0a1.40 1.40 0 1 0 -2.80 0M357.4 110.0a1.40 1.40 0 1 0 2.80 0a1.40 1.40 0 1 0 -2.80 0M353.5 111.3a1.40 1.40 0 1 0 2.80 0a1.40 1.40 0 1 0 -2.80 0M354.7 111.2a1.40 1.40 0 1 0 2.80 0a1.40 1.40 0 1 0 -2.80 0M356.4 111.2a1.40 1.40 0 1 0 2.80 0a1.40 1.40 0 1 0 -2.80 0M357.5 110.8a1.40 1.40 0 1 0 2.80 0a1.40 1.40 0 1 0 -2.80 0M352.5 111.7a1.40 1.40 0 1 0 2.80 0a1.40 1.40 0 1 0 -2.80 0M353.7 112.1a1.40 1.40 0 1 0 2.80 0a1.40 1.40 0 1 0 -2.80 0M354.4 111.9a1.40 1.40 0 1 0 2.80 0a1.40 1.40 0 1 0 -2.80 0M355.2 112.2a1.40 1.40 0 1 0 2.80 0a1.40 1.40 0 1 0 -2.80 0M356.1 112.1a1.40 1.40 0 1 0 2.80 0a1.40 1.40 0 1 0 -2.80 0M352.0 113.0a1.40 1.40 0 1 0 2.80 0a1.40 1.40 0 1 0 -2.80 0M352.9 112.8a1.40 1.40 0 1 0 2.80 0a1.40 1.40 0 1 0 -2.80 0M353.7 113.1a1.40 1.40 0 1 0 2.80 0a1.40 1.40 0 1 0 -2.80 0M354.8 113.3a1.40 1.40 0 1 0 2.80 0a1.40 1.40 0 1 0 -2.80 0M356.0 113.3a1.40 1.40 0 1 0 2.80 0a1.40 1.40 0 1 0 -2.80 0M357.0 113.2a1.40 1.40 0 1 0 2.80 0a1.40 1.40 0 1 0 -2.80 0M350.7 114.2a1.40 1.40 0 1 0 2.80 0a1.40 1.40 0 1 0 -2.80 0M351.3 114.2a1.40 1.40 0 1 0 2.80 0a1.40 1.40 0 1 0 -2.80 0M352.8 114.1a1.40 1.40 0 1 0 2.80 0a1.40 1.40 0 1 0 -2.80 0M353.3 113.9a1.40 1.40 0 1 0 2.80 0a1.40 1.40 0 1 0 -2.80 0M355.3 113.9a1.40 1.40 0 1 0 2.80 0a1.40 1.40 0 1 0 -2.80 0M357.4 113.7a1.40 1.40 0 1 0 2.80 0a1.40 1.40 0 1 0 -2.80 0M351.1 114.7a1.40 1.40 0 1 0 2.80 0a1.40 1.40 0 1 0 -2.80 0M351.8 115.3a1.40 1.40 0 1 0 2.80 0a1.40 1.40 0 1 0 -2.80 0M352.6 115.2a1.40 1.40 0 1 0 2.80 0a1.40 1.40 0 1 0 -2.80 0M354.6 115.2a1.40 1.40 0 1 0 2.80 0a1.40 1.40 0 1 0 -2.80 0M357.6 115.2a1.40 1.40 0 1 0 2.80 0a1.40 1.40 0 1 0 -2.80 0M352.4 116.0a1.40 1.40 0 1 0 2.80 0a1.40 1.40 0 1 0 -2.80 0M353.1 116.2a1.40 1.40 0 1 0 2.80 0a1.40 1.40 0 1 0 -2.80 0M354.3 115.8a1.40 1.40 0 1 0 2.80 0a1.40 1.40 0 1 0 -2.80 0M356.7 116.1a1.40 1.40 0 1 0 2.80 0a1.40 1.40 0 1 0 -2.80 0M358.3 116.0a1.40 1.40 0 1 0 2.80 0a1.40 1.40 0 1 0 -2.80 0M350.8 117.0a1.40 1.40 0 1 0 2.80 0a1.40 1.40 0 1 0 -2.80 0M351.5 116.9a1.40 1.40 0 1 0 2.80 0a1.40 1.40 0 1 0 -2.80 0M353.5 116.7a1.40 1.40 0 1 0 2.80 0a1.40 1.40 0 1 0 -2.80 0M352.4 118.2a1.40 1.40 0 1 0 2.80 0a1.40 1.40 0 1 0 -2.80 0M353.2 118.0a1.40 1.40 0 1 0 2.80 0a1.40 1.40 0 1 0 -2.80 0M354.2 118.1a1.40 1.40 0 1 0 2.80 0a1.40 1.40 0 1 0 -2.80 0M355.5 117.7a1.40 1.40 0 1 0 2.80 0a1.40 1.40 0 1 0 -2.80 0M356.5 117.9a1.40 1.40 0 1 0 2.80 0a1.40 1.40 0 1 0 -2.80 0M357.3 118.0a1.40 1.40 0 1 0 2.80 0a1.40 1.40 0 1 0 -2.80 0M351.8 119.1a1.40 1.40 0 1 0 2.80 0a1.40 1.40 0 1 0 -2.80 0M353.1 118.8a1.40 1.40 0 1 0 2.80 0a1.40 1.40 0 1 0 -2.80 0M354.1 119.2a1.40 1.40 0 1 0 2.80 0a1.40 1.40 0 1 0 -2.80 0M355.2 119.3a1.40 1.40 0 1 0 2.80 0a1.40 1.40 0 1 0 -2.80 0M356.8 119.1a1.40 1.40 0 1 0 2.80 0a1.40 1.40 0 1 0 -2.80 0M357.7 118.7a1.40 1.40 0 1 0 2.80 0a1.40 1.40 0 1 0 -2.80 0M352.9 119.9a1.40 1.40 0 1 0 2.80 0a1.40 1.40 0 1 0 -2.80 0M353.7 120.3a1.40 1.40 0 1 0 2.80 0a1.40 1.40 0 1 0 -2.80 0M354.7 120.3a1.40 1.40 0 1 0 2.80 0a1.40 1.40 0 1 0 -2.80 0M356.2 120.0a1.40 1.40 0 1 0 2.80 0a1.40 1.40 0 1 0 -2.80 0M345.9 93.1a1.40 1.40 0 1 0 2.80 0a1.40 1.40 0 1 0 -2.80 0M336.8 113.1a1.40 1.40 0 1 0 2.80 0a1.40 1.40 0 1 0 -2.80 0M341.3 117.6a1.40 1.40 0 1 0 2.80 0a1.40 1.40 0 1 0 -2.80 0M345.1 92.5a1.40 1.40 0 1 0 2.80 0a1.40 1.40 0 1 0 -2.80 0M348.1 91.0a1.40 1.40 0 1 0 2.80 0a1.40 1.40 0 1 0 -2.80 0M349.6 95.0a1.40 1.40 0 1 0 2.80 0a1.40 1.40 0 1 0 -2.80 0M578.7 42.4a1.60 1.60 0 1 0 3.20 0a1.60 1.60 0 1 0 -3.20 0M579.5 42.0a1.60 1.60 0 1 0 3.20 0a1.60 1.60 0 1 0 -3.20 0M580.3 42.2a1.60 1.60 0 1 0 3.20 0a1.60 1.60 0 1 0 -3.20 0M581.1 42.4a1.60 1.60 0 1 0 3.20 0a1.60 1.60 0 1 0 -3.20 0M581.9 42.1a1.60 1.60 0 1 0 3.20 0a1.60 1.60 0 1 0 -3.20 0M582.7 42.7a1.60 1.60 0 1 0 3.20 0a1.60 1.60 0 1 0 -3.20 0M583.5 42.2a1.60 1.60 0 1 0 3.20 0a1.60 1.60 0 1 0 -3.20 0M584.3 42.4a1.60 1.60 0 1 0 3.20 0a1.60 1.60 0 1 0 -3.20 0M585.1 42.5a1.60 1.60 0 1 0 3.20 0a1.60 1.60 0 1 0 -3.20 0M585.9 42.2a1.60 1.60 0 1 0 3.20 0a1.60 1.60 0 1 0 -3.20 0M586.7 42.5a1.60 1.60 0 1 0 3.20 0a1.60 1.60 0 1 0 -3.20 0M587.5 42.5a1.60 1.60 0 1 0 3.20 0a1.60 1.60 0 1 0 -3.20 0M588.3 42.5a1.60 1.60 0 1 0 3.20 0a1.60 1.60 0 1 0 -3.20 0M589.1 42.2a1.60 1.60 0 1 0 3.20 0a1.60 1.60 0 1 0 -3.20 0M589.9 42.2a1.60 1.60 0 1 0 3.20 0a1.60 1.60 0 1 0 -3.20 0M590.7 42.4a1.60 1.60 0 1 0 3.20 0a1.60 1.60 0 1 0 -3.20 0M591.5 42.3a1.60 1.60 0 1 0 3.20 0a1.60 1.60 0 1 0 -3.20 0M592.3 42.3a1.60 1.60 0 1 0 3.20 0a1.60 1.60 0 1 0 -3.20 0M579.2 42.4a1.60 1.60 0 1 0 3.20 0a1.60 1.60 0 1 0 -3.20 0M579.9 42.8a1.60 1.60 0 1 0 3.20 0a1.60 1.60 0 1 0 -3.20 0M580.6 41.7a1.60 1.60 0 1 0 3.20 0a1.60 1.60 0 1 0 -3.20 0M581.3 41.8a1.60 1.60 0 1 0 3.20 0a1.60 1.60 0 1 0 -3.20 0M582.0 41.6a1.60 1.60 0 1 0 3.20 0a1.60 1.60 0 1 0 -3.20 0M582.7 42.3a1.60 1.60 0 1 0 3.20 0a1.60 1.60 0 1 0 -3.20 0M583.4 41.8a1.60 1.60 0 1 0 3.20 0a1.60 1.60 0 1 0 -3.20 0M584.1 43.1a1.60 1.60 0 1 0 3.20 0a1.60 1.60 0 1 0 -3.20 0M584.8 41.8a1.60 1.60 0 1 0 3.20 0a1.60 1.60 0 1 0 -3.20 0M585.5 42.2a1.60 1.60 0 1 0 3.20 0a1.60 1.60 0 1 0 -3.20 0M586.2 42.8a1.60 1.60 0 1 0 3.20 0a1.60 1.60 0 1 0 -3.20 0M586.9 41.9a1.60 1.60 0 1 0 3.20 0a1.60 1.60 0 1 0 -3.20 0M587.6 41.5a1.60 1.60 0 1 0 3.20 0a1.60 1.60 0 1 0 -3.20 0M588.3 41.8a1.60 1.60 0 1 0 3.20 0a1.60 1.60 0 1 0 -3.20 0M589.0 42.7a1.60 1.60 0 1 0 3.20 0a1.60 1.60 0 1 0 -3.20 0M589.7 42.0a1.60 1.60 0 1 0 3.20 0a1.60 1.60 0 1 0 -3.20 0M590.4 43.1a1.60 1.60 0 1 0 3.20 0a1.60 1.60 0 1 0 -3.20 0M591.1 41.7a1.60 1.60 0 1 0 3.20 0a1.60 1.60 0 1 0 -3.20 0M591.8 41.9a1.60 1.60 0 1 0 3.20 0a1.60 1.60 0 1 0 -3.20 0M582.0 58.9a1.60 1.60 0 1 0 3.20 0a1.60 1.60 0 1 0 -3.20 0M587.9 59.0a1.60 1.60 0 1 0 3.20 0a1.60 1.60 0 1 0 -3.20 0M588.7 58.8a1.60 1.60 0 1 0 3.20 0a1.60 1.60 0 1 0 -3.20 0M589.5 58.8a1.60 1.60 0 1 0 3.20 0a1.60 1.60 0 1 0 -3.20 0M590.3 58.7a1.60 1.60 0 1 0 3.20 0a1.60 1.60 0 1 0 -3.20 0M591.1 58.6a1.60 1.60 0 1 0 3.20 0a1.60 1.60 0 1 0 -3.20 0M591.9 58.9a1.60 1.60 0 1 0 3.20 0a1.60 1.60 0 1 0 -3.20 0M585.2 68.0a1.60 1.60 0 1 0 3.20 0a1.60 1.60 0 1 0 -3.20 0M591.6 68.0a1.60 1.60 0 1 0 3.20 0a1.60 1.60 0 1 0 -3.20 0M583.6 79.1a1.55 1.55 0 1 0 3.10 0a1.55 1.55 0 1 0 -3.10 0M588.7 79.1a1.55 1.55 0 1 0 3.10 0a1.55 1.55 0 1 0 -3.10 0M585.4 82.9a1.55 1.55 0 1 0 3.10 0a1.55 1.55 0 1 0 -3.10 0M587.2 82.9a1.55 1.55 0 1 0 3.10 0a1.55 1.55 0 1 0 -3.10 0M591.2 82.9a1.55 1.55 0 1 0 3.10 0a1.55 1.55 0 1 0 -3.10 0M589.0 86.2a1.55 1.55 0 1 0 3.10 0a1.55 1.55 0 1 0 -3.10 0M590.9 86.2a1.55 1.55 0 1 0 3.10 0a1.55 1.55 0 1 0 -3.10 0M581.8 86.0a1.55 1.55 0 1 0 3.10 0a1.55 1.55 0 1 0 -3.10 0M578.5 89.1a1.55 1.55 0 1 0 3.10 0a1.55 1.55 0 1 0 -3.10 0M585.4 89.1a1.55 1.55 0 1 0 3.10 0a1.55 1.55 0 1 0 -3.10 0M578.5 95.3a1.55 1.55 0 1 0 3.10 0a1.55 1.55 0 1 0 -3.10 0M580.2 102.2a1.55 1.55 0 1 0 3.10 0a1.55 1.55 0 1 0 -3.10 0M581.2 107.6a1.55 1.55 0 1 0 3.10 0a1.55 1.55 0 1 0 -3.10 0M589.4 107.6a1.55 1.55 0 1 0 3.10 0a1.55 1.55 0 1 0 -3.10 0M562.5 112.2a1.55 1.55 0 1 0 3.10 0a1.55 1.55 0 1 0 -3.10 0M583.0 112.2a1.55 1.55 0 1 0 3.10 0a1.55 1.55 0 1 0 -3.10 0M589.4 112.2a1.55 1.55 0 1 0 3.10 0a1.55 1.55 0 1 0 -3.10 0M584.9 117.6a1.55 1.55 0 1 0 3.10 0a1.55 1.55 0 1 0 -3.10 0M591.2 116.7a1.55 1.55 0 1 0 3.10 0a1.55 1.55 0 1 0 -3.10 0M586.5 114.0a1.55 1.55 0 1 0 3.10 0a1.55 1.55 0 1 0 -3.10 0M589.5 119.0a1.55 1.55 0 1 0 3.10 0a1.55 1.55 0 1 0 -3.10 0"/>
<path fill="#4892d2" d="M130.3 42.6a1.60 1.60 0 1 0 3.20 0a1.60 1.60 0 1 0 -3.20 0M131.1 42.3a1.60 1.60 0 1 0 3.20 0a1.60 1.60 0 1 0 -3.20 0M131.9 42.4a1.60 1.60 0 1 0 3.20 0a1.60 1.60 0 1 0 -3.20 0M132.7 42.3a1.60 1.60 0 1 0 3.20 0a1.60 1.60 0 1 0 -3.20 0M133.5 42.4a1.60 1.60 0 1 0 3.20 0a1.60 1.60 0 1 0 -3.20 0M134.3 42.3a1.60 1.60 0 1 0 3.20 0a1.60 1.60 0 1 0 -3.20 0M135.1 42.1a1.60 1.60 0 1 0 3.20 0a1.60 1.60 0 1 0 -3.20 0M135.9 42.7a1.60 1.60 0 1 0 3.20 0a1.60 1.60 0 1 0 -3.20 0M136.7 42.7a1.60 1.60 0 1 0 3.20 0a1.60 1.60 0 1 0 -3.20 0M137.5 42.6a1.60 1.60 0 1 0 3.20 0a1.60 1.60 0 1 0 -3.20 0M138.3 42.5a1.60 1.60 0 1 0 3.20 0a1.60 1.60 0 1 0 -3.20 0M139.1 42.2a1.60 1.60 0 1 0 3.20 0a1.60 1.60 0 1 0 -3.20 0M139.9 42.1a1.60 1.60 0 1 0 3.20 0a1.60 1.60 0 1 0 -3.20 0M140.7 42.1a1.60 1.60 0 1 0 3.20 0a1.60 1.60 0 1 0 -3.20 0M141.5 42.0a1.60 1.60 0 1 0 3.20 0a1.60 1.60 0 1 0 -3.20 0M142.3 42.5a1.60 1.60 0 1 0 3.20 0a1.60 1.60 0 1 0 -3.20 0M143.1 42.2a1.60 1.60 0 1 0 3.20 0a1.60 1.60 0 1 0 -3.20 0M143.9 42.6a1.60 1.60 0 1 0 3.20 0a1.60 1.60 0 1 0 -3.20 0M144.7 42.2a1.60 1.60 0 1 0 3.20 0a1.60 1.60 0 1 0 -3.20 0M145.5 42.7a1.60 1.60 0 1 0 3.20 0a1.60 1.60 0 1 0 -3.20 0M146.3 42.6a1.60 1.60 0 1 0 3.20 0a1.60 1.60 0 1 0 -3.20 0M147.1 41.9a1.60 1.60 0 1 0 3.20 0a1.60 1.60 0 1 0 -3.20 0M147.9 42.1a1.60 1.60 0 1 0 3.20 0a1.60 1.60 0 1 0 -3.20 0M148.7 42.6a1.60 1.60 0 1 0 3.20 0a1.60 1.60 0 1 0 -3.20 0M149.5 42.3a1.60 1.60 0 1 0 3.20 0a1.60 1.60 0 1 0 -3.20 0M150.3 42.7a1.60 1.60 0 1 0 3.20 0a1.60 1.60 0 1 0 -3.20 0M130.7 42.1a1.60 1.60 0 1 0 3.20 0a1.60 1.60 0 1 0 -3.20 0M131.4 41.5a1.60 1.60 0 1 0 3.20 0a1.60 1.60 0 1 0 -3.20 0M132.1 42.5a1.60 1.60 0 1 0 3.20 0a1.60 1.60 0 1 0 -3.20 0M132.8 42.8a1.60 1.60 0 1 0 3.20 0a1.60 1.60 0 1 0 -3.20 0M133.5 41.9a1.60 1.60 0 1 0 3.20 0a1.60 1.60 0 1 0 -3.20 0M134.2 41.6a1.60 1.60 0 1 0 3.20 0a1.60 1.60 0 1 0 -3.20 0M134.9 42.0a1.60 1.60 0 1 0 3.20 0a1.60 1.60 0 1 0 -3.20 0M135.6 43.1a1.60 1.60 0 1 0 3.20 0a1.60 1.60 0 1 0 -3.20 0M136.3 42.8a1.60 1.60 0 1 0 3.20 0a1.60 1.60 0 1 0 -3.20 0M137.0 41.6a1.60 1.60 0 1 0 3.20 0a1.60 1.60 0 1 0 -3.20 0M137.7 41.8a1.60 1.60 0 1 0 3.20 0a1.60 1.60 0 1 0 -3.20 0M138.4 41.6a1.60 1.60 0 1 0 3.20 0a1.60 1.60 0 1 0 -3.20 0M139.1 41.5a1.60 1.60 0 1 0 3.20 0a1.60 1.60 0 1 0 -3.20 0M139.8 42.8a1.60 1.60 0 1 0 3.20 0a1.60 1.60 0 1 0 -3.20 0M140.5 41.7a1.60 1.60 0 1 0 3.20 0a1.60 1.60 0 1 0 -3.20 0M141.2 42.4a1.60 1.60 0 1 0 3.20 0a1.60 1.60 0 1 0 -3.20 0M141.9 42.2a1.60 1.60 0 1 0 3.20 0a1.60 1.60 0 1 0 -3.20 0M142.6 41.7a1.60 1.60 0 1 0 3.20 0a1.60 1.60 0 1 0 -3.20 0M143.3 42.7a1.60 1.60 0 1 0 3.20 0a1.60 1.60 0 1 0 -3.20 0M144.0 41.6a1.60 1.60 0 1 0 3.20 0a1.60 1.60 0 1 0 -3.20 0M144.7 42.6a1.60 1.60 0 1 0 3.20 0a1.60 1.60 0 1 0 -3.20 0M129.9 58.7a1.60 1.60 0 1 0 3.20 0a1.60 1.60 0 1 0 -3.20 0M130.7 58.8a1.60 1.60 0 1 0 3.20 0a1.60 1.60 0 1 0 -3.20 0M131.5 59.2a1.60 1.60 0 1 0 3.20 0a1.60 1.60 0 1 0 -3.20 0M132.3 59.0a1.60 1.60 0 1 0 3.20 0a1.60 1.60 0 1 0 -3.20 0M133.1 58.6a1.60 1.60 0 1 0 3.20 0a1.60 1.60 0 1 0 -3.20 0M133.9 59.3a1.60 1.60 0 1 0 3.20 0a1.60 1.60 0 1 0 -3.20 0M134.7 58.7a1.60 1.60 0 1 0 3.20 0a1.60 1.60 0 1 0 -3.20 0M135.5 58.7a1.60 1.60 0 1 0 3.20 0a1.60 1.60 0 1 0 -3.20 0M136.3 59.1a1.60 1.60 0 1 0 3.20 0a1.60 1.60 0 1 0 -3.20 0M137.1 58.8a1.60 1.60 0 1 0 3.20 0a1.60 1.60 0 1 0 -3.20 0M137.9 58.7a1.60 1.60 0 1 0 3.20 0a1.60 1.60 0 1 0 -3.20 0M138.7 58.6a1.60 1.60 0 1 0 3.20 0a1.60 1.60 0 1 0 -3.20 0M139.5 58.6a1.60 1.60 0 1 0 3.20 0a1.60 1.60 0 1 0 -3.20 0M140.3 59.0a1.60 1.60 0 1 0 3.20 0a1.60 1.60 0 1 0 -3.20 0M141.1 58.7a1.60 1.60 0 1 0 3.20 0a1.60 1.60 0 1 0 -3.20 0M141.9 59.0a1.60 1.60 0 1 0 3.20 0a1.60 1.60 0 1 0 -3.20 0M129.9 68.3a1.60 1.60 0 1 0 3.20 0a1.60 1.60 0 1 0 -3.20 0M130.7 68.3a1.60 1.60 0 1 0 3.20 0a1.60 1.60 0 1 0 -3.20 0M131.5 67.8a1.60 1.60 0 1 0 3.20 0a1.60 1.60 0 1 0 -3.20 0M132.3 67.8a1.60 1.60 0 1 0 3.20 0a1.60 1.60 0 1 0 -3.20 0M133.1 68.2a1.60 1.60 0 1 0 3.20 0a1.60 1.60 0 1 0 -3.20 0M133.9 68.4a1.60 1.60 0 1 0 3.20 0a1.60 1.60 0 1 0 -3.20 0M134.7 67.8a1.60 1.60 0 1 0 3.20 0a1.60 1.60 0 1 0 -3.20 0M135.5 68.4a1.60 1.60 0 1 0 3.20 0a1.60 1.60 0 1 0 -3.20 0M136.3 68.3a1.60 1.60 0 1 0 3.20 0a1.60 1.60 0 1 0 -3.20 0M137.1 68.1a1.60 1.60 0 1 0 3.20 0a1.60 1.60 0 1 0 -3.20 0M141.1 68.0a1.40 1.40 0 1 0 2.80 0a1.40 1.40 0 1 0 -2.80 0M130.2 73.8a1.60 1.60 0 1 0 3.20 0a1.60 1.60 0 1 0 -3.20 0M131.0 74.6a1.60 1.60 0 1 0 3.20 0a1.60 1.60 0 1 0 -3.20 0M131.8 74.0a1.60 1.60 0 1 0 3.20 0a1.60 1.60 0 1 0 -3.20 0M132.6 74.4a1.60 1.60 0 1 0 3.20 0a1.60 1.60 0 1 0 -3.20 0M133.4 74.0a1.60 1.60 0 1 0 3.20 0a1.60 1.60 0 1 0 -3.20 0M134.2 74.5a1.60 1.60 0 1 0 3.20 0a1.60 1.60 0 1 0 -3.20 0M135.0 74.3a1.60 1.60 0 1 0 3.20 0a1.60 1.60 0 1 0 -3.20 0M135.8 74.0a1.60 1.60 0 1 0 3.20 0a1.60 1.60 0 1 0 -3.20 0M136.6 73.9a1.60 1.60 0 1 0 3.20 0a1.60 1.60 0 1 0 -3.20 0M137.4 74.4a1.60 1.60 0 1 0 3.20 0a1.60 1.60 0 1 0 -3.20 0M138.2 73.9a1.60 1.60 0 1 0 3.20 0a1.60 1.60 0 1 0 -3.20 0M139.0 74.0a1.60 1.60 0 1 0 3.20 0a1.60 1.60 0 1 0 -3.20 0M139.8 74.2a1.60 1.60 0 1 0 3.20 0a1.60 1.60 0 1 0 -3.20 0M140.6 74.5a1.60 1.60 0 1 0 3.20 0a1.60 1.60 0 1 0 -3.20 0M141.4 74.3a1.60 1.60 0 1 0 3.20 0a1.60 1.60 0 1 0 -3.20 0M142.2 74.0a1.60 1.60 0 1 0 3.20 0a1.60 1.60 0 1 0 -3.20 0M143.0 74.5a1.60 1.60 0 1 0 3.20 0a1.60 1.60 0 1 0 -3.20 0M129.7 79.1a1.60 1.60 0 1 0 3.20 0a1.60 1.60 0 1 0 -3.20 0M130.5 78.7a1.60 1.60 0 1 0 3.20 0a1.60 1.60 0 1 0 -3.20 0M131.3 78.9a1.60 1.60 0 1 0 3.20 0a1.60 1.60 0 1 0 -3.20 0M132.1 79.3a1.60 1.60 0 1 0 3.20 0a1.60 1.60 0 1 0 -3.20 0M132.9 79.4a1.60 1.60 0 1 0 3.20 0a1.60 1.60 0 1 0 -3.20 0M133.7 79.1a1.60 1.60 0 1 0 3.20 0a1.60 1.60 0 1 0 -3.20 0M134.5 79.2a1.60 1.60 0 1 0 3.20 0a1.60 1.60 0 1 0 -3.20 0M135.3 79.1a1.60 1.60 0 1 0 3.20 0a1.60 1.60 0 1 0 -3.20 0M136.1 78.7a1.60 1.60 0 1 0 3.20 0a1.60 1.60 0 1 0 -3.20 0M136.9 78.6a1.60 1.60 0 1 0 3.20 0a1.60 1.60 0 1 0 -3.20 0M137.7 78.6a1.60 1.60 0 1 0 3.20 0a1.60 1.60 0 1 0 -3.20 0M130.8 81.1a1.40 1.40 0 1 0 2.80 0a1.40 1.40 0 1 0 -2.80 0M132.7 81.0a1.40 1.40 0 1 0 2.80 0a1.40 1.40 0 1 0 -2.80 0M133.8 81.0a1.40 1.40 0 1 0 2.80 0a1.40 1.40 0 1 0 -2.80 0M134.9 80.8a1.40 1.40 0 1 0 2.80 0a1.40 1.40 0 1 0 -2.80 0M135.8 81.1a1.40 1.40 0 1 0 2.80 0a1.40 1.40 0 1 0 -2.80 0M137.0 80.8a1.40 1.40 0 1 0 2.80 0a1.40 1.40 0 1 0 -2.80 0M138.9 80.9a1.40 1.40 0 1 0 2.80 0a1.40 1.40 0 1 0 -2.80 0M131.1 82.2a1.40 1.40 0 1 0 2.80 0a1.40 1.40 0 1 0 -2.80 0M132.2 82.2a1.40 1.40 0 1 0 2.80 0a1.40 1.40 0 1 0 -2.80 0M133.8 82.0a1.40 1.40 0 1 0 2.80 0a1.40 1.40 0 1 0 -2.80 0M135.9 82.0a1.40 1.40 0 1 0 2.80 0a1.40 1.40 0 1 0 -2.80 0M137.6 82.2a1.40 1.40 0 1 0 2.80 0a1.40 1.40 0 1 0 -2.80 0M131.0 82.9a1.40 1.40 0 1 0 2.80 0a1.40 1.40 0 1 0 -2.80 0M131.5 82.7a1.40 1.40 0 1 0 2.80 0a1.40 1.40 0 1 0 -2.80 0M132.8 82.9a1.40 1.40 0 1 0 2.80 0a1.40 1.40 0 1 0 -2.80 0M134.0 83.0a1.40 1.40 0 1 0 2.80 0a1.40 1.40 0 1 0 -2.80 0M134.7 82.9a1.40 1.40 0 1 0 2.80 0a1.40 1.40 0 1 0 -2.80 0M135.5 83.3a1.40 1.40 0 1 0 2.80 0a1.40 1.40 0 1 0 -2.80 0M138.1 82.9a1.40 1.40 0 1 0 2.80 0a1.40 1.40 0 1 0 -2.80 0M130.9 84.3a1.40 1.40 0 1 0 2.80 0a1.40 1.40 0 1 0 -2.80 0M132.0 83.7a1.40 1.40 0 1 0 2.80 0a1.40 1.40 0 1 0 -2.80 0M133.1 83.7a1.40 1.40 0 1 0 2.80 0a1.40 1.40 0 1 0 -2.80 0M133.7 83.9a1.40 1.40 0 1 0 2.80 0a1.40 1.40 0 1 0 -2.80 0M135.1 84.2a1.40 1.40 0 1 0 2.80 0a1.40 1.40 0 1 0 -2.80 0M135.7 84.1a1.40 1.40 0 1 0 2.80 0a1.40 1.40 0 1 0 -2.80 0M136.5 84.3a1.40 1.40 0 1 0 2.80 0a1.40 1.40 0 1 0 -2.80 0M131.1 85.3a1.40 1.40 0 1 0 2.80 0a1.40 1.40 0 1 0 -2.80 0M131.6 84.9a1.40 1.40 0 1 0 2.80 0a1.40 1.40 0 1 0 -2.80 0M135.0 84.9a1.40 1.40 0 1 0 2.80 0a1.40 1.40 0 1 0 -2.80 0M135.6 85.3a1.40 1.40 0 1 0 2.80 0a1.40 1.40 0 1 0 -2.80 0M137.9 84.8a1.40 1.40 0 1 0 2.80 0a1.40 1.40 0 1 0 -2.80 0M130.5 86.2a1.40 1.40 0 1 0 2.80 0a1.40 1.40 0 1 0 -2.80 0M132.0 86.3a1.40 1.40 0 1 0 2.80 0a1.40 1.40 0 1 0 -2.80 0M132.5 86.1a1.40 1.40 0 1 0 2.80 0a1.40 1.40 0 1 0 -2.80 0M134.5 85.8a1.40 1.40 0 1 0 2.80 0a1.40 1.40 0 1 0 -2.80 0M135.9 85.8a1.40 1.40 0 1 0 2.80 0a1.40 1.40 0 1 0 -2.80 0M136.6 86.1a1.40 1.40 0 1 0 2.80 0a1.40 1.40 0 1 0 -2.80 0M138.9 86.3a1.40 1.40 0 1 0 2.80 0a1.40 1.40 0 1 0 -2.80 0M139.6 85.9a1.40 1.40 0 1 0 2.80 0a1.40 1.40 0 1 0 -2.80 0M130.8 86.7a1.40 1.40 0 1 0 2.80 0a1.40 1.40 0 1 0 -2.80 0M132.8 87.0a1.40 1.40 0 1 0 2.80 0a1.40 1.40 0 1 0 -2.80 0M133.8 86.8a1.40 1.40 0 1 0 2.80 0a1.40 1.40 0 1 0 -2.80 0M135.0 86.7a1.40 1.40 0 1 0 2.80 0a1.40 1.40 0 1 0 -2.80 0M135.9 86.8a1.40 1.40 0 1 0 2.80 0a1.40 1.40 0 1 0 -2.80 0M136.8 86.8a1.40 1.40 0 1 0 2.80 0a1.40 1.40 0 1 0 -2.80 0M130.9 87.9a1.40 1.40 0 1 0 2.80 0a1.40 1.40 0 1 0 -2.80 0M132.5 88.0a1.40 1.40 0 1 0 2.80 0a1.40 1.40 0 1 0 -2.80 0M133.6 88.1a1.40 1.40 0 1 0 2.80 0a1.40 1.40 0 1 0 -2.80 0M135.7 88.2a1.40 1.40 0 1 0 2.80 0a1.40 1.40 0 1 0 -2.80 0M136.7 88.3a1.40 1.40 0 1 0 2.80 0a1.40 1.40 0 1 0 -2.80 0M131.8 88.8a1.40 1.40 0 1 0 2.80 0a1.40 1.40 0 1 0 -2.80 0M132.9 89.2a1.40 1.40 0 1 0 2.80 0a1.40 1.40 0 1 0 -2.80 0M134.7 88.8a1.40 1.40 0 1 0 2.80 0a1.40 1.40 0 1 0 -2.80 0M135.7 88.7a1.40 1.40 0 1 0 2.80 0a1.40 1.40 0 1 0 -2.80 0M136.8 89.1a1.40 1.40 0 1 0 2.80 0a1.40 1.40 0 1 0 -2.80 0M130.3 90.0a1.40 1.40 0 1 0 2.80 0a1.40 1.40 0 1 0 -2.80 0M131.6 89.8a1.40 1.40 0 1 0 2.80 0a1.40 1.40 0 1 0 -2.80 0M133.9 90.0a1.40 1.40 0 1 0 2.80 0a1.40 1.40 0 1 0 -2.80 0M134.9 89.8a1.40 1.40 0 1 0 2.80 0a1.40 1.40 0 1 0 -2.80 0M135.5 89.7a1.40 1.40 0 1 0 2.80 0a1.40 1.40 0 1 0 -2.80 0M136.7 90.0a1.40 1.40 0 1 0 2.80 0a1.40 1.40 0 1 0 -2.80 0M137.7 89.7a1.40 1.40 0 1 0 2.80 0a1.40 1.40 0 1 0 -2.80 0M130.5 90.8a1.40 1.40 0 1 0 2.80 0a1.40 1.40 0 1 0 -2.80 0M131.9 91.2a1.40 1.40 0 1 0 2.80 0a1.40 1.40 0 1 0 -2.80 0M132.6 90.9a1.40 1.40 0 1 0 2.80 0a1.40 1.40 0 1 0 -2.80 0M134.0 90.7a1.40 1.40 0 1 0 2.80 0a1.40 1.40 0 1 0 -2.80 0M134.8 91.3a1.40 1.40 0 1 0 2.80 0a1.40 1.40 0 1 0 -2.80 0M135.6 91.2a1.40 1.40 0 1 0 2.80 0a1.40 1.40 0 1 0 -2.80 0M136.5 91.3a1.40 1.40 0 1 0 2.80 0a1.40 1.40 0 1 0 -2.80 0M137.6 90.9a1.40 1.40 0 1 0 2.80 0a1.40 1.40 0 1 0 -2.80 0M138.3 90.7a1.40 1.40 0 1 0 2.80 0a1.40 1.40 0 1 0 -2.80 0M130.4 92.0a1.40 1.40 0 1 0 2.80 0a1.40 1.40 0 1 0 -2.80 0M131.6 92.3a1.40 1.40 0 1 0 2.80 0a1.40 1.40 0 1 0 -2.80 0M132.5 92.3a1.40 1.40 0 1 0 2.80 0a1.40 1.40 0 1 0 -2.80 0M133.3 91.9a1.40 1.40 0 1 0 2.80 0a1.40 1.40 0 1 0 -2.80 0M134.3 91.9a1.40 1.40 0 1 0 2.80 0a1.40 1.40 0 1 0 -2.80 0M135.9 92.1a1.40 1.40 0 1 0 2.80 0a1.40 1.40 0 1 0 -2.80 0M137.5 92.2a1.40 1.40 0 1 0 2.80 0a1.40 1.40 0 1 0 -2.80 0M138.8 91.8a1.40 1.40 0 1 0 2.80 0a1.40 1.40 0 1 0 -2.80 0M139.4 92.0a1.40 1.40 0 1 0 2.80 0a1.40 1.40 0 1 0 -2.80 0M130.4 93.0a1.40 1.40 0 1 0 2.80 0a1.40 1.40 0 1 0 -2.80 0M131.5 93.3a1.40 1.40 0 1 0 2.80 0a1.40 1.40 0 1 0 -2.80 0M132.8 92.8a1.40 1.40 0 1 0 2.80 0a1.40 1.40 0 1 0 -2.80 0M133.3 93.1a1.40 1.40 0 1 0 2.80 0a1.40 1.40 0 1 0 -2.80 0M134.4 92.7a1.40 1.40 0 1 0 2.80 0a1.40 1.40 0 1 0 -2.80 0M135.4 92.9a1.40 1.40 0 1 0 2.80 0a1.40 1.40 0 1 0 -2.80 0M137.4 92.9a1.40 1.40 0 1 0 2.80 0a1.40 1.40 0 1 0 -2.80 0M131.7 94.2a1.40 1.40 0 1 0 2.80 0a1.40 1.40 0 1 0 -2.80 0M133.4 93.9a1.40 1.40 0 1 0 2.80 0a1.40 1.40 0 1 0 -2.80 0M134.8 93.9a1.40 1.40 0 1 0 2.80 0a1.40 1.40 0 1 0 -2.80 0M136.2 93.9a1.40 1.40 0 1 0 2.80 0a1.40 1.40 0 1 0 -2.80 0M137.2 93.8a1.40 1.40 0 1 0 2.80 0a1.40 1.40 0 1 0 -2.80 0M130.4 94.9a1.40 1.40 0 1 0 2.80 0a1.40 1.40 0 1 0 -2.80 0M131.3 95.1a1.40 1.40 0 1 0 2.80 0a1.40 1.40 0 1 0 -2.80 0M132.7 95.1a1.40 1.40 0 1 0 2.80 0a1.40 1.40 0 1 0 -2.80 0M133.3 94.8a1.40 1.40 0 1 0 2.80 0a1.40 1.40 0 1 0 -2.80 0M134.5 94.9a1.40 1.40 0 1 0 2.80 0a1.40 1.40 0 1 0 -2.80 0M136.4 94.9a1.40 1.40 0 1 0 2.80 0a1.40 1.40 0 1 0 -2.80 0M137.2 94.7a1.40 1.40 0 1 0 2.80 0a1.40 1.40 0 1 0 -2.80 0M138.6 95.2a1.40 1.40 0 1 0 2.80 0a1.40 1.40 0 1 0 -2.80 0M130.8 95.8a1.40 1.40 0 1 0 2.80 0a1.40 1.40 0 1 0 -2.80 0M131.6 96.3a1.40 1.40 0 1 0 2.80 0a1.40 1.40 0 1 0 -2.80 0M133.6 95.7a1.40 1.40 0 1 0 2.80 0a1.40 1.40 0 1 0 -2.80 0M134.4 95.7a1.40 1.40 0 1 0 2.80 0a1.40 1.40 0 1 0 -2.80 0M135.4 96.0a1.40 1.40 0 1 0 2.80 0a1.40 1.40 0 1 0 -2.80 0M136.3 95.9a1.40 1.40 0 1 0 2.80 0a1.40 1.40 0 1 0 -2.80 0M137.3 96.1a1.40 1.40 0 1 0 2.80 0a1.40 1.40 0 1 0 -2.80 0M138.2 95.9a1.40 1.40 0 1 0 2.80 0a1.40 1.40 0 1 0 -2.80 0M130.5 97.1a1.40 1.40 0 1 0 2.80 0a1.40 1.40 0 1 0 -2.80 0M131.6 96.7a1.40 1.40 0 1 0 2.80 0a1.40 1.40 0 1 0 -2.80 0M132.4 96.7a1.40 1.40 0 1 0 2.80 0a1.40 1.40 0 1 0 -2.80 0M133.2 97.0a1.40 1.40 0 1 0 2.80 0a1.40 1.40 0 1 0 -2.80 0M134.5 96.9a1.40 1.40 0 1 0 2.80 0a1.40 1.40 0 1 0 -2.80 0M135.1 96.9a1.40 1.40 0 1 0 2.80 0a1.40 1.40 0 1 0 -2.80 0M137.3 97.1a1.40 1.40 0 1 0 2.80 0a1.40 1.40 0 1 0 -2.80 0M138.5 97.1a1.40 1.40 0 1 0 2.80 0a1.40 1.40 0 1 0 -2.80 0M130.5 98.3a1.40 1.40 0 1 0 2.80 0a1.40 1.40 0 1 0 -2.80 0M132.5 97.9a1.40 1.40 0 1 0 2.80 0a1.40 1.40 0 1 0 -2.80 0M133.3 98.2a1.40 1.40 0 1 0 2.80 0a1.40 1.40 0 1 0 -2.80 0M135.7 97.7a1.40 1.40 0 1 0 2.80 0a1.40 1.40 0 1 0 -2.80 0M136.5 97.9a1.40 1.40 0 1 0 2.80 0a1.40 1.40 0 1 0 -2.80 0M137.8 97.8a1.40 1.40 0 1 0 2.80 0a1.40 1.40 0 1 0 -2.80 0M138.3 98.1a1.40 1.40 0 1 0 2.80 0a1.40 1.40 0 1 0 -2.80 0M139.1 98.0a1.40 1.40 0 1 0 2.80 0a1.40 1.40 0 1 0 -2.80 0M140.3 98.0a1.40 1.40 0 1 0 2.80 0a1.40 1.40 0 1 0 -2.80 0M141.5 98.1a1.40 1.40 0 1 0 2.80 0a1.40 1.40 0 1 0 -2.80 0M142.7 98.3a1.40 1.40 0 1 0 2.80 0a1.40 1.40 0 1 0 -2.80 0M143.3 98.3a1.40 1.40 0 1 0 2.80 0a1.40 1.40 0 1 0 -2.80 0M130.6 99.1a1.40 1.40 0 1 0 2.80 0a1.40 1.40 0 1 0 -2.80 0M133.5 99.0a1.40 1.40 0 1 0 2.80 0a1.40 1.40 0 1 0 -2.80 0M134.3 98.8a1.40 1.40 0 1 0 2.80 0a1.40 1.40 0 1 0 -2.80 0M135.5 98.8a1.40 1.40 0 1 0 2.80 0a1.40 1.40 0 1 0 -2.80 0M136.3 98.8a1.40 1.40 0 1 0 2.80 0a1.40 1.40 0 1 0 -2.80 0M137.2 98.7a1.40 1.40 0 1 0 2.80 0a1.40 1.40 0 1 0 -2.80 0M138.1 99.1a1.40 1.40 0 1 0 2.80 0a1.40 1.40 0 1 0 -2.80 0M130.6 100.0a1.40 1.40 0 1 0 2.80 0a1.40 1.40 0 1 0 -2.80 0M131.7 100.3a1.40 1.40 0 1 0 2.80 0a1.40 1.40 0 1 0 -2.80 0M132.2 100.0a1.40 1.40 0 1 0 2.80 0a1.40 1.40 0 1 0 -2.80 0M134.6 99.8a1.40 1.40 0 1 0 2.80 0a1.40 1.40 0 1 0 -2.80 0M135.3 99.9a1.40 1.40 0 1 0 2.80 0a1.40 1.40 0 1 0 -2.80 0M130.3 101.1a1.40 1.40 0 1 0 2.80 0a1.40 1.40 0 1 0 -2.80 0M131.6 101.2a1.40 1.40 0 1 0 2.80 0a1.40 1.40 0 1 0 -2.80 0M132.3 101.1a1.40 1.40 0 1 0 2.80 0a1.40 1.40 0 1 0 -2.80 0M133.2 100.7a1.40 1.40 0 1 0 2.80 0a1.40 1.40 0 1 0 -2.80 0M134.7 101.3a1.40 1.40 0 1 0 2.80 0a1.40 1.40 0 1 0 -2.80 0M135.5 100.9a1.40 1.40 0 1 0 2.80 0a1.40 1.40 0 1 0 -2.80 0M136.3 101.3a1.40 1.40 0 1 0 2.80 0a1.40 1.40 0 1 0 -2.80 0M138.5 100.7a1.40 1.40 0 1 0 2.80 0a1.40 1.40 0 1 0 -2.80 0M139.2 101.2a1.40 1.40 0 1 0 2.80 0a1.40 1.40 0 1 0 -2.80 0M141.3 100.7a1.40 1.40 0 1 0 2.80 0a1.40 1.40 0 1 0 -2.80 0M130.3 101.9a1.40 1.40 0 1 0 2.80 0a1.40 1.40 0 1 0 -2.80 0M133.3 102.1a1.40 1.40 0 1 0 2.80 0a1.40 1.40 0 1 0 -2.80 0M136.5 102.0a1.40 1.40 0 1 0 2.80 0a1.40 1.40 0 1 0 -2.80 0M138.1 101.7a1.40 1.40 0 1 0 2.80 0a1.40 1.40 0 1 0 -2.80 0M130.1 102.9a1.40 1.40 0 1 0 2.80 0a1.40 1.40 0 1 0 -2.80 0M131.4 102.8a1.40 1.40 0 1 0 2.80 0a1.40 1.40 0 1 0 -2.80 0M132.2 102.8a1.40 1.40 0 1 0 2.80 0a1.40 1.40 0 1 0 -2.80 0M133.2 102.8a1.40 1.40 0 1 0 2.80 0a1.40 1.40 0 1 0 -2.80 0M134.0 103.3a1.40 1.40 0 1 0 2.80 0a1.40 1.40 0 1 0 -2.80 0M135.0 102.8a1.40 1.40 0 1 0 2.80 0a1.40 1.40 0 1 0 -2.80 0M136.7 102.8a1.40 1.40 0 1 0 2.80 0a1.40 1.40 0 1 0 -2.80 0M138.3 103.2a1.40 1.40 0 1 0 2.80 0a1.40 1.40 0 1 0 -2.80 0M130.4 104.1a1.40 1.40 0 1 0 2.80 0a1.40 1.40 0 1 0 -2.80 0M131.2 104.3a1.40 1.40 0 1 0 2.80 0a1.40 1.40 0 1 0 -2.80 0M134.6 104.2a1.40 1.40 0 1 0 2.80 0a1.40 1.40 0 1 0 -2.80 0M135.0 103.8a1.40 1.40 0 1 0 2.80 0a1.40 1.40 0 1 0 -2.80 0M136.0 103.9a1.40 1.40 0 1 0 2.80 0a1.40 1.40 0 1 0 -2.80 0M138.3 103.7a1.40 1.40 0 1 0 2.80 0a1.40 1.40 0 1 0 -2.80 0M139.6 103.7a1.40 1.40 0 1 0 2.80 0a1.40 1.40 0 1 0 -2.80 0M132.2 105.2a1.40 1.40 0 1 0 2.80 0a1.40 1.40 0 1 0 -2.80 0M136.6 104.9a1.40 1.40 0 1 0 2.80 0a1.40 1.40 0 1 0 -2.80 0M137.1 105.3a1.40 1.40 0 1 0 2.80 0a1.40 1.40 0 1 0 -2.80 0M138.4 104.8a1.40 1.40 0 1 0 2.80 0a1.40 1.40 0 1 0 -2.80 0M139.2 105.1a1.40 1.40 0 1 0 2.80 0a1.40 1.40 0 1 0 -2.80 0M130.4 105.9a1.40 1.40 0 1 0 2.80 0a1.40 1.40 0 1 0 -2.80 0M131.6 105.9a1.40 1.40 0 1 0 2.80 0a1.40 1.40 0 1 0 -2.80 0M132.2 106.2a1.40 1.40 0 1 0 2.80 0a1.40 1.40 0 1 0 -2.80 0M133.5 106.0a1.40 1.40 0 1 0 2.80 0a1.40 1.40 0 1 0 -2.80 0M134.1 105.7a1.40 1.40 0 1 0 2.80 0a1.40 1.40 0 1 0 -2.80 0M135.2 106.0a1.40 1.40 0 1 0 2.80 0a1.40 1.40 0 1 0 -2.80 0M136.3 105.9a1.40 1.40 0 1 0 2.80 0a1.40 1.40 0 1 0 -2.80 0M137.3 106.3a1.40 1.40 0 1 0 2.80 0a1.40 1.40 0 1 0 -2.80 0M138.5 105.9a1.40 1.40 0 1 0 2.80 0a1.40 1.40 0 1 0 -2.80 0M140.6 106.0a1.40 1.40 0 1 0 2.80 0a1.40 1.40 0 1 0 -2.80 0M130.4 106.8a1.40 1.40 0 1 0 2.80 0a1.40 1.40 0 1 0 -2.80 0M131.4 107.3a1.40 1.40 0 1 0 2.80 0a1.40 1.40 0 1 0 -2.80 0M132.0 106.9a1.40 1.40 0 1 0 2.80 0a1.40 1.40 0 1 0 -2.80 0M134.4 106.9a1.40 1.40 0 1 0 2.80 0a1.40 1.40 0 1 0 -2.80 0M135.1 107.1a1.40 1.40 0 1 0 2.80 0a1.40 1.40 0 1 0 -2.80 0M138.3 107.0a1.40 1.40 0 1 0 2.80 0a1.40 1.40 0 1 0 -2.80 0M131.2 108.1a1.40 1.40 0 1 0 2.80 0a1.40 1.40 0 1 0 -2.80 0M132.2 107.8a1.40 1.40 0 1 0 2.80 0a1.40 1.40 0 1 0 -2.80 0M133.3 108.0a1.40 1.40 0 1 0 2.80 0a1.40 1.40 0 1 0 -2.80 0M134.3 108.0a1.40 1.40 0 1 0 2.80 0a1.40 1.40 0 1 0 -2.80 0M135.3 108.3a1.40 1.40 0 1 0 2.80 0a1.40 1.40 0 1 0 -2.80 0M136.2 108.3a1.40 1.40 0 1 0 2.80 0a1.40 1.40 0 1 0 -2.80 0M137.1 108.2a1.40 1.40 0 1 0 2.80 0a1.40 1.40 0 1 0 -2.80 0M131.6 109.0a1.40 1.40 0 1 0 2.80 0a1.40 1.40 0 1 0 -2.80 0M132.5 109.1a1.40 1.40 0 1 0 2.80 0a1.40 1.40 0 1 0 -2.80 0M136.6 108.7a1.40 1.40 0 1 0 2.80 0a1.40 1.40 0 1 0 -2.80 0M138.0 109.2a1.40 1.40 0 1 0 2.80 0a1.40 1.40 0 1 0 -2.80 0M139.2 109.3a1.40 1.40 0 1 0 2.80 0a1.40 1.40 0 1 0 -2.80 0M130.3 109.7a1.40 1.40 0 1 0 2.80 0a1.40 1.40 0 1 0 -2.80 0M131.4 110.0a1.40 1.40 0 1 0 2.80 0a1.40 1.40 0 1 0 -2.80 0M132.4 110.2a1.40 1.40 0 1 0 2.80 0a1.40 1.40 0 1 0 -2.80 0M134.5 110.2a1.40 1.40 0 1 0 2.80 0a1.40 1.40 0 1 0 -2.80 0M135.1 109.7a1.40 1.40 0 1 0 2.80 0a1.40 1.40 0 1 0 -2.80 0M136.1 110.3a1.40 1.40 0 1 0 2.80 0a1.40 1.40 0 1 0 -2.80 0M138.0 109.9a1.40 1.40 0 1 0 2.80 0a1.40 1.40 0 1 0 -2.80 0M131.5 110.8a1.40 1.40 0 1 0 2.80 0a1.40 1.40 0 1 0 -2.80 0M132.4 111.2a1.40 1.40 0 1 0 2.80 0a1.40 1.40 0 1 0 -2.80 0M133.3 111.0a1.40 1.40 0 1 0 2.80 0a1.40 1.40 0 1 0 -2.80 0M134.1 110.9a1.40 1.40 0 1 0 2.80 0a1.40 1.40 0 1 0 -2.80 0M135.0 111.1a1.40 1.40 0 1 0 2.80 0a1.40 1.40 0 1 0 -2.80 0M136.0 110.7a1.40 1.40 0 1 0 2.80 0a1.40 1.40 0 1 0 -2.80 0M137.2 110.7a1.40 1.40 0 1 0 2.80 0a1.40 1.40 0 1 0 -2.80 0M138.5 111.1a1.40 1.40 0 1 0 2.80 0a1.40 1.40 0 1 0 -2.80 0M139.0 111.3a1.40 1.40 0 1 0 2.80 0a1.40 1.40 0 1 0 -2.80 0M140.3 110.9a1.40 1.40 0 1 0 2.80 0a1.40 1.40 0 1 0 -2.80 0M129.9 112.1a1.40 1.40 0 1 0 2.80 0a1.40 1.40 0 1 0 -2.80 0M131.4 111.9a1.40 1.40 0 1 0 2.80 0a1.40 1.40 0 1 0 -2.80 0M132.2 112.3a1.40 1.40 0 1 0 2.80 0a1.40 1.40 0 1 0 -2.80 0M133.3 111.8a1.40 1.40 0 1 0 2.80 0a1.40 1.40 0 1 0 -2.80 0M134.0 112.3a1.40 1.40 0 1 0 2.80 0a1.40 1.40 0 1 0 -2.80 0M135.4 112.1a1.40 1.40 0 1 0 2.80 0a1.40 1.40 0 1 0 -2.80 0M136.5 111.9a1.40 1.40 0 1 0 2.80 0a1.40 1.40 0 1 0 -2.80 0M137.2 112.0a1.40 1.40 0 1 0 2.80 0a1.40 1.40 0 1 0 -2.80 0M138.1 111.8a1.40 1.40 0 1 0 2.80 0a1.40 1.40 0 1 0 -2.80 0M139.5 111.9a1.40 1.40 0 1 0 2.80 0a1.40 1.40 0 1 0 -2.80 0M130.0 112.9a1.40 1.40 0 1 0 2.80 0a1.40 1.40 0 1 0 -2.80 0M131.4 112.8a1.40 1.40 0 1 0 2.80 0a1.40 1.40 0 1 0 -2.80 0M132.0 113.2a1.40 1.40 0 1 0 2.80 0a1.40 1.40 0 1 0 -2.80 0M134.2 112.7a1.40 1.40 0 1 0 2.80 0a1.40 1.40 0 1 0 -2.80 0M136.0 112.9a1.40 1.40 0 1 0 2.80 0a1.40 1.40 0 1 0 -2.80 0M137.3 112.9a1.40 1.40 0 1 0 2.80 0a1.40 1.40 0 1 0 -2.80 0M140.2 113.0a1.40 1.40 0 1 0 2.80 0a1.40 1.40 0 1 0 -2.80 0M141.1 112.9a1.40 1.40 0 1 0 2.80 0a1.40 1.40 0 1 0 -2.80 0M130.4 114.3a1.40 1.40 0 1 0 2.80 0a1.40 1.40 0 1 0 -2.80 0M132.4 114.1a1.40 1.40 0 1 0 2.80 0a1.40 1.40 0 1 0 -2.80 0M133.5 113.7a1.40 1.40 0 1 0 2.80 0a1.40 1.40 0 1 0 -2.80 0M134.1 114.1a1.40 1.40 0 1 0 2.80 0a1.40 1.40 0 1 0 -2.80 0M135.5 113.8a1.40 1.40 0 1 0 2.80 0a1.40 1.40 0 1 0 -2.80 0M135.9 113.9a1.40 1.40 0 1 0 2.80 0a1.40 1.40 0 1 0 -2.80 0M136.8 113.8a1.40 1.40 0 1 0 2.80 0a1.40 1.40 0 1 0 -2.80 0M138.2 114.2a1.40 1.40 0 1 0 2.80 0a1.40 1.40 0 1 0 -2.80 0M139.3 114.2a1.40 1.40 0 1 0 2.80 0a1.40 1.40 0 1 0 -2.80 0M141.1 113.7a1.40 1.40 0 1 0 2.80 0a1.40 1.40 0 1 0 -2.80 0M132.0 115.0a1.40 1.40 0 1 0 2.80 0a1.40 1.40 0 1 0 -2.80 0M132.8 115.2a1.40 1.40 0 1 0 2.80 0a1.40 1.40 0 1 0 -2.80 0M134.1 114.7a1.40 1.40 0 1 0 2.80 0a1.40 1.40 0 1 0 -2.80 0M134.8 114.7a1.40 1.40 0 1 0 2.80 0a1.40 1.40 0 1 0 -2.80 0M136.0 115.2a1.40 1.40 0 1 0 2.80 0a1.40 1.40 0 1 0 -2.80 0M137.0 114.7a1.40 1.40 0 1 0 2.80 0a1.40 1.40 0 1 0 -2.80 0M138.1 115.0a1.40 1.40 0 1 0 2.80 0a1.40 1.40 0 1 0 -2.80 0M139.3 114.7a1.40 1.40 0 1 0 2.80 0a1.40 1.40 0 1 0 -2.80 0M141.4 115.0a1.40 1.40 0 1 0 2.80 0a1.40 1.40 0 1 0 -2.80 0M142.2 115.3a1.40 1.40 0 1 0 2.80 0a1.40 1.40 0 1 0 -2.80 0M129.8 116.2a1.40 1.40 0 1 0 2.80 0a1.40 1.40 0 1 0 -2.80 0M131.2 115.8a1.40 1.40 0 1 0 2.80 0a1.40 1.40 0 1 0 -2.80 0M131.7 115.7a1.40 1.40 0 1 0 2.80 0a1.40 1.40 0 1 0 -2.80 0M133.4 116.1a1.40 1.40 0 1 0 2.80 0a1.40 1.40 0 1 0 -2.80 0M135.0 115.7a1.40 1.40 0 1 0 2.80 0a1.40 1.40 0 1 0 -2.80 0M135.8 116.3a1.40 1.40 0 1 0 2.80 0a1.40 1.40 0 1 0 -2.80 0M137.1 116.1a1.40 1.40 0 1 0 2.80 0a1.40 1.40 0 1 0 -2.80 0M140.1 116.3a1.40 1.40 0 1 0 2.80 0a1.40 1.40 0 1 0 -2.80 0M130.2 116.8a1.40 1.40 0 1 0 2.80 0a1.40 1.40 0 1 0 -2.80 0M131.0 117.0a1.40 1.40 0 1 0 2.80 0a1.40 1.40 0 1 0 -2.80 0M132.0 117.0a1.40 1.40 0 1 0 2.80 0a1.40 1.40 0 1 0 -2.80 0M133.3 116.7a1.40 1.40 0 1 0 2.80 0a1.40 1.40 0 1 0 -2.80 0M134.1 116.9a1.40 1.40 0 1 0 2.80 0a1.40 1.40 0 1 0 -2.80 0M134.8 116.9a1.40 1.40 0 1 0 2.80 0a1.40 1.40 0 1 0 -2.80 0M136.0 116.8a1.40 1.40 0 1 0 2.80 0a1.40 1.40 0 1 0 -2.80 0M137.1 116.7a1.40 1.40 0 1 0 2.80 0a1.40 1.40 0 1 0 -2.80 0M138.4 116.7a1.40 1.40 0 1 0 2.80 0a1.40 1.40 0 1 0 -2.80 0M139.4 116.9a1.40 1.40 0 1 0 2.80 0a1.40 1.40 0 1 0 -2.80 0M140.0 116.9a1.40 1.40 0 1 0 2.80 0a1.40 1.40 0 1 0 -2.80 0M129.9 118.0a1.40 1.40 0 1 0 2.80 0a1.40 1.40 0 1 0 -2.80 0M131.2 117.7a1.40 1.40 0 1 0 2.80 0a1.40 1.40 0 1 0 -2.80 0M131.9 117.8a1.40 1.40 0 1 0 2.80 0a1.40 1.40 0 1 0 -2.80 0M134.3 117.9a1.40 1.40 0 1 0 2.80 0a1.40 1.40 0 1 0 -2.80 0M135.2 117.7a1.40 1.40 0 1 0 2.80 0a1.40 1.40 0 1 0 -2.80 0M137.9 118.2a1.40 1.40 0 1 0 2.80 0a1.40 1.40 0 1 0 -2.80 0M139.7 118.2a1.40 1.40 0 1 0 2.80 0a1.40 1.40 0 1 0 -2.80 0M141.1 118.0a1.40 1.40 0 1 0 2.80 0a1.40 1.40 0 1 0 -2.80 0M129.7 119.3a1.40 1.40 0 1 0 2.80 0a1.40 1.40 0 1 0 -2.80 0M131.7 119.2a1.40 1.40 0 1 0 2.80 0a1.40 1.40 0 1 0 -2.80 0M133.1 119.3a1.40 1.40 0 1 0 2.80 0a1.40 1.40 0 1 0 -2.80 0M135.2 119.0a1.40 1.40 0 1 0 2.80 0a1.40 1.40 0 1 0 -2.80 0M137.0 119.0a1.40 1.40 0 1 0 2.80 0a1.40 1.40 0 1 0 -2.80 0M137.9 119.2a1.40 1.40 0 1 0 2.80 0a1.40 1.40 0 1 0 -2.80 0M138.8 119.2a1.40 1.40 0 1 0 2.80 0a1.40 1.40 0 1 0 -2.80 0M140.1 118.7a1.40 1.40 0 1 0 2.80 0a1.40 1.40 0 1 0 -2.80 0M140.9 119.3a1.40 1.40 0 1 0 2.80 0a1.40 1.40 0 1 0 -2.80 0M142.3 118.8a1.40 1.40 0 1 0 2.80 0a1.40 1.40 0 1 0 -2.80 0M143.0 119.2a1.40 1.40 0 1 0 2.80 0a1.40 1.40 0 1 0 -2.80 0M144.3 119.0a1.40 1.40 0 1 0 2.80 0a1.40 1.40 0 1 0 -2.80 0M129.9 120.1a1.40 1.40 0 1 0 2.80 0a1.40 1.40 0 1 0 -2.80 0M132.1 119.9a1.40 1.40 0 1 0 2.80 0a1.40 1.40 0 1 0 -2.80 0M134.2 119.8a1.40 1.40 0 1 0 2.80 0a1.40 1.40 0 1 0 -2.80 0M134.8 119.9a1.40 1.40 0 1 0 2.80 0a1.40 1.40 0 1 0 -2.80 0M135.9 120.1a1.40 1.40 0 1 0 2.80 0a1.40 1.40 0 1 0 -2.80 0M136.9 120.1a1.40 1.40 0 1 0 2.80 0a1.40 1.40 0 1 0 -2.80 0M139.1 120.0a1.40 1.40 0 1 0 2.80 0a1.40 1.40 0 1 0 -2.80 0M156.8 107.4a1.40 1.40 0 1 0 2.80 0a1.40 1.40 0 1 0 -2.80 0M142.3 106.9a1.40 1.40 0 1 0 2.80 0a1.40 1.40 0 1 0 -2.80 0M145.9 111.3a1.40 1.40 0 1 0 2.80 0a1.40 1.40 0 1 0 -2.80 0M149.6 114.9a1.40 1.40 0 1 0 2.80 0a1.40 1.40 0 1 0 -2.80 0M140.8 114.2a1.40 1.40 0 1 0 2.80 0a1.40 1.40 0 1 0 -2.80 0M139.4 102.6a1.40 1.40 0 1 0 2.80 0a1.40 1.40 0 1 0 -2.80 0M140.6 95.0a1.40 1.40 0 1 0 2.80 0a1.40 1.40 0 1 0 -2.80 0M140.1 88.0a1.40 1.40 0 1 0 2.80 0a1.40 1.40 0 1 0 -2.80 0M141.6 118.0a1.40 1.40 0 1 0 2.80 0a1.40 1.40 0 1 0 -2.80 0M144.1 119.0a1.40 1.40 0 1 0 2.80 0a1.40 1.40 0 1 0 -2.80 0M139.6 110.0a1.40 1.40 0 1 0 2.80 0a1.40 1.40 0 1 0 -2.80 0M140.6 84.0a1.40 1.40 0 1 0 2.80 0a1.40 1.40 0 1 0 -2.80 0M364.5 42.0a1.60 1.60 0 1 0 3.20 0a1.60 1.60 0 1 0 -3.20 0M365.3 42.1a1.60 1.60 0 1 0 3.20 0a1.60 1.60 0 1 0 -3.20 0M366.1 41.9a1.60 1.60 0 1 0 3.20 0a1.60 1.60 0 1 0 -3.20 0M366.9 42.6a1.60 1.60 0 1 0 3.20 0a1.60 1.60 0 1 0 -3.20 0M367.7 42.2a1.60 1.60 0 1 0 3.20 0a1.60 1.60 0 1 0 -3.20 0M368.5 42.0a1.60 1.60 0 1 0 3.20 0a1.60 1.60 0 1 0 -3.20 0M369.3 42.2a1.60 1.60 0 1 0 3.20 0a1.60 1.60 0 1 0 -3.20 0M370.1 42.1a1.60 1.60 0 1 0 3.20 0a1.60 1.60 0 1 0 -3.20 0M370.9 42.2a1.60 1.60 0 1 0 3.20 0a1.60 1.60 0 1 0 -3.20 0M371.7 42.4a1.60 1.60 0 1 0 3.20 0a1.60 1.60 0 1 0 -3.20 0M372.5 42.4a1.60 1.60 0 1 0 3.20 0a1.60 1.60 0 1 0 -3.20 0M373.3 42.0a1.60 1.60 0 1 0 3.20 0a1.60 1.60 0 1 0 -3.20 0M374.1 42.3a1.60 1.60 0 1 0 3.20 0a1.60 1.60 0 1 0 -3.20 0M374.9 41.9a1.60 1.60 0 1 0 3.20 0a1.60 1.60 0 1 0 -3.20 0M375.7 42.3a1.60 1.60 0 1 0 3.20 0a1.60 1.60 0 1 0 -3.20 0M376.5 42.5a1.60 1.60 0 1 0 3.20 0a1.60 1.60 0 1 0 -3.20 0M377.3 42.1a1.60 1.60 0 1 0 3.20 0a1.60 1.60 0 1 0 -3.20 0M378.1 42.6a1.60 1.60 0 1 0 3.20 0a1.60 1.60 0 1 0 -3.20 0M378.9 42.1a1.60 1.60 0 1 0 3.20 0a1.60 1.60 0 1 0 -3.20 0M379.7 42.2a1.60 1.60 0 1 0 3.20 0a1.60 1.60 0 1 0 -3.20 0M380.5 42.5a1.60 1.60 0 1 0 3.20 0a1.60 1.60 0 1 0 -3.20 0M381.3 41.9a1.60 1.60 0 1 0 3.20 0a1.60 1.60 0 1 0 -3.20 0M382.1 42.3a1.60 1.60 0 1 0 3.20 0a1.60 1.60 0 1 0 -3.20 0M382.9 42.3a1.60 1.60 0 1 0 3.20 0a1.60 1.60 0 1 0 -3.20 0M383.7 42.5a1.60 1.60 0 1 0 3.20 0a1.60 1.60 0 1 0 -3.20 0M364.9 43.0a1.60 1.60 0 1 0 3.20 0a1.60 1.60 0 1 0 -3.20 0M365.6 42.6a1.60 1.60 0 1 0 3.20 0a1.60 1.60 0 1 0 -3.20 0M366.3 41.9a1.60 1.60 0 1 0 3.20 0a1.60 1.60 0 1 0 -3.20 0M367.0 41.8a1.60 1.60 0 1 0 3.20 0a1.60 1.60 0 1 0 -3.20 0M367.7 42.3a1.60 1.60 0 1 0 3.20 0a1.60 1.60 0 1 0 -3.20 0M368.4 42.0a1.60 1.60 0 1 0 3.20 0a1.60 1.60 0 1 0 -3.20 0M369.1 42.4a1.60 1.60 0 1 0 3.20 0a1.60 1.60 0 1 0 -3.20 0M369.8 41.6a1.60 1.60 0 1 0 3.20 0a1.60 1.60 0 1 0 -3.20 0M370.5 42.6a1.60 1.60 0 1 0 3.20 0a1.60 1.60 0 1 0 -3.20 0M371.2 42.2a1.60 1.60 0 1 0 3.20 0a1.60 1.60 0 1 0 -3.20 0M371.9 41.6a1.60 1.60 0 1 0 3.20 0a1.60 1.60 0 1 0 -3.20 0M372.6 41.7a1.60 1.60 0 1 0 3.20 0a1.60 1.60 0 1 0 -3.20 0M373.3 43.0a1.60 1.60 0 1 0 3.20 0a1.60 1.60 0 1 0 -3.20 0M374.0 42.9a1.60 1.60 0 1 0 3.20 0a1.60 1.60 0 1 0 -3.20 0M374.7 42.9a1.60 1.60 0 1 0 3.20 0a1.60 1.60 0 1 0 -3.20 0M375.4 42.1a1.60 1.60 0 1 0 3.20 0a1.60 1.60 0 1 0 -3.20 0M376.1 43.1a1.60 1.60 0 1 0 3.20 0a1.60 1.60 0 1 0 -3.20 0M376.8 41.8a1.60 1.60 0 1 0 3.20 0a1.60 1.60 0 1 0 -3.20 0M377.5 42.7a1.60 1.60 0 1 0 3.20 0a1.60 1.60 0 1 0 -3.20 0M378.2 43.0a1.60 1.60 0 1 0 3.20 0a1.60 1.60 0 1 0 -3.20 0M378.9 41.8a1.60 1.60 0 1 0 3.20 0a1.60 1.60 0 1 0 -3.20 0M379.6 41.5a1.60 1.60 0 1 0 3.20 0a1.60 1.60 0 1 0 -3.20 0M388.8 42.3a1.40 1.40 0 1 0 2.80 0a1.40 1.40 0 1 0 -2.80 0M364.2 59.2a1.60 1.60 0 1 0 3.20 0a1.60 1.60 0 1 0 -3.20 0M365.0 58.6a1.60 1.60 0 1 0 3.20 0a1.60 1.60 0 1 0 -3.20 0M365.8 58.7a1.60 1.60 0 1 0 3.20 0a1.60 1.60 0 1 0 -3.20 0M366.6 58.6a1.60 1.60 0 1 0 3.20 0a1.60 1.60 0 1 0 -3.20 0M367.4 58.9a1.60 1.60 0 1 0 3.20 0a1.60 1.60 0 1 0 -3.20 0M368.2 58.5a1.60 1.60 0 1 0 3.20 0a1.60 1.60 0 1 0 -3.20 0M369.0 59.2a1.60 1.60 0 1 0 3.20 0a1.60 1.60 0 1 0 -3.20 0M369.8 59.0a1.60 1.60 0 1 0 3.20 0a1.60 1.60 0 1 0 -3.20 0M370.6 59.1a1.60 1.60 0 1 0 3.20 0a1.60 1.60 0 1 0 -3.20 0M371.4 58.9a1.60 1.60 0 1 0 3.20 0a1.60 1.60 0 1 0 -3.20 0M372.2 59.2a1.60 1.60 0 1 0 3.20 0a1.60 1.60 0 1 0 -3.20 0M373.0 59.2a1.60 1.60 0 1 0 3.20 0a1.60 1.60 0 1 0 -3.20 0M373.8 59.2a1.60 1.60 0 1 0 3.20 0a1.60 1.60 0 1 0 -3.20 0M364.3 68.4a1.60 1.60 0 1 0 3.20 0a1.60 1.60 0 1 0 -3.20 0M365.1 68.2a1.60 1.60 0 1 0 3.20 0a1.60 1.60 0 1 0 -3.20 0M365.9 68.3a1.60 1.60 0 1 0 3.20 0a1.60 1.60 0 1 0 -3.20 0M366.7 68.3a1.60 1.60 0 1 0 3.20 0a1.60 1.60 0 1 0 -3.20 0M367.5 67.8a1.60 1.60 0 1 0 3.20 0a1.60 1.60 0 1 0 -3.20 0M368.3 68.1a1.60 1.60 0 1 0 3.20 0a1.60 1.60 0 1 0 -3.20 0M369.1 67.7a1.60 1.60 0 1 0 3.20 0a1.60 1.60 0 1 0 -3.20 0M369.9 68.1a1.60 1.60 0 1 0 3.20 0a1.60 1.60 0 1 0 -3.20 0M370.7 68.4a1.60 1.60 0 1 0 3.20 0a1.60 1.60 0 1 0 -3.20 0M371.5 68.0a1.60 1.60 0 1 0 3.20 0a1.60 1.60 0 1 0 -3.20 0M372.3 67.7a1.60 1.60 0 1 0 3.20 0a1.60 1.60 0 1 0 -3.20 0M364.1 74.1a1.60 1.60 0 1 0 3.20 0a1.60 1.60 0 1 0 -3.20 0M364.9 74.1a1.60 1.60 0 1 0 3.20 0a1.60 1.60 0 1 0 -3.20 0M365.7 73.7a1.60 1.60 0 1 0 3.20 0a1.60 1.60 0 1 0 -3.20 0M366.5 74.3a1.60 1.60 0 1 0 3.20 0a1.60 1.60 0 1 0 -3.20 0M367.3 74.2a1.60 1.60 0 1 0 3.20 0a1.60 1.60 0 1 0 -3.20 0M368.1 74.0a1.60 1.60 0 1 0 3.20 0a1.60 1.60 0 1 0 -3.20 0M368.9 73.8a1.60 1.60 0 1 0 3.20 0a1.60 1.60 0 1 0 -3.20 0M369.7 74.1a1.60 1.60 0 1 0 3.20 0a1.60 1.60 0 1 0 -3.20 0M370.5 73.8a1.60 1.60 0 1 0 3.20 0a1.60 1.60 0 1 0 -3.20 0M371.3 73.8a1.60 1.60 0 1 0 3.20 0a1.60 1.60 0 1 0 -3.20 0M372.1 73.8a1.60 1.60 0 1 0 3.20 0a1.60 1.60 0 1 0 -3.20 0M372.9 74.0a1.60 1.60 0 1 0 3.20 0a1.60 1.60 0 1 0 -3.20 0M364.1 78.9a1.60 1.60 0 1 0 3.20 0a1.60 1.60 0 1 0 -3.20 0M364.9 79.3a1.60 1.60 0 1 0 3.20 0a1.60 1.60 0 1 0 -3.20 0M365.7 79.4a1.60 1.60 0 1 0 3.20 0a1.60 1.60 0 1 0 -3.20 0M366.5 79.1a1.60 1.60 0 1 0 3.20 0a1.60 1.60 0 1 0 -3.20 0M367.3 78.8a1.60 1.60 0 1 0 3.20 0a1.60 1.60 0 1 0 -3.20 0M368.1 78.6a1.60 1.60 0 1 0 3.20 0a1.60 1.60 0 1 0 -3.20 0M368.9 79.0a1.60 1.60 0 1 0 3.20 0a1.60 1.60 0 1 0 -3.20 0M369.7 78.9a1.60 1.60 0 1 0 3.20 0a1.60 1.60 0 1 0 -3.20 0M370.5 79.3a1.60 1.60 0 1 0 3.20 0a1.60 1.60 0 1 0 -3.20 0M371.3 78.8a1.60 1.60 0 1 0 3.20 0a1.60 1.60 0 1 0 -3.20 0M372.1 78.8a1.60 1.60 0 1 0 3.20 0a1.60 1.60 0 1 0 -3.20 0M372.9 78.6a1.60 1.60 0 1 0 3.20 0a1.60 1.60 0 1 0 -3.20 0M373.7 78.6a1.60 1.60 0 1 0 3.20 0a1.60 1.60 0 1 0 -3.20 0M378.2 79.0a1.40 1.40 0 1 0 2.80 0a1.40 1.40 0 1 0 -2.80 0M365.0 81.1a1.40 1.40 0 1 0 2.80 0a1.40 1.40 0 1 0 -2.80 0M365.9 80.8a1.40 1.40 0 1 0 2.80 0a1.40 1.40 0 1 0 -2.80 0M366.6 80.7a1.40 1.40 0 1 0 2.80 0a1.40 1.40 0 1 0 -2.80 0M367.6 81.3a1.40 1.40 0 1 0 2.80 0a1.40 1.40 0 1 0 -2.80 0M370.2 81.1a1.40 1.40 0 1 0 2.80 0a1.40 1.40 0 1 0 -2.80 0M370.8 80.9a1.40 1.40 0 1 0 2.80 0a1.40 1.40 0 1 0 -2.80 0M364.7 81.7a1.40 1.40 0 1 0 2.80 0a1.40 1.40 0 1 0 -2.80 0M365.9 81.8a1.40 1.40 0 1 0 2.80 0a1.40 1.40 0 1 0 -2.80 0M369.1 81.9a1.40 1.40 0 1 0 2.80 0a1.40 1.40 0 1 0 -2.80 0M370.1 81.9a1.40 1.40 0 1 0 2.80 0a1.40 1.40 0 1 0 -2.80 0M370.8 81.8a1.40 1.40 0 1 0 2.80 0a1.40 1.40 0 1 0 -2.80 0M365.0 82.8a1.40 1.40 0 1 0 2.80 0a1.40 1.40 0 1 0 -2.80 0M366.1 83.1a1.40 1.40 0 1 0 2.80 0a1.40 1.40 0 1 0 -2.80 0M368.0 83.2a1.40 1.40 0 1 0 2.80 0a1.40 1.40 0 1 0 -2.80 0M369.2 83.1a1.40 1.40 0 1 0 2.80 0a1.40 1.40 0 1 0 -2.80 0M369.9 83.0a1.40 1.40 0 1 0 2.80 0a1.40 1.40 0 1 0 -2.80 0M364.9 83.9a1.40 1.40 0 1 0 2.80 0a1.40 1.40 0 1 0 -2.80 0M366.0 83.7a1.40 1.40 0 1 0 2.80 0a1.40 1.40 0 1 0 -2.80 0M367.0 83.9a1.40 1.40 0 1 0 2.80 0a1.40 1.40 0 1 0 -2.80 0M367.9 83.7a1.40 1.40 0 1 0 2.80 0a1.40 1.40 0 1 0 -2.80 0M369.2 83.7a1.40 1.40 0 1 0 2.80 0a1.40 1.40 0 1 0 -2.80 0M370.0 84.1a1.40 1.40 0 1 0 2.80 0a1.40 1.40 0 1 0 -2.80 0M370.9 84.3a1.40 1.40 0 1 0 2.80 0a1.40 1.40 0 1 0 -2.80 0M365.1 85.1a1.40 1.40 0 1 0 2.80 0a1.40 1.40 0 1 0 -2.80 0M367.7 84.8a1.40 1.40 0 1 0 2.80 0a1.40 1.40 0 1 0 -2.80 0M370.9 85.3a1.40 1.40 0 1 0 2.80 0a1.40 1.40 0 1 0 -2.80 0M371.9 85.3a1.40 1.40 0 1 0 2.80 0a1.40 1.40 0 1 0 -2.80 0M374.2 84.9a1.40 1.40 0 1 0 2.80 0a1.40 1.40 0 1 0 -2.80 0M364.7 85.9a1.40 1.40 0 1 0 2.80 0a1.40 1.40 0 1 0 -2.80 0M367.2 85.7a1.40 1.40 0 1 0 2.80 0a1.40 1.40 0 1 0 -2.80 0M368.0 86.3a1.40 1.40 0 1 0 2.80 0a1.40 1.40 0 1 0 -2.80 0M368.7 85.7a1.40 1.40 0 1 0 2.80 0a1.40 1.40 0 1 0 -2.80 0M369.7 86.0a1.40 1.40 0 1 0 2.80 0a1.40 1.40 0 1 0 -2.80 0M370.6 85.7a1.40 1.40 0 1 0 2.80 0a1.40 1.40 0 1 0 -2.80 0M372.1 85.7a1.40 1.40 0 1 0 2.80 0a1.40 1.40 0 1 0 -2.80 0M365.9 87.2a1.40 1.40 0 1 0 2.80 0a1.40 1.40 0 1 0 -2.80 0M367.1 87.2a1.40 1.40 0 1 0 2.80 0a1.40 1.40 0 1 0 -2.80 0M367.8 87.0a1.40 1.40 0 1 0 2.80 0a1.40 1.40 0 1 0 -2.80 0M369.6 87.1a1.40 1.40 0 1 0 2.80 0a1.40 1.40 0 1 0 -2.80 0M371.7 87.0a1.40 1.40 0 1 0 2.80 0a1.40 1.40 0 1 0 -2.80 0M365.0 87.7a1.40 1.40 0 1 0 2.80 0a1.40 1.40 0 1 0 -2.80 0M365.9 88.2a1.40 1.40 0 1 0 2.80 0a1.40 1.40 0 1 0 -2.80 0M366.6 87.9a1.40 1.40 0 1 0 2.80 0a1.40 1.40 0 1 0 -2.80 0M367.7 87.8a1.40 1.40 0 1 0 2.80 0a1.40 1.40 0 1 0 -2.80 0M369.0 88.3a1.40 1.40 0 1 0 2.80 0a1.40 1.40 0 1 0 -2.80 0M370.2 87.7a1.40 1.40 0 1 0 2.80 0a1.40 1.40 0 1 0 -2.80 0M370.8 88.2a1.40 1.40 0 1 0 2.80 0a1.40 1.40 0 1 0 -2.80 0M371.9 88.3a1.40 1.40 0 1 0 2.80 0a1.40 1.40 0 1 0 -2.80 0M364.6 89.0a1.40 1.40 0 1 0 2.80 0a1.40 1.40 0 1 0 -2.80 0M366.0 88.9a1.40 1.40 0 1 0 2.80 0a1.40 1.40 0 1 0 -2.80 0M367.1 88.7a1.40 1.40 0 1 0 2.80 0a1.40 1.40 0 1 0 -2.80 0M367.9 88.7a1.40 1.40 0 1 0 2.80 0a1.40 1.40 0 1 0 -2.80 0M369.0 88.7a1.40 1.40 0 1 0 2.80 0a1.40 1.40 0 1 0 -2.80 0M369.6 89.0a1.40 1.40 0 1 0 2.80 0a1.40 1.40 0 1 0 -2.80 0M370.7 89.0a1.40 1.40 0 1 0 2.80 0a1.40 1.40 0 1 0 -2.80 0M365.2 89.9a1.40 1.40 0 1 0 2.80 0a1.40 1.40 0 1 0 -2.80 0M365.7 90.2a1.40 1.40 0 1 0 2.80 0a1.40 1.40 0 1 0 -2.80 0M366.7 89.8a1.40 1.40 0 1 0 2.80 0a1.40 1.40 0 1 0 -2.80 0M368.1 90.0a1.40 1.40 0 1 0 2.80 0a1.40 1.40 0 1 0 -2.80 0M369.9 89.8a1.40 1.40 0 1 0 2.80 0a1.40 1.40 0 1 0 -2.80 0M371.0 89.7a1.40 1.40 0 1 0 2.80 0a1.40 1.40 0 1 0 -2.80 0M371.7 89.9a1.40 1.40 0 1 0 2.80 0a1.40 1.40 0 1 0 -2.80 0M364.9 90.7a1.40 1.40 0 1 0 2.80 0a1.40 1.40 0 1 0 -2.80 0M365.7 90.8a1.40 1.40 0 1 0 2.80 0a1.40 1.40 0 1 0 -2.80 0M368.1 90.7a1.40 1.40 0 1 0 2.80 0a1.40 1.40 0 1 0 -2.80 0M368.7 91.0a1.40 1.40 0 1 0 2.80 0a1.40 1.40 0 1 0 -2.80 0M364.7 92.0a1.40 1.40 0 1 0 2.80 0a1.40 1.40 0 1 0 -2.80 0M365.7 91.7a1.40 1.40 0 1 0 2.80 0a1.40 1.40 0 1 0 -2.80 0M367.7 91.8a1.40 1.40 0 1 0 2.80 0a1.40 1.40 0 1 0 -2.80 0M369.8 91.8a1.40 1.40 0 1 0 2.80 0a1.40 1.40 0 1 0 -2.80 0M371.2 92.1a1.40 1.40 0 1 0 2.80 0a1.40 1.40 0 1 0 -2.80 0M365.2 93.3a1.40 1.40 0 1 0 2.80 0a1.40 1.40 0 1 0 -2.80 0M365.6 92.7a1.40 1.40 0 1 0 2.80 0a1.40 1.40 0 1 0 -2.80 0M366.8 93.3a1.40 1.40 0 1 0 2.80 0a1.40 1.40 0 1 0 -2.80 0M370.2 93.1a1.40 1.40 0 1 0 2.80 0a1.40 1.40 0 1 0 -2.80 0M370.6 93.3a1.40 1.40 0 1 0 2.80 0a1.40 1.40 0 1 0 -2.80 0M372.0 93.1a1.40 1.40 0 1 0 2.80 0a1.40 1.40 0 1 0 -2.80 0M373.1 92.9a1.40 1.40 0 1 0 2.80 0a1.40 1.40 0 1 0 -2.80 0M364.8 94.0a1.40 1.40 0 1 0 2.80 0a1.40 1.40 0 1 0 -2.80 0M368.1 93.8a1.40 1.40 0 1 0 2.80 0a1.40 1.40 0 1 0 -2.80 0M368.7 93.7a1.40 1.40 0 1 0 2.80 0a1.40 1.40 0 1 0 -2.80 0M369.5 94.3a1.40 1.40 0 1 0 2.80 0a1.40 1.40 0 1 0 -2.80 0M371.5 93.8a1.40 1.40 0 1 0 2.80 0a1.40 1.40 0 1 0 -2.80 0M372.7 93.7a1.40 1.40 0 1 0 2.80 0a1.40 1.40 0 1 0 -2.80 0M373.9 93.7a1.40 1.40 0 1 0 2.80 0a1.40 1.40 0 1 0 -2.80 0M365.0 94.9a1.40 1.40 0 1 0 2.80 0a1.40 1.40 0 1 0 -2.80 0M367.0 94.7a1.40 1.40 0 1 0 2.80 0a1.40 1.40 0 1 0 -2.80 0M368.6 95.2a1.40 1.40 0 1 0 2.80 0a1.40 1.40 0 1 0 -2.80 0M371.1 95.3a1.40 1.40 0 1 0 2.80 0a1.40 1.40 0 1 0 -2.80 0M372.0 95.2a1.40 1.40 0 1 0 2.80 0a1.40 1.40 0 1 0 -2.80 0M364.7 96.2a1.40 1.40 0 1 0 2.80 0a1.40 1.40 0 1 0 -2.80 0M366.1 95.7a1.40 1.40 0 1 0 2.80 0a1.40 1.40 0 1 0 -2.80 0M367.0 95.8a1.40 1.40 0 1 0 2.80 0a1.40 1.40 0 1 0 -2.80 0M368.1 96.2a1.40 1.40 0 1 0 2.80 0a1.40 1.40 0 1 0 -2.80 0M368.7 96.0a1.40 1.40 0 1 0 2.80 0a1.40 1.40 0 1 0 -2.80 0M371.0 96.1a1.40 1.40 0 1 0 2.80 0a1.40 1.40 0 1 0 -2.80 0M372.1 96.1a1.40 1.40 0 1 0 2.80 0a1.40 1.40 0 1 0 -2.80 0M364.7 97.0a1.40 1.40 0 1 0 2.80 0a1.40 1.40 0 1 0 -2.80 0M366.2 97.3a1.40 1.40 0 1 0 2.80 0a1.40 1.40 0 1 0 -2.80 0M369.0 96.7a1.40 1.40 0 1 0 2.80 0a1.40 1.40 0 1 0 -2.80 0M369.8 96.7a1.40 1.40 0 1 0 2.80 0a1.40 1.40 0 1 0 -2.80 0M371.6 96.7a1.40 1.40 0 1 0 2.80 0a1.40 1.40 0 1 0 -2.80 0M365.1 98.1a1.40 1.40 0 1 0 2.80 0a1.40 1.40 0 1 0 -2.80 0M365.6 97.7a1.40 1.40 0 1 0 2.80 0a1.40 1.40 0 1 0 -2.80 0M366.9 98.0a1.40 1.40 0 1 0 2.80 0a1.40 1.40 0 1 0 -2.80 0M367.8 98.3a1.40 1.40 0 1 0 2.80 0a1.40 1.40 0 1 0 -2.80 0M368.6 98.2a1.40 1.40 0 1 0 2.80 0a1.40 1.40 0 1 0 -2.80 0M369.7 98.0a1.40 1.40 0 1 0 2.80 0a1.40 1.40 0 1 0 -2.80 0M371.0 97.7a1.40 1.40 0 1 0 2.80 0a1.40 1.40 0 1 0 -2.80 0M372.0 97.9a1.40 1.40 0 1 0 2.80 0a1.40 1.40 0 1 0 -2.80 0M372.7 98.1a1.40 1.40 0 1 0 2.80 0a1.40 1.40 0 1 0 -2.80 0M364.9 99.1a1.40 1.40 0 1 0 2.80 0a1.40 1.40 0 1 0 -2.80 0M365.5 99.0a1.40 1.40 0 1 0 2.80 0a1.40 1.40 0 1 0 -2.80 0M367.6 99.1a1.40 1.40 0 1 0 2.80 0a1.40 1.40 0 1 0 -2.80 0M368.5 98.7a1.40 1.40 0 1 0 2.80 0a1.40 1.40 0 1 0 -2.80 0M370.1 99.2a1.40 1.40 0 1 0 2.80 0a1.40 1.40 0 1 0 -2.80 0M371.1 99.2a1.40 1.40 0 1 0 2.80 0a1.40 1.40 0 1 0 -2.80 0M365.1 100.3a1.40 1.40 0 1 0 2.80 0a1.40 1.40 0 1 0 -2.80 0M365.9 99.9a1.40 1.40 0 1 0 2.80 0a1.40 1.40 0 1 0 -2.80 0M366.7 99.8a1.40 1.40 0 1 0 2.80 0a1.40 1.40 0 1 0 -2.80 0M367.9 100.1a1.40 1.40 0 1 0 2.80 0a1.40 1.40 0 1 0 -2.80 0M369.6 99.7a1.40 1.40 0 1 0 2.80 0a1.40 1.40 0 1 0 -2.80 0M371.1 100.0a1.40 1.40 0 1 0 2.80 0a1.40 1.40 0 1 0 -2.80 0M371.6 99.9a1.40 1.40 0 1 0 2.80 0a1.40 1.40 0 1 0 -2.80 0M365.0 101.1a1.40 1.40 0 1 0 2.80 0a1.40 1.40 0 1 0 -2.80 0M365.5 100.9a1.40 1.40 0 1 0 2.80 0a1.40 1.40 0 1 0 -2.80 0M367.6 101.3a1.40 1.40 0 1 0 2.80 0a1.40 1.40 0 1 0 -2.80 0M368.9 101.0a1.40 1.40 0 1 0 2.80 0a1.40 1.40 0 1 0 -2.80 0M369.7 100.8a1.40 1.40 0 1 0 2.80 0a1.40 1.40 0 1 0 -2.80 0M370.6 101.1a1.40 1.40 0 1 0 2.80 0a1.40 1.40 0 1 0 -2.80 0M371.5 101.0a1.40 1.40 0 1 0 2.80 0a1.40 1.40 0 1 0 -2.80 0M373.9 101.2a1.40 1.40 0 1 0 2.80 0a1.40 1.40 0 1 0 -2.80 0M364.5 102.0a1.40 1.40 0 1 0 2.80 0a1.40 1.40 0 1 0 -2.80 0M365.5 101.7a1.40 1.40 0 1 0 2.80 0a1.40 1.40 0 1 0 -2.80 0M366.8 101.8a1.40 1.40 0 1 0 2.80 0a1.40 1.40 0 1 0 -2.80 0M367.5 102.3a1.40 1.40 0 1 0 2.80 0a1.40 1.40 0 1 0 -2.80 0M370.6 102.3a1.40 1.40 0 1 0 2.80 0a1.40 1.40 0 1 0 -2.80 0M371.5 102.1a1.40 1.40 0 1 0 2.80 0a1.40 1.40 0 1 0 -2.80 0M367.0 103.3a1.40 1.40 0 1 0 2.80 0a1.40 1.40 0 1 0 -2.80 0M370.0 103.1a1.40 1.40 0 1 0 2.80 0a1.40 1.40 0 1 0 -2.80 0M370.8 103.3a1.40 1.40 0 1 0 2.80 0a1.40 1.40 0 1 0 -2.80 0M371.5 103.0a1.40 1.40 0 1 0 2.80 0a1.40 1.40 0 1 0 -2.80 0M373.8 103.3a1.40 1.40 0 1 0 2.80 0a1.40 1.40 0 1 0 -2.80 0M374.6 103.1a1.40 1.40 0 1 0 2.80 0a1.40 1.40 0 1 0 -2.80 0M377.1 103.0a1.40 1.40 0 1 0 2.80 0a1.40 1.40 0 1 0 -2.80 0M364.7 103.9a1.40 1.40 0 1 0 2.80 0a1.40 1.40 0 1 0 -2.80 0M365.9 104.2a1.40 1.40 0 1 0 2.80 0a1.40 1.40 0 1 0 -2.80 0M367.1 103.7a1.40 1.40 0 1 0 2.80 0a1.40 1.40 0 1 0 -2.80 0M367.7 104.2a1.40 1.40 0 1 0 2.80 0a1.40 1.40 0 1 0 -2.80 0M369.1 104.3a1.40 1.40 0 1 0 2.80 0a1.40 1.40 0 1 0 -2.80 0M369.9 104.2a1.40 1.40 0 1 0 2.80 0a1.40 1.40 0 1 0 -2.80 0M370.9 104.2a1.40 1.40 0 1 0 2.80 0a1.40 1.40 0 1 0 -2.80 0M372.5 104.1a1.40 1.40 0 1 0 2.80 0a1.40 1.40 0 1 0 -2.80 0M375.0 104.2a1.40 1.40 0 1 0 2.80 0a1.40 1.40 0 1 0 -2.80 0M364.9 105.1a1.40 1.40 0 1 0 2.80 0a1.40 1.40 0 1 0 -2.80 0M366.1 104.8a1.40 1.40 0 1 0 2.80 0a1.40 1.40 0 1 0 -2.80 0M368.9 105.0a1.40 1.40 0 1 0 2.80 0a1.40 1.40 0 1 0 -2.80 0M370.7 104.8a1.40 1.40 0 1 0 2.80 0a1.40 1.40 0 1 0 -2.80 0M366.0 105.7a1.40 1.40 0 1 0 2.80 0a1.40 1.40 0 1 0 -2.80 0M367.1 105.9a1.40 1.40 0 1 0 2.80 0a1.40 1.40 0 1 0 -2.80 0M367.7 105.7a1.40 1.40 0 1 0 2.80 0a1.40 1.40 0 1 0 -2.80 0M370.0 105.7a1.40 1.40 0 1 0 2.80 0a1.40 1.40 0 1 0 -2.80 0M370.6 106.2a1.40 1.40 0 1 0 2.80 0a1.40 1.40 0 1 0 -2.80 0M371.4 105.9a1.40 1.40 0 1 0 2.80 0a1.40 1.40 0 1 0 -2.80 0M366.9 106.9a1.40 1.40 0 1 0 2.80 0a1.40 1.40 0 1 0 -2.80 0M367.9 106.7a1.40 1.40 0 1 0 2.80 0a1.40 1.40 0 1 0 -2.80 0M368.7 107.0a1.40 1.40 0 1 0 2.80 0a1.40 1.40 0 1 0 -2.80 0M369.9 106.9a1.40 1.40 0 1 0 2.80 0a1.40 1.40 0 1 0 -2.80 0M371.0 107.1a1.40 1.40 0 1 0 2.80 0a1.40 1.40 0 1 0 -2.80 0M371.5 106.8a1.40 1.40 0 1 0 2.80 0a1.40 1.40 0 1 0 -2.80 0M366.7 108.2a1.40 1.40 0 1 0 2.80 0a1.40 1.40 0 1 0 -2.80 0M368.1 108.0a1.40 1.40 0 1 0 2.80 0a1.40 1.40 0 1 0 -2.80 0M368.9 108.1a1.40 1.40 0 1 0 2.80 0a1.40 1.40 0 1 0 -2.80 0M369.8 107.9a1.40 1.40 0 1 0 2.80 0a1.40 1.40 0 1 0 -2.80 0M371.0 107.8a1.40 1.40 0 1 0 2.80 0a1.40 1.40 0 1 0 -2.80 0M371.6 108.3a1.40 1.40 0 1 0 2.80 0a1.40 1.40 0 1 0 -2.80 0M372.7 108.3a1.40 1.40 0 1 0 2.80 0a1.40 1.40 0 1 0 -2.80 0M365.5 108.9a1.40 1.40 0 1 0 2.80 0a1.40 1.40 0 1 0 -2.80 0M366.7 109.0a1.40 1.40 0 1 0 2.80 0a1.40 1.40 0 1 0 -2.80 0M368.1 109.0a1.40 1.40 0 1 0 2.80 0a1.40 1.40 0 1 0 -2.80 0M368.5 109.1a1.40 1.40 0 1 0 2.80 0a1.40 1.40 0 1 0 -2.80 0M369.7 109.0a1.40 1.40 0 1 0 2.80 0a1.40 1.40 0 1 0 -2.80 0M370.9 109.1a1.40 1.40 0 1 0 2.80 0a1.40 1.40 0 1 0 -2.80 0M371.8 108.8a1.40 1.40 0 1 0 2.80 0a1.40 1.40 0 1 0 -2.80 0M372.7 109.2a1.40 1.40 0 1 0 2.80 0a1.40 1.40 0 1 0 -2.80 0M374.8 109.0a1.40 1.40 0 1 0 2.80 0a1.40 1.40 0 1 0 -2.80 0M364.5 109.9a1.40 1.40 0 1 0 2.80 0a1.40 1.40 0 1 0 -2.80 0M365.6 110.3a1.40 1.40 0 1 0 2.80 0a1.40 1.40 0 1 0 -2.80 0M367.1 109.7a1.40 1.40 0 1 0 2.80 0a1.40 1.40 0 1 0 -2.80 0M367.6 110.1a1.40 1.40 0 1 0 2.80 0a1.40 1.40 0 1 0 -2.80 0M368.8 110.3a1.40 1.40 0 1 0 2.80 0a1.40 1.40 0 1 0 -2.80 0M369.7 110.2a1.40 1.40 0 1 0 2.80 0a1.40 1.40 0 1 0 -2.80 0M370.6 110.3a1.40 1.40 0 1 0 2.80 0a1.40 1.40 0 1 0 -2.80 0M371.5 110.0a1.40 1.40 0 1 0 2.80 0a1.40 1.40 0 1 0 -2.80 0M366.8 110.9a1.40 1.40 0 1 0 2.80 0a1.40 1.40 0 1 0 -2.80 0M367.7 111.2a1.40 1.40 0 1 0 2.80 0a1.40 1.40 0 1 0 -2.80 0M369.1 111.2a1.40 1.40 0 1 0 2.80 0a1.40 1.40 0 1 0 -2.80 0M369.8 110.9a1.40 1.40 0 1 0 2.80 0a1.40 1.40 0 1 0 -2.80 0M373.0 111.1a1.40 1.40 0 1 0 2.80 0a1.40 1.40 0 1 0 -2.80 0M373.9 110.9a1.40 1.40 0 1 0 2.80 0a1.40 1.40 0 1 0 -2.80 0M374.7 111.1a1.40 1.40 0 1 0 2.80 0a1.40 1.40 0 1 0 -2.80 0M364.7 112.2a1.40 1.40 0 1 0 2.80 0a1.40 1.40 0 1 0 -2.80 0M365.5 112.0a1.40 1.40 0 1 0 2.80 0a1.40 1.40 0 1 0 -2.80 0M366.8 111.8a1.40 1.40 0 1 0 2.80 0a1.40 1.40 0 1 0 -2.80 0M367.6 111.8a1.40 1.40 0 1 0 2.80 0a1.40 1.40 0 1 0 -2.80 0M369.0 112.1a1.40 1.40 0 1 0 2.80 0a1.40 1.40 0 1 0 -2.80 0M369.9 111.9a1.40 1.40 0 1 0 2.80 0a1.40 1.40 0 1 0 -2.80 0M370.8 111.8a1.40 1.40 0 1 0 2.80 0a1.40 1.40 0 1 0 -2.80 0M372.0 112.3a1.40 1.40 0 1 0 2.80 0a1.40 1.40 0 1 0 -2.80 0M373.0 111.8a1.40 1.40 0 1 0 2.80 0a1.40 1.40 0 1 0 -2.80 0M373.8 111.9a1.40 1.40 0 1 0 2.80 0a1.40 1.40 0 1 0 -2.80 0M374.8 112.0a1.40 1.40 0 1 0 2.80 0a1.40 1.40 0 1 0 -2.80 0M375.7 112.1a1.40 1.40 0 1 0 2.80 0a1.40 1.40 0 1 0 -2.80 0M364.9 113.2a1.40 1.40 0 1 0 2.80 0a1.40 1.40 0 1 0 -2.80 0M365.8 112.7a1.40 1.40 0 1 0 2.80 0a1.40 1.40 0 1 0 -2.80 0M366.7 113.1a1.40 1.40 0 1 0 2.80 0a1.40 1.40 0 1 0 -2.80 0M368.1 112.9a1.40 1.40 0 1 0 2.80 0a1.40 1.40 0 1 0 -2.80 0M368.7 113.3a1.40 1.40 0 1 0 2.80 0a1.40 1.40 0 1 0 -2.80 0M369.6 113.1a1.40 1.40 0 1 0 2.80 0a1.40 1.40 0 1 0 -2.80 0M370.6 112.7a1.40 1.40 0 1 0 2.80 0a1.40 1.40 0 1 0 -2.80 0M372.8 112.8a1.40 1.40 0 1 0 2.80 0a1.40 1.40 0 1 0 -2.80 0M374.9 112.7a1.40 1.40 0 1 0 2.80 0a1.40 1.40 0 1 0 -2.80 0M365.0 114.0a1.40 1.40 0 1 0 2.80 0a1.40 1.40 0 1 0 -2.80 0M366.5 114.3a1.40 1.40 0 1 0 2.80 0a1.40 1.40 0 1 0 -2.80 0M367.4 113.8a1.40 1.40 0 1 0 2.80 0a1.40 1.40 0 1 0 -2.80 0M368.7 113.9a1.40 1.40 0 1 0 2.80 0a1.40 1.40 0 1 0 -2.80 0M369.7 114.0a1.40 1.40 0 1 0 2.80 0a1.40 1.40 0 1 0 -2.80 0M370.7 114.1a1.40 1.40 0 1 0 2.80 0a1.40 1.40 0 1 0 -2.80 0M371.9 114.0a1.40 1.40 0 1 0 2.80 0a1.40 1.40 0 1 0 -2.80 0M373.0 113.7a1.40 1.40 0 1 0 2.80 0a1.40 1.40 0 1 0 -2.80 0M364.7 114.8a1.40 1.40 0 1 0 2.80 0a1.40 1.40 0 1 0 -2.80 0M366.8 115.1a1.40 1.40 0 1 0 2.80 0a1.40 1.40 0 1 0 -2.80 0M367.7 114.7a1.40 1.40 0 1 0 2.80 0a1.40 1.40 0 1 0 -2.80 0M368.9 115.2a1.40 1.40 0 1 0 2.80 0a1.40 1.40 0 1 0 -2.80 0M370.7 115.1a1.40 1.40 0 1 0 2.80 0a1.40 1.40 0 1 0 -2.80 0M372.0 115.0a1.40 1.40 0 1 0 2.80 0a1.40 1.40 0 1 0 -2.80 0M364.9 116.2a1.40 1.40 0 1 0 2.80 0a1.40 1.40 0 1 0 -2.80 0M366.0 116.2a1.40 1.40 0 1 0 2.80 0a1.40 1.40 0 1 0 -2.80 0M366.9 116.0a1.40 1.40 0 1 0 2.80 0a1.40 1.40 0 1 0 -2.80 0M368.0 116.2a1.40 1.40 0 1 0 2.80 0a1.40 1.40 0 1 0 -2.80 0M369.9 115.7a1.40 1.40 0 1 0 2.80 0a1.40 1.40 0 1 0 -2.80 0M370.6 116.0a1.40 1.40 0 1 0 2.80 0a1.40 1.40 0 1 0 -2.80 0M371.8 116.0a1.40 1.40 0 1 0 2.80 0a1.40 1.40 0 1 0 -2.80 0M364.6 116.8a1.40 1.40 0 1 0 2.80 0a1.40 1.40 0 1 0 -2.80 0M365.6 116.9a1.40 1.40 0 1 0 2.80 0a1.40 1.40 0 1 0 -2.80 0M366.9 117.3a1.40 1.40 0 1 0 2.80 0a1.40 1.40 0 1 0 -2.80 0M367.6 117.0a1.40 1.40 0 1 0 2.80 0a1.40 1.40 0 1 0 -2.80 0M368.8 116.7a1.40 1.40 0 1 0 2.80 0a1.40 1.40 0 1 0 -2.80 0M369.8 116.9a1.40 1.40 0 1 0 2.80 0a1.40 1.40 0 1 0 -2.80 0M371.4 116.7a1.40 1.40 0 1 0 2.80 0a1.40 1.40 0 1 0 -2.80 0M372.9 117.2a1.40 1.40 0 1 0 2.80 0a1.40 1.40 0 1 0 -2.80 0M374.0 116.8a1.40 1.40 0 1 0 2.80 0a1.40 1.40 0 1 0 -2.80 0M374.8 117.0a1.40 1.40 0 1 0 2.80 0a1.40 1.40 0 1 0 -2.80 0M365.0 118.1a1.40 1.40 0 1 0 2.80 0a1.40 1.40 0 1 0 -2.80 0M365.8 117.8a1.40 1.40 0 1 0 2.80 0a1.40 1.40 0 1 0 -2.80 0M367.0 117.7a1.40 1.40 0 1 0 2.80 0a1.40 1.40 0 1 0 -2.80 0M367.6 117.8a1.40 1.40 0 1 0 2.80 0a1.40 1.40 0 1 0 -2.80 0M368.8 117.7a1.40 1.40 0 1 0 2.80 0a1.40 1.40 0 1 0 -2.80 0M370.0 117.7a1.40 1.40 0 1 0 2.80 0a1.40 1.40 0 1 0 -2.80 0M370.8 118.3a1.40 1.40 0 1 0 2.80 0a1.40 1.40 0 1 0 -2.80 0M371.7 117.9a1.40 1.40 0 1 0 2.80 0a1.40 1.40 0 1 0 -2.80 0M373.0 118.1a1.40 1.40 0 1 0 2.80 0a1.40 1.40 0 1 0 -2.80 0M373.7 118.3a1.40 1.40 0 1 0 2.80 0a1.40 1.40 0 1 0 -2.80 0M374.7 117.9a1.40 1.40 0 1 0 2.80 0a1.40 1.40 0 1 0 -2.80 0M365.4 119.0a1.40 1.40 0 1 0 2.80 0a1.40 1.40 0 1 0 -2.80 0M366.8 118.8a1.40 1.40 0 1 0 2.80 0a1.40 1.40 0 1 0 -2.80 0M368.9 118.8a1.40 1.40 0 1 0 2.80 0a1.40 1.40 0 1 0 -2.80 0M370.7 119.0a1.40 1.40 0 1 0 2.80 0a1.40 1.40 0 1 0 -2.80 0M372.7 118.9a1.40 1.40 0 1 0 2.80 0a1.40 1.40 0 1 0 -2.80 0M364.7 119.8a1.40 1.40 0 1 0 2.80 0a1.40 1.40 0 1 0 -2.80 0M365.6 119.7a1.40 1.40 0 1 0 2.80 0a1.40 1.40 0 1 0 -2.80 0M366.4 120.3a1.40 1.40 0 1 0 2.80 0a1.40 1.40 0 1 0 -2.80 0M367.5 120.0a1.40 1.40 0 1 0 2.80 0a1.40 1.40 0 1 0 -2.80 0M368.9 119.9a1.40 1.40 0 1 0 2.80 0a1.40 1.40 0 1 0 -2.80 0M370.4 120.3a1.40 1.40 0 1 0 2.80 0a1.40 1.40 0 1 0 -2.80 0M371.5 120.1a1.40 1.40 0 1 0 2.80 0a1.40 1.40 0 1 0 -2.80 0M372.7 119.8a1.40 1.40 0 1 0 2.80 0a1.40 1.40 0 1 0 -2.80 0M373.8 120.2a1.40 1.40 0 1 0 2.80 0a1.40 1.40 0 1 0 -2.80 0M377.6 79.5a1.40 1.40 0 1 0 2.80 0a1.40 1.40 0 1 0 -2.80 0M387.6 97.3a1.40 1.40 0 1 0 2.80 0a1.40 1.40 0 1 0 -2.80 0M392.2 103.1a1.40 1.40 0 1 0 2.80 0a1.40 1.40 0 1 0 -2.80 0M380.4 100.9a1.40 1.40 0 1 0 2.80 0a1.40 1.40 0 1 0 -2.80 0M375.6 110.0a1.40 1.40 0 1 0 2.80 0a1.40 1.40 0 1 0 -2.80 0M376.6 116.0a1.40 1.40 0 1 0 2.80 0a1.40 1.40 0 1 0 -2.80 0M378.6 118.0a1.40 1.40 0 1 0 2.80 0a1.40 1.40 0 1 0 -2.80 0M375.6 90.0a1.40 1.40 0 1 0 2.80 0a1.40 1.40 0 1 0 -2.80 0M599.5 42.4a1.60 1.60 0 1 0 3.20 0a1.60 1.60 0 1 0 -3.20 0M600.3 42.3a1.60 1.60 0 1 0 3.20 0a1.60 1.60 0 1 0 -3.20 0M601.1 42.2a1.60 1.60 0 1 0 3.20 0a1.60 1.60 0 1 0 -3.20 0M601.9 42.1a1.60 1.60 0 1 0 3.20 0a1.60 1.60 0 1 0 -3.20 0M602.7 42.4a1.60 1.60 0 1 0 3.20 0a1.60 1.60 0 1 0 -3.20 0M603.5 42.6a1.60 1.60 0 1 0 3.20 0a1.60 1.60 0 1 0 -3.20 0M604.3 42.3a1.60 1.60 0 1 0 3.20 0a1.60 1.60 0 1 0 -3.20 0M605.1 42.8a1.60 1.60 0 1 0 3.20 0a1.60 1.60 0 1 0 -3.20 0M612.6 42.4a1.40 1.40 0 1 0 2.80 0a1.40 1.40 0 1 0 -2.80 0M628.1 42.4a1.40 1.40 0 1 0 2.80 0a1.40 1.40 0 1 0 -2.80 0M599.5 58.9a1.60 1.60 0 1 0 3.20 0a1.60 1.60 0 1 0 -3.20 0M600.3 59.1a1.60 1.60 0 1 0 3.20 0a1.60 1.60 0 1 0 -3.20 0M601.1 58.6a1.60 1.60 0 1 0 3.20 0a1.60 1.60 0 1 0 -3.20 0M600.4 74.0a1.60 1.60 0 1 0 3.20 0a1.60 1.60 0 1 0 -3.20 0M601.2 75.0a1.50 1.50 0 1 0 3.00 0a1.50 1.50 0 1 0 -3.00 0M601.2 80.0a1.50 1.50 0 1 0 3.00 0a1.50 1.50 0 1 0 -3.00 0M602.1 103.0a1.50 1.50 0 1 0 3.00 0a1.50 1.50 0 1 0 -3.00 0M607.2 110.4a1.50 1.50 0 1 0 3.00 0a1.50 1.50 0 1 0 -3.00 0M602.5 106.0a1.50 1.50 0 1 0 3.00 0a1.50 1.50 0 1 0 -3.00 0M604.5 108.0a1.50 1.50 0 1 0 3.00 0a1.50 1.50 0 1 0 -3.00 0M601.5 112.0a1.50 1.50 0 1 0 3.00 0a1.50 1.50 0 1 0 -3.00 0M603.5 115.0a1.50 1.50 0 1 0 3.00 0a1.50 1.50 0 1 0 -3.00 0M601.5 118.0a1.50 1.50 0 1 0 3.00 0a1.50 1.50 0 1 0 -3.00 0M602.5 100.0a1.50 1.50 0 1 0 3.00 0a1.50 1.50 0 1 0 -3.00 0M601.0 79.0a1.50 1.50 0 1 0 3.00 0a1.50 1.50 0 1 0 -3.00 0M604.5 112.0a1.50 1.50 0 1 0 3.00 0a1.50 1.50 0 1 0 -3.00 0M601.0 109.0a1.50 1.50 0 1 0 3.00 0a1.50 1.50 0 1 0 -3.00 0M604.0 104.0a1.50 1.50 0 1 0 3.00 0a1.50 1.50 0 1 0 -3.00 0M605.5 110.0a1.50 1.50 0 1 0 3.00 0a1.50 1.50 0 1 0 -3.00 0M603.0 113.0a1.50 1.50 0 1 0 3.00 0a1.50 1.50 0 1 0 -3.00 0M605.0 116.0a1.50 1.50 0 1 0 3.00 0a1.50 1.50 0 1 0 -3.00 0M602.0 115.5a1.50 1.50 0 1 0 3.00 0a1.50 1.50 0 1 0 -3.00 0M603.5 118.5a1.50 1.50 0 1 0 3.00 0a1.50 1.50 0 1 0 -3.00 0"/>
<path d="M127.0 121.2L130.1 121.2L128.3 184.5L127.0 184.5Z" fill="#fff"/>
<path d="M362.1 121.2L364.0 121.2L363.0 165.0L362.1 165.0Z" fill="#fff"/>
<path d="M596.4 119.0L598.4 119.0L597.5 172.4L596.4 172.4Z" fill="#fff"/>
<path fill="#000" d="M127.2 154.5a1.00 1.00 0 1 0 2.00 0a1.00 1.00 0 1 0 -2.00 0M128.0 154.8a1.00 1.00 0 1 0 2.00 0a1.00 1.00 0 1 0 -2.00 0M127.0 174.5a1.00 1.00 0 1 0 2.00 0a1.00 1.00 0 1 0 -2.00 0M127.3 178.5a1.00 1.00 0 1 0 2.00 0a1.00 1.00 0 1 0 -2.00 0M127.0 182.0a1.00 1.00 0 1 0 2.00 0a1.00 1.00 0 1 0 -2.00 0"/>
<rect x="54.0" y="35.6" width="149.2" height="177.4" fill="none" stroke="#404040" stroke-width="1.3"/>
<line x1="46.5" y1="207.30" x2="54.0" y2="207.30" stroke="#404040" stroke-width="1.2"/>
<text transform="translate(36.5 207.70) rotate(-90)" text-anchor="middle" class="tk">0.0</text>
<line x1="46.5" y1="173.90" x2="54.0" y2="173.90" stroke="#404040" stroke-width="1.2"/>
<text transform="translate(36.5 174.30) rotate(-90)" text-anchor="middle" class="tk">0.5</text>
<line x1="46.5" y1="140.45" x2="54.0" y2="140.45" stroke="#404040" stroke-width="1.2"/>
<text transform="translate(36.5 140.85) rotate(-90)" text-anchor="middle" class="tk">1.0</text>
<line x1="46.5" y1="107.00" x2="54.0" y2="107.00" stroke="#404040" stroke-width="1.2"/>
<text transform="translate(36.5 107.40) rotate(-90)" text-anchor="middle" class="tk">1.5</text>
<line x1="46.5" y1="73.60" x2="54.0" y2="73.60" stroke="#404040" stroke-width="1.2"/>
<text transform="translate(36.5 74.00) rotate(-90)" text-anchor="middle" class="tk">2.0</text>
<line x1="46.5" y1="40.20" x2="54.0" y2="40.20" stroke="#404040" stroke-width="1.2"/>
<text transform="translate(36.5 40.60) rotate(-90)" text-anchor="middle" class="tk">2.5</text>
<line x1="59.50" y1="213.0" x2="59.50" y2="221.0" stroke="#404040" stroke-width="1.2"/>
<text x="59.50" y="239.2" text-anchor="middle" class="tk">-10</text>
<line x1="94.00" y1="213.0" x2="94.00" y2="221.0" stroke="#404040" stroke-width="1.2"/>
<text x="94.00" y="239.2" text-anchor="middle" class="tk">-5</text>
<line x1="128.50" y1="213.0" x2="128.50" y2="221.0" stroke="#404040" stroke-width="1.2"/>
<text x="128.50" y="239.2" text-anchor="middle" class="tk">0</text>
<line x1="163.00" y1="213.0" x2="163.00" y2="221.0" stroke="#404040" stroke-width="1.2"/>
<text x="163.00" y="239.2" text-anchor="middle" class="tk">5</text>
<line x1="197.50" y1="213.0" x2="197.50" y2="221.0" stroke="#404040" stroke-width="1.2"/>
<text x="197.50" y="239.2" text-anchor="middle" class="tk">10</text>
<text x="128.0" y="14.3" text-anchor="middle" class="tt">CO vs E</text>
<text x="130.6" y="268.2" text-anchor="middle" class="lb">log2 FC</text>
<text transform="translate(16.3 134.1) rotate(-90) scale(1 1.2)" text-anchor="middle" class="lb yl">-log10 (<tspan font-style="italic">q</tspan> value)</text>
<rect x="288.4" y="35.6" width="149.2" height="177.4" fill="none" stroke="#404040" stroke-width="1.3"/>
<line x1="280.9" y1="207.30" x2="288.4" y2="207.30" stroke="#404040" stroke-width="1.2"/>
<text transform="translate(271.7 207.70) rotate(-90)" text-anchor="middle" class="tk">0.0</text>
<line x1="280.9" y1="173.90" x2="288.4" y2="173.90" stroke="#404040" stroke-width="1.2"/>
<text transform="translate(271.7 174.30) rotate(-90)" text-anchor="middle" class="tk">0.5</text>
<line x1="280.9" y1="140.45" x2="288.4" y2="140.45" stroke="#404040" stroke-width="1.2"/>
<text transform="translate(271.7 140.85) rotate(-90)" text-anchor="middle" class="tk">1.0</text>
<line x1="280.9" y1="107.00" x2="288.4" y2="107.00" stroke="#404040" stroke-width="1.2"/>
<text transform="translate(271.7 107.40) rotate(-90)" text-anchor="middle" class="tk">1.5</text>
<line x1="280.9" y1="73.60" x2="288.4" y2="73.60" stroke="#404040" stroke-width="1.2"/>
<text transform="translate(271.7 74.00) rotate(-90)" text-anchor="middle" class="tk">2.0</text>
<line x1="280.9" y1="40.20" x2="288.4" y2="40.20" stroke="#404040" stroke-width="1.2"/>
<text transform="translate(271.7 40.60) rotate(-90)" text-anchor="middle" class="tk">2.5</text>
<line x1="294.00" y1="213.0" x2="294.00" y2="221.0" stroke="#404040" stroke-width="1.2"/>
<text x="294.00" y="239.2" text-anchor="middle" class="tk">-10</text>
<line x1="328.50" y1="213.0" x2="328.50" y2="221.0" stroke="#404040" stroke-width="1.2"/>
<text x="328.50" y="239.2" text-anchor="middle" class="tk">-5</text>
<line x1="363.00" y1="213.0" x2="363.00" y2="221.0" stroke="#404040" stroke-width="1.2"/>
<text x="363.00" y="239.2" text-anchor="middle" class="tk">0</text>
<line x1="397.50" y1="213.0" x2="397.50" y2="221.0" stroke="#404040" stroke-width="1.2"/>
<text x="397.50" y="239.2" text-anchor="middle" class="tk">5</text>
<line x1="432.00" y1="213.0" x2="432.00" y2="221.0" stroke="#404040" stroke-width="1.2"/>
<text x="432.00" y="239.2" text-anchor="middle" class="tk">10</text>
<text x="366.9" y="14.3" text-anchor="middle" class="tt">CO vs PH</text>
<text x="365.6" y="268.2" text-anchor="middle" class="lb">log2 FC</text>
<text transform="translate(247.9 135.8) rotate(-90) scale(1 1.2)" text-anchor="middle" class="lb yl">-log10 (<tspan font-style="italic">q</tspan> value)</text>
<rect x="522.6" y="35.6" width="149.6" height="177.4" fill="none" stroke="#404040" stroke-width="1.3"/>
<line x1="515.1" y1="207.30" x2="522.6" y2="207.30" stroke="#404040" stroke-width="1.2"/>
<text transform="translate(506.3 207.70) rotate(-90)" text-anchor="middle" class="tk">0.0</text>
<line x1="515.1" y1="173.90" x2="522.6" y2="173.90" stroke="#404040" stroke-width="1.2"/>
<text transform="translate(506.3 174.30) rotate(-90)" text-anchor="middle" class="tk">0.5</text>
<line x1="515.1" y1="140.45" x2="522.6" y2="140.45" stroke="#404040" stroke-width="1.2"/>
<text transform="translate(506.3 140.85) rotate(-90)" text-anchor="middle" class="tk">1.0</text>
<line x1="515.1" y1="107.00" x2="522.6" y2="107.00" stroke="#404040" stroke-width="1.2"/>
<text transform="translate(506.3 107.40) rotate(-90)" text-anchor="middle" class="tk">1.5</text>
<line x1="515.1" y1="73.60" x2="522.6" y2="73.60" stroke="#404040" stroke-width="1.2"/>
<text transform="translate(506.3 74.00) rotate(-90)" text-anchor="middle" class="tk">2.0</text>
<line x1="515.1" y1="40.20" x2="522.6" y2="40.20" stroke="#404040" stroke-width="1.2"/>
<text transform="translate(506.3 40.60) rotate(-90)" text-anchor="middle" class="tk">2.5</text>
<line x1="528.30" y1="213.0" x2="528.30" y2="221.0" stroke="#404040" stroke-width="1.2"/>
<text x="528.30" y="239.2" text-anchor="middle" class="tk">-10</text>
<line x1="562.80" y1="213.0" x2="562.80" y2="221.0" stroke="#404040" stroke-width="1.2"/>
<text x="562.80" y="239.2" text-anchor="middle" class="tk">-5</text>
<line x1="597.30" y1="213.0" x2="597.30" y2="221.0" stroke="#404040" stroke-width="1.2"/>
<text x="597.30" y="239.2" text-anchor="middle" class="tk">0</text>
<line x1="631.80" y1="213.0" x2="631.80" y2="221.0" stroke="#404040" stroke-width="1.2"/>
<text x="631.80" y="239.2" text-anchor="middle" class="tk">5</text>
<line x1="666.30" y1="213.0" x2="666.30" y2="221.0" stroke="#404040" stroke-width="1.2"/>
<text x="666.30" y="239.2" text-anchor="middle" class="tk">10</text>
<text x="598.3" y="14.3" text-anchor="middle" class="tt">CO vs EPH</text>
<text x="597.5" y="268.2" text-anchor="middle" class="lb">log2 FC</text>
<text transform="translate(483.3 132.1) rotate(-90) scale(1 1.2)" text-anchor="middle" class="lb yl">-log10 (<tspan font-style="italic">q</tspan> value)</text>
</svg>
</body></html>
